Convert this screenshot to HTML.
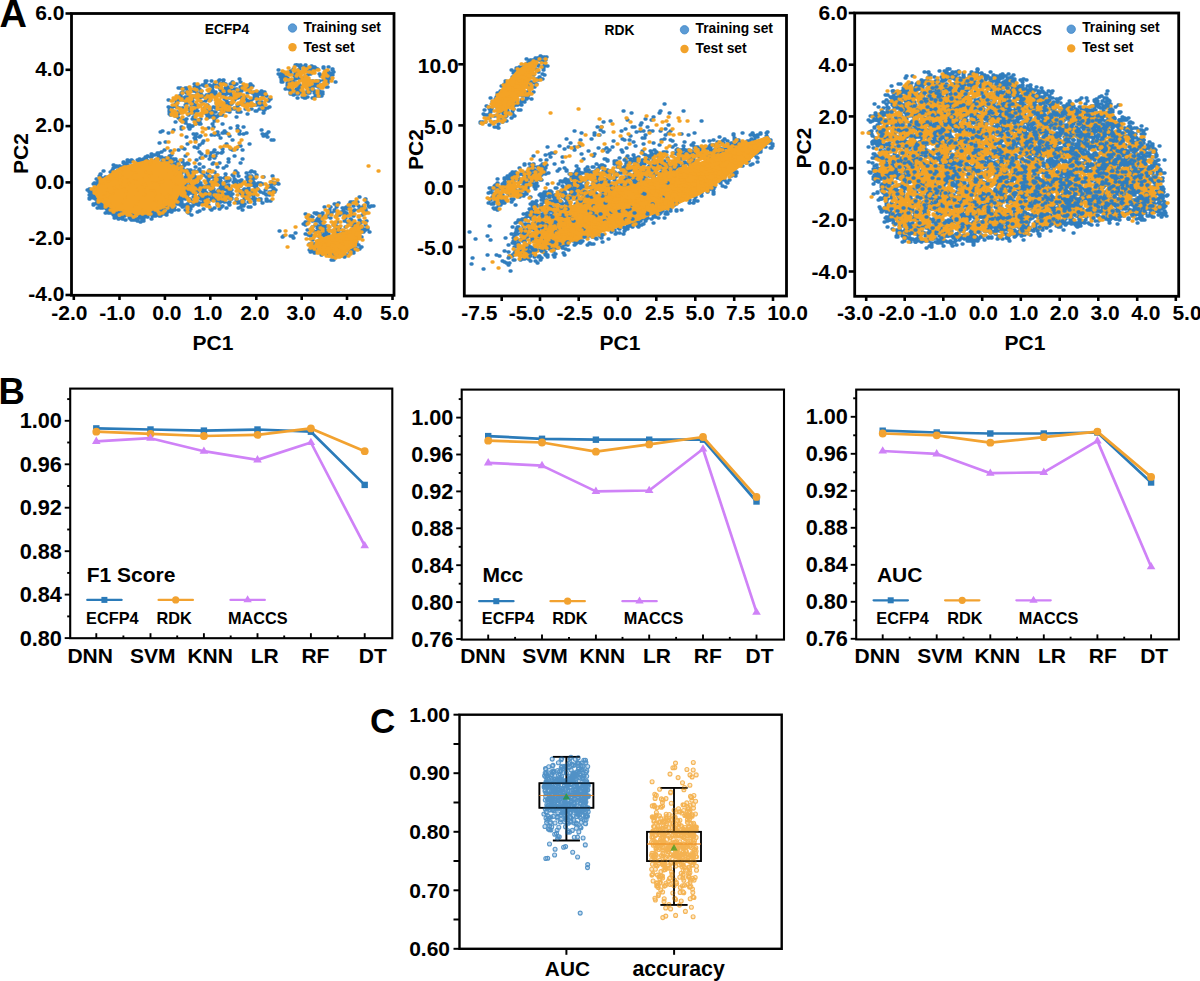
<!DOCTYPE html>
<html><head><meta charset="utf-8"><style>
html,body{margin:0;padding:0;background:#fff;width:1200px;height:981px;overflow:hidden}
svg{display:block}
text{font-family:"Liberation Sans", sans-serif;font-weight:bold;fill:#000}
</style></head><body>
<svg width="1200" height="981" viewBox="0 0 1200 981">
<text x="-0.5" y="26.5" font-size="38" text-anchor="start">A</text>
<clipPath id="ca1"><rect x="72.7" y="14.7" width="320.1" height="279.40000000000003"/></clipPath>
<g clip-path="url(#ca1)">
<path d="M120 185h1.1M153 207h1.1M121 196h1.1M162 161h1.1M164 194h1.1M136 200h1.1M121 193h1.1M143 207h1.1M168 201h1.1M134 220h1.1M161 209h1.1M165 179h1.1M175 192h1.1M123 214h1.1M164 183h1.1M135 166h1.1M95 195h1.1M123 172h1.1M126 175h1.1M129 180h1.1M122 214h1.1M162 176h1.1M122 167h1.1M120 196h1.1M167 167h1.1M113 183h1.1M168 198h1.1M136 198h1.1M110 203h1.1M137 221h1.1M153 194h1.1M120 200h1.1M164 167h1.1M176 194h1.1M89 199h1.1M173 193h1.1M118 182h1.1M139 201h1.1M169 156h1.1M184 179h1.1M121 187h1.1M188 192h1.1M171 159h1.1M109 184h1.1M120 210h1.1M107 200h1.1M119 192h1.1M122 219h1.1M141 168h1.1M153 214h1.1M120 176h1.1M166 168h1.1M116 166h1.1M166 199h1.1M124 166h1.1M145 212h1.1M180 191h1.1M96 183h1.1M108 206h1.1M141 193h1.1M119 210h1.1M176 183h1.1M115 167h1.1M160 185h1.1M146 193h1.1M171 202h1.1M167 192h1.1M139 159h1.1M146 160h1.1M130 192h1.1M137 165h1.1M92 193h1.1M185 199h1.1M180 178h1.1M112 182h1.1M172 206h1.1M168 178h1.1M131 167h1.1M130 173h1.1M140 164h1.1M102 179h1.1M107 211h1.1M94 197h1.1M149 171h1.1M97 193h1.1M104 195h1.1M144 178h1.1M166 172h1.1M110 213h1.1M149 201h1.1M153 193h1.1M148 172h1.1M128 196h1.1M151 170h1.1M170 196h1.1M116 200h1.1M187 174h1.1M143 216h1.1M116 204h1.1M175 203h1.1M116 213h1.1M109 183h1.1M157 188h1.1M168 184h1.1M142 161h1.1M181 185h1.1M111 183h1.1M144 180h1.1M176 184h1.1M153 208h1.1M137 213h1.1M108 208h1.1M157 207h1.1M108 211h1.1M162 213h1.1M119 166h1.1M131 206h1.1M144 214h1.1M104 201h1.1M151 194h1.1M169 194h1.1M122 216h1.1M111 197h1.1M162 203h1.1M141 178h1.1M176 197h1.1M178 210h1.1M146 205h1.1M119 167h1.1M148 213h1.1M131 182h1.1M174 180h1.1M132 206h1.1M109 186h1.1M148 203h1.1M163 159h1.1M105 204h1.1M144 216h1.1M147 180h1.1M146 157h1.1M122 197h1.1M148 198h1.1M132 213h1.1M136 212h1.1M119 176h1.1M134 168h1.1M171 209h1.1M140 171h1.1M158 165h1.1M133 176h1.1M136 209h1.1M134 215h1.1M111 175h1.1M135 178h1.1M128 203h1.1M143 219h1.1M114 211h1.1M162 187h1.1M134 205h1.1M137 169h1.1M170 196h1.1M131 178h1.1M119 194h1.1M100 201h1.1M104 178h1.1M170 197h1.1M102 205h1.1M177 183h1.1M96 184h1.1M140 194h1.1M188 189h1.1M133 194h1.1M161 209h1.1M110 172h1.1M159 167h1.1M138 174h1.1M186 182h1.1M105 213h1.1M135 176h1.1M119 167h1.1M138 212h1.1M159 216h1.1M118 212h1.1M123 185h1.1M105 202h1.1M154 194h1.1M115 193h1.1M123 163h1.1M143 164h1.1M119 198h1.1M126 199h1.1M178 196h1.1M171 209h1.1M135 195h1.1M101 206h1.1M105 194h1.1M89 195h1.1M164 193h1.1M139 207h1.1M169 203h1.1M162 181h1.1M137 214h1.1M122 168h1.1M138 206h1.1M139 166h1.1M169 170h1.1M131 200h1.1M189 173h1.1M168 184h1.1M111 190h1.1M101 191h1.1M102 188h1.1M132 185h1.1M117 187h1.1M159 195h1.1M191 191h1.1M102 183h1.1M105 201h1.1M143 213h1.1M139 188h1.1M156 195h1.1M128 206h1.1M157 160h1.1M167 162h1.1M157 212h1.1M121 212h1.1M135 198h1.1M108 177h1.1M175 176h1.1M120 186h1.1M185 184h1.1M122 183h1.1M154 201h1.1M111 200h1.1M130 190h1.1M118 179h1.1M167 168h1.1M141 209h1.1M186 198h1.1M191 193h1.1M156 205h1.1M135 202h1.1M166 213h1.1M103 192h1.1M157 202h1.1M124 213h1.1M150 198h1.1M115 213h1.1M173 208h1.1M153 188h1.1M188 187h1.1M101 188h1.1M120 212h1.1M123 162h1.1M142 220h1.1M174 178h1.1M129 213h1.1M146 184h1.1M169 202h1.1M165 207h1.1M115 198h1.1M151 204h1.1M179 197h1.1M148 212h1.1M174 191h1.1M143 162h1.1M169 211h1.1M107 208h1.1M124 187h1.1M125 220h1.1M170 190h1.1M123 197h1.1M110 187h1.1M140 189h1.1M137 197h1.1M160 192h1.1M128 209h1.1M138 192h1.1M163 159h1.1M110 203h1.1M138 177h1.1M141 202h1.1M136 210h1.1M147 175h1.1M113 210h1.1M113 211h1.1M175 164h1.1M148 178h1.1M137 214h1.1M152 190h1.1M139 207h1.1M170 180h1.1M115 192h1.1M134 185h1.1M102 206h1.1M146 205h1.1M167 190h1.1M153 198h1.1M173 204h1.1M100 201h1.1M150 206h1.1M140 214h1.1M165 175h1.1M141 189h1.1M158 215h1.1M110 213h1.1M108 196h1.1M164 169h1.1M145 174h1.1M185 192h1.1M111 203h1.1M154 201h1.1M153 162h1.1M152 185h1.1M140 165h1.1M118 214h1.1M127 210h1.1M179 190h1.1M125 202h1.1M128 188h1.1M190 176h1.1M181 183h1.1M118 183h1.1M109 198h1.1M182 184h1.1M113 202h1.1M186 181h1.1M123 186h1.1M114 209h1.1M161 208h1.1M117 203h1.1M129 206h1.1M139 206h1.1M179 186h1.1M117 177h1.1M117 175h1.1M121 187h1.1M150 157h1.1M145 188h1.1M125 188h1.1M155 215h1.1M166 197h1.1M124 213h1.1M174 179h1.1M126 174h1.1M118 170h1.1M113 201h1.1M139 187h1.1M159 206h1.1M133 197h1.1M193 182h1.1M145 193h1.1M154 192h1.1M179 194h1.1M97 191h1.1M141 205h1.1M164 191h1.1M153 187h1.1M143 187h1.1M142 173h1.1M102 186h1.1M119 204h1.1M161 193h1.1M189 173h1.1M183 193h1.1M142 177h1.1M135 179h1.1M156 191h1.1M183 196h1.1M164 208h1.1M142 165h1.1M124 192h1.1M114 207h1.1M189 199h1.1M120 187h1.1M190 201h1.1M175 193h1.1M147 156h1.1M173 182h1.1M185 164h1.1M132 215h1.1M179 177h1.1M138 202h1.1M107 207h1.1M183 195h1.1M176 188h1.1M151 206h1.1M162 214h1.1M142 193h1.1M154 214h1.1M138 173h1.1M119 186h1.1M101 189h1.1M187 195h1.1M171 207h1.1M167 159h1.1M164 201h1.1M92 196h1.1M137 163h1.1M127 179h1.1M101 192h1.1M117 182h1.1M160 199h1.1M152 206h1.1M97 208h1.1M140 216h1.1M145 157h1.1M187 186h1.1M151 181h1.1M153 162h1.1M127 173h1.1M113 210h1.1M178 200h1.1M167 203h1.1M129 174h1.1M189 188h1.1M160 177h1.1M155 206h1.1M188 188h1.1M131 197h1.1M136 178h1.1M172 210h1.1M114 212h1.1M180 201h1.1M130 201h1.1M147 161h1.1M163 194h1.1M164 190h1.1M177 187h1.1M165 197h1.1M161 196h1.1M167 208h1.1M169 171h1.1M100 184h1.1M179 175h1.1M154 216h1.1M145 166h1.1M118 173h1.1M121 180h1.1M115 174h1.1M125 174h1.1M155 194h1.1M118 219h1.1M111 207h1.1M102 184h1.1M111 184h1.1M108 213h1.1M165 171h1.1M148 208h1.1M143 165h1.1M154 209h1.1M145 192h1.1M103 203h1.1M114 218h1.1M164 167h1.1M124 216h1.1M155 196h1.1M173 194h1.1M182 199h1.1M131 220h1.1M173 190h1.1M119 198h1.1M153 177h1.1M141 170h1.1M173 195h1.1M121 194h1.1M109 210h1.1M117 174h1.1M128 210h1.1M184 165h1.1M112 199h1.1M130 171h1.1M176 175h1.1M115 204h1.1M141 208h1.1M168 173h1.1M115 209h1.1M173 173h1.1M163 196h1.1M166 176h1.1M101 187h1.1M131 213h1.1M177 174h1.1M134 215h1.1M136 180h1.1M184 180h1.1M177 196h1.1M132 172h1.1M162 167h1.1M135 194h1.1M175 159h1.1M154 176h1.1M110 196h1.1M160 216h1.1M151 193h1.1M154 170h1.1M138 214h1.1M103 196h1.1M127 202h1.1M176 199h1.1M128 215h1.1M161 180h1.1M142 183h1.1M102 208h1.1M154 192h1.1M162 182h1.1M103 204h1.1M149 170h1.1M105 196h1.1M130 211h1.1M137 170h1.1M149 208h1.1M127 179h1.1M163 194h1.1M97 197h1.1M116 198h1.1M160 195h1.1M110 189h1.1M124 188h1.1M154 196h1.1M119 200h1.1M106 188h1.1M165 183h1.1M147 209h1.1M136 209h1.1M183 196h1.1M158 158h1.1M186 205h1.1M163 195h1.1M147 207h1.1M188 180h1.1M140 198h1.1M112 184h1.1M102 192h1.1M117 209h1.1M132 184h1.1M160 186h1.1M165 158h1.1M109 177h1.1M156 163h1.1M178 165h1.1M163 214h1.1M93 184h1.1M123 172h1.1M137 187h1.1M149 185h1.1M168 206h1.1M155 205h1.1M185 177h1.1M142 161h1.1M165 198h1.1M182 169h1.1M140 180h1.1M139 161h1.1M141 176h1.1M169 168h1.1M114 204h1.1M160 183h1.1M145 212h1.1M129 173h1.1M134 214h1.1M114 211h1.1M108 184h1.1M121 181h1.1M126 169h1.1M107 199h1.1M115 167h1.1M120 197h1.1M108 184h1.1M160 205h1.1M93 204h1.1M156 209h1.1M111 197h1.1M166 215h1.1M102 183h1.1M154 155h1.1M109 208h1.1M184 198h1.1M87 190h1.1M140 222h1.1M125 200h1.1M137 208h1.1M127 174h1.1M158 166h1.1M158 156h1.1M181 203h1.1M129 209h1.1M97 187h1.1M139 215h1.1M165 195h1.1M143 173h1.1M136 171h1.1M166 208h1.1M148 168h1.1M124 206h1.1M175 195h1.1M99 205h1.1M150 214h1.1M115 179h1.1M141 188h1.1M131 216h1.1M182 197h1.1M148 192h1.1M119 203h1.1M159 210h1.1M135 195h1.1M165 200h1.1M160 207h1.1M127 160h1.1M176 166h1.1M144 199h1.1M165 161h1.1M142 177h1.1M142 194h1.1M151 154h1.1M94 183h1.1M155 173h1.1M136 211h1.1M185 191h1.1M139 209h1.1M97 201h1.1M166 202h1.1M148 207h1.1M160 205h1.1M145 188h1.1M178 199h1.1M136 212h1.1M159 191h1.1M153 187h1.1M161 205h1.1M130 219h1.1M171 191h1.1M136 186h1.1M188 178h1.1M132 207h1.1M99 179h1.1M143 218h1.1M145 216h1.1M116 205h1.1M161 180h1.1M152 194h1.1M169 184h1.1M189 201h1.1M180 205h1.1M184 205h1.1M96 179h1.1M113 168h1.1M121 171h1.1M134 202h1.1M95 199h1.1M152 162h1.1M120 168h1.1M121 213h1.1M116 200h1.1M142 200h1.1M132 161h1.1M149 179h1.1M157 207h1.1M139 186h1.1M177 204h1.1M126 210h1.1M159 185h1.1M134 185h1.1M135 175h1.1M121 211h1.1M174 191h1.1M131 187h1.1M137 190h1.1M183 166h1.1M170 206h1.1M170 202h1.1M170 200h1.1M110 176h1.1M93 198h1.1M122 184h1.1M147 176h1.1M175 165h1.1M109 211h1.1M111 209h1.1M171 159h1.1M114 216h1.1M147 217h1.1M152 216h1.1M116 203h1.1M155 199h1.1M107 208h1.1M193 192h1.1M142 167h1.1M162 201h1.1M182 162h1.1M116 184h1.1M112 170h1.1M137 213h1.1M115 203h1.1M181 181h1.1M120 200h1.1M144 217h1.1M150 188h1.1M124 210h1.1M105 180h1.1M98 187h1.1M180 174h1.1M96 203h1.1M131 174h1.1M93 193h1.1M117 185h1.1M156 214h1.1M121 207h1.1M101 192h1.1M107 193h1.1M145 162h1.1M137 164h1.1M172 163h1.1M144 200h1.1M182 184h1.1M153 215h1.1M181 173h1.1M178 204h1.1M171 199h1.1M131 184h1.1M163 190h1.1M162 212h1.1M152 212h1.1M170 201h1.1M118 192h1.1M104 193h1.1M179 179h1.1M151 214h1.1M151 162h1.1M154 175h1.1M181 195h1.1M97 187h1.1M121 168h1.1M153 178h1.1M165 179h1.1M111 180h1.1M92 192h1.1M118 198h1.1M116 217h1.1M137 194h1.1M180 197h1.1M113 191h1.1M128 182h1.1M131 177h1.1M89 198h1.1M137 210h1.1M103 203h1.1M129 201h1.1M179 179h1.1M101 188h1.1M136 171h1.1M106 187h1.1M173 160h1.1M116 211h1.1M169 196h1.1M100 177h1.1M141 178h1.1M133 188h1.1M132 214h1.1M168 190h1.1M150 200h1.1M131 205h1.1M126 166h1.1M89 189h1.1M178 199h1.1M151 170h1.1M168 193h1.1M122 203h1.1M120 183h1.1M118 172h1.1M106 209h1.1M184 192h1.1M100 208h1.1M160 175h1.1M98 201h1.1M190 200h1.1M166 208h1.1M151 219h1.1M116 213h1.1M142 202h1.1M91 190h1.1M124 178h1.1M168 161h1.1M150 197h1.1M151 157h1.1M174 207h1.1M141 218h1.1M162 161h1.1M124 188h1.1M159 174h1.1M187 198h1.1M169 210h1.1M130 215h1.1M146 201h1.1M154 211h1.1M140 184h1.1M175 166h1.1M140 187h1.1M132 220h1.1M154 168h1.1M144 167h1.1M90 196h1.1M149 209h1.1M131 160h1.1M120 218h1.1M153 174h1.1M123 177h1.1M151 209h1.1M128 215h1.1M153 174h1.1M169 157h1.1M136 198h1.1M133 205h1.1M138 205h1.1M167 168h1.1M188 186h1.1M97 190h1.1M132 209h1.1M162 192h1.1M103 171h1.1M119 214h1.1M185 205h1.1M105 200h1.1M105 177h1.1M164 167h1.1M123 174h1.1M194 182h1.1M111 202h1.1M127 168h1.1M160 172h1.1M174 210h1.1M163 175h1.1M115 204h1.1M143 221h1.1M190 185h1.1M181 179h1.1M114 197h1.1M187 186h1.1M100 174h1.1M99 176h1.1M181 179h1.1M121 207h1.1M135 218h1.1M116 214h1.1M121 184h1.1M178 197h1.1M98 200h1.1M120 177h1.1M148 208h1.1M159 187h1.1M155 212h1.1M136 190h1.1M168 163h1.1M173 159h1.1M142 174h1.1M134 195h1.1M116 187h1.1M127 165h1.1M151 174h1.1M172 194h1.1M147 163h1.1M123 200h1.1M180 181h1.1M187 180h1.1M102 182h1.1M185 180h1.1M167 194h1.1M167 212h1.1M89 192h1.1M189 182h1.1M184 182h1.1M174 176h1.1M92 196h1.1M140 218h1.1M97 204h1.1M152 170h1.1M187 177h1.1M168 200h1.1M148 202h1.1M181 192h1.1M121 177h1.1M166 177h1.1M127 183h1.1M153 171h1.1M104 192h1.1M182 190h1.1M172 176h1.1M133 203h1.1M178 202h1.1M150 174h1.1M177 163h1.1M142 180h1.1M176 200h1.1M152 189h1.1M152 211h1.1M120 209h1.1M139 209h1.1M146 162h1.1M164 207h1.1M115 177h1.1M89 191h1.1M134 191h1.1M150 211h1.1M176 180h1.1M178 197h1.1M100 203h1.1M174 207h1.1M186 197h1.1M161 157h1.1M98 185h1.1M187 188h1.1M144 169h1.1M172 198h1.1M147 189h1.1M149 179h1.1M105 202h1.1M137 213h1.1M160 203h1.1M178 193h1.1M162 184h1.1M138 200h1.1M91 192h1.1M93 194h1.1M140 205h1.1M151 205h1.1M131 194h1.1M114 173h1.1M124 183h1.1M151 205h1.1M145 214h1.1M142 186h1.1M137 167h1.1M142 197h1.1M118 196h1.1M161 163h1.1M150 183h1.1M149 196h1.1M116 195h1.1M122 176h1.1M109 194h1.1M121 189h1.1M156 196h1.1M178 204h1.1M95 184h1.1M188 193h1.1M165 198h1.1M95 188h1.1M178 181h1.1M116 208h1.1M127 180h1.1M113 194h1.1M111 176h1.1M119 187h1.1M111 212h1.1M122 205h1.1M103 206h1.1M175 190h1.1M147 189h1.1M98 188h1.1M115 183h1.1M123 188h1.1M136 176h1.1M91 196h1.1M158 191h1.1M127 186h1.1M101 203h1.1M144 173h1.1M150 194h1.1M152 203h1.1M110 195h1.1M130 209h1.1M163 197h1.1M154 162h1.1M102 185h1.1M116 194h1.1M116 210h1.1M160 187h1.1M175 179h1.1M162 210h1.1M124 201h1.1M196 188h1.1M123 192h1.1M126 163h1.1M123 183h1.1M98 181h1.1M124 197h1.1M171 159h1.1M134 182h1.1M174 207h1.1M103 198h1.1M148 214h1.1M181 202h1.1M159 205h1.1M114 206h1.1M145 201h1.1M165 192h1.1M137 160h1.1M99 187h1.1M173 201h1.1M112 199h1.1M108 182h1.1M114 187h1.1M156 175h1.1M163 169h1.1M114 209h1.1M148 205h1.1M122 168h1.1M93 205h1.1M185 183h1.1M177 196h1.1M155 186h1.1M138 209h1.1M137 219h1.1M116 205h1.1M192 186h1.1M171 212h1.1M126 213h1.1M130 162h1.1M150 175h1.1M163 195h1.1M182 207h1.1M193 192h1.1M145 198h1.1M105 195h1.1M179 176h1.1M153 209h1.1M139 217h1.1M161 211h1.1M94 198h1.1M141 193h1.1M129 218h1.1M135 206h1.1M116 210h1.1M107 210h1.1M146 207h1.1M147 188h1.1M147 169h1.1M113 215h1.1M175 189h1.1M143 159h1.1M174 173h1.1M179 181h1.1M103 180h1.1M136 168h1.1M125 207h1.1M170 208h1.1M149 191h1.1M126 192h1.1M145 183h1.1M117 188h1.1M142 183h1.1M113 180h1.1M113 165h1.1M122 189h1.1M104 180h1.1M142 172h1.1M122 181h1.1M148 201h1.1M117 186h1.1M149 180h1.1M122 169h1.1M188 175h1.1M110 208h1.1M154 165h1.1M119 208h1.1M124 169h1.1M165 175h1.1M161 178h1.1M183 187h1.1M129 186h1.1M128 183h1.1M128 210h1.1M156 165h1.1M152 181h1.1M157 209h1.1M158 159h1.1M141 171h1.1M174 191h1.1M138 180h1.1M155 216h1.1M166 183h1.1M89 195h1.1M130 215h1.1M106 200h1.1M112 195h1.1M125 176h1.1M100 194h1.1M129 207h1.1M175 197h1.1M156 182h1.1M129 209h1.1M168 182h1.1M138 178h1.1M170 167h1.1M189 171h1.1M103 195h1.1M129 194h1.1M140 211h1.1M169 179h1.1M157 195h1.1M230 191h1.1M269 192h1.1M199 204h1.1M219 209h1.1M253 185h1.1M234 179h1.1M192 187h1.1M236 202h1.1M198 180h1.1M184 182h1.1M203 175h1.1M225 195h1.1M225 189h1.1M256 175h1.1M204 191h1.1M228 181h1.1M187 189h1.1M197 185h1.1M203 193h1.1M210 194h1.1M214 200h1.1M242 202h1.1M199 211h1.1M248 207h1.1M191 215h1.1M244 204h1.1M236 181h1.1M228 185h1.1M216 184h1.1M188 173h1.1M271 182h1.1M189 193h1.1M252 185h1.1M189 209h1.1M252 180h1.1M221 201h1.1M197 192h1.1M251 191h1.1M268 187h1.1M215 184h1.1M240 184h1.1M260 183h1.1M260 199h1.1M190 182h1.1M223 201h1.1M252 178h1.1M207 205h1.1M217 178h1.1M215 197h1.1M225 182h1.1M270 201h1.1M212 191h1.1M246 173h1.1M238 208h1.1M242 210h1.1M206 186h1.1M207 184h1.1M238 190h1.1M256 184h1.1M203 209h1.1M241 204h1.1M193 179h1.1M211 200h1.1M197 212h1.1M251 171h1.1M211 177h1.1M241 180h1.1M209 184h1.1M260 200h1.1M196 185h1.1M248 189h1.1M179 171h1.1M241 201h1.1M245 196h1.1M250 207h1.1M220 202h1.1M200 199h1.1M202 192h1.1M194 195h1.1M205 197h1.1M218 191h1.1M253 196h1.1M198 205h1.1M220 187h1.1M226 190h1.1M223 185h1.1M247 180h1.1M188 187h1.1M187 212h1.1M229 198h1.1M249 176h1.1M219 193h1.1M274 183h1.1M254 201h1.1M192 190h1.1M260 192h1.1M224 178h1.1M257 189h1.1M258 190h1.1M222 190h1.1M210 190h1.1M272 176h1.1M201 189h1.1M208 196h1.1M263 177h1.1M206 195h1.1M221 188h1.1M212 186h1.1M189 190h1.1M243 201h1.1M241 183h1.1M188 193h1.1M215 179h1.1M245 193h1.1M201 172h1.1M193 197h1.1M213 181h1.1M194 204h1.1M186 174h1.1M187 207h1.1M217 178h1.1M195 178h1.1M220 202h1.1M188 206h1.1M214 181h1.1M214 208h1.1M187 204h1.1M228 192h1.1M249 195h1.1M225 194h1.1M212 193h1.1M183 170h1.1M194 202h1.1M247 180h1.1M189 211h1.1M272 191h1.1M212 190h1.1M200 186h1.1M185 181h1.1M255 185h1.1M240 192h1.1M258 183h1.1M252 184h1.1M251 176h1.1M208 179h1.1M187 205h1.1M186 171h1.1M271 182h1.1M213 177h1.1M191 188h1.1M265 194h1.1M235 182h1.1M217 183h1.1M271 187h1.1M232 194h1.1M191 188h1.1M205 195h1.1M262 203h1.1M210 186h1.1M182 183h1.1M245 191h1.1M234 183h1.1M193 185h1.1M193 186h1.1M185 206h1.1M251 185h1.1M243 190h1.1M231 190h1.1M266 195h1.1M219 178h1.1M247 192h1.1M221 184h1.1M222 206h1.1M248 178h1.1M256 188h1.1M217 182h1.1M254 186h1.1M237 203h1.1M238 187h1.1M231 199h1.1M255 189h1.1M189 177h1.1M206 204h1.1M194 171h1.1M243 206h1.1M229 179h1.1M211 198h1.1M200 197h1.1M231 198h1.1M195 202h1.1M194 191h1.1M192 192h1.1M210 209h1.1M220 178h1.1M211 193h1.1M270 185h1.1M190 170h1.1M238 202h1.1M217 200h1.1M246 177h1.1M277 183h1.1M274 192h1.1M217 202h1.1M221 186h1.1M236 184h1.1M187 191h1.1M274 184h1.1M205 188h1.1M237 173h1.1M203 203h1.1M206 205h1.1M190 209h1.1M187 171h1.1M256 188h1.1M219 191h1.1M196 201h1.1M255 178h1.1M182 171h1.1M202 188h1.1M215 197h1.1M203 192h1.1M253 182h1.1M231 198h1.1M225 177h1.1M240 207h1.1M240 193h1.1M248 176h1.1M225 174h1.1M187 170h1.1M248 195h1.1M267 201h1.1M254 204h1.1M189 173h1.1M195 188h1.1M209 187h1.1M241 183h1.1M273 188h1.1M206 193h1.1M278 184h1.1M203 202h1.1M228 190h1.1M233 182h1.1M198 178h1.1M241 183h1.1M214 192h1.1M223 187h1.1M217 205h1.1M219 180h1.1M275 190h1.1M216 175h1.1M253 199h1.1M254 172h1.1M228 203h1.1M190 187h1.1M211 210h1.1M214 172h1.1M199 203h1.1M213 189h1.1M253 198h1.1M193 173h1.1M199 196h1.1M232 175h1.1M246 193h1.1M221 198h1.1M226 196h1.1M185 210h1.1M228 186h1.1M255 199h1.1M204 195h1.1M191 189h1.1M239 181h1.1M254 201h1.1M244 189h1.1M240 186h1.1M222 200h1.1M193 175h1.1M207 200h1.1M218 190h1.1M192 206h1.1M217 179h1.1M216 178h1.1M275 183h1.1M204 191h1.1M206 177h1.1M220 191h1.1M266 201h1.1M263 193h1.1M212 188h1.1M205 192h1.1M228 194h1.1M265 190h1.1M195 189h1.1M213 195h1.1M220 195h1.1M269 195h1.1M248 202h1.1M238 176h1.1M195 190h1.1M207 181h1.1M217 204h1.1M221 201h1.1M236 199h1.1M229 205h1.1M194 190h1.1M190 206h1.1M221 194h1.1M262 184h1.1M229 180h1.1M236 201h1.1M208 180h1.1M224 202h1.1M195 177h1.1M203 175h1.1M227 198h1.1M186 188h1.1M186 173h1.1M184 180h1.1M192 202h1.1M227 181h1.1M266 199h1.1M244 197h1.1M213 189h1.1M199 204h1.1M225 188h1.1M194 187h1.1M247 184h1.1M225 186h1.1M191 189h1.1M237 202h1.1M242 183h1.1M230 189h1.1M248 188h1.1M197 189h1.1M245 194h1.1M198 171h1.1M240 192h1.1M229 202h1.1M241 194h1.1M208 205h1.1M244 199h1.1M220 181h1.1M202 199h1.1M200 183h1.1M184 188h1.1M188 213h1.1M240 191h1.1M202 186h1.1M230 196h1.1M218 205h1.1M196 204h1.1M223 195h1.1M249 199h1.1M208 184h1.1M193 175h1.1M199 169h1.1M207 173h1.1M255 189h1.1M250 172h1.1M223 168h1.1M221 207h1.1M203 189h1.1M209 176h1.1M186 178h1.1M226 208h1.1M252 193h1.1M195 204h1.1M235 171h1.1M200 187h1.1M248 183h1.1M188 188h1.1M216 192h1.1M195 204h1.1M233 176h1.1M203 199h1.1M224 199h1.1M185 191h1.1M256 185h1.1M259 199h1.1M206 197h1.1M247 192h1.1M193 104h1.1M190 127h1.1M210 93h1.1M206 81h1.1M240 82h1.1M189 125h1.1M269 99h1.1M230 84h1.1M207 113h1.1M260 105h1.1M219 109h1.1M188 96h1.1M231 109h1.1M177 115h1.1M250 101h1.1M211 91h1.1M229 105h1.1M186 101h1.1M193 104h1.1M212 90h1.1M211 86h1.1M252 86h1.1M237 112h1.1M207 106h1.1M187 91h1.1M179 108h1.1M182 92h1.1M189 102h1.1M175 116h1.1M201 102h1.1M228 92h1.1M201 97h1.1M190 101h1.1M214 117h1.1M262 95h1.1M180 120h1.1M248 102h1.1M264 92h1.1M222 115h1.1M202 85h1.1M237 92h1.1M237 107h1.1M246 104h1.1M214 119h1.1M200 93h1.1M201 95h1.1M254 98h1.1M204 108h1.1M215 92h1.1M250 104h1.1M194 105h1.1M236 89h1.1M222 83h1.1M227 87h1.1M223 109h1.1M248 101h1.1M178 88h1.1M176 107h1.1M220 94h1.1M264 108h1.1M234 108h1.1M177 115h1.1M214 116h1.1M186 119h1.1M187 93h1.1M227 91h1.1M222 110h1.1M190 101h1.1M261 93h1.1M239 92h1.1M188 108h1.1M188 115h1.1M227 93h1.1M182 98h1.1M234 109h1.1M264 110h1.1M231 96h1.1M219 114h1.1M204 112h1.1M226 111h1.1M218 109h1.1M228 88h1.1M172 107h1.1M256 111h1.1M210 109h1.1M218 105h1.1M250 86h1.1M196 87h1.1M229 112h1.1M247 106h1.1M193 112h1.1M211 111h1.1M175 104h1.1M213 107h1.1M232 82h1.1M183 120h1.1M261 93h1.1M171 112h1.1M256 105h1.1M181 127h1.1M249 103h1.1M240 104h1.1M215 112h1.1M263 113h1.1M248 88h1.1M259 105h1.1M219 95h1.1M185 105h1.1M224 99h1.1M197 97h1.1M169 110h1.1M220 115h1.1M196 92h1.1M204 86h1.1M205 81h1.1M255 97h1.1M195 110h1.1M262 98h1.1M255 111h1.1M225 88h1.1M251 109h1.1M177 100h1.1M217 106h1.1M199 122h1.1M225 109h1.1M228 106h1.1M196 97h1.1M229 98h1.1M175 113h1.1M236 84h1.1M224 104h1.1M170 114h1.1M216 117h1.1M243 86h1.1M245 109h1.1M218 95h1.1M216 103h1.1M197 111h1.1M191 105h1.1M209 85h1.1M258 102h1.1M257 98h1.1M219 109h1.1M237 105h1.1M215 108h1.1M268 101h1.1M261 102h1.1M238 111h1.1M231 104h1.1M246 100h1.1M179 100h1.1M198 98h1.1M221 90h1.1M171 110h1.1M234 100h1.1M193 91h1.1M252 93h1.1M188 114h1.1M182 108h1.1M225 90h1.1M215 95h1.1M201 91h1.1M170 114h1.1M200 119h1.1M194 87h1.1M188 93h1.1M181 94h1.1M237 98h1.1M240 90h1.1M218 108h1.1M217 86h1.1M188 126h1.1M185 97h1.1M232 102h1.1M169 112h1.1M173 113h1.1M220 115h1.1M179 96h1.1M204 109h1.1M207 116h1.1M176 101h1.1M236 94h1.1M261 91h1.1M266 96h1.1M214 112h1.1M225 108h1.1M238 112h1.1M209 94h1.1M169 114h1.1M207 118h1.1M247 89h1.1M249 85h1.1M196 108h1.1M177 112h1.1M211 81h1.1M168 107h1.1M186 88h1.1M214 84h1.1M253 93h1.1M186 104h1.1M245 97h1.1M241 91h1.1M234 89h1.1M240 112h1.1M181 94h1.1M186 103h1.1M241 98h1.1M199 122h1.1M256 105h1.1M194 117h1.1M234 85h1.1M226 94h1.1M259 109h1.1M226 101h1.1M209 117h1.1M212 115h1.1M257 95h1.1M254 96h1.1M225 85h1.1M199 89h1.1M183 100h1.1M218 81h1.1M242 103h1.1M252 99h1.1M267 108h1.1M180 97h1.1M251 104h1.1M247 103h1.1M225 84h1.1M230 90h1.1M199 98h1.1M195 123h1.1M193 119h1.1M244 97h1.1M171 113h1.1M186 103h1.1M195 111h1.1M250 92h1.1M240 87h1.1M181 112h1.1M218 108h1.1M219 88h1.1M253 105h1.1M209 96h1.1M190 113h1.1M242 89h1.1M212 87h1.1M205 83h1.1M257 102h1.1M195 96h1.1M206 114h1.1M219 84h1.1M224 97h1.1M211 93h1.1M204 97h1.1M262 104h1.1M227 103h1.1M175 122h1.1M254 92h1.1M206 95h1.1M221 92h1.1M221 108h1.1M168 100h1.1M196 105h1.1M169 111h1.1M179 113h1.1M212 117h1.1M249 88h1.1M170 115h1.1M207 105h1.1M176 107h1.1M199 123h1.1M213 93h1.1M215 92h1.1M249 90h1.1M254 94h1.1M194 84h1.1M222 104h1.1M186 93h1.1M260 104h1.1M176 105h1.1M196 97h1.1M191 103h1.1M230 94h1.1M178 118h1.1M241 90h1.1M211 91h1.1M181 93h1.1M208 110h1.1M200 124h1.1M270 99h1.1M189 110h1.1M241 90h1.1M263 110h1.1M198 86h1.1M185 88h1.1M189 92h1.1M257 92h1.1M208 99h1.1M214 96h1.1M220 90h1.1M199 124h1.1M192 101h1.1M183 89h1.1M185 122h1.1M195 120h1.1M192 98h1.1M192 101h1.1M229 103h1.1M239 96h1.1M259 94h1.1M205 101h1.1M233 101h1.1M235 108h1.1M262 105h1.1M249 104h1.1M180 88h1.1M247 114h1.1M185 88h1.1M223 94h1.1M247 93h1.1M210 100h1.1M210 114h1.1M214 94h1.1M192 119h1.1M249 104h1.1M269 107h1.1M192 96h1.1M230 92h1.1M223 83h1.1M169 157h1.1M177 162h1.1M184 149h1.1M195 124h1.1M196 134h1.1M240 146h1.1M203 141h1.1M236 149h1.1M221 153h1.1M240 163h1.1M243 127h1.1M155 160h1.1M223 133h1.1M213 163h1.1M185 123h1.1M193 134h1.1M182 148h1.1M186 137h1.1M222 152h1.1M222 149h1.1M211 135h1.1M213 127h1.1M199 152h1.1M161 152h1.1M237 129h1.1M208 128h1.1M158 156h1.1M214 150h1.1M195 140h1.1M213 152h1.1M201 154h1.1M196 122h1.1M188 164h1.1M171 155h1.1M188 127h1.1M199 145h1.1M187 144h1.1M212 164h1.1M180 167h1.1M228 162h1.1M228 159h1.1M226 166h1.1M158 153h1.1M195 124h1.1M224 132h1.1M229 136h1.1M249 144h1.1M194 138h1.1M199 164h1.1M217 116h1.1M170 151h1.1M209 170h1.1M214 158h1.1M205 156h1.1M195 137h1.1M222 133h1.1M219 163h1.1M236 117h1.1M220 138h1.1M224 131h1.1M217 132h1.1M232 150h1.1M193 113h1.1M215 156h1.1M222 124h1.1M239 134h1.1M199 137h1.1M188 125h1.1M200 158h1.1M246 133h1.1M178 150h1.1M185 156h1.1M232 140h1.1M210 156h1.1M234 156h1.1M160 132h1.1M212 124h1.1M226 144h1.1M168 133h1.1M218 135h1.1M170 163h1.1M197 148h1.1M164 150h1.1M189 129h1.1M200 136h1.1M230 149h1.1M242 159h1.1M195 167h1.1M194 147h1.1M182 160h1.1M159 143h1.1M217 167h1.1M165 142h1.1M242 150h1.1M193 117h1.1M167 164h1.1M181 129h1.1M172 161h1.1M202 143h1.1M230 128h1.1M157 153h1.1M196 160h1.1M226 133h1.1M213 157h1.1M198 120h1.1M217 153h1.1M243 134h1.1M162 131h1.1M239 131h1.1M181 121h1.1M209 159h1.1M214 135h1.1M203 167h1.1M237 126h1.1M214 121h1.1M210 153h1.1M239 146h1.1M187 163h1.1M192 126h1.1M173 130h1.1M297 90h1.1M297 65h1.1M300 65h1.1M278 70h1.1M309 93h1.1M326 74h1.1M304 71h1.1M295 65h1.1M288 89h1.1M305 85h1.1M297 92h1.1M319 81h1.1M297 76h1.1M328 81h1.1M325 71h1.1M281 79h1.1M300 88h1.1M293 95h1.1M286 73h1.1M300 91h1.1M318 85h1.1M328 78h1.1M319 96h1.1M280 76h1.1M290 71h1.1M310 74h1.1M304 77h1.1M295 72h1.1M332 73h1.1M335 82h1.1M294 75h1.1M332 69h1.1M314 93h1.1M317 69h1.1M284 77h1.1M331 74h1.1M304 77h1.1M282 77h1.1M314 91h1.1M305 65h1.1M290 91h1.1M309 69h1.1M299 66h1.1M316 81h1.1M295 74h1.1M304 77h1.1M312 89h1.1M328 72h1.1M296 89h1.1M311 90h1.1M322 92h1.1M315 93h1.1M318 87h1.1M315 68h1.1M320 76h1.1M311 71h1.1M332 70h1.1M303 71h1.1M287 78h1.1M294 76h1.1M291 89h1.1M292 81h1.1M309 89h1.1M313 71h1.1M302 97h1.1M281 82h1.1M328 67h1.1M287 85h1.1M318 93h1.1M299 79h1.1M298 93h1.1M297 86h1.1M287 83h1.1M283 75h1.1M299 73h1.1M308 68h1.1M299 69h1.1M312 98h1.1M304 98h1.1M321 85h1.1M287 86h1.1M325 78h1.1M282 82h1.1M319 74h1.1M307 93h1.1M308 92h1.1M312 87h1.1M312 69h1.1M290 93h1.1M278 74h1.1M282 73h1.1M304 84h1.1M291 86h1.1M307 75h1.1M290 73h1.1M303 67h1.1M297 98h1.1M327 76h1.1M311 68h1.1M299 85h1.1M330 75h1.1M316 86h1.1M309 92h1.1M304 67h1.1M304 96h1.1M301 92h1.1M313 67h1.1M314 69h1.1M312 82h1.1M308 80h1.1M288 82h1.1M311 72h1.1M305 98h1.1M323 67h1.1M316 96h1.1M309 87h1.1M306 86h1.1M309 70h1.1M317 86h1.1M294 91h1.1M288 80h1.1M295 79h1.1M280 74h1.1M308 88h1.1M328 79h1.1M292 80h1.1M290 87h1.1M332 73h1.1M333 72h1.1M327 87h1.1M305 67h1.1M311 86h1.1M287 85h1.1M325 72h1.1M296 94h1.1M311 66h1.1M307 97h1.1M315 96h1.1M316 69h1.1M298 91h1.1M320 76h1.1M285 89h1.1M303 94h1.1M297 85h1.1M280 77h1.1M297 90h1.1M326 87h1.1M322 76h1.1M281 80h1.1M315 68h1.1M285 76h1.1M309 83h1.1M313 86h1.1M291 82h1.1M324 80h1.1M309 84h1.1M322 86h1.1M323 68h1.1M308 71h1.1M293 69h1.1M325 83h1.1M324 77h1.1M296 94h1.1M290 87h1.1M296 73h1.1M319 91h1.1M304 79h1.1M332 75h1.1M321 96h1.1M304 78h1.1M303 86h1.1M312 81h1.1M314 67h1.1M331 79h1.1M295 85h1.1M283 76h1.1M327 83h1.1M315 83h1.1M294 84h1.1M295 83h1.1M306 70h1.1M317 82h1.1M306 92h1.1M323 80h1.1M298 94h1.1M290 94h1.1M322 94h1.1M326 83h1.1M308 90h1.1M308 90h1.1M367 229h1.1M356 229h1.1M350 202h1.1M353 230h1.1M340 239h1.1M309 250h1.1M323 216h1.1M307 230h1.1M338 231h1.1M318 214h1.1M333 225h1.1M354 226h1.1M358 231h1.1M358 230h1.1M362 215h1.1M352 250h1.1M353 211h1.1M339 256h1.1M367 203h1.1M345 227h1.1M354 248h1.1M355 248h1.1M326 237h1.1M354 223h1.1M338 203h1.1M361 232h1.1M329 238h1.1M339 215h1.1M305 225h1.1M315 248h1.1M350 219h1.1M359 227h1.1M348 246h1.1M344 221h1.1M332 255h1.1M358 225h1.1M322 213h1.1M346 242h1.1M367 228h1.1M347 222h1.1M326 245h1.1M365 230h1.1M373 206h1.1M334 210h1.1M314 213h1.1M324 237h1.1M349 204h1.1M347 215h1.1M315 249h1.1M328 249h1.1M323 245h1.1M369 232h1.1M329 246h1.1M330 218h1.1M344 233h1.1M350 231h1.1M319 220h1.1M366 221h1.1M337 222h1.1M318 219h1.1M334 239h1.1M365 199h1.1M349 243h1.1M350 248h1.1M369 207h1.1M316 225h1.1M356 242h1.1M309 244h1.1M331 248h1.1M311 248h1.1M350 223h1.1M321 222h1.1M346 236h1.1M316 243h1.1M333 260h1.1M326 217h1.1M341 234h1.1M360 222h1.1M347 234h1.1M323 245h1.1M350 240h1.1M337 231h1.1M348 246h1.1M321 255h1.1M336 207h1.1M337 241h1.1M344 216h1.1M354 249h1.1M331 243h1.1M320 226h1.1M344 217h1.1M323 228h1.1M311 251h1.1M325 250h1.1M366 229h1.1M316 214h1.1M326 226h1.1M329 210h1.1M305 214h1.1M343 232h1.1M368 206h1.1M321 231h1.1M331 240h1.1M338 243h1.1M307 222h1.1M325 234h1.1M341 212h1.1M331 253h1.1M365 210h1.1M339 228h1.1M371 206h1.1M350 238h1.1M337 214h1.1M354 210h1.1M367 203h1.1M320 230h1.1M334 204h1.1M344 212h1.1M346 242h1.1M366 202h1.1M340 255h1.1M351 202h1.1M350 233h1.1M336 226h1.1M344 257h1.1M358 224h1.1M343 248h1.1M315 250h1.1M352 223h1.1M354 250h1.1M358 206h1.1M350 243h1.1M353 206h1.1M315 221h1.1M328 230h1.1M342 208h1.1M366 212h1.1M322 216h1.1M322 222h1.1M358 245h1.1M353 237h1.1M320 244h1.1M359 224h1.1M348 223h1.1M328 234h1.1M319 244h1.1M318 244h1.1M314 253h1.1M358 210h1.1M338 249h1.1M314 248h1.1M303 224h1.1M305 222h1.1M353 253h1.1M330 244h1.1M343 213h1.1M312 221h1.1M363 232h1.1M316 225h1.1M360 208h1.1M361 237h1.1M310 252h1.1M353 226h1.1M308 235h1.1M345 238h1.1M345 249h1.1M352 237h1.1M339 255h1.1M365 225h1.1M361 222h1.1M334 211h1.1M317 244h1.1M356 244h1.1M349 208h1.1M305 234h1.1M337 236h1.1M359 197h1.1M344 242h1.1M343 249h1.1M319 217h1.1M331 243h1.1M316 213h1.1M317 219h1.1M339 256h1.1M318 246h1.1M326 231h1.1M341 213h1.1M353 202h1.1M351 249h1.1M310 236h1.1M330 244h1.1M349 252h1.1M361 232h1.1M351 211h1.1M312 217h1.1M324 234h1.1M322 226h1.1M353 216h1.1M337 236h1.1M352 246h1.1M318 218h1.1M357 236h1.1M333 236h1.1M323 230h1.1M344 208h1.1M362 228h1.1M324 229h1.1M323 216h1.1M321 235h1.1M351 220h1.1M321 245h1.1M343 211h1.1M352 231h1.1M307 218h1.1M347 234h1.1M357 202h1.1M340 256h1.1M336 216h1.1M312 240h1.1M321 229h1.1M361 247h1.1M313 244h1.1M320 223h1.1M332 245h1.1M328 245h1.1M352 226h1.1M312 227h1.1M325 248h1.1M353 222h1.1M324 207h1.1M334 236h1.1M313 231h1.1M320 232h1.1M315 225h1.1M330 207h1.1M322 231h1.1M345 250h1.1M337 240h1.1M346 255h1.1M337 233h1.1M326 254h1.1M347 207h1.1M310 216h1.1M317 228h1.1M363 206h1.1M329 248h1.1M346 207h1.1M323 226h1.1M334 255h1.1M317 231h1.1M359 249h1.1M359 230h1.1M311 235h1.1M331 253h1.1M331 260h1.1M359 220h1.1M328 214h1.1M362 208h1.1M320 253h1.1M351 248h1.1M315 252h1.1M353 215h1.1M365 209h1.1M344 248h1.1M337 256h1.1M347 209h1.1M346 213h1.1M360 237h1.1M344 243h1.1M332 231h1.1M317 221h1.1M331 239h1.1M331 213h1.1M351 212h1.1M345 218h1.1M329 250h1.1M335 228h1.1M332 254h1.1M361 229h1.1M319 237h1.1M283 236h1.1M290 236h1.1M293 238h1.1M282 237h1.1M279 231h1.1M292 236h1.1M295 233h1.1M266 134h1.1M268 132h1.1M262 134h1.1M263 136h1.1M271 140h1.1M261 130h1.1M273 140h1.1M267 137h1.1M223 80h1.1M219 80h1.1M239 79h1.1M250 84h1.1" fill="none" stroke="#307dbd" stroke-width="3.3" stroke-linecap="round"/>
<path d="M92 191L103 178L120 167L146 160L168 162L180 172L183 188L176 202L157 210L135 214L113 210L99 201Z" fill="#f4a325"/>
<path d="M214 185h1.1M236 191h1.1M212 185h1.1M191 183h1.1M218 199h1.1M250 202h1.1M187 212h1.1M197 181h1.1M266 188h1.1M208 171h1.1M205 201h1.1M208 202h1.1M232 186h1.1M188 175h1.1M207 200h1.1M230 199h1.1M246 198h1.1M257 189h1.1M239 185h1.1M192 186h1.1M186 171h1.1M194 188h1.1M246 191h1.1M200 188h1.1M210 189h1.1M216 184h1.1M216 179h1.1M273 192h1.1M181 167h1.1M195 193h1.1M248 199h1.1M272 195h1.1M208 187h1.1M217 185h1.1M240 191h1.1M242 193h1.1M225 200h1.1M181 191h1.1M212 171h1.1M249 200h1.1M216 180h1.1M214 195h1.1M242 202h1.1M244 182h1.1M222 199h1.1M238 187h1.1M193 174h1.1M202 195h1.1M246 185h1.1M191 190h1.1M190 178h1.1M212 188h1.1M223 183h1.1M200 194h1.1M192 188h1.1M198 178h1.1M242 196h1.1M180 180h1.1M273 179h1.1M240 186h1.1M257 195h1.1M212 183h1.1M209 176h1.1M180 168h1.1M211 182h1.1M194 199h1.1M213 201h1.1M216 197h1.1M238 191h1.1M195 172h1.1M197 198h1.1M215 176h1.1M229 189h1.1M209 207h1.1M193 181h1.1M211 172h1.1M235 187h1.1M218 206h1.1M203 172h1.1M223 184h1.1M204 181h1.1M227 197h1.1M226 187h1.1M192 176h1.1M265 184h1.1M187 181h1.1M225 197h1.1M262 177h1.1M189 181h1.1M222 195h1.1M207 187h1.1M181 181h1.1M217 175h1.1M188 199h1.1M217 204h1.1M201 176h1.1M205 187h1.1M200 178h1.1M204 187h1.1M222 192h1.1M220 196h1.1M246 197h1.1M274 183h1.1M205 204h1.1M195 189h1.1M255 192h1.1M250 181h1.1M252 190h1.1M235 185h1.1M187 209h1.1M215 179h1.1M218 191h1.1M236 199h1.1M234 203h1.1M258 200h1.1M260 185h1.1M196 180h1.1M202 205h1.1M246 185h1.1M226 178h1.1M237 189h1.1M277 180h1.1M249 195h1.1M206 204h1.1M202 196h1.1M205 183h1.1M253 190h1.1M187 173h1.1M269 193h1.1M230 189h1.1M234 173h1.1M193 192h1.1M256 177h1.1M198 177h1.1M194 183h1.1M188 186h1.1M193 202h1.1M189 178h1.1M214 182h1.1M193 172h1.1M199 190h1.1M242 184h1.1M188 189h1.1M187 207h1.1M248 185h1.1M250 185h1.1M195 196h1.1M250 177h1.1M206 206h1.1M270 182h1.1M267 186h1.1M222 192h1.1M209 194h1.1M253 194h1.1M218 195h1.1M183 196h1.1M201 195h1.1M242 201h1.1M249 193h1.1M196 172h1.1M213 201h1.1M247 193h1.1M237 195h1.1M204 181h1.1M272 199h1.1M205 194h1.1M228 178h1.1M189 201h1.1M196 201h1.1M196 182h1.1M220 105h1.1M223 104h1.1M196 90h1.1M238 96h1.1M184 110h1.1M232 101h1.1M213 97h1.1M238 94h1.1M194 89h1.1M265 94h1.1M188 94h1.1M216 87h1.1M220 88h1.1M207 90h1.1M200 106h1.1M206 119h1.1M250 92h1.1M209 101h1.1M189 102h1.1M248 106h1.1M209 89h1.1M176 116h1.1M260 99h1.1M171 101h1.1M227 110h1.1M173 98h1.1M262 108h1.1M243 101h1.1M222 105h1.1M241 101h1.1M200 96h1.1M247 96h1.1M223 84h1.1M244 88h1.1M190 100h1.1M196 114h1.1M190 97h1.1M223 112h1.1M176 97h1.1M237 104h1.1M201 91h1.1M238 103h1.1M217 107h1.1M177 103h1.1M218 102h1.1M181 99h1.1M180 111h1.1M248 110h1.1M202 110h1.1M189 87h1.1M234 98h1.1M209 97h1.1M231 87h1.1M219 100h1.1M201 96h1.1M234 95h1.1M223 91h1.1M221 85h1.1M174 114h1.1M226 98h1.1M204 110h1.1M186 106h1.1M241 103h1.1M222 104h1.1M254 105h1.1M191 108h1.1M187 114h1.1M216 102h1.1M198 115h1.1M251 106h1.1M207 96h1.1M223 107h1.1M220 114h1.1M238 110h1.1M256 91h1.1M205 98h1.1M171 115h1.1M202 109h1.1M245 106h1.1M182 89h1.1M177 108h1.1M205 107h1.1M190 89h1.1M243 84h1.1M235 98h1.1M225 116h1.1M186 107h1.1M233 92h1.1M209 107h1.1M221 102h1.1M175 105h1.1M206 105h1.1M180 109h1.1M216 104h1.1M172 101h1.1M200 114h1.1M191 113h1.1M234 108h1.1M206 112h1.1M236 97h1.1M211 113h1.1M201 113h1.1M246 108h1.1M180 120h1.1M198 120h1.1M246 86h1.1M196 98h1.1M172 105h1.1M244 105h1.1M265 105h1.1M221 112h1.1M182 113h1.1M186 110h1.1M209 109h1.1M219 94h1.1M242 88h1.1M196 102h1.1M217 96h1.1M243 98h1.1M242 105h1.1M172 111h1.1M229 110h1.1M187 92h1.1M229 91h1.1M182 122h1.1M187 99h1.1M261 98h1.1M203 111h1.1M182 113h1.1M192 96h1.1M191 104h1.1M240 103h1.1M245 86h1.1M247 104h1.1M181 100h1.1M180 109h1.1M237 90h1.1M185 101h1.1M266 100h1.1M188 93h1.1M174 112h1.1M174 111h1.1M175 113h1.1M223 103h1.1M259 103h1.1M231 103h1.1M270 97h1.1M221 88h1.1M191 110h1.1M200 115h1.1M197 94h1.1M244 106h1.1M171 110h1.1M191 96h1.1M181 113h1.1M175 99h1.1M232 102h1.1M191 99h1.1M239 109h1.1M195 124h1.1M200 105h1.1M201 116h1.1M242 99h1.1M189 100h1.1M203 113h1.1M210 99h1.1M226 106h1.1M189 92h1.1M256 99h1.1M230 98h1.1M184 112h1.1M198 105h1.1M239 94h1.1M225 109h1.1M216 98h1.1M196 115h1.1M265 100h1.1M182 112h1.1M194 96h1.1M240 94h1.1M182 93h1.1M199 114h1.1M197 97h1.1M174 116h1.1M248 90h1.1M182 117h1.1M245 90h1.1M197 84h1.1M251 103h1.1M176 96h1.1M215 100h1.1M264 103h1.1M229 107h1.1M252 92h1.1M171 114h1.1M182 111h1.1M195 117h1.1M221 97h1.1M221 109h1.1M246 85h1.1M215 82h1.1M198 100h1.1M233 83h1.1M225 85h1.1M178 97h1.1M206 86h1.1M220 84h1.1M243 95h1.1M203 104h1.1M217 109h1.1M250 104h1.1M176 96h1.1M263 98h1.1M251 88h1.1M194 108h1.1M223 97h1.1M194 122h1.1M190 92h1.1M211 95h1.1M180 99h1.1M250 98h1.1M208 91h1.1M238 109h1.1M200 101h1.1M234 96h1.1M236 94h1.1M205 111h1.1M198 107h1.1M176 113h1.1M233 102h1.1M235 148h1.1M181 135h1.1M217 121h1.1M239 143h1.1M207 153h1.1M213 156h1.1M229 147h1.1M241 140h1.1M202 132h1.1M224 146h1.1M207 151h1.1M194 163h1.1M189 160h1.1M205 135h1.1M181 147h1.1M180 160h1.1M205 129h1.1M187 154h1.1M172 132h1.1M213 118h1.1M172 153h1.1M190 142h1.1M168 142h1.1M167 148h1.1M183 128h1.1M202 128h1.1M234 150h1.1M216 164h1.1M212 129h1.1M202 158h1.1M214 133h1.1M207 140h1.1M230 148h1.1M227 146h1.1M174 150h1.1M237 147h1.1M195 142h1.1M237 131h1.1M220 147h1.1M228 134h1.1M302 95h1.1M297 70h1.1M298 83h1.1M323 74h1.1M308 92h1.1M292 86h1.1M317 70h1.1M285 80h1.1M302 81h1.1M324 82h1.1M323 86h1.1M325 74h1.1M322 77h1.1M307 89h1.1M282 71h1.1M294 67h1.1M327 70h1.1M290 93h1.1M288 87h1.1M305 72h1.1M296 83h1.1M321 88h1.1M308 83h1.1M299 72h1.1M324 85h1.1M294 67h1.1M323 76h1.1M322 88h1.1M318 96h1.1M310 81h1.1M323 84h1.1M324 72h1.1M304 70h1.1M327 76h1.1M292 88h1.1M306 88h1.1M303 73h1.1M295 86h1.1M291 75h1.1M312 89h1.1M303 70h1.1M304 81h1.1M284 72h1.1M309 85h1.1M305 76h1.1M306 69h1.1M321 85h1.1M326 84h1.1M302 87h1.1M312 73h1.1M307 79h1.1M309 72h1.1M297 93h1.1M304 84h1.1M309 67h1.1M302 80h1.1M303 68h1.1M286 74h1.1M303 94h1.1M303 84h1.1M295 84h1.1M296 85h1.1M318 70h1.1M320 85h1.1M308 85h1.1M304 79h1.1M297 74h1.1M313 71h1.1M314 73h1.1M305 85h1.1M306 82h1.1M293 70h1.1M291 79h1.1M317 91h1.1M308 78h1.1M317 81h1.1M323 78h1.1M301 90h1.1M293 70h1.1M331 81h1.1M288 68h1.1M332 78h1.1M287 72h1.1M317 93h1.1M299 81h1.1M318 86h1.1M325 81h1.1M300 75h1.1M325 71h1.1M288 80h1.1M315 81h1.1M311 84h1.1M314 99h1.1M296 76h1.1M305 83h1.1M294 71h1.1M302 90h1.1M289 84h1.1M303 72h1.1M313 81h1.1M303 94h1.1M303 92h1.1M300 72h1.1M304 95h1.1M287 73h1.1M301 77h1.1M293 91h1.1M289 75h1.1M292 83h1.1M285 79h1.1M348 225h1.1M335 245h1.1M344 240h1.1M364 200h1.1M349 205h1.1M341 250h1.1M343 230h1.1M355 236h1.1M310 220h1.1M334 238h1.1M311 231h1.1M333 225h1.1M321 246h1.1M308 219h1.1M310 229h1.1M311 244h1.1M319 216h1.1M364 218h1.1M314 249h1.1M358 211h1.1M354 233h1.1M356 226h1.1M341 253h1.1M343 218h1.1M356 199h1.1M363 212h1.1M355 226h1.1M322 231h1.1M340 222h1.1M342 230h1.1M311 246h1.1M315 233h1.1M341 247h1.1M336 216h1.1M347 241h1.1M348 216h1.1M362 211h1.1M335 254h1.1M312 227h1.1M345 248h1.1M338 230h1.1M356 204h1.1M315 236h1.1M362 240h1.1M324 222h1.1M352 238h1.1M338 227h1.1M313 238h1.1M327 211h1.1M323 250h1.1M349 241h1.1M345 234h1.1M338 212h1.1M331 215h1.1M309 233h1.1M323 239h1.1M334 247h1.1M350 243h1.1M330 252h1.1M312 227h1.1M338 238h1.1M358 229h1.1M328 226h1.1M355 202h1.1M350 252h1.1M357 234h1.1M341 240h1.1M348 205h1.1M364 208h1.1M340 240h1.1M354 221h1.1M325 216h1.1M350 215h1.1M331 245h1.1M353 203h1.1M341 244h1.1M343 230h1.1M308 245h1.1M350 209h1.1M365 223h1.1M306 239h1.1M324 241h1.1M349 209h1.1M310 220h1.1M357 225h1.1M337 205h1.1M337 247h1.1M331 236h1.1M341 247h1.1M346 227h1.1M307 224h1.1M351 223h1.1M346 249h1.1M318 232h1.1M355 242h1.1M344 240h1.1M347 231h1.1M329 251h1.1M356 227h1.1M348 221h1.1M328 206h1.1M323 223h1.1M353 230h1.1M333 245h1.1M344 238h1.1M364 214h1.1M364 205h1.1M326 238h1.1M335 258h1.1M333 223h1.1M332 245h1.1M315 247h1.1M320 237h1.1M323 254h1.1M333 235h1.1M327 242h1.1M367 227h1.1M336 253h1.1M311 243h1.1M314 247h1.1M354 214h1.1M357 237h1.1M347 226h1.1M359 216h1.1M308 223h1.1M357 231h1.1M335 222h1.1M359 235h1.1M339 252h1.1M349 246h1.1M318 247h1.1M329 231h1.1M320 249h1.1M336 241h1.1M318 236h1.1M350 212h1.1M358 230h1.1M351 229h1.1M310 248h1.1M368 213h1.1M331 246h1.1M353 230h1.1M314 235h1.1M322 247h1.1M335 217h1.1M331 245h1.1M358 239h1.1M359 228h1.1M358 217h1.1M315 224h1.1M322 219h1.1M367 213h1.1M341 251h1.1M310 239h1.1M344 217h1.1M329 256h1.1M311 229h1.1M335 227h1.1M312 230h1.1M306 217h1.1M343 230h1.1M327 213h1.1M361 227h1.1M337 219h1.1M333 230h1.1M361 232h1.1M328 230h1.1M322 231h1.1M320 228h1.1M344 216h1.1M322 229h1.1M308 215h1.1M319 234h1.1M350 225h1.1M331 222h1.1M354 238h1.1M337 214h1.1M345 235h1.1M312 220h1.1M340 226h1.1M336 245h1.1M325 218h1.1M358 216h1.1M359 232h1.1M361 209h1.1M347 232h1.1M337 211h1.1M324 217h1.1M363 222h1.1M334 224h1.1M350 212h1.1M340 213h1.1M350 209h1.1M329 227h1.1M358 223h1.1M332 232h1.1M340 222h1.1M325 210h1.1M351 235h1.1M345 238h1.1M295 227h1.1M287 247h1.1M285 231h1.1M285 235h1.1M368 166h1.1M378 171h1.1" fill="none" stroke="#f4a325" stroke-width="3.3" stroke-linecap="round"/>
<path d="M103 197h1.1M148 171h1.1M137 214h1.1M139 173h1.1M165 179h1.1M152 180h1.1M107 204h1.1M150 205h1.1M122 194h1.1M170 187h1.1M121 190h1.1M135 186h1.1M185 188h1.1M139 199h1.1M127 202h1.1M180 173h1.1M182 179h1.1M157 162h1.1M157 166h1.1M184 181h1.1M151 188h1.1M112 185h1.1M144 200h1.1M184 195h1.1M106 206h1.1M106 186h1.1M124 167h1.1M139 208h1.1M119 215h1.1M163 172h1.1M149 203h1.1M159 199h1.1M163 169h1.1M130 206h1.1M140 197h1.1M147 197h1.1M174 197h1.1M146 208h1.1M146 206h1.1M169 174h1.1M107 179h1.1M152 205h1.1M135 198h1.1M182 194h1.1M146 161h1.1M100 182h1.1M112 198h1.1M137 182h1.1M135 211h1.1M140 212h1.1M170 178h1.1M151 179h1.1M171 174h1.1M129 190h1.1M165 193h1.1M116 210h1.1M117 200h1.1M157 185h1.1M133 177h1.1M166 203h1.1M150 196h1.1M123 201h1.1M124 186h1.1M136 164h1.1M140 178h1.1M175 201h1.1M186 180h1.1M135 164h1.1M169 205h1.1M178 180h1.1M151 186h1.1M191 188h1.1M125 176h1.1M100 197h1.1M174 190h1.1M114 182h1.1M131 181h1.1M104 193h1.1M112 206h1.1M118 195h1.1M157 165h1.1M177 202h1.1M160 170h1.1M134 212h1.1M165 163h1.1M115 204h1.1M154 204h1.1M158 194h1.1M125 203h1.1M154 169h1.1M173 204h1.1M117 198h1.1M142 176h1.1M145 198h1.1M149 210h1.1M134 203h1.1M171 186h1.1M138 186h1.1M126 185h1.1M117 202h1.1M164 211h1.1M167 181h1.1M157 197h1.1M147 199h1.1M125 207h1.1M149 198h1.1M167 175h1.1M171 198h1.1M118 183h1.1M124 208h1.1M119 207h1.1M130 185h1.1M117 202h1.1M154 188h1.1M142 214h1.1M159 188h1.1M153 205h1.1M110 179h1.1M181 195h1.1M148 211h1.1M141 212h1.1M145 213h1.1M111 179h1.1M124 206h1.1M144 205h1.1M105 205h1.1M151 185h1.1M121 200h1.1M100 189h1.1M178 172h1.1M178 177h1.1M170 185h1.1M132 205h1.1M136 183h1.1M128 198h1.1M134 168h1.1M151 193h1.1M100 194h1.1M139 176h1.1M113 201h1.1M111 190h1.1M120 193h1.1M152 180h1.1M136 169h1.1M162 165h1.1M149 196h1.1M130 202h1.1M135 193h1.1M105 199h1.1M142 200h1.1M166 170h1.1M106 184h1.1M158 199h1.1M148 207h1.1M166 187h1.1M171 162h1.1M114 173h1.1M100 180h1.1M152 194h1.1M118 204h1.1M169 189h1.1M111 197h1.1M152 207h1.1M163 160h1.1M158 179h1.1M173 169h1.1M182 185h1.1M124 213h1.1M113 196h1.1M130 188h1.1M107 200h1.1M105 207h1.1M163 191h1.1M176 181h1.1M159 172h1.1M153 186h1.1M178 164h1.1M113 176h1.1M135 190h1.1M117 197h1.1M119 183h1.1M124 212h1.1M127 211h1.1M152 170h1.1M174 178h1.1M175 170h1.1M141 202h1.1M129 203h1.1M157 159h1.1M168 171h1.1M146 161h1.1M186 197h1.1M160 176h1.1M175 169h1.1M165 169h1.1M165 184h1.1M107 190h1.1M163 164h1.1M148 200h1.1M154 162h1.1M163 207h1.1M125 190h1.1M183 194h1.1M173 178h1.1M135 165h1.1M135 209h1.1M149 214h1.1M118 191h1.1M131 169h1.1M168 182h1.1M179 173h1.1M142 192h1.1M149 162h1.1M136 182h1.1M144 204h1.1M157 180h1.1M144 201h1.1M131 198h1.1M117 195h1.1M98 201h1.1M134 178h1.1M108 184h1.1M173 186h1.1M167 208h1.1M170 183h1.1M167 189h1.1M135 201h1.1M102 188h1.1M148 194h1.1M116 206h1.1M171 175h1.1M148 198h1.1M147 188h1.1M164 174h1.1M181 188h1.1M133 200h1.1M155 210h1.1M116 175h1.1M174 194h1.1M152 176h1.1M157 209h1.1M110 192h1.1M144 202h1.1M180 190h1.1M113 200h1.1M125 171h1.1M169 204h1.1M132 189h1.1M123 197h1.1M153 203h1.1M153 188h1.1M140 191h1.1M158 175h1.1M131 173h1.1M184 182h1.1M165 166h1.1M175 191h1.1M148 212h1.1M181 176h1.1M149 173h1.1M122 214h1.1M167 163h1.1M161 192h1.1M134 176h1.1M145 162h1.1M149 214h1.1M167 158h1.1M123 168h1.1M182 182h1.1M120 196h1.1M168 182h1.1M154 179h1.1M128 175h1.1M113 210h1.1M174 200h1.1M136 199h1.1M139 183h1.1M153 177h1.1M177 187h1.1M160 170h1.1M113 185h1.1M160 204h1.1M186 180h1.1M179 187h1.1M152 207h1.1M123 185h1.1M134 197h1.1M119 171h1.1M156 173h1.1M129 196h1.1M138 170h1.1M156 205h1.1M176 167h1.1M168 201h1.1M172 177h1.1M132 190h1.1M139 193h1.1M127 208h1.1M132 201h1.1M171 187h1.1M135 213h1.1M159 197h1.1M175 189h1.1M121 169h1.1M139 164h1.1M181 192h1.1M172 184h1.1M129 175h1.1M104 181h1.1M130 215h1.1M170 176h1.1M140 206h1.1M132 187h1.1M161 170h1.1M141 187h1.1M138 185h1.1M121 192h1.1M142 182h1.1M166 201h1.1M130 201h1.1M121 195h1.1M134 209h1.1M161 188h1.1M148 184h1.1M143 211h1.1M127 206h1.1M169 178h1.1M103 189h1.1M159 173h1.1M157 198h1.1M116 174h1.1M133 182h1.1M173 187h1.1M172 186h1.1M133 187h1.1M145 203h1.1M163 194h1.1M164 200h1.1M173 206h1.1M154 168h1.1M160 189h1.1M160 207h1.1M127 214h1.1M145 202h1.1M168 186h1.1M142 204h1.1M135 193h1.1M136 167h1.1M175 189h1.1M134 186h1.1M145 190h1.1M130 187h1.1M144 204h1.1M150 167h1.1M174 168h1.1M144 168h1.1M138 212h1.1M139 213h1.1M139 180h1.1M151 205h1.1M138 169h1.1M181 195h1.1M108 179h1.1M162 198h1.1M161 207h1.1M127 181h1.1M154 174h1.1M113 200h1.1M132 200h1.1M156 159h1.1M157 186h1.1M128 205h1.1M147 207h1.1M115 176h1.1M110 201h1.1M159 203h1.1M102 180h1.1M149 183h1.1M184 183h1.1M146 166h1.1M91 189h1.1M127 188h1.1M127 177h1.1M157 170h1.1M153 199h1.1M110 210h1.1M144 204h1.1M146 165h1.1M147 190h1.1M179 181h1.1M104 187h1.1M114 205h1.1M164 177h1.1M136 177h1.1M146 181h1.1M169 176h1.1M147 179h1.1M113 207h1.1M140 194h1.1M164 185h1.1M178 178h1.1M130 193h1.1M140 164h1.1M127 215h1.1M142 204h1.1M162 213h1.1M169 175h1.1M124 173h1.1M98 202h1.1M128 214h1.1M124 182h1.1M126 194h1.1M138 171h1.1M153 186h1.1M117 171h1.1M149 211h1.1M156 168h1.1M139 206h1.1M135 163h1.1M142 173h1.1M169 184h1.1M128 171h1.1M94 193h1.1M98 190h1.1M147 203h1.1M176 180h1.1M114 191h1.1M165 172h1.1M146 192h1.1M151 188h1.1M109 200h1.1M140 175h1.1M98 192h1.1M165 169h1.1M117 187h1.1M123 195h1.1M135 175h1.1M120 180h1.1M120 209h1.1M153 206h1.1M179 174h1.1M173 187h1.1M116 184h1.1M149 193h1.1M94 187h1.1M183 191h1.1M154 180h1.1M166 182h1.1M142 172h1.1M141 201h1.1M163 185h1.1M145 175h1.1M126 209h1.1M123 169h1.1M104 186h1.1M177 190h1.1M182 181h1.1M138 184h1.1M155 184h1.1M143 181h1.1M132 196h1.1M178 182h1.1M179 181h1.1M187 181h1.1M148 214h1.1M165 170h1.1M100 186h1.1M119 191h1.1M184 194h1.1M153 171h1.1M138 197h1.1M140 169h1.1M130 192h1.1M166 163h1.1M112 183h1.1M131 209h1.1M176 171h1.1M157 188h1.1M160 200h1.1M133 217h1.1M156 176h1.1M103 191h1.1M155 161h1.1M158 164h1.1M170 190h1.1M120 199h1.1M132 166h1.1M109 201h1.1M159 188h1.1M161 206h1.1M168 204h1.1M110 187h1.1M139 195h1.1M123 174h1.1M98 200h1.1M172 193h1.1M170 193h1.1M160 203h1.1M177 168h1.1M159 192h1.1M116 193h1.1M139 210h1.1M129 174h1.1M167 177h1.1M172 207h1.1M157 160h1.1M99 201h1.1M98 195h1.1M126 200h1.1M147 168h1.1M140 194h1.1M114 191h1.1M117 209h1.1M152 197h1.1M141 200h1.1M173 196h1.1M173 166h1.1M158 166h1.1M178 183h1.1M180 186h1.1M174 181h1.1M182 190h1.1M115 199h1.1M133 162h1.1M149 186h1.1M184 171h1.1M111 176h1.1M156 172h1.1M108 200h1.1M119 197h1.1M165 201h1.1M140 173h1.1M164 200h1.1M139 188h1.1M117 191h1.1M151 160h1.1M143 207h1.1M130 174h1.1M145 203h1.1M142 165h1.1M165 188h1.1M149 186h1.1M172 173h1.1M133 182h1.1M158 187h1.1M132 193h1.1M113 212h1.1M142 204h1.1M146 169h1.1M142 171h1.1M146 167h1.1M153 208h1.1M130 179h1.1M118 183h1.1M140 190h1.1M125 181h1.1M115 181h1.1M156 172h1.1M162 185h1.1M104 180h1.1M173 197h1.1M157 175h1.1M173 180h1.1M127 174h1.1M152 179h1.1M154 187h1.1M135 170h1.1M176 188h1.1M133 201h1.1M132 211h1.1M161 179h1.1M135 207h1.1M107 184h1.1M130 199h1.1M106 206h1.1M113 172h1.1M135 216h1.1M149 207h1.1M150 214h1.1M132 192h1.1M140 190h1.1M184 195h1.1M144 198h1.1M123 178h1.1M160 208h1.1M131 203h1.1M162 187h1.1M155 185h1.1M109 188h1.1M144 206h1.1M147 197h1.1M98 190h1.1M153 178h1.1M109 205h1.1M149 168h1.1M145 163h1.1M130 201h1.1M135 200h1.1M170 161h1.1M169 171h1.1M144 190h1.1M169 169h1.1M121 197h1.1M119 199h1.1M146 164h1.1M158 212h1.1M182 186h1.1M99 193h1.1M125 200h1.1M120 192h1.1M146 181h1.1M184 193h1.1M98 197h1.1M141 205h1.1M145 208h1.1M142 194h1.1M156 210h1.1M140 172h1.1M128 196h1.1M158 190h1.1M150 200h1.1M138 175h1.1M145 208h1.1M138 204h1.1M128 177h1.1M161 170h1.1M178 193h1.1M188 200h1.1M149 196h1.1M110 198h1.1M129 168h1.1M132 210h1.1M132 185h1.1M149 170h1.1M123 202h1.1M148 212h1.1M160 168h1.1M132 200h1.1M129 173h1.1M157 191h1.1M152 177h1.1M103 189h1.1M124 191h1.1M155 179h1.1M159 214h1.1M149 204h1.1M118 171h1.1M141 165h1.1M162 189h1.1M155 177h1.1M147 198h1.1M169 176h1.1M129 212h1.1M129 176h1.1M149 188h1.1M100 191h1.1M170 197h1.1M102 186h1.1M136 196h1.1M176 182h1.1M127 170h1.1M163 175h1.1M142 166h1.1M99 178h1.1M118 192h1.1M153 165h1.1M137 184h1.1M148 181h1.1M145 178h1.1M113 203h1.1M148 169h1.1M99 197h1.1M115 196h1.1M122 206h1.1M142 167h1.1M166 191h1.1M178 177h1.1M112 184h1.1M161 206h1.1M165 167h1.1M161 197h1.1M181 170h1.1M166 183h1.1M140 196h1.1M139 165h1.1M131 211h1.1M157 165h1.1M141 202h1.1M113 200h1.1M154 208h1.1M116 172h1.1M119 202h1.1M138 193h1.1M121 214h1.1M159 175h1.1M163 167h1.1M144 199h1.1M128 213h1.1M144 199h1.1M153 170h1.1" fill="none" stroke="#f4a325" stroke-width="3.3" stroke-linecap="round"/>
<path d="M314 240L338 233L358 228L357 246L342 254L320 253Z" fill="#f4a325"/>
<path d="M355 241h1.1M324 245h1.1M345 236h1.1M342 247h1.1M328 249h1.1M319 247h1.1M326 256h1.1M359 233h1.1M336 250h1.1M330 255h1.1M332 257h1.1M338 245h1.1M361 226h1.1M318 252h1.1M327 248h1.1M320 251h1.1M357 233h1.1M335 247h1.1M324 247h1.1M339 247h1.1M342 239h1.1M356 235h1.1M354 228h1.1M323 250h1.1M341 253h1.1M343 248h1.1M359 238h1.1M336 246h1.1M318 244h1.1M348 242h1.1M332 237h1.1M345 242h1.1M352 244h1.1M347 246h1.1M340 246h1.1M350 254h1.1M330 251h1.1M349 232h1.1M348 256h1.1M336 255h1.1M346 251h1.1M357 250h1.1M354 242h1.1M332 245h1.1M333 240h1.1M346 245h1.1M315 246h1.1M322 240h1.1M329 238h1.1M325 241h1.1M341 256h1.1M334 233h1.1M355 249h1.1M318 253h1.1M339 257h1.1M333 246h1.1M357 233h1.1M317 251h1.1M336 243h1.1M338 252h1.1M332 238h1.1M329 253h1.1M319 241h1.1M340 241h1.1M332 239h1.1M345 247h1.1M338 257h1.1M328 237h1.1M319 248h1.1M351 245h1.1M335 236h1.1M322 254h1.1M344 254h1.1M342 237h1.1M340 255h1.1M325 253h1.1M332 238h1.1M316 244h1.1M341 248h1.1M332 240h1.1M341 236h1.1M344 251h1.1M359 237h1.1M317 253h1.1M323 248h1.1M334 231h1.1M328 252h1.1M335 254h1.1M358 234h1.1M329 256h1.1" fill="none" stroke="#f4a325" stroke-width="3.3" stroke-linecap="round"/>
</g>
<rect x="71.5" y="13.5" width="322.5" height="281.8" fill="none" stroke="#000" stroke-width="2.8"/>
<line x1="73.8" y1="295" x2="73.8" y2="300" stroke="#000" stroke-width="2.6"/>
<text x="69.4" y="319.7" font-size="21" text-anchor="middle">-2.0</text>
<line x1="119.5" y1="295" x2="119.5" y2="300" stroke="#000" stroke-width="2.6"/>
<text x="117.3" y="319.7" font-size="21" text-anchor="middle">-1.0</text>
<line x1="164.9" y1="295" x2="164.9" y2="300" stroke="#000" stroke-width="2.6"/>
<text x="166.9" y="319.7" font-size="21" text-anchor="middle">0.0</text>
<line x1="210.3" y1="295" x2="210.3" y2="300" stroke="#000" stroke-width="2.6"/>
<text x="207.9" y="319.7" font-size="21" text-anchor="middle">1.0</text>
<line x1="256.3" y1="295" x2="256.3" y2="300" stroke="#000" stroke-width="2.6"/>
<text x="254.8" y="319.7" font-size="21" text-anchor="middle">2.0</text>
<line x1="301.7" y1="295" x2="301.7" y2="300" stroke="#000" stroke-width="2.6"/>
<text x="301.2" y="319.7" font-size="21" text-anchor="middle">3.0</text>
<line x1="347.0" y1="295" x2="347.0" y2="300" stroke="#000" stroke-width="2.6"/>
<text x="347.9" y="319.7" font-size="21" text-anchor="middle">4.0</text>
<line x1="392.5" y1="295" x2="392.5" y2="300" stroke="#000" stroke-width="2.6"/>
<text x="394.6" y="319.7" font-size="21" text-anchor="middle">5.0</text>
<line x1="65.5" y1="13.5" x2="71.5" y2="13.5" stroke="#000" stroke-width="2.6"/>
<text x="64.4" y="19.7" font-size="21" text-anchor="end">6.0</text>
<line x1="65.5" y1="69.8" x2="71.5" y2="69.8" stroke="#000" stroke-width="2.6"/>
<text x="64.4" y="76.0" font-size="21" text-anchor="end">4.0</text>
<line x1="65.5" y1="126.1" x2="71.5" y2="126.1" stroke="#000" stroke-width="2.6"/>
<text x="64.4" y="132.3" font-size="21" text-anchor="end">2.0</text>
<line x1="65.5" y1="182.4" x2="71.5" y2="182.4" stroke="#000" stroke-width="2.6"/>
<text x="64.4" y="188.6" font-size="21" text-anchor="end">0.0</text>
<line x1="65.5" y1="238.7" x2="71.5" y2="238.7" stroke="#000" stroke-width="2.6"/>
<text x="64.4" y="244.9" font-size="21" text-anchor="end">-2.0</text>
<line x1="65.5" y1="295.0" x2="71.5" y2="295.0" stroke="#000" stroke-width="2.6"/>
<text x="64.4" y="301.2" font-size="21" text-anchor="end">-4.0</text>
<text x="213.0" y="349.9" font-size="21" text-anchor="middle">PC1</text>
<text x="0" y="0" font-size="21" text-anchor="middle" transform="translate(27.7,153.5) rotate(-90)">PC2</text>
<text x="204.7" y="34.2" font-size="13.8" text-anchor="start">ECFP4</text>
<circle cx="292.5" cy="28.0" r="4.2" fill="#5b9bd5" stroke="#3f86c8" stroke-width="0.8"/>
<circle cx="292.5" cy="47.2" r="4.2" fill="#f2a22a"/>
<text x="303.5" y="31.5" font-size="13.8" text-anchor="start">Training set</text>
<text x="303.5" y="51.5" font-size="13.8" text-anchor="start">Test set</text>
<clipPath id="ca2"><rect x="465.5" y="16.6" width="319.8" height="278.20000000000005"/></clipPath>
<g clip-path="url(#ca2)">
<path d="M737 154h1.1M660 213h1.1M658 189h1.1M636 221h1.1M624 218h1.1M701 155h1.1M639 193h1.1M574 215h1.1M654 217h1.1M604 229h1.1M611 204h1.1M541 220h1.1M563 239h1.1M657 204h1.1M515 240h1.1M648 181h1.1M543 250h1.1M551 240h1.1M661 182h1.1M541 197h1.1M555 254h1.1M653 202h1.1M691 145h1.1M555 200h1.1M698 190h1.1M680 150h1.1M623 221h1.1M718 175h1.1M567 201h1.1M524 259h1.1M711 181h1.1M643 194h1.1M542 209h1.1M638 171h1.1M742 146h1.1M626 198h1.1M591 201h1.1M729 146h1.1M549 237h1.1M658 182h1.1M748 160h1.1M574 188h1.1M612 187h1.1M631 212h1.1M627 156h1.1M546 255h1.1M551 238h1.1M571 213h1.1M634 168h1.1M626 200h1.1M693 188h1.1M626 162h1.1M611 231h1.1M661 174h1.1M659 214h1.1M523 227h1.1M735 168h1.1M552 250h1.1M691 170h1.1M738 140h1.1M557 238h1.1M576 212h1.1M642 215h1.1M616 233h1.1M577 224h1.1M647 184h1.1M689 176h1.1M528 258h1.1M699 157h1.1M634 174h1.1M736 172h1.1M645 214h1.1M530 248h1.1M676 150h1.1M679 200h1.1M522 240h1.1M683 149h1.1M577 214h1.1M523 226h1.1M565 232h1.1M702 177h1.1M635 198h1.1M624 196h1.1M645 178h1.1M539 195h1.1M594 219h1.1M720 169h1.1M581 204h1.1M546 222h1.1M696 188h1.1M732 168h1.1M601 165h1.1M638 227h1.1M657 156h1.1M549 249h1.1M729 169h1.1M593 230h1.1M636 224h1.1M733 148h1.1M553 197h1.1M524 242h1.1M531 210h1.1M677 190h1.1M677 195h1.1M716 163h1.1M606 223h1.1M588 236h1.1M688 173h1.1M664 183h1.1M587 236h1.1M693 157h1.1M720 164h1.1M615 224h1.1M563 245h1.1M623 202h1.1M547 239h1.1M518 252h1.1M630 159h1.1M675 145h1.1M682 184h1.1M635 179h1.1M571 190h1.1M589 201h1.1M602 165h1.1M646 219h1.1M601 230h1.1M660 165h1.1M592 229h1.1M630 225h1.1M623 206h1.1M537 206h1.1M624 228h1.1M561 208h1.1M632 179h1.1M654 175h1.1M541 200h1.1M575 192h1.1M750 165h1.1M566 241h1.1M539 234h1.1M621 201h1.1M625 195h1.1M656 167h1.1M677 179h1.1M691 157h1.1M674 205h1.1M550 248h1.1M643 177h1.1M598 185h1.1M727 155h1.1M547 229h1.1M713 189h1.1M651 176h1.1M590 187h1.1M714 187h1.1M696 175h1.1M700 178h1.1M562 194h1.1M558 241h1.1M638 211h1.1M736 162h1.1M551 234h1.1M584 203h1.1M755 137h1.1M609 179h1.1M717 162h1.1M661 209h1.1M559 207h1.1M598 212h1.1M746 163h1.1M649 171h1.1M577 200h1.1M525 218h1.1M673 177h1.1M665 203h1.1M604 173h1.1M661 168h1.1M579 240h1.1M666 183h1.1M702 155h1.1M575 173h1.1M662 192h1.1M587 234h1.1M561 243h1.1M568 242h1.1M551 211h1.1M559 214h1.1M690 166h1.1M522 241h1.1M696 174h1.1M665 180h1.1M552 195h1.1M705 180h1.1M566 238h1.1M533 249h1.1M574 185h1.1M542 199h1.1M748 161h1.1M561 247h1.1M734 138h1.1M623 234h1.1M718 143h1.1M634 188h1.1M724 139h1.1M710 162h1.1M597 209h1.1M620 225h1.1M709 155h1.1M576 241h1.1M545 246h1.1M619 194h1.1M672 179h1.1M648 174h1.1M574 241h1.1M623 219h1.1M553 251h1.1M666 213h1.1M684 197h1.1M604 228h1.1M652 205h1.1M554 244h1.1M610 187h1.1M691 175h1.1M636 162h1.1M554 236h1.1M534 241h1.1M659 155h1.1M578 241h1.1M652 170h1.1M691 168h1.1M583 220h1.1M670 172h1.1M737 144h1.1M518 244h1.1M685 186h1.1M659 145h1.1M635 181h1.1M599 168h1.1M541 236h1.1M653 156h1.1M568 180h1.1M599 212h1.1M704 172h1.1M693 159h1.1M568 236h1.1M724 162h1.1M650 169h1.1M579 191h1.1M592 237h1.1M614 207h1.1M718 149h1.1M666 152h1.1M530 212h1.1M718 151h1.1M588 236h1.1M561 211h1.1M514 253h1.1M532 248h1.1M578 169h1.1M767 132h1.1M615 177h1.1M600 184h1.1M632 190h1.1M597 206h1.1M579 188h1.1M684 168h1.1M512 243h1.1M524 230h1.1M565 216h1.1M632 219h1.1M623 219h1.1M573 192h1.1M606 200h1.1M609 188h1.1M652 156h1.1M664 186h1.1M547 257h1.1M530 217h1.1M570 236h1.1M536 240h1.1M706 182h1.1M704 178h1.1M611 171h1.1M690 190h1.1M636 166h1.1M595 207h1.1M572 225h1.1M575 244h1.1M689 153h1.1M640 218h1.1M622 193h1.1M694 200h1.1M709 186h1.1M524 235h1.1M536 221h1.1M542 217h1.1M668 202h1.1M738 165h1.1M681 177h1.1M581 241h1.1M568 250h1.1M562 204h1.1M538 230h1.1M635 160h1.1M624 184h1.1M683 179h1.1M690 170h1.1M727 141h1.1M613 190h1.1M622 185h1.1M577 188h1.1M619 229h1.1M591 207h1.1M649 192h1.1M545 193h1.1M702 148h1.1M659 203h1.1M623 203h1.1M725 175h1.1M580 243h1.1M626 221h1.1M565 194h1.1M657 199h1.1M574 176h1.1M706 160h1.1M580 220h1.1M653 179h1.1M643 160h1.1M749 147h1.1M597 222h1.1M614 210h1.1M715 155h1.1M533 235h1.1M731 150h1.1M586 184h1.1M589 243h1.1M528 252h1.1M733 168h1.1M678 155h1.1M727 153h1.1M642 183h1.1M554 232h1.1M697 178h1.1M702 171h1.1M535 203h1.1M619 166h1.1M627 212h1.1M525 235h1.1M591 244h1.1M716 156h1.1M741 152h1.1M666 164h1.1M545 209h1.1M601 208h1.1M713 189h1.1M545 214h1.1M591 206h1.1M715 167h1.1M638 222h1.1M556 211h1.1M577 223h1.1M600 228h1.1M688 197h1.1M665 190h1.1M580 185h1.1M665 214h1.1M616 185h1.1M734 145h1.1M593 244h1.1M515 223h1.1M549 191h1.1M671 172h1.1M625 201h1.1M638 157h1.1M575 219h1.1M703 154h1.1M660 192h1.1M751 143h1.1M522 231h1.1M660 184h1.1M517 234h1.1M729 180h1.1M619 165h1.1M619 163h1.1M691 152h1.1M608 191h1.1M558 200h1.1M658 200h1.1M577 199h1.1M605 159h1.1M565 179h1.1M615 173h1.1M566 218h1.1M651 181h1.1M615 218h1.1M541 196h1.1M566 225h1.1M594 204h1.1M602 227h1.1M518 248h1.1M568 183h1.1M550 201h1.1M580 183h1.1M539 256h1.1M708 184h1.1M618 223h1.1M522 224h1.1M574 188h1.1M720 151h1.1M526 253h1.1M654 202h1.1M584 226h1.1M761 142h1.1M602 178h1.1M601 191h1.1M645 196h1.1M570 217h1.1M694 148h1.1M609 226h1.1M550 191h1.1M614 164h1.1M595 222h1.1M623 212h1.1M651 156h1.1M612 207h1.1M637 165h1.1M618 165h1.1M645 210h1.1M532 240h1.1M576 243h1.1M532 227h1.1M547 202h1.1M705 151h1.1M549 228h1.1M535 220h1.1M543 224h1.1M606 196h1.1M596 183h1.1M639 165h1.1M588 209h1.1M578 222h1.1M591 232h1.1M517 222h1.1M742 166h1.1M527 233h1.1M578 190h1.1M704 172h1.1M739 150h1.1M696 147h1.1M603 182h1.1M688 150h1.1M696 182h1.1M584 192h1.1M679 199h1.1M587 245h1.1M668 204h1.1M580 228h1.1M635 208h1.1M624 168h1.1M690 186h1.1M746 147h1.1M679 171h1.1M600 227h1.1M579 183h1.1M558 243h1.1M619 219h1.1M681 151h1.1M625 177h1.1M579 228h1.1M700 164h1.1M669 177h1.1M561 202h1.1M708 181h1.1M756 144h1.1M656 205h1.1M676 175h1.1M684 162h1.1M615 191h1.1M574 176h1.1M582 203h1.1M534 250h1.1M651 210h1.1M599 206h1.1M578 182h1.1M605 214h1.1M680 175h1.1M575 188h1.1M518 230h1.1M634 166h1.1M592 216h1.1M673 164h1.1M610 189h1.1M595 225h1.1M567 204h1.1M663 171h1.1M735 162h1.1M534 224h1.1M602 205h1.1M727 148h1.1M559 211h1.1M750 153h1.1M579 172h1.1M563 223h1.1M640 202h1.1M676 159h1.1M641 162h1.1M592 167h1.1M687 192h1.1M722 186h1.1M565 249h1.1M591 172h1.1M633 211h1.1M660 202h1.1M555 248h1.1M698 170h1.1M721 161h1.1M686 189h1.1M538 228h1.1M674 169h1.1M593 167h1.1M613 196h1.1M687 192h1.1M653 223h1.1M618 188h1.1M685 153h1.1M760 152h1.1M675 204h1.1M579 206h1.1M766 136h1.1M645 155h1.1M571 177h1.1M727 183h1.1M582 186h1.1M641 225h1.1M580 178h1.1M551 204h1.1M551 192h1.1M627 220h1.1M728 149h1.1M601 206h1.1M581 208h1.1M683 198h1.1M528 259h1.1M640 209h1.1M707 192h1.1M526 238h1.1M692 183h1.1M534 252h1.1M604 213h1.1M635 190h1.1M649 158h1.1M731 169h1.1M742 154h1.1M536 215h1.1M722 171h1.1M753 135h1.1M694 186h1.1M648 203h1.1M665 168h1.1M635 195h1.1M594 192h1.1M579 194h1.1M557 198h1.1M703 169h1.1M689 174h1.1M666 179h1.1M554 257h1.1M686 169h1.1M630 226h1.1M674 196h1.1M754 146h1.1M656 152h1.1M734 140h1.1M757 158h1.1M710 182h1.1M703 178h1.1M574 222h1.1M678 167h1.1M670 211h1.1M630 210h1.1M633 167h1.1M521 254h1.1M721 175h1.1M601 187h1.1M605 179h1.1M553 230h1.1M749 142h1.1M580 210h1.1M526 245h1.1M569 183h1.1M691 151h1.1M601 238h1.1M612 193h1.1M644 206h1.1M543 200h1.1M704 187h1.1M736 146h1.1M683 187h1.1M573 180h1.1M611 207h1.1M639 192h1.1M641 194h1.1M684 158h1.1M716 153h1.1M561 222h1.1M606 171h1.1M604 201h1.1M536 242h1.1M540 227h1.1M602 242h1.1M654 178h1.1M634 217h1.1M700 167h1.1M709 188h1.1M659 204h1.1M626 214h1.1M662 210h1.1M521 251h1.1M683 172h1.1M644 178h1.1M699 177h1.1M626 186h1.1M710 151h1.1M705 149h1.1M514 236h1.1M676 211h1.1M633 203h1.1M629 191h1.1M580 241h1.1M599 229h1.1M676 188h1.1M767 138h1.1M552 240h1.1M584 205h1.1M697 180h1.1M709 141h1.1M564 196h1.1M670 209h1.1M576 234h1.1M644 164h1.1M574 245h1.1M645 161h1.1M634 193h1.1M647 215h1.1M621 183h1.1M536 201h1.1M596 171h1.1M598 232h1.1M649 210h1.1M556 241h1.1M557 248h1.1M540 260h1.1M766 140h1.1M760 134h1.1M559 212h1.1M613 204h1.1M755 153h1.1M761 141h1.1M637 215h1.1M597 178h1.1M572 210h1.1M720 160h1.1M635 223h1.1M608 239h1.1M639 177h1.1M575 184h1.1M641 208h1.1M545 211h1.1M630 222h1.1M516 234h1.1M634 184h1.1M710 157h1.1M626 209h1.1M664 185h1.1M680 189h1.1M539 256h1.1M545 255h1.1M542 194h1.1M513 243h1.1M627 194h1.1M701 182h1.1M693 162h1.1M586 222h1.1M657 192h1.1M534 230h1.1M695 197h1.1M693 195h1.1M576 242h1.1M698 151h1.1M705 169h1.1M642 179h1.1M708 147h1.1M748 158h1.1M647 203h1.1M756 157h1.1M550 220h1.1M727 160h1.1M635 178h1.1M654 214h1.1M556 188h1.1M633 184h1.1M586 183h1.1M597 219h1.1M651 154h1.1M553 249h1.1M718 162h1.1M676 154h1.1M723 162h1.1M562 211h1.1M558 233h1.1M523 214h1.1M538 214h1.1M747 141h1.1M757 153h1.1M681 150h1.1M568 241h1.1M560 203h1.1M512 256h1.1M676 210h1.1M677 149h1.1M608 190h1.1M687 186h1.1M754 136h1.1M650 157h1.1M638 172h1.1M664 184h1.1M586 214h1.1M562 248h1.1M657 196h1.1M734 156h1.1M549 208h1.1M635 175h1.1M556 195h1.1M522 220h1.1M665 208h1.1M583 234h1.1M661 166h1.1M594 181h1.1M624 205h1.1M610 189h1.1M617 182h1.1M698 166h1.1M660 173h1.1M529 215h1.1M622 209h1.1M583 200h1.1M733 171h1.1M517 227h1.1M630 224h1.1M640 178h1.1M534 212h1.1M710 145h1.1M701 193h1.1M609 209h1.1M540 194h1.1M609 200h1.1M514 247h1.1M618 215h1.1M566 236h1.1M770 148h1.1M717 173h1.1M604 215h1.1M699 165h1.1M728 161h1.1M679 157h1.1M602 197h1.1M582 181h1.1M579 194h1.1M600 215h1.1M581 234h1.1M717 142h1.1M658 198h1.1M589 172h1.1M680 193h1.1M603 223h1.1M539 195h1.1M595 231h1.1M648 156h1.1M743 159h1.1M603 191h1.1M571 210h1.1M709 141h1.1M588 195h1.1M574 212h1.1M690 178h1.1M704 172h1.1M641 185h1.1M546 207h1.1M582 222h1.1M528 255h1.1M594 231h1.1M639 165h1.1M760 151h1.1M538 235h1.1M770 140h1.1M604 173h1.1M580 241h1.1M537 231h1.1M513 238h1.1M683 186h1.1M545 240h1.1M614 162h1.1M596 194h1.1M612 218h1.1M765 147h1.1M723 149h1.1M611 232h1.1M534 254h1.1M640 213h1.1M582 200h1.1M615 234h1.1M623 168h1.1M742 133h1.1M752 164h1.1M592 189h1.1M667 214h1.1M534 229h1.1M562 233h1.1M688 151h1.1M564 255h1.1M565 230h1.1M637 209h1.1M690 161h1.1M726 159h1.1M613 192h1.1M547 232h1.1M764 139h1.1M711 189h1.1M645 179h1.1M585 196h1.1M585 196h1.1M593 180h1.1M757 137h1.1M514 254h1.1M694 152h1.1M559 224h1.1M692 196h1.1M640 213h1.1M581 242h1.1M574 181h1.1M770 141h1.1M529 255h1.1M514 243h1.1M667 164h1.1M542 228h1.1M655 191h1.1M658 218h1.1M629 222h1.1M559 223h1.1M618 224h1.1M618 208h1.1M657 169h1.1M680 200h1.1M604 181h1.1M735 176h1.1M623 188h1.1M676 202h1.1M541 258h1.1M603 192h1.1M542 246h1.1M663 163h1.1M647 218h1.1M632 188h1.1M555 246h1.1M583 198h1.1M688 185h1.1M583 195h1.1M538 250h1.1M681 210h1.1M578 228h1.1M610 222h1.1M663 203h1.1M680 179h1.1M560 222h1.1M593 182h1.1M582 198h1.1M572 197h1.1M628 192h1.1M700 157h1.1M578 226h1.1M703 176h1.1M568 221h1.1M531 252h1.1M576 211h1.1M673 153h1.1M723 153h1.1M655 212h1.1M641 183h1.1M739 150h1.1M772 146h1.1M573 217h1.1M606 174h1.1M642 160h1.1M587 179h1.1M635 221h1.1M696 170h1.1M555 188h1.1M553 202h1.1M628 185h1.1M604 214h1.1M722 141h1.1M557 218h1.1M603 171h1.1M599 168h1.1M549 211h1.1M588 208h1.1M624 168h1.1M514 238h1.1M745 148h1.1M627 228h1.1M532 204h1.1M549 203h1.1M651 153h1.1M637 226h1.1M716 164h1.1M585 169h1.1M603 166h1.1M645 215h1.1M573 199h1.1M593 180h1.1M701 148h1.1M678 153h1.1M632 222h1.1M561 195h1.1M709 158h1.1M597 170h1.1M720 183h1.1M711 175h1.1M702 180h1.1M638 225h1.1M542 246h1.1M667 188h1.1M743 154h1.1M729 158h1.1M616 195h1.1M631 226h1.1M592 219h1.1M698 172h1.1M553 221h1.1M753 149h1.1M723 152h1.1M518 248h1.1M672 191h1.1M610 199h1.1M713 140h1.1M673 165h1.1M595 171h1.1M601 202h1.1M601 195h1.1M561 191h1.1M570 211h1.1M544 202h1.1M754 144h1.1M531 217h1.1M585 205h1.1M558 192h1.1M685 154h1.1M712 185h1.1M659 210h1.1M540 241h1.1M663 152h1.1M602 220h1.1M629 215h1.1M508 245h1.1M614 201h1.1M560 210h1.1M640 196h1.1M740 152h1.1M652 166h1.1M626 158h1.1M634 201h1.1M722 151h1.1M709 177h1.1M726 173h1.1M566 183h1.1M736 145h1.1M562 208h1.1M633 204h1.1M562 197h1.1M631 202h1.1M584 208h1.1M665 199h1.1M598 213h1.1M575 181h1.1M619 221h1.1M550 225h1.1M601 225h1.1M576 171h1.1M618 205h1.1M724 180h1.1M614 187h1.1M635 193h1.1M595 203h1.1M694 201h1.1M663 194h1.1M567 181h1.1M648 191h1.1M554 201h1.1M713 145h1.1M584 211h1.1M744 158h1.1M680 174h1.1M644 195h1.1M684 175h1.1M614 172h1.1M577 233h1.1M533 229h1.1M547 235h1.1M685 172h1.1M562 242h1.1M767 132h1.1M647 195h1.1M546 208h1.1M534 229h1.1M624 210h1.1M521 239h1.1M687 187h1.1M641 213h1.1M665 180h1.1M633 183h1.1M620 168h1.1M546 214h1.1M594 190h1.1M556 202h1.1M710 150h1.1M709 165h1.1M598 174h1.1M525 233h1.1M685 150h1.1M594 226h1.1M655 208h1.1M616 206h1.1M721 169h1.1M521 233h1.1M631 222h1.1M658 193h1.1M654 162h1.1M684 142h1.1M720 181h1.1M700 169h1.1M665 176h1.1M685 185h1.1M629 162h1.1M654 209h1.1M695 168h1.1M664 161h1.1M570 190h1.1M597 234h1.1M544 195h1.1M570 217h1.1M620 225h1.1M567 235h1.1M717 161h1.1M721 143h1.1M623 191h1.1M601 179h1.1M622 195h1.1M571 174h1.1M583 233h1.1M533 236h1.1M569 212h1.1M721 149h1.1M735 157h1.1M657 211h1.1M639 190h1.1M732 175h1.1M574 195h1.1M569 185h1.1M600 196h1.1M602 185h1.1M577 170h1.1M590 234h1.1M554 200h1.1M616 192h1.1M712 182h1.1M610 225h1.1M594 206h1.1M647 194h1.1M667 167h1.1M612 230h1.1M527 251h1.1M560 237h1.1M540 233h1.1M625 168h1.1M679 152h1.1M587 209h1.1M539 244h1.1M578 234h1.1M612 223h1.1M552 246h1.1M610 219h1.1M723 143h1.1M582 241h1.1M723 151h1.1M664 218h1.1M743 157h1.1M644 218h1.1M681 198h1.1M685 187h1.1M637 210h1.1M634 158h1.1M619 200h1.1M568 222h1.1M522 231h1.1M621 173h1.1M601 235h1.1M657 164h1.1M589 197h1.1M760 150h1.1M689 203h1.1M685 174h1.1M654 215h1.1M603 226h1.1M663 163h1.1M704 163h1.1M685 191h1.1M549 215h1.1M626 164h1.1M582 180h1.1M604 203h1.1M670 198h1.1M554 213h1.1M513 260h1.1M654 162h1.1M610 220h1.1M710 184h1.1M592 186h1.1M567 216h1.1M567 186h1.1M508 265h1.1M693 143h1.1M561 221h1.1M643 213h1.1M522 219h1.1M743 152h1.1M708 162h1.1M529 255h1.1M756 136h1.1M557 233h1.1M570 233h1.1M637 195h1.1M727 168h1.1M612 207h1.1M591 178h1.1M581 227h1.1M595 214h1.1M668 163h1.1M591 198h1.1M622 201h1.1M542 246h1.1M689 177h1.1M721 150h1.1M676 179h1.1M575 234h1.1M625 223h1.1M596 164h1.1M599 220h1.1M634 221h1.1M690 167h1.1M532 226h1.1M523 259h1.1M622 225h1.1M719 153h1.1M583 207h1.1M649 163h1.1M677 166h1.1M553 203h1.1M661 172h1.1M692 190h1.1M673 183h1.1M645 185h1.1M534 257h1.1M672 203h1.1M600 175h1.1M567 202h1.1M562 212h1.1M612 220h1.1M714 172h1.1M645 221h1.1M610 174h1.1M531 236h1.1M676 167h1.1M563 253h1.1M744 155h1.1M567 234h1.1M708 174h1.1M648 189h1.1M586 187h1.1M579 191h1.1M676 186h1.1M627 171h1.1M667 169h1.1M708 157h1.1M598 209h1.1M658 161h1.1M751 143h1.1M654 209h1.1M568 214h1.1M627 226h1.1M563 197h1.1M534 251h1.1M645 194h1.1M641 162h1.1M673 190h1.1M591 196h1.1M547 214h1.1M616 161h1.1M641 208h1.1M687 194h1.1M684 170h1.1M672 147h1.1M704 173h1.1M544 214h1.1M641 174h1.1M655 217h1.1M685 153h1.1M557 231h1.1M573 183h1.1M524 258h1.1M697 201h1.1M713 186h1.1M645 205h1.1M617 193h1.1M712 178h1.1M597 209h1.1M697 147h1.1M546 227h1.1M750 135h1.1M667 158h1.1M646 170h1.1M618 206h1.1M563 189h1.1M627 200h1.1M714 150h1.1M627 229h1.1M581 233h1.1M606 200h1.1M575 217h1.1M682 154h1.1M596 239h1.1M569 222h1.1M514 260h1.1M603 203h1.1M543 238h1.1M607 170h1.1M593 226h1.1M691 155h1.1M613 193h1.1M738 153h1.1M527 216h1.1M713 192h1.1M534 214h1.1M694 147h1.1M584 220h1.1M573 241h1.1M618 205h1.1M710 147h1.1M594 205h1.1M716 165h1.1M545 192h1.1M582 173h1.1M721 180h1.1M580 180h1.1M688 159h1.1M597 213h1.1M636 170h1.1M598 198h1.1M748 141h1.1M719 148h1.1M644 180h1.1M591 172h1.1M631 194h1.1M590 175h1.1M600 177h1.1M684 178h1.1M645 216h1.1M691 163h1.1M599 185h1.1M610 177h1.1M632 191h1.1M526 214h1.1M757 135h1.1M753 155h1.1M578 235h1.1M646 212h1.1M575 190h1.1M620 222h1.1M552 244h1.1M566 209h1.1M541 204h1.1M701 196h1.1M631 194h1.1M677 153h1.1M527 213h1.1M675 181h1.1M756 148h1.1M689 165h1.1M725 154h1.1M619 215h1.1M545 209h1.1M596 225h1.1M606 186h1.1M712 187h1.1M615 217h1.1M680 176h1.1M515 233h1.1M595 238h1.1M554 195h1.1M715 181h1.1M651 219h1.1M569 174h1.1M586 220h1.1M564 245h1.1M580 205h1.1M664 198h1.1M605 211h1.1M545 235h1.1M545 239h1.1M547 196h1.1M544 196h1.1M646 172h1.1M571 187h1.1M731 143h1.1M696 191h1.1M692 181h1.1M575 219h1.1M516 229h1.1M599 231h1.1M659 163h1.1M752 133h1.1M614 161h1.1M634 197h1.1M733 174h1.1M539 244h1.1M585 173h1.1M753 154h1.1M616 192h1.1M707 182h1.1M692 145h1.1M528 227h1.1M624 180h1.1M543 238h1.1M557 248h1.1M713 150h1.1M596 210h1.1M682 166h1.1M533 215h1.1M523 236h1.1M524 239h1.1M713 162h1.1M587 217h1.1M738 151h1.1M663 162h1.1M650 151h1.1M653 180h1.1M635 178h1.1M582 219h1.1M550 219h1.1M689 200h1.1M526 238h1.1M671 166h1.1M754 140h1.1M639 204h1.1M686 152h1.1M632 215h1.1M658 180h1.1M620 208h1.1M685 187h1.1M658 185h1.1M598 220h1.1M695 190h1.1M659 168h1.1M624 214h1.1M685 199h1.1M729 146h1.1M717 172h1.1M530 210h1.1M548 225h1.1M703 141h1.1M607 161h1.1M619 213h1.1M596 187h1.1M610 185h1.1M661 165h1.1M552 215h1.1M634 220h1.1M648 194h1.1M536 205h1.1M548 205h1.1M543 197h1.1M664 192h1.1M520 220h1.1M662 211h1.1M683 164h1.1M613 216h1.1M530 261h1.1M511 234h1.1M632 227h1.1M546 200h1.1M545 233h1.1M574 190h1.1M616 203h1.1M603 186h1.1M725 165h1.1M716 165h1.1M629 210h1.1M719 137h1.1M542 194h1.1M652 194h1.1M587 172h1.1M560 201h1.1M679 159h1.1M772 144h1.1M657 181h1.1M713 194h1.1M525 220h1.1M651 189h1.1M642 203h1.1M699 184h1.1M669 175h1.1M629 168h1.1M528 249h1.1M627 185h1.1M619 206h1.1M739 142h1.1M591 188h1.1M568 250h1.1M564 192h1.1M696 147h1.1M716 163h1.1M648 167h1.1M606 195h1.1M640 218h1.1M633 178h1.1M660 176h1.1M554 197h1.1M699 178h1.1M673 169h1.1M595 180h1.1M628 174h1.1M643 224h1.1M766 143h1.1M688 170h1.1M738 161h1.1M612 225h1.1M597 183h1.1M678 164h1.1M593 219h1.1M675 198h1.1M574 184h1.1M687 163h1.1M547 211h1.1M570 194h1.1M637 224h1.1M659 164h1.1M760 133h1.1M623 203h1.1M580 207h1.1M608 220h1.1M640 165h1.1M737 166h1.1M520 221h1.1M610 217h1.1M545 252h1.1M671 188h1.1M557 229h1.1M655 170h1.1M653 193h1.1M668 164h1.1M515 251h1.1M742 148h1.1M658 210h1.1M563 209h1.1M658 196h1.1M513 241h1.1M654 173h1.1M590 205h1.1M609 224h1.1M525 251h1.1M616 198h1.1M614 230h1.1M575 219h1.1M694 191h1.1M712 172h1.1M725 171h1.1M734 146h1.1M649 176h1.1M653 169h1.1M536 222h1.1M616 222h1.1M671 185h1.1M700 181h1.1M539 238h1.1M628 170h1.1M747 161h1.1M552 239h1.1M604 190h1.1M647 191h1.1M530 204h1.1M562 186h1.1M607 160h1.1M639 182h1.1M509 257h1.1M619 158h1.1M696 154h1.1M603 200h1.1M659 160h1.1M674 170h1.1M568 182h1.1M606 210h1.1M628 183h1.1M544 241h1.1M575 181h1.1M736 173h1.1M605 193h1.1M625 208h1.1M763 142h1.1M708 190h1.1M591 207h1.1M628 177h1.1M554 208h1.1M577 197h1.1M508 252h1.1M725 187h1.1M717 165h1.1M695 185h1.1M609 173h1.1M566 203h1.1M596 213h1.1M562 182h1.1M619 173h1.1M537 263h1.1M527 250h1.1M509 263h1.1M604 166h1.1M599 166h1.1M705 186h1.1M734 167h1.1M526 230h1.1M655 211h1.1M751 139h1.1M618 228h1.1M509 256h1.1M653 160h1.1M735 152h1.1M704 165h1.1M561 202h1.1M630 209h1.1M672 192h1.1M653 216h1.1M552 229h1.1M655 211h1.1M599 236h1.1M681 159h1.1M518 220h1.1M693 203h1.1M552 242h1.1M534 248h1.1M542 241h1.1M667 214h1.1M648 184h1.1M638 198h1.1M559 233h1.1M654 172h1.1M575 211h1.1M630 163h1.1M709 148h1.1M708 148h1.1M592 210h1.1M716 155h1.1M672 180h1.1M582 214h1.1M664 152h1.1M600 219h1.1M633 169h1.1M612 192h1.1M575 204h1.1M530 229h1.1M667 172h1.1M602 174h1.1M653 161h1.1M590 202h1.1M681 192h1.1M629 226h1.1M577 204h1.1M680 198h1.1M754 144h1.1M645 184h1.1M518 227h1.1M544 253h1.1M599 186h1.1M537 232h1.1M617 167h1.1M611 218h1.1M574 224h1.1M551 245h1.1M771 148h1.1M706 165h1.1M572 239h1.1M729 144h1.1M706 157h1.1M636 208h1.1M759 149h1.1M663 201h1.1M621 185h1.1M629 225h1.1M645 195h1.1M707 158h1.1M586 194h1.1M667 201h1.1M636 202h1.1M679 182h1.1M640 221h1.1M671 173h1.1M596 176h1.1M633 211h1.1M758 148h1.1M733 148h1.1M727 156h1.1M545 226h1.1M589 192h1.1M681 159h1.1M700 180h1.1M621 184h1.1M678 202h1.1M740 162h1.1M572 186h1.1M726 182h1.1M654 150h1.1M716 170h1.1M684 176h1.1M679 151h1.1M682 195h1.1M733 134h1.1M669 191h1.1M558 223h1.1M553 255h1.1M533 252h1.1M569 238h1.1M563 245h1.1M722 149h1.1M551 237h1.1M615 176h1.1M565 199h1.1M731 176h1.1M649 198h1.1M627 195h1.1M564 215h1.1M635 158h1.1M567 200h1.1M634 180h1.1M592 229h1.1M528 236h1.1M531 219h1.1M624 231h1.1M530 254h1.1M612 221h1.1M736 161h1.1M575 180h1.1M662 178h1.1M558 245h1.1M669 164h1.1M635 205h1.1M769 143h1.1M757 162h1.1M504 262h1.1M572 213h1.1M532 252h1.1M733 135h1.1M640 193h1.1M633 205h1.1M532 225h1.1M641 219h1.1M589 203h1.1M766 133h1.1M573 237h1.1M570 228h1.1M637 160h1.1M754 145h1.1M648 204h1.1M652 156h1.1M582 231h1.1M635 201h1.1M649 166h1.1M639 170h1.1M717 153h1.1M724 177h1.1M598 189h1.1M611 193h1.1M659 155h1.1M633 161h1.1M627 206h1.1M614 180h1.1M700 150h1.1M576 177h1.1M619 233h1.1M603 220h1.1M721 151h1.1M735 168h1.1M659 211h1.1M506 189h1.1M603 132h1.1M599 135h1.1M557 171h1.1M640 131h1.1M625 129h1.1M606 148h1.1M626 148h1.1M520 192h1.1M566 171h1.1M694 133h1.1M562 162h1.1M600 167h1.1M566 170h1.1M541 197h1.1M668 125h1.1M627 120h1.1M570 143h1.1M547 184h1.1M574 150h1.1M548 173h1.1M632 127h1.1M583 187h1.1M532 169h1.1M633 142h1.1M635 146h1.1M547 147h1.1M585 170h1.1M549 154h1.1M664 139h1.1M566 139h1.1M564 168h1.1M629 168h1.1M621 131h1.1M610 121h1.1M644 138h1.1M609 150h1.1M580 140h1.1M581 133h1.1M591 139h1.1M610 171h1.1M560 181h1.1M682 150h1.1M643 154h1.1M594 133h1.1M612 147h1.1M593 156h1.1M683 146h1.1M545 155h1.1M670 131h1.1M613 141h1.1M597 173h1.1M587 167h1.1M534 170h1.1M523 214h1.1M539 195h1.1M592 172h1.1M622 139h1.1M535 189h1.1M623 111h1.1M622 152h1.1M669 113h1.1M600 130h1.1M603 122h1.1M597 127h1.1M576 166h1.1M532 207h1.1M551 153h1.1M683 111h1.1M540 166h1.1M641 123h1.1M640 125h1.1M681 134h1.1M532 212h1.1M577 176h1.1M649 131h1.1M532 202h1.1M558 184h1.1M523 190h1.1M587 167h1.1M651 120h1.1M624 140h1.1M652 131h1.1M598 148h1.1M601 127h1.1M533 156h1.1M564 149h1.1M554 153h1.1M643 144h1.1M585 178h1.1M530 197h1.1M629 140h1.1M653 143h1.1M529 179h1.1M660 131h1.1M665 129h1.1M544 192h1.1M516 193h1.1M604 159h1.1M562 157h1.1M634 127h1.1M661 140h1.1M563 181h1.1M568 147h1.1M653 117h1.1M583 159h1.1M627 162h1.1M631 113h1.1M688 135h1.1M594 135h1.1M659 113h1.1M519 168h1.1M584 179h1.1M574 131h1.1M554 164h1.1M588 151h1.1M579 146h1.1M643 131h1.1M603 150h1.1M701 121h1.1M664 104h1.1M559 169h1.1M647 127h1.1M642 151h1.1M670 140h1.1M542 170h1.1M660 111h1.1M594 176h1.1M594 154h1.1M665 135h1.1M668 133h1.1M636 132h1.1M630 136h1.1M607 152h1.1M509 178h1.1M672 141h1.1M633 155h1.1M577 173h1.1M655 154h1.1M559 146h1.1M514 188h1.1M581 154h1.1M642 138h1.1M645 119h1.1M621 150h1.1M550 157h1.1M568 189h1.1M645 135h1.1M574 147h1.1M518 195h1.1M511 184h1.1M520 182h1.1M497 183h1.1M494 186h1.1M505 191h1.1M526 185h1.1M531 167h1.1M507 176h1.1M503 200h1.1M545 168h1.1M524 181h1.1M512 172h1.1M535 176h1.1M509 195h1.1M530 180h1.1M532 181h1.1M495 197h1.1M523 181h1.1M535 175h1.1M526 190h1.1M522 186h1.1M537 172h1.1M521 190h1.1M523 196h1.1M508 185h1.1M496 196h1.1M530 177h1.1M502 187h1.1M494 198h1.1M490 200h1.1M496 194h1.1M529 164h1.1M540 179h1.1M543 173h1.1M504 190h1.1M496 208h1.1M541 180h1.1M546 165h1.1M539 171h1.1M504 203h1.1M544 171h1.1M529 168h1.1M538 172h1.1M490 192h1.1M507 182h1.1M513 199h1.1M540 160h1.1M532 177h1.1M537 186h1.1M538 172h1.1M508 179h1.1M494 186h1.1M521 182h1.1M540 168h1.1M535 187h1.1M514 188h1.1M519 181h1.1M526 194h1.1M496 201h1.1M501 189h1.1M510 182h1.1M535 171h1.1M520 188h1.1M538 176h1.1M520 182h1.1M523 175h1.1M509 180h1.1M504 182h1.1M488 203h1.1M492 193h1.1M503 184h1.1M519 179h1.1M535 184h1.1M526 194h1.1M503 189h1.1M492 189h1.1M515 179h1.1M540 180h1.1M524 194h1.1M498 188h1.1M524 190h1.1M529 164h1.1M538 178h1.1M533 185h1.1M515 172h1.1M512 193h1.1M514 175h1.1M512 200h1.1M530 176h1.1M541 175h1.1M533 170h1.1M534 187h1.1M527 189h1.1M514 187h1.1M497 188h1.1M502 195h1.1M519 191h1.1M531 168h1.1M505 190h1.1M505 201h1.1M527 179h1.1M542 167h1.1M502 185h1.1M501 200h1.1M514 183h1.1M519 192h1.1M504 203h1.1M529 176h1.1M537 167h1.1M526 182h1.1M500 205h1.1M537 173h1.1M524 180h1.1M510 174h1.1M497 195h1.1M508 190h1.1M532 169h1.1M489 199h1.1M502 184h1.1M515 205h1.1M522 180h1.1M527 188h1.1M527 174h1.1M493 189h1.1M499 205h1.1M492 197h1.1M517 174h1.1M529 172h1.1M518 175h1.1M536 180h1.1M497 195h1.1M533 174h1.1M519 191h1.1M493 208h1.1M527 172h1.1M511 199h1.1M545 168h1.1M524 165h1.1M505 190h1.1M511 192h1.1M524 164h1.1M504 178h1.1M546 160h1.1M503 203h1.1M490 188h1.1M532 168h1.1M519 197h1.1M502 188h1.1M511 182h1.1M514 175h1.1M511 202h1.1M526 193h1.1M542 164h1.1M520 193h1.1M498 195h1.1M493 204h1.1M535 177h1.1M509 176h1.1M531 183h1.1M534 179h1.1M512 180h1.1M508 179h1.1M494 209h1.1M528 186h1.1M503 184h1.1M525 177h1.1M545 174h1.1M525 194h1.1M507 182h1.1M514 176h1.1M520 174h1.1M535 175h1.1M540 173h1.1M530 171h1.1M538 171h1.1M508 189h1.1M526 186h1.1M533 164h1.1M495 196h1.1M535 187h1.1M495 200h1.1M498 205h1.1M495 185h1.1M528 179h1.1M535 171h1.1M527 173h1.1M497 190h1.1M488 193h1.1M517 174h1.1M524 184h1.1M510 189h1.1M532 174h1.1M495 199h1.1M491 204h1.1M507 185h1.1M536 183h1.1M497 210h1.1M526 194h1.1M493 203h1.1M539 177h1.1M515 193h1.1M504 185h1.1M501 202h1.1M529 184h1.1M535 174h1.1M497 179h1.1M489 188h1.1M526 185h1.1M507 193h1.1M498 200h1.1M494 186h1.1M533 166h1.1M511 176h1.1M509 188h1.1M511 181h1.1M501 194h1.1M504 179h1.1M523 195h1.1M524 173h1.1M516 191h1.1M526 59h1.1M531 64h1.1M497 103h1.1M507 93h1.1M539 77h1.1M520 110h1.1M530 60h1.1M527 76h1.1M505 81h1.1M508 87h1.1M512 77h1.1M502 112h1.1M531 99h1.1M505 87h1.1M507 108h1.1M524 102h1.1M537 70h1.1M515 89h1.1M507 99h1.1M540 56h1.1M492 102h1.1M535 58h1.1M529 61h1.1M530 72h1.1M535 60h1.1M483 114h1.1M480 123h1.1M509 96h1.1M492 107h1.1M498 103h1.1M495 104h1.1M480 122h1.1M511 96h1.1M511 118h1.1M502 121h1.1M515 71h1.1M533 75h1.1M496 97h1.1M498 124h1.1M523 81h1.1M514 100h1.1M531 82h1.1M484 110h1.1M526 77h1.1M504 113h1.1M521 101h1.1M526 99h1.1M494 116h1.1M538 65h1.1M536 79h1.1M488 115h1.1M510 107h1.1M514 116h1.1M534 64h1.1M518 95h1.1M497 127h1.1M542 57h1.1M516 68h1.1M495 99h1.1M511 89h1.1M524 84h1.1M519 87h1.1M544 64h1.1M489 118h1.1M518 78h1.1M516 104h1.1M538 72h1.1M538 58h1.1M501 86h1.1M546 57h1.1M521 105h1.1M544 61h1.1M514 84h1.1M491 110h1.1M524 67h1.1M516 81h1.1M513 102h1.1M502 97h1.1M492 107h1.1M527 97h1.1M524 72h1.1M528 95h1.1M489 109h1.1M513 79h1.1M498 117h1.1M512 111h1.1M497 93h1.1M507 111h1.1M542 61h1.1M502 122h1.1M541 61h1.1M513 73h1.1M494 122h1.1M538 65h1.1M521 100h1.1M529 86h1.1M513 106h1.1M492 123h1.1M511 101h1.1M522 92h1.1M528 81h1.1M504 88h1.1M512 95h1.1M502 101h1.1M515 90h1.1M510 91h1.1M544 66h1.1M498 113h1.1M518 85h1.1M515 90h1.1M530 85h1.1M509 103h1.1M523 68h1.1M524 77h1.1M494 127h1.1M512 114h1.1M529 89h1.1M527 92h1.1M507 84h1.1M497 108h1.1M526 97h1.1M505 117h1.1M524 72h1.1M534 83h1.1M500 118h1.1M489 114h1.1M503 114h1.1M512 105h1.1M517 105h1.1M510 81h1.1M506 121h1.1M527 70h1.1M488 107h1.1M531 82h1.1M522 96h1.1M513 80h1.1M523 93h1.1M518 110h1.1M518 71h1.1M502 103h1.1M533 92h1.1M514 97h1.1M490 112h1.1M547 66h1.1M498 103h1.1M515 91h1.1M540 58h1.1M504 84h1.1M482 122h1.1M545 60h1.1M520 103h1.1M508 84h1.1M537 58h1.1M489 125h1.1M544 57h1.1M543 70h1.1M516 69h1.1M525 69h1.1M500 91h1.1M536 84h1.1M499 97h1.1M525 72h1.1M495 103h1.1M512 106h1.1M521 70h1.1M504 100h1.1M486 106h1.1M512 92h1.1M523 85h1.1M529 87h1.1M529 87h1.1M504 88h1.1M486 115h1.1M499 102h1.1M505 106h1.1M515 89h1.1M534 68h1.1M513 86h1.1M515 105h1.1M516 105h1.1M527 85h1.1M517 103h1.1M527 63h1.1M504 97h1.1M511 70h1.1M504 90h1.1M513 91h1.1M508 101h1.1M525 77h1.1M509 98h1.1M496 98h1.1M490 98h1.1M493 103h1.1M504 114h1.1M490 111h1.1M518 73h1.1M504 108h1.1M542 67h1.1M544 75h1.1M538 80h1.1M497 95h1.1M527 98h1.1M527 87h1.1M504 117h1.1M534 87h1.1M538 60h1.1M542 74h1.1M529 70h1.1M532 87h1.1M542 79h1.1M519 67h1.1M532 60h1.1M532 69h1.1M523 70h1.1M526 64h1.1M497 99h1.1M498 128h1.1M522 67h1.1M511 96h1.1M523 101h1.1M485 122h1.1M518 86h1.1M484 115h1.1M543 68h1.1M542 74h1.1M513 109h1.1M497 100h1.1M506 116h1.1M505 114h1.1M538 66h1.1M513 242h1.1M502 261h1.1M483 269h1.1M520 260h1.1M499 256h1.1M487 255h1.1M512 227h1.1M489 226h1.1M469 232h1.1M517 240h1.1M505 238h1.1M472 258h1.1M516 233h1.1M475 239h1.1M496 255h1.1M516 240h1.1M512 255h1.1M535 261h1.1M506 263h1.1M487 236h1.1M490 240h1.1M504 251h1.1M510 271h1.1M517 246h1.1M471 264h1.1" fill="none" stroke="#307dbd" stroke-width="3.3" stroke-linecap="round"/>
<path d="M540 232L565 208L600 194L630 185L670 173L705 160L745 143L768 136L772 141L750 160L720 182L700 195L665 210L630 224L595 235L560 246L542 250Z" fill="#f4a325"/>
<path d="M491 104L503 86L517 70L529 62L537 66L526 88L513 105L501 113Z" fill="#f4a325"/>
<path d="M746 163h1.1M653 183h1.1M581 223h1.1M572 218h1.1M750 153h1.1M626 218h1.1M745 159h1.1M625 166h1.1M568 196h1.1M618 199h1.1M546 219h1.1M724 178h1.1M613 168h1.1M549 194h1.1M697 172h1.1M724 164h1.1M668 184h1.1M702 189h1.1M619 187h1.1M548 237h1.1M618 197h1.1M630 212h1.1M647 208h1.1M700 159h1.1M681 190h1.1M613 217h1.1M609 213h1.1M634 171h1.1M645 215h1.1M593 178h1.1M644 193h1.1M745 145h1.1M562 195h1.1M637 175h1.1M719 142h1.1M568 227h1.1M716 144h1.1M715 185h1.1M692 187h1.1M594 222h1.1M614 217h1.1M588 206h1.1M509 256h1.1M611 218h1.1M621 218h1.1M526 254h1.1M574 181h1.1M533 225h1.1M636 216h1.1M696 193h1.1M593 196h1.1M636 172h1.1M601 189h1.1M632 209h1.1M648 168h1.1M697 160h1.1M675 189h1.1M616 188h1.1M528 245h1.1M584 180h1.1M735 153h1.1M657 179h1.1M634 214h1.1M598 227h1.1M728 168h1.1M645 202h1.1M590 211h1.1M602 199h1.1M741 144h1.1M655 197h1.1M637 167h1.1M679 169h1.1M675 187h1.1M649 207h1.1M689 192h1.1M541 215h1.1M554 225h1.1M542 220h1.1M667 175h1.1M629 163h1.1M674 164h1.1M594 178h1.1M575 232h1.1M627 178h1.1M678 157h1.1M677 199h1.1M523 249h1.1M655 171h1.1M667 209h1.1M616 199h1.1M520 240h1.1M743 144h1.1M557 225h1.1M595 235h1.1M627 206h1.1M615 216h1.1M675 180h1.1M629 175h1.1M558 226h1.1M590 179h1.1M673 172h1.1M590 230h1.1M600 175h1.1M626 173h1.1M664 168h1.1M585 195h1.1M548 233h1.1M720 150h1.1M523 237h1.1M624 185h1.1M558 215h1.1M709 156h1.1M688 157h1.1M630 210h1.1M586 215h1.1M602 211h1.1M585 195h1.1M590 227h1.1M655 163h1.1M712 174h1.1M740 145h1.1M674 190h1.1M573 198h1.1M619 192h1.1M704 157h1.1M556 216h1.1M678 176h1.1M724 146h1.1M683 157h1.1M652 162h1.1M546 211h1.1M671 183h1.1M715 147h1.1M651 166h1.1M605 175h1.1M637 208h1.1M623 193h1.1M694 175h1.1M694 181h1.1M604 169h1.1M644 204h1.1M585 213h1.1M571 229h1.1M525 220h1.1M634 164h1.1M564 197h1.1M594 175h1.1M679 155h1.1M523 225h1.1M670 169h1.1M726 171h1.1M587 239h1.1M635 191h1.1M740 162h1.1M524 234h1.1M594 200h1.1M568 197h1.1M638 167h1.1M560 201h1.1M760 147h1.1M738 151h1.1M651 184h1.1M691 190h1.1M547 204h1.1M533 237h1.1M728 167h1.1M553 219h1.1M542 220h1.1M633 225h1.1M704 159h1.1M599 187h1.1M587 226h1.1M545 224h1.1M543 216h1.1M676 174h1.1M510 257h1.1M743 149h1.1M657 173h1.1M638 174h1.1M568 233h1.1M529 231h1.1M634 188h1.1M586 174h1.1M560 231h1.1M610 227h1.1M628 201h1.1M736 147h1.1M624 209h1.1M573 229h1.1M659 205h1.1M657 166h1.1M742 149h1.1M546 203h1.1M580 177h1.1M549 218h1.1M705 164h1.1M617 220h1.1M671 156h1.1M739 144h1.1M613 197h1.1M599 186h1.1M620 227h1.1M613 202h1.1M611 171h1.1M568 227h1.1M723 154h1.1M694 180h1.1M720 160h1.1M648 182h1.1M544 233h1.1M668 160h1.1M599 203h1.1M558 248h1.1M680 190h1.1M666 180h1.1M671 174h1.1M620 222h1.1M536 239h1.1M635 219h1.1M632 178h1.1M660 184h1.1M699 169h1.1M635 198h1.1M569 196h1.1M580 220h1.1M631 167h1.1M558 230h1.1M544 230h1.1M635 214h1.1M556 227h1.1M585 206h1.1M674 192h1.1M629 195h1.1M607 224h1.1M541 243h1.1M611 220h1.1M643 217h1.1M543 222h1.1M564 219h1.1M567 187h1.1M689 156h1.1M676 184h1.1M700 156h1.1M727 156h1.1M722 150h1.1M700 153h1.1M561 242h1.1M543 227h1.1M609 197h1.1M583 190h1.1M663 171h1.1M608 176h1.1M742 147h1.1M614 184h1.1M597 211h1.1M754 146h1.1M559 228h1.1M615 206h1.1M532 237h1.1M700 178h1.1M586 234h1.1M742 141h1.1M643 169h1.1M542 228h1.1M664 175h1.1M551 251h1.1M614 184h1.1M723 165h1.1M654 195h1.1M525 249h1.1M748 159h1.1M604 187h1.1M758 145h1.1M656 185h1.1M613 206h1.1M558 243h1.1M582 237h1.1M588 218h1.1M637 167h1.1M732 146h1.1M686 200h1.1M676 193h1.1M677 193h1.1M558 207h1.1M602 168h1.1M574 239h1.1M646 179h1.1M663 168h1.1M548 223h1.1M708 164h1.1M535 229h1.1M618 196h1.1M583 193h1.1M543 237h1.1M693 157h1.1M586 185h1.1M623 195h1.1M664 192h1.1M701 183h1.1M598 189h1.1M541 248h1.1M653 194h1.1M662 187h1.1M677 171h1.1M576 237h1.1M659 208h1.1M587 192h1.1M641 184h1.1M727 144h1.1M632 190h1.1M544 208h1.1M557 245h1.1M535 209h1.1M660 208h1.1M602 218h1.1M666 180h1.1M657 166h1.1M692 181h1.1M528 254h1.1M614 207h1.1M579 225h1.1M642 168h1.1M529 243h1.1M695 194h1.1M621 181h1.1M626 170h1.1M653 158h1.1M636 196h1.1M638 176h1.1M652 181h1.1M710 178h1.1M658 178h1.1M652 180h1.1M541 224h1.1M569 226h1.1M574 184h1.1M558 216h1.1M688 184h1.1M640 179h1.1M663 207h1.1M586 219h1.1M528 233h1.1M557 194h1.1M525 256h1.1M580 181h1.1M720 156h1.1M614 213h1.1M657 179h1.1M629 202h1.1M661 207h1.1M561 223h1.1M647 191h1.1M643 189h1.1M537 251h1.1M718 170h1.1M686 178h1.1M650 202h1.1M625 191h1.1M718 181h1.1M685 158h1.1M578 213h1.1M577 213h1.1M634 204h1.1M583 227h1.1M672 161h1.1M659 153h1.1M647 195h1.1M656 202h1.1M754 148h1.1M707 158h1.1M650 176h1.1M554 229h1.1M757 143h1.1M585 191h1.1M579 181h1.1M676 188h1.1M537 240h1.1M547 202h1.1M624 212h1.1M630 167h1.1M683 166h1.1M735 165h1.1M570 219h1.1M635 169h1.1M662 185h1.1M533 249h1.1M678 155h1.1M661 160h1.1M606 214h1.1M638 219h1.1M704 181h1.1M540 226h1.1M599 180h1.1M521 246h1.1M621 170h1.1M667 159h1.1M593 193h1.1M707 152h1.1M732 151h1.1M663 191h1.1M535 255h1.1M588 199h1.1M513 249h1.1M599 214h1.1M544 230h1.1M578 195h1.1M690 167h1.1M729 166h1.1M601 200h1.1M591 188h1.1M665 168h1.1M705 165h1.1M627 174h1.1M717 170h1.1M591 197h1.1M654 204h1.1M623 209h1.1M582 211h1.1M583 237h1.1M572 180h1.1M578 230h1.1M584 205h1.1M578 208h1.1M644 172h1.1M557 206h1.1M584 193h1.1M574 196h1.1M692 169h1.1M686 155h1.1M650 181h1.1M758 142h1.1M642 177h1.1M677 193h1.1M653 158h1.1M655 168h1.1M620 178h1.1M640 196h1.1M673 189h1.1M602 204h1.1M603 185h1.1M568 202h1.1M584 208h1.1M706 185h1.1M536 220h1.1M690 178h1.1M698 167h1.1M608 188h1.1M568 199h1.1M551 239h1.1M648 210h1.1M660 167h1.1M719 163h1.1M639 208h1.1M575 216h1.1M557 231h1.1M643 194h1.1M591 192h1.1M622 222h1.1M545 224h1.1M679 175h1.1M732 175h1.1M568 216h1.1M703 190h1.1M690 192h1.1M603 214h1.1M713 153h1.1M592 205h1.1M575 215h1.1M759 149h1.1M636 198h1.1M685 191h1.1M698 160h1.1M577 229h1.1M624 181h1.1M605 196h1.1M577 209h1.1M561 229h1.1M631 213h1.1M579 232h1.1M719 179h1.1M679 171h1.1M678 196h1.1M603 185h1.1M729 177h1.1M679 151h1.1M738 151h1.1M579 231h1.1M576 240h1.1M611 215h1.1M707 191h1.1M597 204h1.1M667 190h1.1M562 226h1.1M731 166h1.1M668 198h1.1M665 195h1.1M766 138h1.1M554 246h1.1M626 215h1.1M583 213h1.1M580 212h1.1M556 195h1.1M652 180h1.1M532 228h1.1M714 165h1.1M729 171h1.1M657 173h1.1M718 155h1.1M657 162h1.1M658 175h1.1M742 146h1.1M608 183h1.1M565 239h1.1M679 181h1.1M587 225h1.1M579 227h1.1M720 155h1.1M717 161h1.1M546 228h1.1M589 200h1.1M559 217h1.1M661 162h1.1M642 168h1.1M710 179h1.1M731 148h1.1M654 207h1.1M668 185h1.1M702 172h1.1M583 212h1.1M740 150h1.1M588 216h1.1M705 151h1.1M546 229h1.1M582 225h1.1M578 210h1.1M717 162h1.1M718 146h1.1M642 211h1.1M593 184h1.1M735 152h1.1M701 146h1.1M537 211h1.1M583 235h1.1M663 207h1.1M639 188h1.1M601 173h1.1M702 147h1.1M612 170h1.1M585 191h1.1M592 180h1.1M731 154h1.1M614 219h1.1M519 254h1.1M722 157h1.1M534 217h1.1M564 231h1.1M522 256h1.1M605 227h1.1M682 194h1.1M630 182h1.1M526 235h1.1M736 140h1.1M633 211h1.1M704 181h1.1M645 161h1.1M618 181h1.1M724 154h1.1M706 154h1.1M596 196h1.1M672 207h1.1M530 226h1.1M618 190h1.1M632 221h1.1M754 153h1.1M639 173h1.1M576 233h1.1M617 215h1.1M579 206h1.1M690 174h1.1M649 193h1.1M635 164h1.1M537 223h1.1M690 165h1.1M549 198h1.1M688 195h1.1M667 195h1.1M726 163h1.1M568 215h1.1M535 248h1.1M654 166h1.1M657 173h1.1M697 156h1.1M602 187h1.1M669 203h1.1M656 185h1.1M544 210h1.1M540 206h1.1M539 220h1.1M685 187h1.1M748 152h1.1M655 183h1.1M641 196h1.1M566 232h1.1M649 180h1.1M684 189h1.1M616 202h1.1M590 196h1.1M575 187h1.1M615 183h1.1M655 166h1.1M608 230h1.1M684 174h1.1M535 239h1.1M680 196h1.1M692 172h1.1M613 172h1.1M655 163h1.1M575 180h1.1M544 208h1.1M566 207h1.1M683 188h1.1M718 168h1.1M585 178h1.1M629 199h1.1M575 216h1.1M587 211h1.1M677 189h1.1M643 205h1.1M579 210h1.1M548 194h1.1M729 158h1.1M714 170h1.1M652 183h1.1M605 215h1.1M614 184h1.1M593 193h1.1M577 229h1.1M575 186h1.1M581 205h1.1M648 160h1.1M654 173h1.1M564 228h1.1M547 245h1.1M670 172h1.1M621 188h1.1M684 157h1.1M590 229h1.1M681 169h1.1M598 199h1.1M595 172h1.1M546 206h1.1M728 147h1.1M558 235h1.1M654 194h1.1M703 150h1.1M640 204h1.1M655 193h1.1M577 215h1.1M524 256h1.1M709 182h1.1M641 182h1.1M522 252h1.1M621 177h1.1M542 235h1.1M563 211h1.1M579 221h1.1M585 229h1.1M633 194h1.1M537 238h1.1M576 217h1.1M594 204h1.1M618 221h1.1M604 221h1.1M553 229h1.1M605 182h1.1M519 256h1.1M649 208h1.1M542 244h1.1M577 201h1.1M665 203h1.1M542 252h1.1M643 167h1.1M617 163h1.1M637 179h1.1M678 154h1.1M533 218h1.1M742 161h1.1M712 160h1.1M579 233h1.1M563 210h1.1M565 206h1.1M538 233h1.1M586 187h1.1M656 164h1.1M557 205h1.1M683 190h1.1M672 153h1.1M641 216h1.1M680 175h1.1M570 202h1.1M574 220h1.1M737 151h1.1M604 219h1.1M647 205h1.1M629 209h1.1M680 186h1.1M557 247h1.1M693 156h1.1M698 171h1.1M679 192h1.1M577 227h1.1M649 163h1.1M535 228h1.1M676 172h1.1M702 173h1.1M547 245h1.1M568 238h1.1M595 190h1.1M682 178h1.1M651 208h1.1M679 187h1.1M608 191h1.1M583 208h1.1M695 151h1.1M538 245h1.1M689 191h1.1M680 177h1.1M582 209h1.1M690 151h1.1M589 198h1.1M638 219h1.1M665 175h1.1M735 156h1.1M678 195h1.1M738 159h1.1M635 174h1.1M557 222h1.1M623 208h1.1M673 196h1.1M739 160h1.1M644 187h1.1M647 210h1.1M661 157h1.1M654 168h1.1M703 163h1.1M655 182h1.1M573 231h1.1M593 212h1.1M610 225h1.1M571 235h1.1M722 145h1.1M519 259h1.1M716 160h1.1M685 166h1.1M576 208h1.1M688 157h1.1M554 205h1.1M583 228h1.1M693 181h1.1M719 171h1.1M621 211h1.1M678 181h1.1M540 209h1.1M729 147h1.1M586 201h1.1M599 235h1.1M617 223h1.1M590 231h1.1M590 207h1.1M549 203h1.1M682 156h1.1M642 172h1.1M520 229h1.1M649 196h1.1M585 199h1.1M615 184h1.1M633 176h1.1M579 193h1.1M684 168h1.1M732 155h1.1M637 171h1.1M652 166h1.1M580 192h1.1M708 183h1.1M667 186h1.1M516 252h1.1M577 201h1.1M554 215h1.1M745 151h1.1M687 184h1.1M574 213h1.1M542 242h1.1M562 222h1.1M638 210h1.1M587 178h1.1M594 208h1.1M726 174h1.1M711 164h1.1M679 162h1.1M548 234h1.1M600 178h1.1M538 212h1.1M731 169h1.1M592 195h1.1M737 157h1.1M730 163h1.1M624 212h1.1M656 181h1.1M624 206h1.1M643 200h1.1M741 159h1.1M664 154h1.1M678 183h1.1M545 223h1.1M638 183h1.1M675 196h1.1M582 205h1.1M630 191h1.1M545 232h1.1M704 158h1.1M624 173h1.1M750 157h1.1M581 206h1.1M538 226h1.1M524 253h1.1M722 166h1.1M575 232h1.1M652 208h1.1M641 194h1.1M659 159h1.1M557 192h1.1M588 223h1.1M558 198h1.1M554 246h1.1M638 178h1.1M696 161h1.1M536 219h1.1M661 176h1.1M579 178h1.1M586 176h1.1M703 152h1.1M643 201h1.1M552 243h1.1M582 201h1.1M702 170h1.1M697 153h1.1M537 239h1.1M533 253h1.1M606 190h1.1M548 221h1.1M600 226h1.1M599 188h1.1M642 175h1.1M608 221h1.1M663 192h1.1M686 170h1.1M545 234h1.1M664 193h1.1M645 208h1.1M635 224h1.1M604 179h1.1M553 230h1.1M676 179h1.1M524 227h1.1M593 178h1.1M547 215h1.1M588 170h1.1M532 223h1.1M746 148h1.1M560 214h1.1M682 182h1.1M521 231h1.1M654 184h1.1M573 231h1.1M572 232h1.1M701 177h1.1M669 163h1.1M568 222h1.1M704 147h1.1M674 167h1.1M611 183h1.1M733 155h1.1M679 169h1.1M655 164h1.1M747 156h1.1M636 175h1.1M574 187h1.1M611 172h1.1M731 169h1.1M694 184h1.1M524 240h1.1M610 206h1.1M590 175h1.1M534 225h1.1M582 229h1.1M631 215h1.1M578 236h1.1M579 198h1.1M533 250h1.1M675 159h1.1M563 218h1.1M657 195h1.1M599 216h1.1M515 255h1.1M588 226h1.1M694 188h1.1M528 257h1.1M676 175h1.1M620 206h1.1M577 203h1.1M655 156h1.1M556 225h1.1M539 217h1.1M640 203h1.1M705 146h1.1M581 226h1.1M589 176h1.1M536 247h1.1M706 167h1.1M585 226h1.1M587 178h1.1M738 148h1.1M537 247h1.1M706 175h1.1M716 167h1.1M727 154h1.1M673 172h1.1M719 174h1.1M670 183h1.1M534 235h1.1M686 198h1.1M642 173h1.1M534 219h1.1M595 186h1.1M600 204h1.1M647 189h1.1M540 221h1.1M638 195h1.1M659 174h1.1M569 211h1.1M629 170h1.1M653 203h1.1M595 187h1.1M552 228h1.1M673 157h1.1M741 156h1.1M619 215h1.1M678 201h1.1M604 207h1.1M739 157h1.1M641 168h1.1M600 204h1.1M623 194h1.1M661 207h1.1M592 224h1.1M655 161h1.1M670 197h1.1M739 150h1.1M595 205h1.1M607 176h1.1M579 205h1.1M716 147h1.1M711 188h1.1M713 154h1.1M692 175h1.1M571 192h1.1M625 207h1.1M596 207h1.1M691 184h1.1M607 207h1.1M522 234h1.1M555 212h1.1M609 177h1.1M552 226h1.1M715 176h1.1M577 204h1.1M577 186h1.1M535 252h1.1M612 183h1.1M593 208h1.1M554 205h1.1M607 200h1.1M577 219h1.1M708 179h1.1M598 207h1.1M573 199h1.1M671 156h1.1M667 197h1.1M657 191h1.1M678 177h1.1M597 227h1.1M599 220h1.1M664 202h1.1M569 210h1.1M609 192h1.1M639 210h1.1M589 202h1.1M599 189h1.1M585 200h1.1M651 210h1.1M628 180h1.1M550 231h1.1M561 209h1.1M597 186h1.1M684 176h1.1M636 174h1.1M667 206h1.1M742 151h1.1M568 224h1.1M560 229h1.1M605 212h1.1M537 210h1.1M686 158h1.1M597 228h1.1M657 214h1.1M575 239h1.1M635 190h1.1M614 193h1.1M597 171h1.1M558 197h1.1M570 225h1.1M744 146h1.1M643 193h1.1M601 205h1.1M703 156h1.1M521 236h1.1M614 187h1.1M680 152h1.1M702 164h1.1M598 215h1.1M566 222h1.1M692 155h1.1M650 206h1.1M591 211h1.1M540 241h1.1M727 154h1.1M666 167h1.1M531 249h1.1M722 144h1.1M599 185h1.1M586 234h1.1M727 161h1.1M617 182h1.1M528 226h1.1M661 174h1.1M586 214h1.1M676 162h1.1M558 235h1.1M561 194h1.1M552 204h1.1M602 227h1.1M610 178h1.1M577 191h1.1M561 242h1.1M688 173h1.1M546 248h1.1M574 181h1.1M554 218h1.1M615 208h1.1M604 234h1.1M727 156h1.1M601 189h1.1M603 183h1.1M672 186h1.1M559 237h1.1M749 156h1.1M697 150h1.1M599 202h1.1M534 245h1.1M646 172h1.1M683 183h1.1M588 232h1.1M578 201h1.1M524 257h1.1M649 175h1.1M664 188h1.1M703 147h1.1M600 201h1.1M729 161h1.1M576 225h1.1M725 146h1.1M594 172h1.1M703 181h1.1M606 221h1.1M693 171h1.1M706 172h1.1M609 205h1.1M543 236h1.1M673 189h1.1M571 179h1.1M684 170h1.1M688 161h1.1M601 177h1.1M657 174h1.1M650 173h1.1M683 189h1.1M622 219h1.1M626 204h1.1M601 210h1.1M689 171h1.1M672 129h1.1M576 174h1.1M641 153h1.1M649 133h1.1M673 135h1.1M598 135h1.1M585 135h1.1M581 161h1.1M661 142h1.1M649 142h1.1M669 134h1.1M602 151h1.1M662 122h1.1M570 174h1.1M579 143h1.1M613 132h1.1M537 152h1.1M569 156h1.1M666 148h1.1M666 121h1.1M620 164h1.1M581 144h1.1M612 124h1.1M625 159h1.1M687 121h1.1M582 145h1.1M661 129h1.1M668 117h1.1M591 155h1.1M617 144h1.1M555 152h1.1M646 116h1.1M531 159h1.1M679 121h1.1M620 136h1.1M528 191h1.1M604 144h1.1M599 119h1.1M653 120h1.1M629 144h1.1M669 146h1.1M552 183h1.1M545 188h1.1M679 134h1.1M520 223h1.1M540 174h1.1M529 198h1.1M571 148h1.1M626 118h1.1M507 193h1.1M577 147h1.1M535 212h1.1M644 149h1.1M565 157h1.1M656 125h1.1M678 118h1.1M628 134h1.1M601 127h1.1M511 192h1.1M640 129h1.1M513 192h1.1M495 193h1.1M497 203h1.1M520 182h1.1M511 189h1.1M499 209h1.1M502 190h1.1M520 187h1.1M530 185h1.1M500 194h1.1M502 187h1.1M529 173h1.1M498 204h1.1M512 178h1.1M525 187h1.1M502 197h1.1M497 201h1.1M541 169h1.1M516 194h1.1M531 181h1.1M521 171h1.1M510 196h1.1M518 185h1.1M508 193h1.1M529 177h1.1M529 184h1.1M508 185h1.1M541 171h1.1M539 169h1.1M534 175h1.1M516 187h1.1M500 187h1.1M536 180h1.1M513 195h1.1M503 187h1.1M512 191h1.1M529 173h1.1M543 172h1.1M506 200h1.1M506 197h1.1M521 180h1.1M516 179h1.1M532 168h1.1M514 186h1.1M502 189h1.1M506 190h1.1M517 176h1.1M510 192h1.1M544 164h1.1M520 170h1.1M522 171h1.1M523 178h1.1M536 177h1.1M497 199h1.1M536 175h1.1M521 179h1.1M535 172h1.1M489 199h1.1M513 189h1.1M522 187h1.1M526 185h1.1M505 192h1.1M493 196h1.1M527 171h1.1M534 176h1.1M502 192h1.1M526 180h1.1M509 182h1.1M540 179h1.1M508 185h1.1M508 188h1.1M507 200h1.1M518 191h1.1M512 187h1.1M513 190h1.1M495 193h1.1M507 190h1.1M514 196h1.1M525 189h1.1M533 176h1.1M514 177h1.1M494 194h1.1M501 188h1.1M497 190h1.1M496 191h1.1M538 168h1.1M510 189h1.1M498 192h1.1M504 198h1.1M496 199h1.1M513 194h1.1M511 185h1.1M520 195h1.1M510 188h1.1M512 185h1.1M536 179h1.1M514 183h1.1M534 175h1.1M539 170h1.1M498 196h1.1M528 174h1.1M504 197h1.1M517 173h1.1M532 165h1.1M508 186h1.1M509 184h1.1M521 191h1.1M528 169h1.1M513 190h1.1M507 201h1.1M545 163h1.1M534 177h1.1M517 197h1.1M514 196h1.1M508 191h1.1M497 198h1.1M497 185h1.1M534 178h1.1M487 198h1.1M501 197h1.1M539 177h1.1M517 183h1.1M524 189h1.1M517 194h1.1M539 174h1.1M494 199h1.1M508 186h1.1M508 193h1.1M514 195h1.1M508 182h1.1M515 191h1.1M501 198h1.1M524 174h1.1M531 179h1.1M493 188h1.1M524 177h1.1M493 198h1.1M512 181h1.1M506 187h1.1M495 199h1.1M499 111h1.1M522 90h1.1M515 96h1.1M517 99h1.1M496 101h1.1M510 114h1.1M497 109h1.1M513 104h1.1M505 116h1.1M529 66h1.1M486 119h1.1M528 76h1.1M519 73h1.1M504 91h1.1M526 70h1.1M539 59h1.1M492 107h1.1M512 81h1.1M524 68h1.1M524 68h1.1M503 94h1.1M481 123h1.1M530 84h1.1M503 85h1.1M532 73h1.1M509 89h1.1M484 118h1.1M531 78h1.1M529 90h1.1M499 116h1.1M519 81h1.1M510 108h1.1M523 68h1.1M527 95h1.1M523 90h1.1M508 113h1.1M532 73h1.1M488 118h1.1M513 82h1.1M541 67h1.1M512 94h1.1M522 99h1.1M541 63h1.1M514 97h1.1M497 121h1.1M522 92h1.1M531 71h1.1M531 94h1.1M533 61h1.1M505 101h1.1M488 118h1.1M538 70h1.1M496 99h1.1M526 94h1.1M532 74h1.1M496 115h1.1M499 98h1.1M490 121h1.1M506 93h1.1M524 91h1.1M521 71h1.1M521 64h1.1M529 69h1.1M518 92h1.1M523 86h1.1M524 72h1.1M511 96h1.1M504 120h1.1M486 119h1.1M507 83h1.1M500 116h1.1M530 65h1.1M493 103h1.1M531 63h1.1M499 109h1.1M525 66h1.1M497 95h1.1M517 100h1.1M505 113h1.1M521 73h1.1M512 96h1.1M512 95h1.1M537 70h1.1M505 110h1.1M509 88h1.1M524 95h1.1M525 82h1.1M490 115h1.1M536 71h1.1M517 86h1.1M536 62h1.1M505 93h1.1M535 62h1.1M534 81h1.1M492 116h1.1M535 64h1.1M508 99h1.1M495 122h1.1M516 87h1.1M525 82h1.1M536 63h1.1M528 75h1.1M511 83h1.1M514 79h1.1M529 67h1.1M500 94h1.1M521 93h1.1M533 67h1.1M522 70h1.1M515 87h1.1M512 107h1.1M517 76h1.1M525 87h1.1M536 80h1.1M510 94h1.1M529 90h1.1M531 71h1.1M509 114h1.1M534 81h1.1M525 67h1.1M514 99h1.1M502 96h1.1M508 89h1.1M523 88h1.1M513 109h1.1M521 95h1.1M511 93h1.1M517 69h1.1M482 124h1.1M526 86h1.1M506 108h1.1M498 118h1.1M490 115h1.1M513 93h1.1M536 85h1.1M505 95h1.1M505 99h1.1M485 122h1.1M494 111h1.1M512 85h1.1M500 95h1.1M499 102h1.1M492 101h1.1M524 72h1.1M524 78h1.1M532 70h1.1M497 98h1.1M507 81h1.1M520 93h1.1M530 66h1.1M526 83h1.1M485 122h1.1M529 69h1.1M502 117h1.1M545 59h1.1M529 93h1.1M501 121h1.1M498 112h1.1M504 106h1.1M514 76h1.1M534 74h1.1M540 80h1.1M528 80h1.1M532 66h1.1M531 89h1.1M533 78h1.1M524 70h1.1M491 104h1.1M491 122h1.1M498 96h1.1M545 63h1.1M507 93h1.1M493 124h1.1M516 92h1.1M522 77h1.1M502 122h1.1M518 76h1.1M517 103h1.1M500 94h1.1M531 86h1.1M531 87h1.1M521 87h1.1M528 88h1.1M488 107h1.1M521 71h1.1M501 107h1.1M507 94h1.1M525 64h1.1M504 103h1.1M516 87h1.1M550 113h1.1M578 109h1.1M630 122h1.1M492 262h1.1M498 268h1.1" fill="none" stroke="#f4a325" stroke-width="3.3" stroke-linecap="round"/>
<path d="M643 177h1.1M662 197h1.1M624 228h1.1M542 223h1.1M600 214h1.1M602 235h1.1M654 165h1.1M627 172h1.1M569 198h1.1M562 223h1.1M523 234h1.1M551 208h1.1M616 176h1.1M624 160h1.1M569 184h1.1M548 247h1.1M605 194h1.1M563 193h1.1M545 248h1.1M642 193h1.1M666 212h1.1M579 179h1.1M593 206h1.1M554 225h1.1M615 187h1.1M584 237h1.1M625 168h1.1M580 201h1.1M587 196h1.1M538 224h1.1M625 219h1.1M542 214h1.1M559 244h1.1M619 211h1.1M643 170h1.1M515 244h1.1M555 222h1.1M561 208h1.1M676 203h1.1M606 182h1.1M549 197h1.1M583 229h1.1M565 198h1.1M516 231h1.1M596 181h1.1M525 224h1.1M547 255h1.1M602 196h1.1M542 216h1.1M526 214h1.1M547 215h1.1M573 178h1.1M626 164h1.1M550 207h1.1M535 250h1.1M541 206h1.1M508 258h1.1M538 240h1.1M552 217h1.1M559 229h1.1M608 216h1.1M550 241h1.1M630 170h1.1M533 250h1.1M588 170h1.1M566 243h1.1M541 210h1.1M555 232h1.1M560 215h1.1M581 193h1.1M525 247h1.1M595 216h1.1M528 224h1.1M574 194h1.1M531 235h1.1M567 242h1.1M629 209h1.1M655 174h1.1M586 171h1.1M634 181h1.1M626 172h1.1M552 242h1.1M574 188h1.1M532 238h1.1M572 219h1.1M570 184h1.1M573 221h1.1M549 196h1.1M518 243h1.1M591 197h1.1M528 216h1.1M604 221h1.1M648 212h1.1M530 247h1.1M546 229h1.1M566 203h1.1M635 182h1.1M616 174h1.1M565 188h1.1M579 175h1.1M580 188h1.1M542 228h1.1M605 203h1.1M530 256h1.1M652 204h1.1M528 246h1.1M644 194h1.1M538 244h1.1M647 160h1.1M625 179h1.1M632 219h1.1M611 212h1.1M531 240h1.1M562 215h1.1M589 211h1.1M531 211h1.1M627 210h1.1M629 177h1.1M601 182h1.1M631 205h1.1M539 244h1.1M529 252h1.1M569 215h1.1M524 241h1.1M592 213h1.1M656 153h1.1M597 169h1.1M608 182h1.1M605 203h1.1M541 251h1.1M667 183h1.1M546 225h1.1M538 257h1.1M634 213h1.1M529 209h1.1M624 167h1.1M568 186h1.1M663 165h1.1M584 192h1.1M577 178h1.1M584 205h1.1M541 239h1.1M567 209h1.1M647 214h1.1M569 205h1.1M564 216h1.1M532 249h1.1M567 245h1.1M524 233h1.1M538 235h1.1" fill="none" stroke="#307dbd" stroke-width="3.3" stroke-linecap="round"/>
<path d="M629 168h1.1M618 187h1.1M538 232h1.1M600 205h1.1M660 186h1.1M609 178h1.1M633 205h1.1M570 225h1.1M753 152h1.1M746 152h1.1M638 211h1.1M600 201h1.1M702 164h1.1M673 189h1.1M714 151h1.1M555 237h1.1M695 148h1.1M657 183h1.1M693 164h1.1M567 198h1.1M762 141h1.1M564 237h1.1M618 208h1.1M610 226h1.1M521 236h1.1M584 207h1.1M628 193h1.1M560 240h1.1M580 218h1.1M516 238h1.1M643 170h1.1M592 176h1.1M556 244h1.1M627 181h1.1M670 177h1.1M744 155h1.1M647 168h1.1M724 172h1.1M735 150h1.1M638 218h1.1M648 170h1.1M547 203h1.1M545 229h1.1M665 165h1.1M615 199h1.1M705 172h1.1M656 173h1.1M703 155h1.1M689 150h1.1M662 163h1.1M605 214h1.1M576 238h1.1M654 161h1.1M719 169h1.1M718 151h1.1M733 153h1.1M598 220h1.1M563 223h1.1M640 192h1.1M706 181h1.1M681 163h1.1M620 204h1.1M558 233h1.1M556 209h1.1M728 155h1.1M603 173h1.1M583 178h1.1M561 224h1.1M653 178h1.1M570 206h1.1M729 149h1.1M565 209h1.1M537 243h1.1M693 189h1.1M545 212h1.1M622 188h1.1M620 221h1.1M613 205h1.1M616 187h1.1M697 162h1.1M665 171h1.1M526 245h1.1M710 153h1.1M534 207h1.1M585 219h1.1M651 191h1.1M591 179h1.1M695 178h1.1M714 182h1.1M676 200h1.1M717 163h1.1M648 210h1.1M695 163h1.1M596 174h1.1M609 217h1.1M619 162h1.1M601 179h1.1M564 223h1.1M628 165h1.1M599 195h1.1M542 248h1.1M628 207h1.1M568 186h1.1M710 178h1.1M620 193h1.1M615 184h1.1M691 178h1.1M670 174h1.1M710 153h1.1M717 155h1.1M517 251h1.1M702 174h1.1M585 205h1.1M654 180h1.1M751 153h1.1M675 195h1.1M560 212h1.1M548 237h1.1M619 224h1.1M689 171h1.1M548 240h1.1M557 219h1.1M585 193h1.1M648 171h1.1M646 174h1.1M707 166h1.1M561 207h1.1M590 201h1.1M628 198h1.1M545 238h1.1M694 193h1.1M626 194h1.1M562 195h1.1M637 206h1.1M584 212h1.1M717 167h1.1M632 198h1.1M718 177h1.1M661 159h1.1M637 216h1.1M722 160h1.1M522 256h1.1M541 241h1.1M709 171h1.1M678 159h1.1M575 218h1.1M652 198h1.1M695 171h1.1M670 165h1.1M593 202h1.1M619 167h1.1M660 196h1.1M658 155h1.1M630 195h1.1M539 244h1.1M658 159h1.1M595 219h1.1M612 188h1.1M542 210h1.1M644 182h1.1M691 171h1.1M528 226h1.1M539 243h1.1M729 156h1.1M656 200h1.1M652 205h1.1M675 165h1.1M690 176h1.1M653 168h1.1M768 141h1.1M689 181h1.1M540 226h1.1M726 159h1.1M748 151h1.1M650 184h1.1M735 163h1.1M550 209h1.1M635 205h1.1M703 151h1.1M623 170h1.1M559 228h1.1M603 226h1.1M617 222h1.1M671 186h1.1M562 225h1.1M524 245h1.1M662 199h1.1M585 217h1.1M743 149h1.1M682 189h1.1M713 155h1.1M661 190h1.1M585 221h1.1M651 213h1.1M539 240h1.1M528 240h1.1M590 209h1.1M653 191h1.1M683 185h1.1M626 220h1.1M534 233h1.1M569 234h1.1M647 162h1.1M600 179h1.1M660 181h1.1M630 168h1.1M595 172h1.1M646 175h1.1M560 222h1.1M625 201h1.1M654 162h1.1M594 222h1.1M536 231h1.1M680 175h1.1M623 177h1.1M551 232h1.1M597 205h1.1M676 201h1.1M576 227h1.1M652 206h1.1M608 222h1.1M678 150h1.1M548 219h1.1M744 148h1.1M597 174h1.1M599 188h1.1M587 183h1.1M604 223h1.1M738 151h1.1M564 225h1.1M715 164h1.1M582 197h1.1M529 227h1.1M705 164h1.1M604 212h1.1M726 146h1.1M726 156h1.1M689 179h1.1M550 226h1.1M673 179h1.1M560 230h1.1M657 185h1.1M553 210h1.1M532 234h1.1M620 182h1.1M746 152h1.1M632 167h1.1M603 229h1.1M668 173h1.1M618 208h1.1M578 191h1.1M694 185h1.1M680 170h1.1M632 187h1.1M545 247h1.1M759 141h1.1M600 191h1.1M667 193h1.1M575 185h1.1M679 151h1.1M707 177h1.1M665 204h1.1M734 157h1.1M594 227h1.1M612 211h1.1M579 218h1.1M640 170h1.1M691 160h1.1M679 186h1.1M545 213h1.1M595 210h1.1M565 189h1.1M690 171h1.1M744 150h1.1M535 237h1.1M719 149h1.1M531 212h1.1M638 161h1.1M661 154h1.1M625 212h1.1M656 173h1.1M613 178h1.1M745 148h1.1M559 215h1.1M665 179h1.1M578 224h1.1M731 161h1.1M625 172h1.1M643 174h1.1M716 168h1.1M595 181h1.1M614 175h1.1M664 194h1.1M665 201h1.1M592 192h1.1M641 212h1.1M626 222h1.1M546 201h1.1M542 231h1.1M548 231h1.1M531 236h1.1M664 174h1.1M676 204h1.1M607 185h1.1M524 237h1.1M615 190h1.1M673 173h1.1M652 209h1.1M554 238h1.1M684 171h1.1M724 157h1.1M730 150h1.1M559 232h1.1M722 154h1.1M559 214h1.1M518 247h1.1M643 212h1.1M557 238h1.1M690 194h1.1M687 180h1.1M688 157h1.1M692 180h1.1M712 145h1.1M634 167h1.1M574 181h1.1M639 175h1.1M654 163h1.1M693 177h1.1M590 213h1.1M624 196h1.1M581 230h1.1M702 168h1.1M587 188h1.1M665 186h1.1M537 245h1.1M689 170h1.1M525 231h1.1M548 208h1.1M657 186h1.1M616 174h1.1M515 239h1.1M604 184h1.1M588 223h1.1M626 205h1.1M629 192h1.1M554 209h1.1M726 173h1.1M601 188h1.1M747 144h1.1M556 238h1.1M623 182h1.1M533 242h1.1M562 225h1.1M645 185h1.1M580 199h1.1M712 177h1.1M657 188h1.1M579 230h1.1M585 179h1.1M711 176h1.1M640 190h1.1M650 209h1.1M653 207h1.1M756 152h1.1M554 238h1.1M518 249h1.1M698 174h1.1M543 246h1.1M694 190h1.1M578 221h1.1M590 194h1.1M685 186h1.1M559 226h1.1M530 236h1.1M605 222h1.1M637 165h1.1M545 238h1.1M632 204h1.1M659 167h1.1M528 221h1.1M591 235h1.1M622 211h1.1M641 177h1.1M617 175h1.1M561 190h1.1M557 210h1.1M658 169h1.1M562 196h1.1M548 236h1.1M529 228h1.1M616 187h1.1M653 181h1.1M636 205h1.1M592 237h1.1M540 245h1.1M637 196h1.1M548 209h1.1M673 194h1.1M625 183h1.1M581 193h1.1M679 191h1.1M711 161h1.1M577 206h1.1M604 224h1.1M542 237h1.1M664 177h1.1M630 183h1.1M612 230h1.1M544 220h1.1M629 174h1.1M739 145h1.1M712 157h1.1M533 220h1.1M642 200h1.1M695 156h1.1M652 193h1.1M694 184h1.1M541 238h1.1M530 236h1.1M625 197h1.1M648 171h1.1M603 190h1.1M597 170h1.1M618 199h1.1M618 167h1.1M544 207h1.1M594 196h1.1M611 178h1.1M598 189h1.1M710 153h1.1M734 142h1.1M634 206h1.1M541 208h1.1M629 218h1.1M550 235h1.1M568 243h1.1M562 232h1.1M739 148h1.1M744 154h1.1M707 189h1.1M631 197h1.1M740 153h1.1M632 185h1.1M577 206h1.1M571 207h1.1M626 222h1.1M662 186h1.1M532 233h1.1M624 173h1.1M566 215h1.1M693 170h1.1M588 227h1.1M672 196h1.1M700 179h1.1M581 207h1.1M605 211h1.1M553 250h1.1M592 184h1.1M518 245h1.1M548 229h1.1M584 234h1.1M649 205h1.1M712 167h1.1M638 184h1.1M704 157h1.1M747 156h1.1M655 185h1.1M683 196h1.1M538 212h1.1M546 217h1.1M651 209h1.1M750 147h1.1M622 178h1.1M647 207h1.1M519 248h1.1M603 175h1.1M519 253h1.1M581 179h1.1M614 200h1.1M609 171h1.1M552 230h1.1M535 236h1.1M723 169h1.1M593 187h1.1M611 210h1.1M642 169h1.1M650 211h1.1M683 159h1.1M614 213h1.1M663 157h1.1M605 191h1.1M633 197h1.1M585 227h1.1M570 213h1.1M520 255h1.1M653 176h1.1M545 226h1.1M575 237h1.1M642 190h1.1M722 177h1.1M570 214h1.1M590 188h1.1M546 248h1.1M643 210h1.1M713 164h1.1M654 199h1.1M627 207h1.1M625 191h1.1M593 217h1.1M747 156h1.1M605 194h1.1M645 161h1.1M745 149h1.1M613 195h1.1M665 182h1.1M746 145h1.1M605 182h1.1M691 192h1.1M582 212h1.1M572 219h1.1M673 162h1.1M606 201h1.1M738 154h1.1M554 228h1.1M740 166h1.1M672 182h1.1M697 151h1.1M566 187h1.1M632 194h1.1M671 164h1.1M523 238h1.1M686 154h1.1M601 222h1.1M556 233h1.1M673 175h1.1M572 213h1.1M579 215h1.1M701 170h1.1M692 184h1.1M570 203h1.1M559 221h1.1M660 201h1.1M551 221h1.1M715 151h1.1M675 189h1.1M594 207h1.1M739 163h1.1M750 146h1.1M645 158h1.1M689 162h1.1M634 170h1.1M681 180h1.1M634 201h1.1M686 172h1.1M523 248h1.1M726 151h1.1M614 193h1.1M654 209h1.1M609 175h1.1M637 166h1.1M664 164h1.1M715 150h1.1M661 186h1.1M617 205h1.1M608 215h1.1M670 199h1.1M660 157h1.1M569 186h1.1M563 239h1.1M705 152h1.1M583 225h1.1M608 198h1.1M554 226h1.1M530 215h1.1M638 159h1.1M650 191h1.1M567 187h1.1M654 160h1.1M746 157h1.1M589 231h1.1M630 204h1.1M580 177h1.1M524 243h1.1M686 172h1.1M638 176h1.1M599 228h1.1M643 167h1.1M536 234h1.1M582 206h1.1M635 170h1.1M631 175h1.1M627 168h1.1M657 211h1.1M536 240h1.1M666 155h1.1M745 142h1.1M676 197h1.1M659 207h1.1M710 165h1.1M669 177h1.1" fill="none" stroke="#f4a325" stroke-width="3.3" stroke-linecap="round"/>
</g>
<rect x="464.3" y="15.4" width="322.2" height="280.6" fill="none" stroke="#000" stroke-width="2.8"/>
<line x1="501.7" y1="296" x2="501.7" y2="301" stroke="#000" stroke-width="2.6"/>
<text x="479.4" y="319.7" font-size="21" text-anchor="middle">-7.5</text>
<line x1="540.0" y1="296" x2="540.0" y2="301" stroke="#000" stroke-width="2.6"/>
<text x="526.8" y="319.7" font-size="21" text-anchor="middle">-5.0</text>
<line x1="578.7" y1="296" x2="578.7" y2="301" stroke="#000" stroke-width="2.6"/>
<text x="574.6" y="319.7" font-size="21" text-anchor="middle">-2.5</text>
<line x1="617.8" y1="296" x2="617.8" y2="301" stroke="#000" stroke-width="2.6"/>
<text x="617.5" y="319.7" font-size="21" text-anchor="middle">0.0</text>
<line x1="656.3" y1="296" x2="656.3" y2="301" stroke="#000" stroke-width="2.6"/>
<text x="659.5" y="319.7" font-size="21" text-anchor="middle">2.5</text>
<line x1="695.3" y1="296" x2="695.3" y2="301" stroke="#000" stroke-width="2.6"/>
<text x="700.2" y="319.7" font-size="21" text-anchor="middle">5.0</text>
<line x1="734.2" y1="296" x2="734.2" y2="301" stroke="#000" stroke-width="2.6"/>
<text x="740.7" y="319.7" font-size="21" text-anchor="middle">7.5</text>
<line x1="773.0" y1="296" x2="773.0" y2="301" stroke="#000" stroke-width="2.6"/>
<text x="787.6" y="319.7" font-size="21" text-anchor="middle">10.0</text>
<line x1="458.3" y1="64.3" x2="464.3" y2="64.3" stroke="#000" stroke-width="2.6"/>
<text x="458.6" y="72.6" font-size="21" text-anchor="end">10.0</text>
<line x1="458.3" y1="125.4" x2="464.3" y2="125.4" stroke="#000" stroke-width="2.6"/>
<text x="453.3" y="133.7" font-size="21" text-anchor="end">5.0</text>
<line x1="458.3" y1="186.4" x2="464.3" y2="186.4" stroke="#000" stroke-width="2.6"/>
<text x="453.3" y="194.7" font-size="21" text-anchor="end">0.0</text>
<line x1="458.3" y1="247.0" x2="464.3" y2="247.0" stroke="#000" stroke-width="2.6"/>
<text x="453.3" y="255.3" font-size="21" text-anchor="end">-5.0</text>
<text x="620.0" y="349.9" font-size="21" text-anchor="middle">PC1</text>
<text x="0" y="0" font-size="21" text-anchor="middle" transform="translate(422.5,149.5) rotate(-90)">PC2</text>
<text x="604.5" y="35.4" font-size="13.8" text-anchor="start">RDK</text>
<circle cx="684.5" cy="29.8" r="4.2" fill="#5b9bd5" stroke="#3f86c8" stroke-width="0.8"/>
<circle cx="684.5" cy="49.00000000000001" r="4.2" fill="#f2a22a"/>
<text x="695.5" y="32.7" font-size="13.8" text-anchor="start">Training set</text>
<text x="695.5" y="52.7" font-size="13.8" text-anchor="start">Test set</text>
<clipPath id="ca3"><rect x="855.9000000000001" y="14.2" width="321.6" height="280.90000000000003"/></clipPath>
<g clip-path="url(#ca3)">
<path d="M923 196h1.1M990 230h1.1M1118 191h1.1M943 144h1.1M1121 124h1.1M888 138h1.1M996 171h1.1M918 95h1.1M952 122h1.1M966 116h1.1M922 206h1.1M1036 170h1.1M1028 227h1.1M934 118h1.1M922 88h1.1M1058 124h1.1M1005 150h1.1M896 171h1.1M1013 158h1.1M903 166h1.1M1060 118h1.1M1045 171h1.1M1087 180h1.1M1116 186h1.1M1039 93h1.1M1124 128h1.1M1040 133h1.1M963 73h1.1M1007 236h1.1M895 171h1.1M997 167h1.1M1008 199h1.1M924 225h1.1M1034 229h1.1M1144 157h1.1M983 109h1.1M1164 160h1.1M935 122h1.1M1018 119h1.1M1001 104h1.1M972 184h1.1M931 247h1.1M1001 219h1.1M885 185h1.1M928 227h1.1M985 212h1.1M1027 164h1.1M928 181h1.1M984 228h1.1M1088 124h1.1M1058 151h1.1M1120 135h1.1M1067 201h1.1M1021 175h1.1M1121 161h1.1M1007 214h1.1M1013 137h1.1M939 158h1.1M997 223h1.1M1108 100h1.1M956 121h1.1M914 240h1.1M1162 196h1.1M941 176h1.1M1106 185h1.1M908 115h1.1M948 100h1.1M1041 183h1.1M1048 167h1.1M997 227h1.1M1018 187h1.1M1100 128h1.1M1122 147h1.1M1157 166h1.1M975 74h1.1M894 172h1.1M972 214h1.1M927 213h1.1M1141 218h1.1M978 175h1.1M1002 123h1.1M1037 212h1.1M924 147h1.1M924 128h1.1M892 137h1.1M1031 171h1.1M1139 181h1.1M1000 133h1.1M915 122h1.1M987 177h1.1M997 87h1.1M1072 219h1.1M1071 218h1.1M872 158h1.1M934 226h1.1M1064 137h1.1M948 200h1.1M992 221h1.1M925 102h1.1M980 154h1.1M1063 125h1.1M1053 203h1.1M1129 154h1.1M1078 203h1.1M1063 185h1.1M907 183h1.1M988 107h1.1M980 200h1.1M917 169h1.1M981 189h1.1M942 200h1.1M1025 167h1.1M1038 98h1.1M933 150h1.1M1098 106h1.1M1096 203h1.1M1001 122h1.1M909 84h1.1M1089 127h1.1M1115 107h1.1M887 167h1.1M1025 230h1.1M1099 172h1.1M892 164h1.1M894 129h1.1M875 157h1.1M1071 214h1.1M898 105h1.1M1076 215h1.1M933 171h1.1M913 181h1.1M1117 136h1.1M972 182h1.1M959 78h1.1M1027 214h1.1M1023 79h1.1M920 104h1.1M1023 218h1.1M1098 201h1.1M993 116h1.1M1026 206h1.1M978 207h1.1M882 130h1.1M982 112h1.1M943 81h1.1M967 142h1.1M983 177h1.1M1020 228h1.1M1065 190h1.1M1038 185h1.1M909 116h1.1M1016 203h1.1M955 241h1.1M1027 227h1.1M1114 200h1.1M1070 116h1.1M1033 183h1.1M998 238h1.1M1063 199h1.1M990 181h1.1M1013 217h1.1M994 226h1.1M1008 115h1.1M910 123h1.1M999 130h1.1M997 170h1.1M1086 136h1.1M931 221h1.1M960 170h1.1M1023 184h1.1M947 158h1.1M905 229h1.1M910 127h1.1M987 114h1.1M973 149h1.1M1021 118h1.1M1026 138h1.1M1036 156h1.1M940 193h1.1M1024 96h1.1M980 103h1.1M1012 194h1.1M1149 188h1.1M949 134h1.1M991 103h1.1M935 116h1.1M934 226h1.1M1091 216h1.1M1126 171h1.1M1161 197h1.1M898 93h1.1M903 127h1.1M1132 123h1.1M1043 153h1.1M1022 133h1.1M969 128h1.1M962 244h1.1M1120 216h1.1M1046 94h1.1M1056 174h1.1M1017 117h1.1M938 144h1.1M1068 138h1.1M1103 200h1.1M989 218h1.1M911 218h1.1M976 75h1.1M1120 196h1.1M1118 131h1.1M905 127h1.1M1023 192h1.1M1030 120h1.1M1014 94h1.1M1029 163h1.1M1013 121h1.1M1117 126h1.1M882 122h1.1M1110 198h1.1M1119 193h1.1M906 137h1.1M920 82h1.1M1095 136h1.1M874 127h1.1M1064 170h1.1M1050 166h1.1M1111 204h1.1M906 119h1.1M1073 135h1.1M1118 192h1.1M1081 188h1.1M999 181h1.1M1152 164h1.1M946 157h1.1M899 93h1.1M905 178h1.1M924 137h1.1M960 237h1.1M1010 163h1.1M960 171h1.1M889 168h1.1M1023 94h1.1M994 114h1.1M1009 185h1.1M974 80h1.1M993 98h1.1M960 173h1.1M1064 222h1.1M893 93h1.1M989 95h1.1M971 205h1.1M908 94h1.1M897 98h1.1M1073 115h1.1M1070 161h1.1M1143 196h1.1M1127 187h1.1M910 229h1.1M929 104h1.1M1162 198h1.1M961 130h1.1M1050 182h1.1M978 140h1.1M1024 185h1.1M989 200h1.1M1146 194h1.1M1069 117h1.1M989 185h1.1M922 126h1.1M927 132h1.1M974 76h1.1M1155 150h1.1M979 86h1.1M948 174h1.1M1099 204h1.1M1079 217h1.1M1006 180h1.1M1099 203h1.1M961 188h1.1M1061 174h1.1M1148 174h1.1M1124 129h1.1M968 213h1.1M1088 223h1.1M937 127h1.1M1011 144h1.1M1037 184h1.1M980 138h1.1M981 172h1.1M902 97h1.1M958 163h1.1M962 99h1.1M888 149h1.1M914 138h1.1M1021 226h1.1M960 182h1.1M1029 164h1.1M1054 222h1.1M1055 209h1.1M933 161h1.1M932 106h1.1M930 175h1.1M939 139h1.1M901 166h1.1M945 90h1.1M899 229h1.1M915 97h1.1M1098 159h1.1M984 132h1.1M1052 122h1.1M982 188h1.1M915 242h1.1M940 231h1.1M1032 176h1.1M1105 169h1.1M969 166h1.1M904 156h1.1M1023 205h1.1M907 219h1.1M1116 151h1.1M1038 206h1.1M1108 220h1.1M936 218h1.1M1018 210h1.1M1116 219h1.1M1031 183h1.1M913 96h1.1M975 232h1.1M934 102h1.1M935 140h1.1M980 94h1.1M1037 163h1.1M1076 216h1.1M1086 98h1.1M965 221h1.1M1110 139h1.1M1060 167h1.1M950 212h1.1M988 163h1.1M941 179h1.1M952 180h1.1M929 219h1.1M958 119h1.1M1132 205h1.1M1029 170h1.1M914 162h1.1M1145 205h1.1M883 175h1.1M937 181h1.1M1054 145h1.1M1095 183h1.1M1007 163h1.1M938 222h1.1M942 130h1.1M1000 134h1.1M1094 107h1.1M925 133h1.1M1035 196h1.1M1004 121h1.1M932 86h1.1M904 148h1.1M1070 167h1.1M980 193h1.1M880 145h1.1M903 214h1.1M1101 181h1.1M1134 178h1.1M1008 90h1.1M1134 180h1.1M942 145h1.1M1110 197h1.1M974 180h1.1M957 218h1.1M1105 206h1.1M1057 127h1.1M1160 196h1.1M981 223h1.1M1077 163h1.1M1054 129h1.1M1032 199h1.1M900 162h1.1M1067 115h1.1M1115 148h1.1M919 228h1.1M1076 158h1.1M898 99h1.1M1158 191h1.1M1035 216h1.1M999 220h1.1M1008 157h1.1M976 120h1.1M926 157h1.1M1090 195h1.1M950 75h1.1M912 89h1.1M979 186h1.1M1080 226h1.1M1113 205h1.1M990 212h1.1M977 227h1.1M980 189h1.1M918 237h1.1M1021 200h1.1M1071 127h1.1M970 198h1.1M1060 150h1.1M881 159h1.1M921 161h1.1M1007 118h1.1M1038 148h1.1M962 214h1.1M911 218h1.1M914 204h1.1M1075 194h1.1M996 216h1.1M997 194h1.1M1028 119h1.1M1023 154h1.1M1043 145h1.1M1020 115h1.1M1051 135h1.1M895 173h1.1M1115 199h1.1M1080 204h1.1M1003 223h1.1M1107 209h1.1M943 156h1.1M926 167h1.1M973 222h1.1M949 242h1.1M882 134h1.1M997 187h1.1M1025 130h1.1M1020 90h1.1M976 129h1.1M1098 167h1.1M1090 200h1.1M1002 163h1.1M985 227h1.1M945 176h1.1M994 101h1.1M1097 179h1.1M882 211h1.1M936 87h1.1M1003 215h1.1M1101 152h1.1M878 182h1.1M971 170h1.1M882 140h1.1M966 139h1.1M943 133h1.1M971 191h1.1M1048 121h1.1M892 175h1.1M903 198h1.1M1084 168h1.1M1034 187h1.1M1075 213h1.1M992 193h1.1M1037 129h1.1M1052 191h1.1M1011 90h1.1M995 213h1.1M1017 224h1.1M936 106h1.1M990 215h1.1M958 83h1.1M1032 114h1.1M1151 195h1.1M914 230h1.1M1119 112h1.1M1056 121h1.1M1034 176h1.1M1160 205h1.1M1021 142h1.1M1035 152h1.1M963 217h1.1M986 85h1.1M1042 118h1.1M904 204h1.1M1130 193h1.1M1056 189h1.1M988 226h1.1M1019 126h1.1M961 132h1.1M901 143h1.1M1099 133h1.1M937 233h1.1M1052 191h1.1M1108 179h1.1M921 130h1.1M1030 186h1.1M1099 161h1.1M982 237h1.1M1046 140h1.1M954 146h1.1M1060 103h1.1M1018 165h1.1M986 194h1.1M1012 218h1.1M1131 181h1.1M1041 212h1.1M970 98h1.1M1038 99h1.1M978 147h1.1M1090 202h1.1M1047 197h1.1M989 152h1.1M1106 207h1.1M1002 125h1.1M983 200h1.1M1034 134h1.1M936 200h1.1M943 207h1.1M895 117h1.1M1010 218h1.1M886 189h1.1M1054 151h1.1M957 126h1.1M1088 202h1.1M978 120h1.1M922 139h1.1M990 135h1.1M1009 106h1.1M943 126h1.1M1109 154h1.1M899 107h1.1M1105 162h1.1M1150 156h1.1M1068 108h1.1M877 192h1.1M1064 131h1.1M924 142h1.1M976 158h1.1M1054 203h1.1M928 103h1.1M1016 184h1.1M947 128h1.1M1120 142h1.1M1084 149h1.1M917 109h1.1M1035 181h1.1M1005 193h1.1M928 228h1.1M964 83h1.1M989 218h1.1M1134 165h1.1M903 134h1.1M1109 205h1.1M930 175h1.1M918 156h1.1M1060 227h1.1M992 103h1.1M1058 189h1.1M1125 166h1.1M1034 148h1.1M1040 157h1.1M1027 228h1.1M943 171h1.1M1051 109h1.1M932 84h1.1M1069 150h1.1M1132 195h1.1M968 106h1.1M1052 146h1.1M1117 218h1.1M943 102h1.1M1003 83h1.1M1046 164h1.1M972 187h1.1M944 184h1.1M1103 159h1.1M893 220h1.1M944 131h1.1M1119 161h1.1M905 161h1.1M953 86h1.1M1052 172h1.1M1010 152h1.1M1120 203h1.1M962 196h1.1M1080 145h1.1M988 237h1.1M922 203h1.1M975 120h1.1M1013 130h1.1M939 92h1.1M1077 181h1.1M1012 102h1.1M935 178h1.1M942 104h1.1M1019 137h1.1M992 227h1.1M1003 152h1.1M939 112h1.1M971 115h1.1M986 205h1.1M1013 218h1.1M1124 203h1.1M972 182h1.1M927 193h1.1M1061 213h1.1M1011 159h1.1M903 210h1.1M1078 156h1.1M1067 133h1.1M938 191h1.1M929 226h1.1M1049 141h1.1M990 110h1.1M919 144h1.1M911 131h1.1M898 126h1.1M1094 196h1.1M948 160h1.1M1017 91h1.1M999 172h1.1M1108 160h1.1M929 198h1.1M1099 125h1.1M1003 185h1.1M1032 111h1.1M1119 165h1.1M886 209h1.1M909 129h1.1M1022 85h1.1M1051 208h1.1M958 130h1.1M927 169h1.1M1065 118h1.1M1149 153h1.1M929 227h1.1M1164 202h1.1M887 139h1.1M1124 178h1.1M915 218h1.1M969 106h1.1M973 243h1.1M970 149h1.1M1010 127h1.1M1028 181h1.1M1036 96h1.1M1156 192h1.1M1037 131h1.1M1032 105h1.1M988 120h1.1M936 114h1.1M1049 218h1.1M1051 180h1.1M924 226h1.1M972 106h1.1M998 151h1.1M1031 179h1.1M1041 88h1.1M921 80h1.1M1086 171h1.1M1091 110h1.1M982 127h1.1M938 139h1.1M1021 162h1.1M1132 213h1.1M1155 157h1.1M1043 98h1.1M920 126h1.1M935 242h1.1M979 190h1.1M1012 170h1.1M893 172h1.1M1094 165h1.1M1082 145h1.1M1050 231h1.1M923 164h1.1M1090 124h1.1M952 226h1.1M975 189h1.1M1126 213h1.1M1023 214h1.1M893 199h1.1M925 236h1.1M1106 94h1.1M991 224h1.1M956 94h1.1M880 119h1.1M896 137h1.1M1092 204h1.1M1012 157h1.1M948 102h1.1M1006 106h1.1M940 85h1.1M988 95h1.1M916 118h1.1M1061 155h1.1M935 106h1.1M1014 155h1.1M1128 151h1.1M984 219h1.1M934 233h1.1M939 198h1.1M922 207h1.1M1042 112h1.1M1079 226h1.1M1011 197h1.1M1005 187h1.1M946 72h1.1M936 196h1.1M1004 234h1.1M1001 172h1.1M1024 170h1.1M899 124h1.1M910 242h1.1M911 176h1.1M1012 224h1.1M927 80h1.1M1046 150h1.1M1020 234h1.1M897 235h1.1M1131 174h1.1M935 105h1.1M1070 155h1.1M974 162h1.1M1004 138h1.1M1055 127h1.1M1078 179h1.1M1051 164h1.1M997 230h1.1M941 216h1.1M1100 115h1.1M1008 185h1.1M1094 209h1.1M882 137h1.1M1124 177h1.1M1068 105h1.1M1069 186h1.1M1062 117h1.1M1038 100h1.1M961 187h1.1M1017 135h1.1M1008 78h1.1M1011 196h1.1M1005 210h1.1M901 159h1.1M902 186h1.1M1050 108h1.1M918 97h1.1M1015 113h1.1M1012 177h1.1M954 120h1.1M944 173h1.1M969 112h1.1M977 123h1.1M1022 82h1.1M1135 215h1.1M935 167h1.1M964 99h1.1M926 228h1.1M989 190h1.1M1150 188h1.1M1065 146h1.1M983 225h1.1M972 145h1.1M898 201h1.1M1136 142h1.1M1088 114h1.1M985 198h1.1M946 98h1.1M941 149h1.1M953 164h1.1M1099 175h1.1M980 168h1.1M1048 160h1.1M957 130h1.1M909 232h1.1M889 143h1.1M953 207h1.1M926 219h1.1M1111 186h1.1M972 238h1.1M1083 180h1.1M978 140h1.1M964 203h1.1M883 188h1.1M1010 92h1.1M932 174h1.1M910 106h1.1M1102 144h1.1M948 158h1.1M997 239h1.1M878 117h1.1M918 180h1.1M969 183h1.1M959 82h1.1M905 207h1.1M1122 146h1.1M1143 200h1.1M997 121h1.1M884 222h1.1M968 152h1.1M903 97h1.1M1101 204h1.1M1006 226h1.1M902 187h1.1M905 78h1.1M1102 174h1.1M1060 98h1.1M1021 108h1.1M934 124h1.1M937 95h1.1M885 120h1.1M1000 217h1.1M978 157h1.1M925 241h1.1M1099 147h1.1M947 129h1.1M1144 162h1.1M1069 152h1.1M1039 112h1.1M1104 166h1.1M977 142h1.1M1048 210h1.1M909 224h1.1M987 228h1.1M914 188h1.1M981 235h1.1M1109 191h1.1M990 183h1.1M1106 163h1.1M990 232h1.1M952 246h1.1M988 102h1.1M1028 175h1.1M916 227h1.1M1130 191h1.1M906 100h1.1M926 222h1.1M1093 158h1.1M1051 127h1.1M1048 157h1.1M944 227h1.1M1030 117h1.1M1020 100h1.1M1045 134h1.1M1011 90h1.1M998 104h1.1M1043 202h1.1M1144 152h1.1M1084 198h1.1M1120 202h1.1M912 223h1.1M1082 213h1.1M1035 204h1.1M1148 177h1.1M1006 112h1.1M982 101h1.1M1128 127h1.1M1062 185h1.1M952 182h1.1M880 136h1.1M967 222h1.1M898 191h1.1M986 128h1.1M1144 134h1.1M999 216h1.1M932 137h1.1M1107 127h1.1M1154 204h1.1M1074 185h1.1M1117 123h1.1M938 171h1.1M1011 200h1.1M1128 175h1.1M1015 103h1.1M925 182h1.1M1022 139h1.1M882 139h1.1M884 198h1.1M1036 119h1.1M1113 191h1.1M1079 135h1.1M1052 119h1.1M976 171h1.1M997 84h1.1M1087 117h1.1M1060 205h1.1M1093 120h1.1M1048 181h1.1M922 192h1.1M945 164h1.1M959 130h1.1M1036 135h1.1M1036 117h1.1M1098 136h1.1M1061 121h1.1M1073 204h1.1M955 142h1.1M952 73h1.1M1023 107h1.1M1117 143h1.1M1084 223h1.1M982 183h1.1M940 151h1.1M1038 142h1.1M1072 152h1.1M1109 223h1.1M921 227h1.1M1103 187h1.1M1052 122h1.1M1042 158h1.1M930 108h1.1M1109 177h1.1M923 136h1.1M940 199h1.1M1064 143h1.1M923 106h1.1M889 184h1.1M949 201h1.1M1078 211h1.1M890 136h1.1M1039 142h1.1M887 153h1.1M902 220h1.1M959 177h1.1M1047 146h1.1M891 204h1.1M1119 151h1.1M985 208h1.1M1121 147h1.1M1079 142h1.1M953 95h1.1M1035 99h1.1M884 162h1.1M1096 180h1.1M910 209h1.1M888 146h1.1M991 104h1.1M1149 142h1.1M878 131h1.1M1153 178h1.1M955 76h1.1M976 208h1.1M999 211h1.1M1043 217h1.1M1015 219h1.1M1152 201h1.1M946 108h1.1M1003 125h1.1M1140 184h1.1M1047 118h1.1M994 102h1.1M1038 120h1.1M1026 94h1.1M1055 223h1.1M1111 110h1.1M955 238h1.1M1038 112h1.1M1123 193h1.1M1113 164h1.1M978 140h1.1M1117 186h1.1M901 233h1.1M922 181h1.1M1152 152h1.1M975 87h1.1M935 210h1.1M1018 128h1.1M1052 107h1.1M1089 211h1.1M965 132h1.1M943 111h1.1M947 78h1.1M1034 204h1.1M1097 144h1.1M901 134h1.1M955 96h1.1M909 148h1.1M1055 105h1.1M1102 217h1.1M940 233h1.1M1021 201h1.1M1135 134h1.1M989 218h1.1M1158 199h1.1M964 169h1.1M946 180h1.1M1138 213h1.1M1147 216h1.1M936 117h1.1M1139 215h1.1M922 126h1.1M1073 124h1.1M915 175h1.1M1149 149h1.1M1066 178h1.1M989 159h1.1M979 99h1.1M956 95h1.1M923 107h1.1M1048 130h1.1M912 151h1.1M1054 210h1.1M1111 131h1.1M911 152h1.1M916 215h1.1M913 139h1.1M958 171h1.1M1122 197h1.1M941 239h1.1M1065 172h1.1M1052 107h1.1M1091 121h1.1M893 91h1.1M1113 203h1.1M917 182h1.1M906 175h1.1M1070 219h1.1M1053 146h1.1M1055 177h1.1M1013 136h1.1M928 219h1.1M934 141h1.1M958 176h1.1M1012 216h1.1M1001 114h1.1M926 108h1.1M936 104h1.1M1133 177h1.1M938 104h1.1M932 109h1.1M1025 89h1.1M959 224h1.1M944 89h1.1M995 207h1.1M1025 161h1.1M924 165h1.1M962 231h1.1M981 104h1.1M1053 102h1.1M1085 155h1.1M1095 127h1.1M881 154h1.1M1102 207h1.1M1122 205h1.1M1036 139h1.1M939 155h1.1M935 108h1.1M951 143h1.1M1038 194h1.1M1040 139h1.1M1159 182h1.1M906 222h1.1M1019 125h1.1M1064 161h1.1M941 131h1.1M1037 97h1.1M1009 149h1.1M1012 163h1.1M1065 180h1.1M954 207h1.1M1161 191h1.1M1029 95h1.1M955 108h1.1M1008 165h1.1M971 141h1.1M1025 140h1.1M939 207h1.1M1047 203h1.1M980 165h1.1M1040 164h1.1M924 225h1.1M1148 192h1.1M1122 154h1.1M997 202h1.1M964 188h1.1M969 207h1.1M916 169h1.1M909 136h1.1M966 99h1.1M991 130h1.1M1072 111h1.1M886 163h1.1M966 227h1.1M1022 108h1.1M1131 145h1.1M1014 111h1.1M896 204h1.1M991 197h1.1M916 116h1.1M1076 148h1.1M1036 169h1.1M956 205h1.1M1022 92h1.1M980 178h1.1M996 76h1.1M1015 111h1.1M935 136h1.1M989 102h1.1M1097 138h1.1M1065 114h1.1M987 192h1.1M925 99h1.1M941 243h1.1M1054 139h1.1M918 126h1.1M937 154h1.1M1027 229h1.1M901 127h1.1M971 200h1.1M967 228h1.1M969 167h1.1M925 81h1.1M1090 159h1.1M1161 205h1.1M1026 205h1.1M919 114h1.1M1057 182h1.1M1069 223h1.1M972 187h1.1M894 169h1.1M1097 145h1.1M886 115h1.1M879 120h1.1M1061 202h1.1M949 151h1.1M1029 156h1.1M958 213h1.1M930 134h1.1M1001 139h1.1M956 161h1.1M885 135h1.1M1002 74h1.1M1089 188h1.1M915 110h1.1M1074 198h1.1M1013 201h1.1M934 103h1.1M1002 218h1.1M904 183h1.1M873 154h1.1M1060 174h1.1M1134 178h1.1M1080 114h1.1M967 186h1.1M1022 101h1.1M957 164h1.1M900 215h1.1M1005 122h1.1M1044 122h1.1M999 226h1.1M938 106h1.1M1044 174h1.1M933 228h1.1M1073 134h1.1M1026 140h1.1M899 195h1.1M1062 178h1.1M1054 184h1.1M975 152h1.1M1076 192h1.1M1008 165h1.1M1003 217h1.1M976 215h1.1M998 190h1.1M1048 186h1.1M939 113h1.1M988 222h1.1M972 137h1.1M1022 161h1.1M1071 173h1.1M1053 172h1.1M931 128h1.1M1101 147h1.1M905 152h1.1M901 195h1.1M875 138h1.1M1021 206h1.1M1113 135h1.1M1014 166h1.1M1033 210h1.1M1112 112h1.1M904 154h1.1M890 212h1.1M1006 113h1.1M973 205h1.1M1066 192h1.1M936 133h1.1M916 183h1.1M956 106h1.1M895 139h1.1M899 226h1.1M1042 131h1.1M1158 212h1.1M959 102h1.1M894 129h1.1M944 228h1.1M979 79h1.1M1027 189h1.1M930 182h1.1M983 85h1.1M1062 115h1.1M935 150h1.1M972 115h1.1M1146 200h1.1M987 133h1.1M904 239h1.1M906 217h1.1M905 208h1.1M1023 220h1.1M938 141h1.1M901 164h1.1M904 89h1.1M933 95h1.1M969 151h1.1M919 128h1.1M968 191h1.1M912 201h1.1M946 71h1.1M905 141h1.1M969 106h1.1M1002 183h1.1M959 212h1.1M897 130h1.1M974 227h1.1M951 220h1.1M1077 203h1.1M1147 168h1.1M1031 143h1.1M913 92h1.1M940 94h1.1M894 97h1.1M1044 187h1.1M1035 222h1.1M914 115h1.1M1021 88h1.1M932 193h1.1M941 182h1.1M916 217h1.1M1015 106h1.1M1040 183h1.1M1126 139h1.1M896 186h1.1M1078 137h1.1M1068 195h1.1M1057 172h1.1M891 175h1.1M1020 193h1.1M1019 140h1.1M901 192h1.1M1041 147h1.1M917 226h1.1M1038 186h1.1M983 112h1.1M1033 114h1.1M986 124h1.1M938 124h1.1M1107 185h1.1M1072 223h1.1M1089 149h1.1M953 226h1.1M1005 87h1.1M942 184h1.1M908 197h1.1M969 89h1.1M974 153h1.1M1003 82h1.1M914 233h1.1M974 128h1.1M910 96h1.1M1051 149h1.1M969 205h1.1M1007 128h1.1M925 164h1.1M886 144h1.1M1065 217h1.1M987 138h1.1M1093 133h1.1M1000 121h1.1M986 172h1.1M877 117h1.1M1126 153h1.1M934 142h1.1M934 130h1.1M968 238h1.1M1166 196h1.1M1027 147h1.1M1003 223h1.1M1027 118h1.1M910 211h1.1M981 87h1.1M933 117h1.1M983 135h1.1M1005 221h1.1M1011 161h1.1M1067 111h1.1M961 236h1.1M947 87h1.1M1120 193h1.1M1078 184h1.1M998 211h1.1M897 121h1.1M1000 159h1.1M1057 211h1.1M979 138h1.1M1077 213h1.1M921 137h1.1M948 197h1.1M928 109h1.1M903 127h1.1M1008 236h1.1M1101 202h1.1M1119 120h1.1M1030 154h1.1M980 214h1.1M995 234h1.1M972 143h1.1M886 166h1.1M894 173h1.1M1041 98h1.1M1089 137h1.1M1022 205h1.1M891 190h1.1M1017 178h1.1M1144 181h1.1M901 141h1.1M1150 215h1.1M910 196h1.1M1110 137h1.1M1139 207h1.1M1044 190h1.1M974 96h1.1M1146 187h1.1M912 206h1.1M957 202h1.1M1142 169h1.1M892 205h1.1M1114 147h1.1M988 167h1.1M987 76h1.1M1134 194h1.1M1110 141h1.1M1129 185h1.1M1095 127h1.1M886 126h1.1M891 182h1.1M1053 207h1.1M943 144h1.1M1114 146h1.1M883 108h1.1M1021 132h1.1M924 129h1.1M1016 202h1.1M1025 191h1.1M932 159h1.1M1138 144h1.1M1101 116h1.1M977 100h1.1M1059 168h1.1M915 117h1.1M889 146h1.1M1118 184h1.1M995 177h1.1M916 188h1.1M1060 159h1.1M1059 203h1.1M1027 169h1.1M1111 189h1.1M1007 230h1.1M1073 144h1.1M876 181h1.1M1096 119h1.1M1092 110h1.1M998 78h1.1M980 186h1.1M947 96h1.1M943 194h1.1M958 137h1.1M1092 155h1.1M1143 156h1.1M1095 196h1.1M937 141h1.1M1091 211h1.1M885 95h1.1M902 143h1.1M932 170h1.1M911 107h1.1M905 109h1.1M965 117h1.1M921 164h1.1M949 214h1.1M902 141h1.1M909 155h1.1M882 192h1.1M978 109h1.1M872 163h1.1M1021 145h1.1M1022 136h1.1M1010 146h1.1M934 109h1.1M966 139h1.1M1105 192h1.1M1143 140h1.1M1019 190h1.1M1082 144h1.1M1161 209h1.1M1069 119h1.1M1098 147h1.1M1000 147h1.1M1030 201h1.1M979 178h1.1M890 168h1.1M951 78h1.1M921 126h1.1M927 167h1.1M927 88h1.1M1137 198h1.1M1092 114h1.1M980 79h1.1M976 90h1.1M962 129h1.1M1060 221h1.1M1008 108h1.1M957 168h1.1M1048 169h1.1M965 199h1.1M996 153h1.1M928 195h1.1M879 176h1.1M1120 187h1.1M1102 124h1.1M1054 184h1.1M882 184h1.1M917 147h1.1M1058 210h1.1M992 194h1.1M1003 76h1.1M956 234h1.1M1076 183h1.1M1154 212h1.1M956 157h1.1M1160 180h1.1M1131 137h1.1M1020 113h1.1M1073 140h1.1M937 125h1.1M918 228h1.1M971 216h1.1M952 143h1.1M899 92h1.1M1151 200h1.1M951 212h1.1M896 147h1.1M1065 211h1.1M1014 98h1.1M923 155h1.1M995 149h1.1M952 158h1.1M975 195h1.1M1036 87h1.1M966 195h1.1M1102 114h1.1M970 193h1.1M947 124h1.1M877 131h1.1M1009 128h1.1M887 199h1.1M894 187h1.1M913 89h1.1M1043 111h1.1M913 123h1.1M1012 87h1.1M1003 112h1.1M932 239h1.1M943 237h1.1M987 237h1.1M1102 120h1.1M978 169h1.1M934 143h1.1M1093 131h1.1M944 149h1.1M1134 186h1.1M947 86h1.1M1002 94h1.1M1133 200h1.1M1071 223h1.1M1152 146h1.1M1069 122h1.1M1080 133h1.1M1086 187h1.1M1099 141h1.1M957 198h1.1M941 118h1.1M1094 117h1.1M998 174h1.1M1024 112h1.1M1112 175h1.1M1102 149h1.1M1077 118h1.1M961 200h1.1M955 72h1.1M971 98h1.1M890 214h1.1M1081 193h1.1M1092 117h1.1M1058 120h1.1M1129 189h1.1M930 231h1.1M1048 125h1.1M913 160h1.1M1022 224h1.1M1085 220h1.1M1026 138h1.1M1090 122h1.1M1047 117h1.1M1028 134h1.1M1158 207h1.1M1027 170h1.1M1037 159h1.1M1028 207h1.1M925 124h1.1M984 220h1.1M917 83h1.1M1102 184h1.1M1141 197h1.1M1076 127h1.1M963 138h1.1M1011 185h1.1M966 97h1.1M1068 142h1.1M873 179h1.1M1008 142h1.1M1018 175h1.1M986 202h1.1M1004 99h1.1M926 248h1.1M1109 220h1.1M1097 179h1.1M1162 173h1.1M925 123h1.1M927 209h1.1M1131 186h1.1M1049 103h1.1M1047 190h1.1M939 158h1.1M1107 216h1.1M924 202h1.1M887 95h1.1M898 116h1.1M951 236h1.1M959 164h1.1M1127 184h1.1M1039 219h1.1M896 104h1.1M988 193h1.1M1070 220h1.1M1091 137h1.1M990 196h1.1M1073 186h1.1M888 173h1.1M909 131h1.1M902 234h1.1M938 128h1.1M887 148h1.1M1100 191h1.1M895 92h1.1M1037 153h1.1M1104 180h1.1M1081 195h1.1M902 137h1.1M1051 149h1.1M1061 170h1.1M968 98h1.1M1031 193h1.1M956 236h1.1M873 169h1.1M911 83h1.1M1007 87h1.1M960 128h1.1M1007 125h1.1M966 130h1.1M1077 170h1.1M915 192h1.1M1043 132h1.1M907 89h1.1M989 137h1.1M1000 115h1.1M916 94h1.1M1119 175h1.1M1056 187h1.1M917 213h1.1M933 87h1.1M1053 161h1.1M929 180h1.1M949 163h1.1M1022 118h1.1M921 125h1.1M914 217h1.1M1041 196h1.1M1032 160h1.1M1019 98h1.1M979 139h1.1M915 115h1.1M1037 155h1.1M885 152h1.1M972 105h1.1M979 151h1.1M1141 177h1.1M1056 133h1.1M1069 130h1.1M913 95h1.1M963 215h1.1M1001 176h1.1M1146 179h1.1M1023 226h1.1M902 236h1.1M1062 210h1.1M1066 186h1.1M1052 91h1.1M1021 105h1.1M1023 135h1.1M975 92h1.1M1081 146h1.1M1106 179h1.1M1127 166h1.1M928 190h1.1M1040 201h1.1M1049 164h1.1M958 100h1.1M1130 132h1.1M906 183h1.1M1035 228h1.1M1142 214h1.1M1070 172h1.1M913 226h1.1M995 171h1.1M1156 199h1.1M1141 209h1.1M931 233h1.1M1117 159h1.1M1036 150h1.1M1007 79h1.1M939 236h1.1M873 184h1.1M1136 138h1.1M1086 124h1.1M1093 202h1.1M1071 207h1.1M975 112h1.1M1002 105h1.1M1148 190h1.1M1056 219h1.1M1028 110h1.1M983 207h1.1M933 153h1.1M993 99h1.1M1146 205h1.1M985 96h1.1M900 114h1.1M1003 192h1.1M1155 165h1.1M979 232h1.1M1018 212h1.1M958 205h1.1M1051 139h1.1M974 229h1.1M1013 129h1.1M1138 176h1.1M914 124h1.1M936 218h1.1M1007 139h1.1M1055 128h1.1M909 169h1.1M1056 115h1.1M946 123h1.1M982 112h1.1M936 96h1.1M927 234h1.1M1039 221h1.1M950 179h1.1M1060 155h1.1M1052 119h1.1M940 100h1.1M901 146h1.1M962 189h1.1M1158 165h1.1M978 103h1.1M1006 109h1.1M1024 149h1.1M1123 186h1.1M1011 141h1.1M1028 107h1.1M996 140h1.1M983 164h1.1M970 148h1.1M1115 153h1.1M917 112h1.1M1013 112h1.1M963 127h1.1M1145 183h1.1M1023 223h1.1M933 164h1.1M1002 138h1.1M940 212h1.1M1003 88h1.1M1133 162h1.1M1148 206h1.1M1128 158h1.1M956 150h1.1M952 84h1.1M1138 161h1.1M1102 136h1.1M884 166h1.1M981 222h1.1M1103 151h1.1M917 111h1.1M908 180h1.1M1040 197h1.1M1042 160h1.1M1082 163h1.1M1024 180h1.1M971 230h1.1M1073 200h1.1M907 163h1.1M1036 207h1.1M929 229h1.1M991 124h1.1M1051 217h1.1M884 129h1.1M990 142h1.1M936 197h1.1M913 180h1.1M964 225h1.1M911 193h1.1M1084 189h1.1M1114 171h1.1M967 114h1.1M1062 209h1.1M995 198h1.1M999 208h1.1M903 123h1.1M901 133h1.1M937 118h1.1M1126 201h1.1M1124 160h1.1M897 195h1.1M1003 195h1.1M917 97h1.1M1079 151h1.1M997 126h1.1M949 69h1.1M971 108h1.1M1000 123h1.1M1074 196h1.1M1078 193h1.1M1008 214h1.1M921 93h1.1M1075 225h1.1M905 161h1.1M1120 139h1.1M1143 131h1.1M894 122h1.1M1081 125h1.1M937 243h1.1M998 191h1.1M933 160h1.1M1002 221h1.1M903 176h1.1M952 76h1.1M1113 205h1.1M1135 149h1.1M1063 121h1.1M868 162h1.1M1118 179h1.1M898 148h1.1M1009 145h1.1M1033 130h1.1M931 245h1.1M899 106h1.1M1003 154h1.1M999 78h1.1M1087 140h1.1M991 237h1.1M1002 117h1.1M1098 113h1.1M872 121h1.1M877 125h1.1M951 216h1.1M1143 193h1.1M1153 162h1.1M1028 100h1.1M1124 120h1.1M1162 181h1.1M940 203h1.1M1090 179h1.1M876 144h1.1M942 157h1.1M957 124h1.1M1047 153h1.1M1095 136h1.1M882 160h1.1M1097 187h1.1M1045 221h1.1M1041 207h1.1M1084 148h1.1M1025 94h1.1M1050 171h1.1M890 120h1.1M1011 132h1.1M895 93h1.1M1040 107h1.1M908 190h1.1M955 96h1.1M1085 139h1.1M993 127h1.1M976 158h1.1M940 180h1.1M1074 222h1.1M942 79h1.1M906 116h1.1M942 103h1.1M881 212h1.1M1055 117h1.1M910 188h1.1M967 151h1.1M1098 181h1.1M893 216h1.1M905 236h1.1M1002 192h1.1M1125 157h1.1M1034 166h1.1M939 231h1.1M1007 175h1.1M1028 203h1.1M1120 124h1.1M893 223h1.1M936 171h1.1M879 179h1.1M1118 128h1.1M1116 147h1.1M993 105h1.1M1020 124h1.1M972 188h1.1M1063 106h1.1M1088 145h1.1M972 172h1.1M1119 120h1.1M1116 180h1.1M903 88h1.1M890 193h1.1M946 177h1.1M999 110h1.1M900 186h1.1M906 90h1.1M980 134h1.1M943 129h1.1M964 100h1.1M893 139h1.1M960 131h1.1M1132 139h1.1M1091 147h1.1M992 193h1.1M1048 194h1.1M1044 145h1.1M1037 119h1.1M991 222h1.1M934 233h1.1M939 108h1.1M918 116h1.1M912 210h1.1M1094 128h1.1M1133 165h1.1M989 199h1.1M1141 126h1.1M1001 186h1.1M942 228h1.1M1021 204h1.1M1059 205h1.1M1048 169h1.1M876 173h1.1M1026 190h1.1M1004 92h1.1M904 239h1.1M1038 218h1.1M894 134h1.1M982 126h1.1M1107 146h1.1M1078 149h1.1M897 127h1.1M1013 220h1.1M1068 208h1.1M1007 176h1.1M929 202h1.1M903 192h1.1M986 95h1.1M1144 190h1.1M966 91h1.1M1120 213h1.1M921 85h1.1M1002 215h1.1M927 213h1.1M960 175h1.1M1034 205h1.1M943 87h1.1M985 78h1.1M893 200h1.1M1085 122h1.1M1071 120h1.1M929 246h1.1M964 134h1.1M974 181h1.1M1071 184h1.1M886 165h1.1M1024 187h1.1M994 99h1.1M872 142h1.1M1099 181h1.1M1013 117h1.1M1076 188h1.1M1118 209h1.1M906 173h1.1M945 225h1.1M910 142h1.1M1019 86h1.1M1047 155h1.1M1052 116h1.1M957 183h1.1M1140 142h1.1M1064 208h1.1M977 129h1.1M930 180h1.1M1033 231h1.1M912 173h1.1M910 178h1.1M945 201h1.1M995 234h1.1M928 72h1.1M935 200h1.1M902 91h1.1M1030 149h1.1M1051 149h1.1M930 155h1.1M1122 117h1.1M1060 204h1.1M1128 187h1.1M1020 139h1.1M1018 214h1.1M1089 200h1.1M942 192h1.1M1002 78h1.1M989 208h1.1M1067 113h1.1M967 170h1.1M1010 225h1.1M892 137h1.1M1114 160h1.1M981 108h1.1M1125 164h1.1M1058 167h1.1M1056 226h1.1M1049 114h1.1M911 172h1.1M984 137h1.1M1052 144h1.1M1141 145h1.1M934 209h1.1M919 152h1.1M1018 123h1.1M1080 120h1.1M927 130h1.1M1105 125h1.1M1126 190h1.1M958 129h1.1M894 138h1.1M890 216h1.1M1108 105h1.1M951 165h1.1M909 234h1.1M1119 141h1.1M967 100h1.1M969 103h1.1M873 148h1.1M901 179h1.1M1144 157h1.1M959 183h1.1M953 216h1.1M1110 187h1.1M893 106h1.1M885 195h1.1M1113 117h1.1M1142 213h1.1M1039 236h1.1M1139 170h1.1M1050 217h1.1M1002 200h1.1M969 79h1.1M917 133h1.1M1042 91h1.1M1026 99h1.1M902 121h1.1M1098 125h1.1M1004 124h1.1M1000 216h1.1M895 208h1.1M996 140h1.1M1114 134h1.1M946 84h1.1M1132 172h1.1M911 227h1.1M920 238h1.1M1066 169h1.1M1144 173h1.1M1083 118h1.1M952 198h1.1M1081 109h1.1M1015 157h1.1M1040 207h1.1M1126 175h1.1M924 233h1.1M911 179h1.1M916 192h1.1M1038 91h1.1M899 164h1.1M988 137h1.1M921 215h1.1M1044 165h1.1M889 217h1.1M993 88h1.1M982 196h1.1M1125 164h1.1M953 127h1.1M897 168h1.1M1035 226h1.1M1003 172h1.1M947 118h1.1M955 124h1.1M1142 209h1.1M893 177h1.1M1025 213h1.1M1074 179h1.1M1100 116h1.1M893 126h1.1M1052 205h1.1M965 99h1.1M938 97h1.1M1016 99h1.1M1034 200h1.1M938 220h1.1M1028 92h1.1M1103 139h1.1M1038 198h1.1M895 217h1.1M1094 171h1.1M1126 131h1.1M1155 153h1.1M1007 110h1.1M963 86h1.1M897 219h1.1M960 203h1.1M903 132h1.1M1030 151h1.1M1042 150h1.1M1109 179h1.1M1155 208h1.1M934 77h1.1M1063 198h1.1M1088 182h1.1M1045 216h1.1M884 170h1.1M972 175h1.1M1030 201h1.1M956 165h1.1M1116 201h1.1M1040 215h1.1M1079 190h1.1M1141 214h1.1M889 212h1.1M956 177h1.1M911 164h1.1M941 228h1.1M1111 160h1.1M1027 186h1.1M1104 212h1.1M1061 174h1.1M1110 117h1.1M883 145h1.1M967 109h1.1M950 213h1.1M881 153h1.1M984 167h1.1M972 183h1.1M1140 179h1.1M1040 190h1.1M1125 206h1.1M1044 93h1.1M1071 114h1.1M976 240h1.1M1009 106h1.1M941 187h1.1M1093 198h1.1M941 131h1.1M1071 197h1.1M1076 226h1.1M944 154h1.1M1011 187h1.1M905 171h1.1M1086 198h1.1M1103 206h1.1M1105 148h1.1M972 203h1.1M1034 176h1.1M909 198h1.1M1058 128h1.1M1006 129h1.1M951 143h1.1M962 211h1.1M976 103h1.1M1102 208h1.1M1073 174h1.1M1032 142h1.1M985 195h1.1M1002 179h1.1M1037 129h1.1M927 155h1.1M1118 189h1.1M948 119h1.1M1014 90h1.1M1068 201h1.1M1023 177h1.1M1107 117h1.1M1120 163h1.1M1087 183h1.1M1036 111h1.1M1099 200h1.1M993 202h1.1M890 119h1.1M1061 190h1.1M1098 104h1.1M945 221h1.1M1028 95h1.1M993 197h1.1M1087 153h1.1M1115 182h1.1M887 107h1.1M1030 196h1.1M1120 138h1.1M1138 141h1.1M1019 105h1.1M1092 218h1.1M953 195h1.1M1114 161h1.1M1105 98h1.1M990 153h1.1M1090 115h1.1M1067 195h1.1M883 147h1.1M941 100h1.1M1004 183h1.1M1124 197h1.1M895 100h1.1M902 107h1.1M917 211h1.1M997 124h1.1M981 115h1.1M983 218h1.1M993 116h1.1M1044 224h1.1M983 96h1.1M1112 141h1.1M930 110h1.1M1104 98h1.1M1030 160h1.1M907 180h1.1M928 118h1.1M974 108h1.1M1052 217h1.1M1160 201h1.1M990 82h1.1M1119 130h1.1M926 144h1.1M992 139h1.1M909 131h1.1M1037 114h1.1M928 179h1.1M1085 144h1.1M1025 195h1.1M889 186h1.1M894 131h1.1M1041 92h1.1M1094 129h1.1M892 163h1.1M1154 198h1.1M978 115h1.1M1119 143h1.1M1024 136h1.1M1096 174h1.1M1020 179h1.1M968 107h1.1M938 221h1.1M976 146h1.1M986 101h1.1M1051 106h1.1M908 94h1.1M1007 155h1.1M1103 135h1.1M948 106h1.1M1051 120h1.1M935 234h1.1M1063 162h1.1M1035 102h1.1M1119 199h1.1M1073 208h1.1M1047 188h1.1M1002 231h1.1M893 124h1.1M1013 174h1.1M962 100h1.1M1078 116h1.1M1083 170h1.1M936 121h1.1M1030 163h1.1M952 111h1.1M903 131h1.1M881 171h1.1M920 211h1.1M1059 108h1.1M1051 161h1.1M937 115h1.1M1020 218h1.1M930 92h1.1M955 98h1.1M942 231h1.1M1073 170h1.1M1050 202h1.1M969 78h1.1M949 173h1.1M902 189h1.1M938 229h1.1M1128 128h1.1M1074 194h1.1M1019 137h1.1M961 231h1.1M987 171h1.1M1071 148h1.1M948 220h1.1M1152 204h1.1M998 236h1.1M995 118h1.1M1089 130h1.1M1037 136h1.1M967 100h1.1M995 134h1.1M912 92h1.1M896 122h1.1M1083 134h1.1M903 224h1.1M963 115h1.1M936 91h1.1M1024 129h1.1M996 196h1.1M1064 145h1.1M1097 216h1.1M1114 141h1.1M1096 199h1.1M1068 181h1.1M958 93h1.1M1008 183h1.1M922 122h1.1M1017 120h1.1M1028 221h1.1M907 91h1.1M990 119h1.1M874 175h1.1M1104 149h1.1M893 169h1.1M887 153h1.1M1131 214h1.1M894 218h1.1M964 104h1.1M970 192h1.1M887 153h1.1M1045 194h1.1M959 240h1.1M1023 138h1.1M947 179h1.1M985 230h1.1M1112 186h1.1M1066 205h1.1M877 120h1.1M994 155h1.1M992 193h1.1M1141 134h1.1M922 155h1.1M897 186h1.1M1067 212h1.1M1136 187h1.1M869 133h1.1M957 99h1.1M988 115h1.1M915 161h1.1M1121 142h1.1M1095 172h1.1M1048 182h1.1M889 209h1.1M1055 164h1.1M1051 134h1.1M929 87h1.1M1027 123h1.1M914 176h1.1M1147 170h1.1M911 122h1.1M933 98h1.1M963 149h1.1M942 213h1.1M1029 103h1.1M907 238h1.1M1143 203h1.1M1053 169h1.1M1061 142h1.1M982 103h1.1M1022 217h1.1M1010 85h1.1M940 131h1.1M1024 213h1.1M933 158h1.1M1045 192h1.1M1117 164h1.1M933 106h1.1M930 221h1.1M1010 214h1.1M954 214h1.1M1017 96h1.1M908 180h1.1M895 117h1.1M1032 218h1.1M1105 206h1.1M1085 192h1.1M1025 189h1.1M1002 99h1.1M902 110h1.1M886 151h1.1M928 152h1.1M981 217h1.1M1125 205h1.1M972 121h1.1M935 215h1.1M1041 115h1.1M938 144h1.1M1127 158h1.1M906 229h1.1M909 182h1.1M875 177h1.1M915 165h1.1M942 239h1.1M886 175h1.1M875 181h1.1M1136 219h1.1M1003 217h1.1M1039 108h1.1M964 186h1.1M901 213h1.1M1073 210h1.1M1005 167h1.1M931 111h1.1M1079 146h1.1M911 133h1.1M1073 203h1.1M1137 149h1.1M924 132h1.1M1008 83h1.1M987 175h1.1M1098 200h1.1M965 126h1.1M974 153h1.1M976 237h1.1M978 78h1.1M1151 181h1.1M1078 186h1.1M964 85h1.1M981 132h1.1M1011 201h1.1M887 189h1.1M1040 214h1.1M1029 189h1.1M1014 79h1.1M1110 120h1.1M1127 168h1.1M939 147h1.1M1068 163h1.1M1014 85h1.1M1140 212h1.1M1125 150h1.1M969 192h1.1M1029 209h1.1M1047 133h1.1M1145 168h1.1M1137 179h1.1M929 107h1.1M1004 216h1.1M918 229h1.1M921 123h1.1M1117 146h1.1M1101 136h1.1M967 241h1.1M977 196h1.1M1042 115h1.1M1026 216h1.1M899 185h1.1M943 186h1.1M942 242h1.1M929 190h1.1M932 83h1.1M1093 155h1.1M947 69h1.1M1098 203h1.1M915 217h1.1M1050 191h1.1M1038 196h1.1M991 142h1.1M1153 161h1.1M934 77h1.1M958 222h1.1M1051 119h1.1M1029 121h1.1M966 206h1.1M878 115h1.1M1145 160h1.1M902 201h1.1M1004 86h1.1M1074 132h1.1M1002 227h1.1M974 201h1.1M1013 205h1.1M934 229h1.1M1043 144h1.1M875 113h1.1M1038 189h1.1M974 233h1.1M907 208h1.1M910 146h1.1M1020 200h1.1M1076 156h1.1M990 233h1.1M938 187h1.1M985 208h1.1M969 75h1.1M938 176h1.1M1010 167h1.1M1017 131h1.1M965 227h1.1M895 100h1.1M1013 111h1.1M917 111h1.1M981 236h1.1M915 192h1.1M1105 152h1.1M1138 176h1.1M1003 158h1.1M1091 190h1.1M1022 104h1.1M1092 131h1.1M991 168h1.1M1110 162h1.1M966 120h1.1M1002 215h1.1M994 111h1.1M1060 134h1.1M1001 93h1.1M942 167h1.1M983 125h1.1M1017 232h1.1M1038 229h1.1M916 143h1.1M1116 137h1.1M1028 144h1.1M1041 209h1.1M906 159h1.1M1081 152h1.1M895 92h1.1M1034 216h1.1M1018 117h1.1M986 123h1.1M910 164h1.1M973 214h1.1M998 195h1.1M984 124h1.1M1117 209h1.1M900 231h1.1M921 124h1.1M912 159h1.1M1119 132h1.1M936 208h1.1M923 178h1.1M1070 124h1.1M881 179h1.1M948 172h1.1M976 210h1.1M1015 158h1.1M1142 137h1.1M986 217h1.1M1139 144h1.1M1037 175h1.1M952 121h1.1M1110 214h1.1M1019 189h1.1M978 129h1.1M1004 140h1.1M900 168h1.1M1026 135h1.1M940 161h1.1M1111 150h1.1M1086 110h1.1M974 241h1.1M957 99h1.1M1115 170h1.1M914 158h1.1M900 161h1.1M932 142h1.1M1037 173h1.1M1061 150h1.1M1005 147h1.1M983 159h1.1M950 119h1.1M1020 204h1.1M893 96h1.1M988 238h1.1M956 245h1.1M953 110h1.1M889 160h1.1M971 84h1.1M910 217h1.1M1143 143h1.1M1096 99h1.1M1058 99h1.1M1073 192h1.1M1101 131h1.1M1001 231h1.1M1078 194h1.1M1103 194h1.1M928 139h1.1M955 131h1.1M1018 117h1.1M974 218h1.1M993 76h1.1M976 163h1.1M1123 150h1.1M1011 182h1.1M966 135h1.1M976 114h1.1M938 211h1.1M1019 200h1.1M947 214h1.1M1127 213h1.1M969 227h1.1M894 167h1.1M1058 218h1.1M1139 157h1.1M979 208h1.1M993 164h1.1M1020 140h1.1M1054 223h1.1M939 136h1.1M975 100h1.1M1032 204h1.1M1116 143h1.1M932 87h1.1M1127 181h1.1M911 114h1.1M1038 149h1.1M895 188h1.1M919 241h1.1M1088 206h1.1M995 189h1.1M927 144h1.1M1037 186h1.1M985 215h1.1M972 236h1.1M1044 190h1.1M951 173h1.1M882 176h1.1M1128 218h1.1M1007 186h1.1M905 166h1.1M1048 176h1.1M1075 208h1.1M921 135h1.1M1109 158h1.1M914 200h1.1M987 224h1.1M1044 98h1.1M1001 215h1.1M924 197h1.1M1118 200h1.1M946 231h1.1M1096 104h1.1M933 93h1.1M1141 152h1.1M1124 175h1.1M999 231h1.1M964 165h1.1M1084 139h1.1M879 145h1.1M1085 134h1.1M1118 145h1.1M979 167h1.1M994 184h1.1M1057 209h1.1M906 229h1.1M1105 125h1.1M1010 138h1.1M1069 169h1.1M1027 119h1.1M914 182h1.1M1100 161h1.1M1115 193h1.1M1106 159h1.1M924 144h1.1M942 166h1.1M1095 179h1.1M913 136h1.1M1141 187h1.1M1001 173h1.1M970 111h1.1M987 204h1.1M882 169h1.1M1121 137h1.1M947 122h1.1M901 92h1.1M1001 128h1.1M974 83h1.1M1004 127h1.1M966 214h1.1M1011 150h1.1M1080 209h1.1M974 191h1.1M963 113h1.1M1017 148h1.1M929 102h1.1M889 183h1.1M888 159h1.1M878 158h1.1M884 151h1.1M938 240h1.1M1098 184h1.1M890 97h1.1M899 95h1.1M907 148h1.1M1104 197h1.1M962 152h1.1M999 178h1.1M1018 143h1.1M999 236h1.1M913 91h1.1M941 120h1.1M896 159h1.1M1012 222h1.1M1038 166h1.1M905 207h1.1M1080 202h1.1M959 221h1.1M1066 177h1.1M924 202h1.1M1079 208h1.1M1132 216h1.1M1118 211h1.1M1135 208h1.1M877 168h1.1M1056 152h1.1M976 127h1.1M948 111h1.1M933 162h1.1M1074 196h1.1M963 116h1.1M1063 201h1.1M1127 161h1.1M1083 118h1.1M1026 148h1.1M1048 140h1.1M904 134h1.1M906 175h1.1M1022 86h1.1M1092 158h1.1M1004 120h1.1M985 187h1.1M917 213h1.1M924 216h1.1M1018 105h1.1M1152 148h1.1M980 133h1.1M1141 197h1.1M1092 179h1.1M1151 197h1.1M1146 178h1.1M971 148h1.1M1162 178h1.1M966 193h1.1M1059 139h1.1M1065 126h1.1M1130 176h1.1M1007 223h1.1M914 178h1.1M945 139h1.1M1059 108h1.1M996 184h1.1M985 203h1.1M1008 197h1.1M887 220h1.1M1149 187h1.1M890 112h1.1M990 110h1.1M960 165h1.1M1056 99h1.1M1045 225h1.1M980 160h1.1M903 90h1.1M1099 130h1.1M881 187h1.1M1022 118h1.1M912 207h1.1M1048 122h1.1M972 168h1.1M1113 151h1.1M943 246h1.1M1072 119h1.1M990 145h1.1M1010 115h1.1M1135 137h1.1M1091 126h1.1M1089 188h1.1M897 130h1.1M1008 239h1.1M967 115h1.1M914 213h1.1M1087 179h1.1M899 107h1.1M1001 166h1.1M1151 190h1.1M1068 126h1.1M942 191h1.1M889 211h1.1M906 136h1.1M873 194h1.1M1132 186h1.1M874 158h1.1M951 177h1.1M1015 185h1.1M1142 135h1.1M960 131h1.1M907 230h1.1M889 184h1.1M1112 193h1.1M1080 180h1.1M955 222h1.1M1007 81h1.1M949 188h1.1M963 206h1.1M937 158h1.1M1010 228h1.1M939 221h1.1M977 70h1.1M1035 140h1.1M1062 172h1.1M1073 119h1.1M1028 163h1.1M1117 193h1.1M1087 127h1.1M967 143h1.1M1045 108h1.1M1031 134h1.1M1090 129h1.1M1140 219h1.1M928 138h1.1M891 166h1.1M940 84h1.1M933 87h1.1M1136 166h1.1M898 197h1.1M922 186h1.1M985 93h1.1M1043 97h1.1M938 220h1.1M1123 140h1.1M1070 203h1.1M953 120h1.1M1088 156h1.1M974 81h1.1M1009 113h1.1M1095 110h1.1M1042 229h1.1M1079 107h1.1M1073 134h1.1M1055 173h1.1M940 166h1.1M1023 101h1.1M997 121h1.1M955 109h1.1M1088 125h1.1M1040 145h1.1M1035 147h1.1M966 105h1.1M1157 174h1.1M905 188h1.1M928 184h1.1M1093 191h1.1M964 146h1.1M1115 132h1.1M945 124h1.1M908 110h1.1M948 122h1.1M1025 140h1.1M920 229h1.1M1047 101h1.1M1052 151h1.1M1134 128h1.1M981 84h1.1M925 152h1.1M1034 203h1.1M969 159h1.1M1101 96h1.1M931 93h1.1M1057 161h1.1M902 242h1.1M967 204h1.1M977 110h1.1M1100 212h1.1M1011 231h1.1M990 134h1.1M964 115h1.1M1006 221h1.1M958 105h1.1M1036 108h1.1M1055 163h1.1M1112 202h1.1M964 97h1.1M906 231h1.1M973 229h1.1M1001 134h1.1M881 199h1.1M1115 218h1.1M1012 95h1.1M902 197h1.1M1099 122h1.1M943 188h1.1M945 90h1.1M999 79h1.1M973 105h1.1M993 103h1.1M960 109h1.1M1049 166h1.1M1000 209h1.1M928 233h1.1M1019 199h1.1M1067 140h1.1M1044 115h1.1M1023 197h1.1M995 117h1.1M1025 122h1.1M919 128h1.1M873 177h1.1M907 160h1.1M962 238h1.1M1055 136h1.1M939 113h1.1M956 98h1.1M1140 204h1.1M1104 205h1.1M1041 172h1.1M893 198h1.1M1136 187h1.1M1105 194h1.1M1049 96h1.1M885 199h1.1M1038 110h1.1M1139 130h1.1M899 125h1.1M1079 168h1.1M1017 182h1.1M880 173h1.1M926 227h1.1M1037 116h1.1M1151 191h1.1M898 143h1.1M989 84h1.1M1052 191h1.1M914 217h1.1M868 147h1.1M1096 121h1.1M955 93h1.1M950 207h1.1M886 218h1.1M886 100h1.1M897 122h1.1M998 97h1.1M1065 225h1.1M886 171h1.1M961 131h1.1M1117 138h1.1M962 210h1.1M990 205h1.1M1108 119h1.1M1147 209h1.1M1082 152h1.1M958 90h1.1M1024 152h1.1M1144 187h1.1M1007 142h1.1M1110 121h1.1M1127 175h1.1M1101 135h1.1M961 147h1.1M913 121h1.1M1000 180h1.1M1117 140h1.1M938 119h1.1M1152 194h1.1M1131 185h1.1M981 81h1.1M921 227h1.1M923 112h1.1M911 174h1.1M908 94h1.1M909 238h1.1M1083 216h1.1M1067 186h1.1M901 116h1.1M948 221h1.1M981 192h1.1M1099 116h1.1M999 117h1.1M1078 177h1.1M1142 206h1.1M875 175h1.1M1107 173h1.1M873 116h1.1M1165 206h1.1M1032 165h1.1M933 84h1.1M1072 179h1.1M905 198h1.1M1110 200h1.1M953 84h1.1M904 205h1.1M987 131h1.1M1038 109h1.1M1142 149h1.1M956 172h1.1M1062 153h1.1M1062 198h1.1M996 98h1.1M1155 194h1.1M1031 126h1.1M1007 229h1.1M1086 169h1.1M1037 122h1.1M950 87h1.1M1016 175h1.1M964 103h1.1M908 177h1.1M1052 156h1.1M975 108h1.1M989 157h1.1M927 88h1.1M1120 123h1.1M1052 176h1.1M1156 155h1.1M922 90h1.1M891 149h1.1M991 214h1.1M1088 142h1.1M1039 151h1.1M1005 105h1.1M1083 199h1.1M967 175h1.1M896 237h1.1M1013 79h1.1M1096 156h1.1M928 131h1.1M893 102h1.1M1029 230h1.1M892 140h1.1M986 148h1.1M1049 196h1.1M996 85h1.1M942 230h1.1M1024 202h1.1M1089 118h1.1M940 113h1.1M1039 192h1.1M938 181h1.1M1065 131h1.1M1073 140h1.1M1147 153h1.1M965 224h1.1M1085 132h1.1M951 244h1.1M923 202h1.1M1077 132h1.1M971 201h1.1M1063 118h1.1M977 182h1.1M1138 211h1.1M881 168h1.1M1065 219h1.1M1144 201h1.1M893 195h1.1M982 156h1.1M1129 175h1.1M1054 145h1.1M900 158h1.1M1032 96h1.1M875 120h1.1M1000 133h1.1M1088 195h1.1M984 231h1.1M880 198h1.1M1071 187h1.1M879 171h1.1M1117 194h1.1M925 204h1.1M1023 198h1.1M951 191h1.1M1005 176h1.1M994 149h1.1M1002 132h1.1M1086 108h1.1M956 213h1.1M988 78h1.1M982 206h1.1M947 146h1.1M1035 169h1.1M889 191h1.1M1101 140h1.1M910 160h1.1M920 235h1.1M951 235h1.1M900 174h1.1M1106 202h1.1M903 105h1.1M1000 198h1.1M990 80h1.1M1144 208h1.1M949 123h1.1M1028 227h1.1M999 183h1.1M912 121h1.1M930 180h1.1M1079 219h1.1M984 162h1.1M974 155h1.1M1031 153h1.1M1020 198h1.1M913 111h1.1M925 129h1.1M946 93h1.1M1070 179h1.1M931 155h1.1M992 216h1.1M1112 179h1.1M1003 105h1.1M1067 177h1.1M965 217h1.1M918 89h1.1M1073 171h1.1M954 159h1.1M1005 139h1.1M998 143h1.1M882 134h1.1M1099 161h1.1M1114 162h1.1M1100 125h1.1M1039 148h1.1M990 163h1.1M1091 110h1.1M976 122h1.1M952 172h1.1M1064 162h1.1M1101 130h1.1M1131 136h1.1M985 152h1.1M1051 143h1.1M1017 115h1.1M1105 149h1.1M1025 108h1.1M1020 80h1.1M1033 136h1.1M947 204h1.1M940 241h1.1M907 142h1.1M1101 185h1.1M1098 142h1.1M893 120h1.1M921 171h1.1M1008 178h1.1M1123 144h1.1M884 113h1.1M993 117h1.1M961 90h1.1M1060 225h1.1M1123 161h1.1M951 101h1.1M876 172h1.1M1110 113h1.1M998 78h1.1M953 104h1.1M1051 183h1.1M939 84h1.1M1165 213h1.1M922 232h1.1M1059 215h1.1M1021 188h1.1M1119 128h1.1M1155 194h1.1M1050 145h1.1M1104 159h1.1M1075 145h1.1M939 223h1.1M1111 217h1.1M1135 192h1.1M1045 95h1.1M897 237h1.1M1026 179h1.1M972 140h1.1M997 83h1.1M871 134h1.1M926 200h1.1M914 164h1.1M966 93h1.1M990 104h1.1M900 185h1.1M917 229h1.1M989 131h1.1M1090 213h1.1M928 123h1.1M936 129h1.1M1098 149h1.1M967 83h1.1M960 135h1.1M924 81h1.1M956 81h1.1M1045 136h1.1M1110 104h1.1M1055 180h1.1M1079 154h1.1M968 99h1.1M940 113h1.1M1161 213h1.1M1085 143h1.1M927 137h1.1M1024 230h1.1M1128 209h1.1M1095 131h1.1M1151 157h1.1M884 151h1.1M1098 135h1.1M1116 137h1.1M899 167h1.1M891 98h1.1M1085 220h1.1M957 202h1.1M1013 86h1.1M941 161h1.1M989 220h1.1M1032 154h1.1M1130 136h1.1M945 173h1.1M959 125h1.1M1029 207h1.1M1112 202h1.1M940 96h1.1M1099 162h1.1M989 140h1.1M987 149h1.1M979 210h1.1M872 136h1.1M948 137h1.1M1076 136h1.1M1122 170h1.1M969 103h1.1M896 236h1.1M1069 104h1.1M1043 226h1.1M1115 148h1.1M975 161h1.1M957 180h1.1M963 141h1.1M1135 176h1.1M928 239h1.1M1024 151h1.1M908 128h1.1M1122 138h1.1M903 195h1.1M897 117h1.1M930 134h1.1M921 176h1.1M997 148h1.1M1122 143h1.1M1006 190h1.1M949 223h1.1M1027 86h1.1M1115 176h1.1M958 105h1.1M1059 99h1.1M1109 106h1.1M1143 198h1.1M915 87h1.1M919 96h1.1M1108 144h1.1M963 224h1.1M958 71h1.1M932 194h1.1M1109 149h1.1M1151 168h1.1M1148 197h1.1M889 143h1.1M1010 184h1.1M1027 177h1.1M1155 164h1.1M1140 203h1.1M973 169h1.1M1138 212h1.1M1059 184h1.1M929 136h1.1M936 233h1.1M955 173h1.1M885 132h1.1M912 98h1.1M1012 115h1.1M1094 204h1.1M1073 132h1.1M947 206h1.1M1019 97h1.1M934 88h1.1M1041 227h1.1M903 183h1.1M1159 146h1.1M1003 96h1.1M971 84h1.1M977 173h1.1M962 185h1.1M1028 183h1.1M901 221h1.1M907 181h1.1M950 144h1.1M1051 93h1.1M1008 139h1.1M1041 122h1.1M1064 190h1.1M1065 179h1.1M895 148h1.1M1127 130h1.1M1077 175h1.1M994 171h1.1M1106 98h1.1M1033 185h1.1M1024 105h1.1M911 154h1.1M914 216h1.1M986 86h1.1M911 230h1.1M1068 143h1.1M1087 199h1.1M1071 135h1.1M999 224h1.1M1015 106h1.1M1005 234h1.1M1091 200h1.1M1117 190h1.1M1110 164h1.1M1162 214h1.1M922 109h1.1M1150 213h1.1M944 173h1.1M931 121h1.1M897 178h1.1M936 204h1.1M949 99h1.1M1060 177h1.1M1068 223h1.1M1154 149h1.1M899 112h1.1M1020 152h1.1M1123 216h1.1M982 149h1.1M945 211h1.1M1146 129h1.1M1005 99h1.1M1018 126h1.1M986 193h1.1M1153 201h1.1M956 207h1.1M1096 141h1.1M1022 152h1.1M1079 192h1.1M1099 126h1.1M1068 134h1.1M1130 178h1.1M1118 166h1.1M919 205h1.1M1030 139h1.1M1056 139h1.1M958 172h1.1M976 170h1.1M909 232h1.1M980 223h1.1M973 167h1.1M1156 156h1.1M903 126h1.1M1131 158h1.1M1140 176h1.1M997 151h1.1M1062 189h1.1M958 86h1.1M934 130h1.1M1103 182h1.1M1097 165h1.1M1124 154h1.1M1016 131h1.1M1152 157h1.1M974 232h1.1M1029 152h1.1M887 136h1.1M1100 153h1.1M979 149h1.1M892 136h1.1M918 159h1.1M1113 164h1.1M978 102h1.1M1011 221h1.1M974 85h1.1M1090 194h1.1M894 107h1.1M916 158h1.1M982 136h1.1M1020 123h1.1M1003 136h1.1M1055 135h1.1M1163 201h1.1M1070 147h1.1M1066 173h1.1M1018 143h1.1M1035 129h1.1M1079 139h1.1M1085 188h1.1M931 156h1.1M1138 181h1.1M1073 212h1.1M959 238h1.1M940 91h1.1M1078 155h1.1M1084 158h1.1M1102 208h1.1M905 217h1.1M1097 209h1.1M1003 115h1.1M988 87h1.1M977 241h1.1M941 143h1.1M885 133h1.1M966 133h1.1M1005 181h1.1M1026 197h1.1M892 131h1.1M1145 196h1.1M1139 200h1.1M1046 216h1.1M886 170h1.1M970 78h1.1M1006 154h1.1M892 105h1.1M1122 137h1.1M887 153h1.1M1005 148h1.1M1014 208h1.1M963 231h1.1M951 213h1.1M1030 89h1.1M1124 118h1.1M985 80h1.1M946 137h1.1M1107 132h1.1M999 237h1.1M1160 172h1.1M1045 125h1.1M996 223h1.1M963 126h1.1M1033 138h1.1M1053 144h1.1M1049 202h1.1M959 213h1.1M1043 120h1.1M1007 102h1.1M937 214h1.1M1044 164h1.1M1043 215h1.1M957 178h1.1M1060 121h1.1M1013 163h1.1M1008 164h1.1M1000 225h1.1M932 185h1.1M930 82h1.1M998 127h1.1M1060 109h1.1M936 158h1.1M1011 231h1.1M968 241h1.1M1120 152h1.1M1134 195h1.1M982 223h1.1M1113 172h1.1M969 219h1.1M918 229h1.1M993 199h1.1M892 215h1.1M967 151h1.1M914 148h1.1M912 204h1.1M881 140h1.1M960 222h1.1M910 240h1.1M1159 169h1.1M888 128h1.1M1136 128h1.1M997 219h1.1M1000 101h1.1M1049 96h1.1M936 92h1.1M966 161h1.1M1142 220h1.1M965 104h1.1M933 229h1.1M886 218h1.1M1015 107h1.1M972 229h1.1M1128 158h1.1M940 134h1.1M1020 129h1.1M911 130h1.1M1041 163h1.1M948 167h1.1M1039 199h1.1M1081 119h1.1M1022 197h1.1M976 186h1.1M1023 228h1.1M1095 221h1.1M1122 118h1.1M1114 169h1.1M938 231h1.1M1110 133h1.1M1109 109h1.1M923 224h1.1M1019 231h1.1M922 166h1.1M1082 209h1.1M910 188h1.1M1069 165h1.1M1092 178h1.1M1012 86h1.1M1136 155h1.1M1104 125h1.1M1003 176h1.1M981 88h1.1M904 205h1.1M917 220h1.1M998 127h1.1M913 107h1.1M893 205h1.1M927 181h1.1M1023 101h1.1M1054 181h1.1M1006 182h1.1M1027 121h1.1M941 143h1.1M1083 196h1.1M1010 104h1.1M991 84h1.1M943 210h1.1M1013 232h1.1M966 214h1.1M878 116h1.1M982 102h1.1M1047 164h1.1M1138 131h1.1M914 182h1.1M1002 167h1.1M1009 223h1.1M961 80h1.1M1059 212h1.1M894 216h1.1M918 211h1.1M1011 132h1.1M989 163h1.1M1121 176h1.1M1099 97h1.1M1025 177h1.1M1023 109h1.1M1036 134h1.1M915 123h1.1M1077 212h1.1M1085 115h1.1M880 209h1.1M1034 202h1.1M1037 140h1.1M997 203h1.1M959 144h1.1M956 109h1.1M891 165h1.1M1132 203h1.1M998 80h1.1M1158 207h1.1M1035 148h1.1M926 221h1.1M937 212h1.1M922 187h1.1M950 162h1.1M960 133h1.1M905 198h1.1M967 149h1.1M1103 106h1.1M949 104h1.1M1101 169h1.1M1121 156h1.1M886 125h1.1M1078 130h1.1M1004 134h1.1M900 94h1.1M1158 211h1.1M1090 129h1.1M1033 95h1.1M1128 198h1.1M984 150h1.1M1120 122h1.1M956 154h1.1M939 86h1.1M1030 117h1.1M1003 230h1.1M945 85h1.1M997 181h1.1M906 176h1.1M936 89h1.1M950 172h1.1M887 227h1.1M1109 101h1.1M995 141h1.1M1077 156h1.1M1093 175h1.1M893 148h1.1M1108 152h1.1M932 202h1.1M1097 174h1.1M1136 162h1.1M948 131h1.1M949 106h1.1M1085 127h1.1M1051 207h1.1M1080 122h1.1M944 177h1.1M915 128h1.1M955 116h1.1M971 235h1.1M1000 205h1.1M931 117h1.1M1012 154h1.1M960 188h1.1M1080 205h1.1M944 74h1.1M1050 178h1.1M1076 134h1.1M951 191h1.1M1161 196h1.1M941 107h1.1M992 131h1.1M1131 149h1.1M1007 206h1.1M939 126h1.1M962 88h1.1M997 118h1.1M934 140h1.1M944 112h1.1M926 196h1.1M914 220h1.1M926 204h1.1M1006 183h1.1M1113 149h1.1M976 180h1.1M1008 127h1.1M983 100h1.1M969 108h1.1M1048 178h1.1M1158 212h1.1M1119 180h1.1M912 239h1.1M887 159h1.1M973 239h1.1M1068 183h1.1M975 207h1.1M998 79h1.1M887 181h1.1M1059 148h1.1M888 217h1.1M916 201h1.1M956 179h1.1M894 122h1.1M950 115h1.1M985 119h1.1M978 134h1.1M941 206h1.1M1008 159h1.1M954 209h1.1M959 112h1.1M962 100h1.1M1033 153h1.1M1105 121h1.1M998 237h1.1M900 116h1.1M1136 138h1.1M1082 135h1.1M901 192h1.1M1106 214h1.1M1024 106h1.1M954 158h1.1M1161 188h1.1M1115 215h1.1M926 153h1.1M1161 190h1.1M917 179h1.1M998 148h1.1M1038 223h1.1M978 147h1.1M1102 178h1.1M929 163h1.1M930 196h1.1M1014 230h1.1M1155 178h1.1M951 137h1.1M1092 118h1.1M889 178h1.1M951 137h1.1M915 115h1.1M1084 136h1.1M932 103h1.1M1079 190h1.1M885 132h1.1M962 141h1.1M955 156h1.1M1050 215h1.1M1063 189h1.1M1019 191h1.1M962 173h1.1M1049 129h1.1M971 210h1.1M1111 205h1.1M886 156h1.1M1049 104h1.1M1029 209h1.1M898 175h1.1M1119 185h1.1M914 188h1.1M957 177h1.1M1053 154h1.1M955 202h1.1M968 178h1.1M1048 167h1.1M1065 209h1.1M949 113h1.1M887 123h1.1M1018 92h1.1M1088 110h1.1M1034 162h1.1M1163 192h1.1M914 178h1.1M914 230h1.1M966 191h1.1M876 140h1.1M992 128h1.1M924 106h1.1M1115 206h1.1M1137 192h1.1M1149 190h1.1M976 219h1.1M1145 149h1.1M1028 157h1.1M900 179h1.1M1010 93h1.1M1111 210h1.1M1094 196h1.1M878 142h1.1M985 144h1.1M1074 202h1.1M1006 120h1.1M1110 217h1.1M1145 195h1.1M969 178h1.1M891 196h1.1M947 154h1.1M938 225h1.1M1009 82h1.1M963 75h1.1M976 76h1.1M1058 192h1.1M1075 148h1.1M1129 171h1.1M951 223h1.1M1063 112h1.1M1151 162h1.1M928 180h1.1M1000 202h1.1M1028 230h1.1M1060 156h1.1M1023 122h1.1M1025 143h1.1M1102 164h1.1M1021 98h1.1M902 122h1.1M908 217h1.1M1064 158h1.1M900 133h1.1M1069 110h1.1M996 132h1.1M953 238h1.1M900 84h1.1M959 195h1.1M1061 201h1.1M961 171h1.1M1065 127h1.1M981 164h1.1M926 119h1.1M1016 109h1.1M1027 206h1.1M1100 181h1.1M892 167h1.1M999 167h1.1M1132 141h1.1M1020 142h1.1M919 195h1.1M1032 90h1.1M944 172h1.1M1000 203h1.1M1072 145h1.1M1124 174h1.1M1164 173h1.1M1080 187h1.1M1035 213h1.1M1127 198h1.1M933 189h1.1M910 93h1.1M1041 195h1.1M981 209h1.1M1079 208h1.1M1063 216h1.1M1065 118h1.1M1093 106h1.1M984 118h1.1M1118 154h1.1M942 112h1.1M1054 173h1.1M1106 212h1.1M1033 145h1.1M1000 121h1.1M1033 108h1.1M1103 111h1.1M929 126h1.1M1070 204h1.1M921 141h1.1M1126 136h1.1M942 230h1.1M915 152h1.1M1109 187h1.1M896 160h1.1M1040 222h1.1M925 226h1.1M1125 190h1.1M921 88h1.1M889 102h1.1M878 121h1.1M1027 138h1.1M986 141h1.1M1062 205h1.1M1097 101h1.1M973 103h1.1M1026 137h1.1M1032 149h1.1M1053 179h1.1M968 215h1.1M1015 84h1.1M929 126h1.1M981 156h1.1M931 238h1.1M992 201h1.1M1022 124h1.1M1079 119h1.1M971 120h1.1M885 184h1.1M902 142h1.1M1079 100h1.1M1105 162h1.1M919 211h1.1M1103 160h1.1M996 126h1.1M968 105h1.1M868 120h1.1M915 232h1.1M1043 219h1.1M978 239h1.1M1023 240h1.1M931 184h1.1M1102 101h1.1M1055 199h1.1M1049 115h1.1M985 76h1.1M904 107h1.1M880 170h1.1M1105 134h1.1M1084 195h1.1M928 98h1.1M1134 168h1.1M902 158h1.1M1016 174h1.1M1115 214h1.1M948 159h1.1M878 107h1.1M902 99h1.1M950 109h1.1M927 88h1.1M1069 101h1.1M972 168h1.1M961 154h1.1M956 186h1.1M963 137h1.1M1029 120h1.1M1015 145h1.1M1114 171h1.1M973 131h1.1M1005 125h1.1M1000 221h1.1M995 179h1.1M959 89h1.1M1153 199h1.1M1164 203h1.1M1091 106h1.1M1114 119h1.1M961 94h1.1M1052 167h1.1M1151 179h1.1M1088 154h1.1M1095 141h1.1M1161 173h1.1M989 159h1.1M1113 210h1.1M900 163h1.1M934 96h1.1M945 236h1.1M950 241h1.1M894 218h1.1M898 170h1.1M900 96h1.1M957 143h1.1M945 160h1.1M923 233h1.1M1013 155h1.1M1035 97h1.1M896 172h1.1M993 104h1.1M996 91h1.1M909 191h1.1M920 197h1.1M1064 157h1.1M906 169h1.1M1010 114h1.1M913 131h1.1M944 178h1.1M1122 203h1.1M1122 209h1.1M929 82h1.1M1042 198h1.1M1058 227h1.1M968 202h1.1M1083 126h1.1M905 113h1.1M1028 193h1.1M900 130h1.1M913 172h1.1M923 95h1.1M973 204h1.1M948 90h1.1M1071 145h1.1M1052 188h1.1M907 198h1.1M1008 198h1.1M970 204h1.1M1123 190h1.1M1013 83h1.1M1000 91h1.1M956 180h1.1M1145 153h1.1M959 131h1.1M1028 124h1.1M1002 134h1.1M1082 202h1.1M929 230h1.1M1015 161h1.1M984 240h1.1M911 207h1.1M955 235h1.1M981 130h1.1M917 137h1.1M902 132h1.1M1001 112h1.1M955 79h1.1M919 207h1.1M1060 176h1.1M985 149h1.1M981 195h1.1M906 175h1.1M994 221h1.1M910 123h1.1M932 157h1.1M969 133h1.1M1108 130h1.1M928 223h1.1M1037 107h1.1M1058 204h1.1M918 178h1.1M923 192h1.1M937 80h1.1M1128 127h1.1M879 145h1.1M1135 154h1.1M1012 137h1.1M883 210h1.1M1110 184h1.1M985 202h1.1M917 218h1.1M1153 217h1.1M1079 114h1.1M937 191h1.1M1014 212h1.1M975 134h1.1M899 161h1.1M919 137h1.1M1119 127h1.1M898 170h1.1M970 123h1.1M952 186h1.1M932 100h1.1M1087 204h1.1M1032 92h1.1M949 129h1.1M1103 141h1.1M949 169h1.1M920 197h1.1M1056 116h1.1M1149 146h1.1M1074 165h1.1M974 81h1.1M1108 125h1.1M1038 188h1.1M979 129h1.1M1007 114h1.1M954 238h1.1M933 131h1.1M927 153h1.1M1135 143h1.1M1010 167h1.1M1102 162h1.1M914 102h1.1M958 233h1.1M981 196h1.1M1072 128h1.1M933 204h1.1M941 224h1.1M1038 96h1.1M900 193h1.1M1085 104h1.1M907 179h1.1M910 159h1.1M1057 209h1.1M1081 141h1.1M943 148h1.1M1075 156h1.1M1116 170h1.1M975 117h1.1M1096 210h1.1M1077 147h1.1M1072 116h1.1M981 176h1.1M1057 102h1.1M965 204h1.1M949 199h1.1M1012 219h1.1M900 191h1.1M1057 133h1.1M952 77h1.1M905 175h1.1M922 152h1.1M1053 201h1.1M1042 219h1.1M1101 211h1.1M1014 215h1.1M1048 91h1.1M906 96h1.1M1029 228h1.1M1028 96h1.1M905 97h1.1M995 141h1.1M1079 157h1.1M995 162h1.1M976 126h1.1M1070 171h1.1M912 132h1.1M1078 212h1.1M985 84h1.1M1020 158h1.1M1099 188h1.1M949 198h1.1M943 206h1.1M934 215h1.1M1062 178h1.1M1045 208h1.1M992 132h1.1M924 104h1.1M1133 190h1.1M960 106h1.1M1004 230h1.1M1115 125h1.1M1058 128h1.1M1042 124h1.1M1137 212h1.1M904 112h1.1M991 143h1.1M909 85h1.1M1128 168h1.1M1066 184h1.1M927 142h1.1M902 92h1.1M1079 187h1.1M1010 155h1.1M937 223h1.1M1158 203h1.1M1049 221h1.1M883 158h1.1M1055 148h1.1M1126 158h1.1M1021 80h1.1M1083 156h1.1M1000 224h1.1M1101 142h1.1M934 195h1.1M1083 158h1.1M973 208h1.1M989 111h1.1M928 202h1.1M1064 118h1.1M960 139h1.1M887 180h1.1M1119 208h1.1M1062 117h1.1M925 185h1.1M946 199h1.1M958 74h1.1M984 143h1.1M922 226h1.1M1148 216h1.1M1005 81h1.1M1036 123h1.1M948 139h1.1M1011 120h1.1M1031 107h1.1M1135 153h1.1M1000 179h1.1M1057 140h1.1M1073 189h1.1M1022 173h1.1M976 225h1.1M894 129h1.1M1022 92h1.1M966 168h1.1M1051 196h1.1M893 97h1.1M1007 167h1.1M891 164h1.1M1094 153h1.1M993 88h1.1M1111 182h1.1M958 186h1.1M992 202h1.1M1043 225h1.1M1042 122h1.1M904 224h1.1M1033 124h1.1M886 205h1.1M995 93h1.1M931 161h1.1M1055 200h1.1M887 145h1.1M1062 209h1.1M920 152h1.1M1039 102h1.1M1142 154h1.1M936 223h1.1M1119 155h1.1M959 142h1.1M1086 217h1.1M1116 186h1.1M991 146h1.1M1038 112h1.1M960 215h1.1M963 220h1.1M906 76h1.1M1053 208h1.1M1020 88h1.1M918 176h1.1M1063 130h1.1M1030 88h1.1M1140 180h1.1M935 238h1.1M1059 170h1.1M1125 173h1.1M1008 202h1.1M1108 205h1.1M989 220h1.1M1056 163h1.1M893 171h1.1M924 212h1.1M1058 134h1.1M1066 119h1.1M1128 219h1.1M1016 158h1.1M1016 88h1.1M1021 202h1.1M964 198h1.1M1111 167h1.1M937 174h1.1M1012 111h1.1M995 110h1.1M1029 129h1.1M892 125h1.1M978 161h1.1M1021 236h1.1M1045 121h1.1M990 83h1.1M969 239h1.1M968 125h1.1M933 114h1.1M918 179h1.1M919 142h1.1M1117 224h1.1M1109 184h1.1M1021 174h1.1M998 213h1.1M934 187h1.1M1109 215h1.1M1073 184h1.1M1101 167h1.1M1055 107h1.1M962 194h1.1M1000 86h1.1M1085 171h1.1M1084 129h1.1M1064 106h1.1M1110 108h1.1M916 165h1.1M1089 224h1.1M997 178h1.1M1020 128h1.1M1132 133h1.1M1091 133h1.1M964 107h1.1M959 107h1.1M1119 220h1.1M935 85h1.1M904 209h1.1M941 213h1.1M999 197h1.1M882 175h1.1M918 208h1.1M1123 136h1.1M1038 163h1.1M1142 147h1.1M890 174h1.1M1086 204h1.1M935 123h1.1M1053 212h1.1M937 112h1.1M1022 210h1.1M1046 143h1.1M1107 157h1.1M1019 149h1.1M979 152h1.1M891 179h1.1M996 191h1.1M996 179h1.1M1154 197h1.1M1014 171h1.1M966 205h1.1M1048 156h1.1M1094 142h1.1M1044 144h1.1M1041 170h1.1M948 74h1.1M928 138h1.1M1166 216h1.1M885 128h1.1M889 212h1.1M1133 163h1.1M988 211h1.1M1042 141h1.1M916 218h1.1M923 118h1.1M937 104h1.1M997 110h1.1M1035 157h1.1M1008 74h1.1M1058 176h1.1M1078 217h1.1M1053 198h1.1M1063 110h1.1M1068 202h1.1M958 147h1.1M1160 198h1.1M981 205h1.1M1070 182h1.1M880 156h1.1M995 80h1.1M906 111h1.1M936 228h1.1M1087 101h1.1M986 216h1.1M943 233h1.1M910 86h1.1M1137 159h1.1M953 226h1.1M941 154h1.1M934 208h1.1M959 117h1.1M960 111h1.1M1099 135h1.1M1135 173h1.1M1009 119h1.1M1073 208h1.1M991 211h1.1M967 79h1.1M1113 168h1.1M1140 189h1.1M1021 233h1.1M1059 213h1.1M1018 227h1.1M892 99h1.1M1017 157h1.1M1011 159h1.1M1118 153h1.1M875 143h1.1M1015 194h1.1M1030 130h1.1M1002 150h1.1M1102 138h1.1M965 153h1.1M956 83h1.1M934 140h1.1M969 224h1.1M945 241h1.1M1126 198h1.1M1103 157h1.1M993 232h1.1M1076 191h1.1M972 189h1.1M1079 176h1.1M886 104h1.1M1108 168h1.1M913 160h1.1M1098 121h1.1M1037 101h1.1M954 101h1.1M960 116h1.1M1077 145h1.1M1126 120h1.1M956 92h1.1M1099 181h1.1M997 95h1.1M1153 176h1.1M1054 110h1.1M1140 197h1.1M934 215h1.1M899 103h1.1M1111 133h1.1M1002 239h1.1M1035 138h1.1M901 118h1.1M942 182h1.1M919 108h1.1M968 206h1.1M1019 227h1.1M965 161h1.1M904 231h1.1M902 125h1.1M1153 202h1.1M988 98h1.1M941 159h1.1M1053 156h1.1M1018 96h1.1M1070 112h1.1M1042 113h1.1M1116 201h1.1M948 129h1.1M890 189h1.1M945 181h1.1M996 204h1.1M1002 109h1.1M891 198h1.1M938 243h1.1M1045 220h1.1M1019 126h1.1M1021 96h1.1M1042 152h1.1M1085 155h1.1M1109 148h1.1M1068 156h1.1M972 183h1.1M1003 117h1.1M1152 144h1.1M1062 223h1.1M1047 204h1.1M902 133h1.1M1150 161h1.1M1032 176h1.1M1028 143h1.1M958 155h1.1M887 176h1.1M925 220h1.1M944 212h1.1M1034 161h1.1M1112 128h1.1M932 207h1.1M1129 212h1.1M983 129h1.1M913 174h1.1M963 99h1.1M949 175h1.1M1085 162h1.1M906 142h1.1M925 182h1.1M928 73h1.1M1099 217h1.1M947 151h1.1M986 92h1.1M912 229h1.1M932 137h1.1M1040 129h1.1M1058 154h1.1M1159 200h1.1M1020 123h1.1M930 103h1.1M970 213h1.1M933 226h1.1M1003 155h1.1M953 78h1.1M959 192h1.1M954 164h1.1M998 208h1.1M1035 122h1.1M1110 158h1.1M952 93h1.1M1052 188h1.1M1067 104h1.1M991 82h1.1M1128 191h1.1M1118 179h1.1M915 202h1.1M952 217h1.1M926 155h1.1M1027 102h1.1M1079 166h1.1M900 103h1.1M931 86h1.1M990 72h1.1M957 197h1.1M918 167h1.1M981 73h1.1M1011 77h1.1M1005 107h1.1M1079 212h1.1M986 167h1.1M883 102h1.1M1106 146h1.1M980 193h1.1M981 175h1.1M1062 209h1.1M950 103h1.1M955 77h1.1M1103 106h1.1M1078 136h1.1M971 105h1.1M972 156h1.1M927 110h1.1M964 99h1.1M938 118h1.1M970 75h1.1M1038 192h1.1M1102 108h1.1M910 125h1.1M936 116h1.1M1060 224h1.1M986 105h1.1M967 211h1.1M922 162h1.1M1042 230h1.1M905 212h1.1M892 159h1.1M904 111h1.1M1042 207h1.1M1104 172h1.1M1004 200h1.1M1002 83h1.1M1119 113h1.1M1114 213h1.1M1059 129h1.1M964 93h1.1M1019 201h1.1M959 142h1.1M1110 126h1.1M1047 103h1.1M936 158h1.1M1035 204h1.1M1003 169h1.1M923 84h1.1M990 154h1.1M1061 132h1.1M1113 165h1.1M1065 107h1.1M1098 136h1.1M923 85h1.1M1062 206h1.1M1145 177h1.1M1031 216h1.1M1154 183h1.1M939 234h1.1M1004 117h1.1M942 192h1.1M1027 121h1.1M1015 236h1.1M987 116h1.1M929 169h1.1M1050 187h1.1M911 202h1.1M1043 209h1.1M1074 153h1.1M1121 145h1.1M906 109h1.1M1039 213h1.1M1063 203h1.1M1093 214h1.1M889 220h1.1M914 142h1.1M931 179h1.1M1158 194h1.1M984 75h1.1M1087 130h1.1M894 121h1.1M1093 149h1.1M946 78h1.1M1043 143h1.1M1105 185h1.1M1073 151h1.1M1044 116h1.1M941 229h1.1M1110 209h1.1M944 143h1.1M878 200h1.1M995 193h1.1M937 203h1.1M950 131h1.1M1111 138h1.1M930 176h1.1M1028 149h1.1M912 104h1.1M1021 194h1.1M949 150h1.1M1041 208h1.1M1071 189h1.1M900 222h1.1M896 230h1.1M1004 84h1.1M927 123h1.1M952 72h1.1M940 156h1.1M1005 178h1.1M916 135h1.1M907 129h1.1M1103 176h1.1M1103 201h1.1M1109 118h1.1M995 218h1.1M888 120h1.1M1152 157h1.1M982 106h1.1M948 164h1.1M875 141h1.1M908 84h1.1M965 188h1.1M1034 163h1.1M969 186h1.1M1113 141h1.1M1025 135h1.1M980 118h1.1M1034 229h1.1M1084 128h1.1M1078 208h1.1M890 135h1.1M1003 213h1.1M1059 190h1.1M1117 215h1.1M963 202h1.1M1115 142h1.1M930 85h1.1M903 178h1.1M1032 137h1.1M1111 119h1.1M932 126h1.1M996 120h1.1M973 177h1.1M1076 167h1.1M933 185h1.1M945 111h1.1M1092 170h1.1M1161 214h1.1M954 161h1.1M874 154h1.1M942 88h1.1M1088 112h1.1M1136 187h1.1M981 110h1.1M1061 148h1.1M1099 191h1.1M1037 94h1.1M1043 217h1.1M1031 92h1.1M904 178h1.1M954 185h1.1M971 87h1.1M1132 144h1.1M961 79h1.1M1024 101h1.1M1122 153h1.1M969 76h1.1M1069 187h1.1M993 192h1.1M932 101h1.1M956 128h1.1M1143 172h1.1M1020 103h1.1M883 190h1.1M897 210h1.1M934 139h1.1M1130 194h1.1M1039 234h1.1M940 92h1.1M1077 176h1.1M1050 225h1.1M1107 142h1.1M1006 234h1.1M954 108h1.1M999 88h1.1M968 214h1.1M1035 137h1.1M1005 76h1.1M966 94h1.1M1053 182h1.1M1000 106h1.1M953 163h1.1M947 189h1.1M912 191h1.1M1098 167h1.1M955 76h1.1M959 166h1.1M1151 206h1.1M1017 134h1.1M1005 102h1.1M983 184h1.1M874 128h1.1M1021 161h1.1M1045 193h1.1M1021 135h1.1M924 212h1.1M1140 170h1.1M1080 187h1.1M1010 167h1.1M974 235h1.1M1036 198h1.1M922 100h1.1M1091 199h1.1M1109 121h1.1M1066 134h1.1M910 159h1.1M932 193h1.1M1126 136h1.1M962 107h1.1M949 177h1.1M963 181h1.1M1132 189h1.1M1162 187h1.1M1070 209h1.1M1103 129h1.1M967 221h1.1M1019 188h1.1M1057 208h1.1M1118 191h1.1M894 127h1.1M959 141h1.1M997 79h1.1M998 213h1.1M904 90h1.1M894 154h1.1M932 221h1.1M1070 143h1.1M916 86h1.1M1030 178h1.1M1150 146h1.1M1023 169h1.1M897 219h1.1M1022 206h1.1M937 233h1.1M1010 201h1.1M1118 194h1.1M871 131h1.1M897 215h1.1M1027 224h1.1M1091 145h1.1M971 117h1.1M947 153h1.1M974 79h1.1M930 188h1.1M1063 132h1.1M1133 152h1.1M1051 220h1.1M1011 92h1.1M936 91h1.1M974 192h1.1M1079 178h1.1M1002 192h1.1M889 177h1.1M1050 119h1.1M1105 127h1.1M1079 206h1.1M1118 139h1.1M967 107h1.1M1128 118h1.1M947 242h1.1M1162 215h1.1M942 128h1.1M1034 102h1.1M919 96h1.1M929 126h1.1M1029 100h1.1M1026 165h1.1M892 131h1.1M923 181h1.1M921 186h1.1M1110 159h1.1M961 98h1.1M1041 153h1.1M912 94h1.1M1017 148h1.1M990 89h1.1M1097 126h1.1M1044 103h1.1M912 124h1.1M906 173h1.1M878 173h1.1M1040 187h1.1M1103 145h1.1M1006 123h1.1M1078 115h1.1M1057 149h1.1M1091 181h1.1M970 224h1.1M1148 178h1.1M999 226h1.1M970 188h1.1M1157 209h1.1M1046 200h1.1M958 226h1.1M1011 163h1.1M953 203h1.1M1049 104h1.1M1148 184h1.1M1032 122h1.1M1164 207h1.1M1116 189h1.1M930 192h1.1M1134 158h1.1M1107 101h1.1M1071 187h1.1M1031 167h1.1M928 174h1.1M960 157h1.1M988 182h1.1M886 217h1.1M897 101h1.1M999 156h1.1M1026 120h1.1M921 183h1.1M1056 145h1.1M942 97h1.1M941 155h1.1M919 185h1.1M949 74h1.1M1108 215h1.1M894 200h1.1M895 149h1.1M1013 206h1.1M932 222h1.1M989 118h1.1M1118 206h1.1M949 208h1.1M1009 80h1.1M963 226h1.1M1008 94h1.1M950 125h1.1M1028 222h1.1M1019 106h1.1M965 191h1.1M948 236h1.1M950 115h1.1M980 157h1.1M986 190h1.1M899 170h1.1M1004 174h1.1M909 226h1.1M986 231h1.1M1152 207h1.1M1139 218h1.1M1072 220h1.1M1111 111h1.1M1139 209h1.1M1037 161h1.1M912 130h1.1M911 231h1.1M1138 203h1.1M1082 215h1.1M1088 182h1.1M965 166h1.1M1131 188h1.1M1113 123h1.1M1080 123h1.1M912 179h1.1M936 150h1.1M910 101h1.1M1078 117h1.1M1080 198h1.1M1132 141h1.1M952 126h1.1M939 117h1.1M880 140h1.1M927 118h1.1M1012 194h1.1M881 185h1.1M1006 172h1.1M1033 90h1.1M979 78h1.1M895 191h1.1M1073 106h1.1M964 81h1.1M1011 180h1.1M940 152h1.1M919 181h1.1M1039 188h1.1M1095 188h1.1M956 192h1.1M935 168h1.1M940 114h1.1M1073 164h1.1M893 160h1.1M965 125h1.1M1021 111h1.1M939 95h1.1M1027 91h1.1M986 230h1.1M916 178h1.1M936 94h1.1M938 116h1.1M892 183h1.1M1087 181h1.1M954 79h1.1M1073 191h1.1M946 194h1.1M1054 113h1.1M998 166h1.1M1061 215h1.1M965 193h1.1M921 242h1.1M1013 220h1.1M1157 172h1.1M1048 179h1.1M1076 115h1.1M960 138h1.1M990 113h1.1M917 146h1.1M1064 198h1.1M908 135h1.1M928 115h1.1M1124 162h1.1M1119 149h1.1M1120 112h1.1M1071 162h1.1M1040 155h1.1M954 175h1.1M992 99h1.1M1136 150h1.1M957 181h1.1M1152 180h1.1M972 109h1.1M888 189h1.1M1159 179h1.1M1049 163h1.1M933 219h1.1M886 201h1.1M1060 202h1.1M1008 225h1.1M993 113h1.1M980 175h1.1M1071 224h1.1M997 190h1.1M1049 140h1.1M1088 158h1.1M931 209h1.1M973 114h1.1M914 164h1.1M1012 87h1.1M954 126h1.1M969 194h1.1M1034 112h1.1M970 105h1.1M1061 223h1.1M970 168h1.1M904 172h1.1M1106 129h1.1M977 229h1.1M951 231h1.1M961 107h1.1M944 123h1.1M986 87h1.1M1010 209h1.1M1025 121h1.1M1031 207h1.1M927 155h1.1M1095 146h1.1M1064 193h1.1M1050 159h1.1M891 203h1.1M1035 179h1.1M1018 157h1.1M982 123h1.1M1105 161h1.1M1107 100h1.1M945 118h1.1M1006 125h1.1M1037 208h1.1M1036 185h1.1M1064 133h1.1M927 204h1.1M976 77h1.1M1086 130h1.1M941 82h1.1M1115 150h1.1M981 222h1.1M975 185h1.1M1093 140h1.1M914 126h1.1M941 232h1.1M968 126h1.1M1052 107h1.1M928 241h1.1M958 165h1.1M1135 184h1.1M1117 183h1.1M1078 139h1.1M1134 151h1.1M1041 100h1.1M1010 106h1.1M1140 159h1.1M975 161h1.1M961 126h1.1M891 114h1.1M1163 208h1.1M1162 194h1.1M959 192h1.1M997 93h1.1M883 185h1.1M911 164h1.1M945 80h1.1M930 156h1.1M1033 169h1.1M1016 207h1.1M895 161h1.1M1066 130h1.1M885 138h1.1M1038 180h1.1M1004 211h1.1M1132 216h1.1M1104 172h1.1M877 168h1.1M1026 168h1.1M1033 129h1.1M1022 197h1.1M1046 168h1.1M941 138h1.1M977 78h1.1M986 113h1.1M1062 174h1.1M876 143h1.1M1063 230h1.1M884 156h1.1M886 158h1.1M976 161h1.1M931 180h1.1M1123 169h1.1M1039 219h1.1M903 88h1.1M1085 188h1.1M977 219h1.1M927 172h1.1M907 226h1.1M984 125h1.1M991 227h1.1M1114 133h1.1M940 94h1.1M906 103h1.1M1021 179h1.1M975 83h1.1M997 209h1.1M1045 204h1.1M1089 155h1.1M1071 128h1.1M945 229h1.1M1073 174h1.1M1021 102h1.1M998 82h1.1M936 230h1.1M924 183h1.1M916 230h1.1M1069 122h1.1M951 217h1.1M1149 200h1.1M925 113h1.1M1016 235h1.1M1076 121h1.1M915 203h1.1M923 109h1.1M1010 132h1.1M1107 105h1.1M1080 171h1.1M1059 175h1.1M1011 178h1.1M1128 209h1.1M922 151h1.1M895 176h1.1M912 152h1.1M1136 174h1.1M897 165h1.1M911 143h1.1M880 141h1.1M969 110h1.1M1017 189h1.1M960 228h1.1M1006 84h1.1M910 97h1.1M950 197h1.1M1011 94h1.1M1024 145h1.1M998 117h1.1M987 202h1.1M934 184h1.1M926 183h1.1M1071 138h1.1M1135 151h1.1M954 94h1.1M983 194h1.1M975 94h1.1M1014 82h1.1M1144 170h1.1M989 169h1.1M1076 101h1.1M1012 85h1.1M1105 102h1.1M1018 141h1.1M1019 221h1.1M931 243h1.1M947 88h1.1M1096 174h1.1M940 220h1.1M905 186h1.1M1083 144h1.1M1129 126h1.1M938 106h1.1M973 97h1.1M930 194h1.1M886 203h1.1M1120 127h1.1M1080 216h1.1M949 135h1.1M954 242h1.1M919 86h1.1M1023 108h1.1M1068 131h1.1M1083 148h1.1M972 87h1.1M986 86h1.1M1007 202h1.1M995 107h1.1M1104 177h1.1M1118 137h1.1M1076 144h1.1M1141 220h1.1M1115 155h1.1M1096 184h1.1M1021 128h1.1M1094 101h1.1M962 238h1.1M1127 213h1.1M1072 133h1.1M1042 200h1.1M1128 161h1.1M1033 204h1.1M883 154h1.1M939 230h1.1M1092 111h1.1M1034 147h1.1M1080 107h1.1M1072 222h1.1M891 147h1.1M1065 109h1.1M898 84h1.1M997 180h1.1M980 80h1.1M899 160h1.1M948 183h1.1M1002 201h1.1M1152 217h1.1M979 155h1.1M924 72h1.1M934 135h1.1M921 239h1.1M982 225h1.1M1144 185h1.1M957 188h1.1M900 217h1.1M921 83h1.1M922 97h1.1M1117 185h1.1M976 240h1.1M1062 195h1.1M1024 235h1.1M1001 76h1.1M1036 106h1.1M1087 111h1.1M972 107h1.1M991 89h1.1M1030 201h1.1M989 220h1.1M1112 148h1.1M1149 171h1.1M1121 172h1.1M1108 159h1.1M973 157h1.1M1010 110h1.1M1101 158h1.1M1013 138h1.1M1034 107h1.1M996 175h1.1M1069 208h1.1M1002 106h1.1M1020 175h1.1M952 90h1.1M910 98h1.1M1081 195h1.1M931 158h1.1M1123 181h1.1M1041 97h1.1M964 91h1.1M1069 127h1.1M927 219h1.1M1057 121h1.1M936 102h1.1M919 174h1.1M950 125h1.1M994 122h1.1M976 222h1.1M1085 119h1.1M929 175h1.1M940 198h1.1M876 173h1.1M1065 130h1.1M1067 195h1.1M985 197h1.1M1037 95h1.1M1098 221h1.1M897 233h1.1M995 225h1.1M1107 166h1.1M1040 107h1.1M1083 164h1.1M960 213h1.1M1088 146h1.1M1056 187h1.1M938 166h1.1M985 153h1.1M1027 185h1.1M1156 191h1.1M1131 200h1.1M1015 94h1.1M936 123h1.1M1024 134h1.1M997 130h1.1M885 185h1.1M894 151h1.1M970 206h1.1M993 158h1.1M1106 114h1.1M900 233h1.1M975 141h1.1M1012 179h1.1M1029 114h1.1M923 215h1.1M1053 114h1.1M1000 163h1.1M1004 103h1.1M1099 204h1.1M885 159h1.1M943 133h1.1M935 222h1.1M979 91h1.1M1026 148h1.1M944 88h1.1M964 143h1.1M998 190h1.1M891 157h1.1M1124 176h1.1M1076 154h1.1M889 189h1.1M980 180h1.1M935 81h1.1M937 132h1.1M944 114h1.1M926 188h1.1M1137 205h1.1M1140 188h1.1M951 207h1.1M1104 129h1.1M970 85h1.1M982 82h1.1M1015 140h1.1M877 146h1.1M985 205h1.1M1135 208h1.1M1072 163h1.1M933 92h1.1M1086 185h1.1M974 208h1.1M953 157h1.1M895 119h1.1M1070 204h1.1M1133 180h1.1M934 134h1.1M948 78h1.1M1108 107h1.1M1035 136h1.1M1101 183h1.1M990 170h1.1M1070 103h1.1M1108 212h1.1M981 162h1.1M993 201h1.1M919 148h1.1M1033 153h1.1M943 204h1.1M895 169h1.1M947 117h1.1M1020 158h1.1M1072 214h1.1M935 115h1.1M1082 136h1.1M1012 205h1.1M1046 188h1.1M928 206h1.1M1015 91h1.1M1055 144h1.1M887 176h1.1M910 132h1.1M1099 162h1.1M1040 111h1.1M1050 221h1.1M994 81h1.1M1131 129h1.1M923 233h1.1M1032 181h1.1M1017 133h1.1M909 215h1.1M919 110h1.1M961 174h1.1M970 235h1.1M907 221h1.1M1081 155h1.1M887 110h1.1M1051 107h1.1M1051 203h1.1M907 160h1.1M1155 178h1.1M935 204h1.1M996 229h1.1M1018 99h1.1M925 197h1.1M975 73h1.1M966 229h1.1M994 132h1.1M1162 195h1.1M924 218h1.1M991 238h1.1M960 85h1.1M944 105h1.1M960 159h1.1M903 130h1.1M1138 164h1.1M967 80h1.1M955 112h1.1M1040 185h1.1M1096 119h1.1M961 174h1.1M953 146h1.1M926 150h1.1M1113 126h1.1M1088 136h1.1M1116 184h1.1M1115 144h1.1M1011 234h1.1M879 130h1.1M937 177h1.1M993 149h1.1M1026 229h1.1M1049 206h1.1M967 114h1.1M1007 199h1.1M952 104h1.1M1039 195h1.1M947 103h1.1M924 93h1.1M970 227h1.1M1005 210h1.1M987 182h1.1M1002 192h1.1M877 156h1.1M1045 223h1.1M888 174h1.1M1070 111h1.1M1013 146h1.1M1139 214h1.1M983 168h1.1M982 236h1.1M1082 194h1.1M949 141h1.1M1003 172h1.1M967 94h1.1M1025 179h1.1M1036 223h1.1M1115 124h1.1M1000 211h1.1M969 227h1.1M1015 155h1.1M993 169h1.1M1073 129h1.1M1139 142h1.1M949 101h1.1M969 218h1.1M957 181h1.1M1126 194h1.1M951 102h1.1M969 104h1.1M979 101h1.1M1151 171h1.1M965 139h1.1M917 179h1.1M879 142h1.1M963 162h1.1M886 172h1.1M947 157h1.1M966 113h1.1M908 142h1.1M1130 122h1.1M940 96h1.1M1045 130h1.1M1074 175h1.1M994 174h1.1M895 167h1.1M966 189h1.1M939 120h1.1M888 179h1.1M1115 198h1.1M911 170h1.1M1029 150h1.1M1008 79h1.1M1004 159h1.1M1066 111h1.1M993 75h1.1M1060 214h1.1M1140 209h1.1M1048 152h1.1M1099 181h1.1M1105 219h1.1M971 120h1.1M1034 190h1.1M920 196h1.1M1085 160h1.1M970 241h1.1M1020 230h1.1M1131 186h1.1M1083 222h1.1M1108 217h1.1M991 90h1.1M964 218h1.1M993 168h1.1M1008 147h1.1M909 181h1.1M1100 108h1.1M933 199h1.1M965 217h1.1M1025 133h1.1M993 153h1.1M981 76h1.1M971 72h1.1M988 158h1.1M1126 130h1.1M940 142h1.1M1030 188h1.1M893 190h1.1M1144 159h1.1M933 88h1.1M1112 110h1.1M1029 107h1.1M1089 206h1.1M986 195h1.1M938 104h1.1M1057 185h1.1M918 112h1.1M1102 160h1.1M928 125h1.1M870 116h1.1M914 104h1.1M945 118h1.1M935 230h1.1M1144 194h1.1M1097 179h1.1M1139 148h1.1M1065 174h1.1M1141 205h1.1M930 89h1.1M1021 225h1.1M1110 120h1.1M1109 109h1.1M926 163h1.1M1088 186h1.1M918 130h1.1M1080 223h1.1M989 217h1.1M928 77h1.1M1017 93h1.1M909 174h1.1M1098 178h1.1M1156 185h1.1M1029 186h1.1M987 224h1.1M1051 147h1.1M1147 145h1.1M1104 152h1.1M995 170h1.1M1139 162h1.1M1035 176h1.1M1041 116h1.1M1053 148h1.1M1036 210h1.1M963 227h1.1M873 171h1.1M887 221h1.1M986 158h1.1M1044 151h1.1M1163 189h1.1M977 73h1.1M1014 100h1.1M1030 119h1.1M1058 161h1.1M890 159h1.1M903 195h1.1M1049 97h1.1M968 189h1.1M1047 180h1.1M1006 168h1.1M890 137h1.1M970 232h1.1M1120 216h1.1M916 119h1.1M1058 124h1.1M1018 166h1.1M899 104h1.1M951 175h1.1M1023 150h1.1M936 123h1.1M1000 100h1.1M982 138h1.1M1087 108h1.1M909 162h1.1M1024 115h1.1M918 153h1.1M1012 172h1.1M1153 187h1.1M1126 161h1.1M1025 133h1.1M1081 127h1.1M1123 214h1.1M976 102h1.1M936 113h1.1M941 188h1.1M948 233h1.1M1043 156h1.1M1036 166h1.1M1096 177h1.1M1113 147h1.1M1061 129h1.1M884 208h1.1M919 159h1.1M1054 204h1.1M1023 129h1.1M1109 135h1.1M990 215h1.1M921 93h1.1M1074 122h1.1M929 108h1.1M983 186h1.1M1106 211h1.1M1006 197h1.1M956 170h1.1M940 164h1.1M1014 145h1.1M983 182h1.1M1126 175h1.1M1038 211h1.1M921 165h1.1M923 178h1.1M1043 202h1.1M880 123h1.1M962 121h1.1M989 204h1.1M888 186h1.1M942 193h1.1M882 120h1.1M988 231h1.1M958 212h1.1M890 181h1.1M882 170h1.1M985 103h1.1M1028 230h1.1M1019 196h1.1M1141 216h1.1M1095 171h1.1M1047 133h1.1M1071 107h1.1M917 86h1.1M1079 186h1.1M1103 194h1.1M1137 155h1.1M1008 223h1.1M948 191h1.1M968 123h1.1M1022 186h1.1M906 179h1.1M940 103h1.1M1030 85h1.1M959 205h1.1M1001 123h1.1M884 167h1.1M1142 144h1.1M1020 96h1.1M947 166h1.1M942 205h1.1M918 164h1.1M956 177h1.1M890 102h1.1M986 145h1.1M961 116h1.1M996 189h1.1M881 190h1.1M1033 133h1.1M1008 224h1.1M1108 182h1.1M1108 124h1.1M1039 190h1.1M997 109h1.1M923 191h1.1M1121 199h1.1M953 141h1.1M959 179h1.1M1106 124h1.1M945 164h1.1M941 195h1.1M1121 196h1.1M993 156h1.1M1091 212h1.1M908 152h1.1M876 172h1.1M906 174h1.1M923 133h1.1M985 127h1.1M1139 206h1.1M953 106h1.1M1146 173h1.1M869 132h1.1M943 227h1.1M1042 214h1.1M920 112h1.1M901 171h1.1M1151 197h1.1M1090 200h1.1M927 189h1.1M965 210h1.1M959 110h1.1M1107 156h1.1M885 218h1.1M933 168h1.1M1033 103h1.1M1030 184h1.1M940 181h1.1M1053 117h1.1M981 164h1.1M948 143h1.1M1120 165h1.1M980 86h1.1M1103 140h1.1M1021 226h1.1M962 126h1.1M889 150h1.1M954 126h1.1M958 214h1.1M942 150h1.1M979 155h1.1M905 101h1.1M997 212h1.1M981 160h1.1M997 135h1.1M1085 113h1.1M1111 198h1.1M1096 158h1.1M1001 178h1.1M1034 130h1.1M944 111h1.1M1097 177h1.1M953 124h1.1M1015 91h1.1M1007 146h1.1M931 142h1.1M1079 191h1.1M963 118h1.1M869 172h1.1M991 89h1.1M1144 220h1.1M870 122h1.1M977 220h1.1M1023 189h1.1M930 141h1.1M1104 178h1.1M1132 189h1.1M896 93h1.1M1000 100h1.1M943 182h1.1M983 154h1.1M946 192h1.1M1001 208h1.1M972 120h1.1M1084 181h1.1M1130 194h1.1M1011 130h1.1M898 148h1.1M907 208h1.1M939 219h1.1M992 184h1.1M949 103h1.1M1064 109h1.1M1101 145h1.1M931 245h1.1M939 105h1.1M1030 230h1.1M1026 156h1.1M930 237h1.1M918 204h1.1M1043 173h1.1M1091 190h1.1M1030 235h1.1M1021 206h1.1M953 186h1.1M966 197h1.1M1091 173h1.1M1000 75h1.1M916 234h1.1M957 146h1.1M914 97h1.1M1030 208h1.1M1079 200h1.1M1014 147h1.1M1041 194h1.1M970 214h1.1M1154 181h1.1M1040 181h1.1M1056 211h1.1M1152 209h1.1M916 96h1.1M1155 176h1.1M1100 189h1.1M948 227h1.1M969 156h1.1M954 211h1.1M1040 116h1.1M1069 123h1.1M1020 140h1.1M1097 200h1.1M1160 206h1.1M893 110h1.1M960 172h1.1M1112 177h1.1M950 120h1.1M899 213h1.1M900 205h1.1M909 181h1.1M951 203h1.1M943 173h1.1M1145 213h1.1M991 162h1.1M1040 219h1.1M1106 162h1.1M945 121h1.1M1027 145h1.1M1092 167h1.1M1026 223h1.1M1046 221h1.1M1115 193h1.1M1049 209h1.1M914 148h1.1M965 199h1.1M944 115h1.1M1036 147h1.1M877 193h1.1M968 176h1.1M1113 149h1.1M985 126h1.1M956 206h1.1M892 126h1.1M1069 135h1.1M1071 215h1.1M949 193h1.1M979 117h1.1M1024 206h1.1M964 235h1.1M903 187h1.1M1049 226h1.1M966 79h1.1M1086 145h1.1M968 211h1.1M931 85h1.1M923 107h1.1M884 176h1.1M1013 197h1.1M1157 179h1.1M955 209h1.1M980 145h1.1M1014 81h1.1M1046 166h1.1M1016 138h1.1M1042 221h1.1M1137 190h1.1M936 186h1.1M890 116h1.1M1084 182h1.1M1025 222h1.1M963 99h1.1M1000 145h1.1M938 154h1.1M1140 193h1.1M912 96h1.1M1022 129h1.1M1020 109h1.1M976 187h1.1M949 232h1.1M1104 135h1.1M989 116h1.1M1078 159h1.1M879 122h1.1M1128 205h1.1M1023 193h1.1M990 207h1.1M913 142h1.1M1079 115h1.1M999 174h1.1M1003 131h1.1M990 207h1.1M1036 120h1.1M979 129h1.1M904 177h1.1M979 172h1.1M1061 208h1.1M932 179h1.1M1150 214h1.1M1014 186h1.1M972 229h1.1M982 85h1.1M1107 191h1.1M947 174h1.1M1154 193h1.1M1040 127h1.1M1140 139h1.1M1142 190h1.1M948 75h1.1M994 232h1.1M1128 186h1.1M916 84h1.1M904 161h1.1M929 205h1.1M988 214h1.1M916 94h1.1M1112 164h1.1M1054 153h1.1M1116 177h1.1M1051 203h1.1M1130 210h1.1M973 194h1.1M1118 183h1.1M982 157h1.1M920 148h1.1M1122 147h1.1M1141 158h1.1M1018 104h1.1M1102 188h1.1M1016 219h1.1M969 190h1.1M906 112h1.1M904 189h1.1M886 194h1.1M1103 185h1.1M1039 112h1.1M952 114h1.1M951 143h1.1M915 124h1.1M1026 94h1.1M1004 156h1.1M1076 166h1.1M1023 92h1.1M1147 183h1.1M1003 117h1.1M1001 105h1.1M967 237h1.1M936 189h1.1M884 197h1.1M1095 124h1.1M963 159h1.1M1158 160h1.1M896 162h1.1M1100 186h1.1M979 121h1.1M977 168h1.1M1004 153h1.1M957 154h1.1M886 133h1.1M886 189h1.1M1134 144h1.1M930 75h1.1M915 105h1.1M1143 208h1.1M993 226h1.1M971 154h1.1M980 141h1.1M876 116h1.1M1049 146h1.1M1136 173h1.1M881 161h1.1M903 218h1.1M963 82h1.1M1018 206h1.1M1070 151h1.1M1094 100h1.1M971 73h1.1M1071 132h1.1M900 153h1.1M962 218h1.1M1046 136h1.1M1101 115h1.1M1037 108h1.1M906 94h1.1M927 218h1.1M922 126h1.1M955 160h1.1M1009 241h1.1M957 171h1.1M1155 193h1.1M1035 162h1.1M909 123h1.1M1022 209h1.1M943 240h1.1M934 139h1.1M991 170h1.1M956 120h1.1M1066 208h1.1M1091 225h1.1M981 188h1.1M943 228h1.1M1000 142h1.1M959 79h1.1M1057 215h1.1M981 87h1.1M937 111h1.1M1091 175h1.1M1088 187h1.1M1102 117h1.1M1001 88h1.1M1098 199h1.1M986 189h1.1M897 137h1.1M929 95h1.1M928 92h1.1M1136 180h1.1M918 96h1.1M942 169h1.1M1066 167h1.1M975 165h1.1M1069 132h1.1M926 174h1.1M1000 132h1.1M1106 200h1.1M1023 137h1.1M1052 98h1.1M1060 224h1.1M974 181h1.1M960 210h1.1M926 112h1.1M902 184h1.1M928 133h1.1M1123 144h1.1M1117 217h1.1M938 205h1.1M883 193h1.1M935 109h1.1M887 181h1.1M1031 121h1.1M923 174h1.1M897 97h1.1M1065 106h1.1M1140 194h1.1M993 95h1.1M1036 127h1.1M1159 187h1.1M892 229h1.1M1086 180h1.1M988 99h1.1M908 207h1.1M978 78h1.1M949 172h1.1M945 142h1.1M998 84h1.1M1075 109h1.1M900 170h1.1M1111 122h1.1M1118 105h1.1M921 229h1.1M1103 160h1.1M942 241h1.1M1015 109h1.1M880 142h1.1M1110 179h1.1M902 226h1.1M1062 159h1.1M1004 136h1.1M1130 155h1.1M892 146h1.1M1103 133h1.1M1140 179h1.1M1013 122h1.1M915 163h1.1M1018 174h1.1M1114 153h1.1M963 134h1.1M1065 213h1.1M973 182h1.1M951 216h1.1M1031 216h1.1M936 91h1.1M1082 155h1.1M919 229h1.1M1006 93h1.1M1057 113h1.1M1145 182h1.1M916 239h1.1M910 109h1.1M950 90h1.1M949 198h1.1M1055 223h1.1M947 109h1.1M1104 136h1.1M938 104h1.1M905 179h1.1M907 220h1.1M1028 101h1.1M1041 128h1.1M1138 183h1.1M1111 124h1.1M1019 90h1.1M953 139h1.1M1034 96h1.1M970 126h1.1M1125 145h1.1M918 206h1.1M913 117h1.1M1043 224h1.1M1017 182h1.1M935 114h1.1M1001 161h1.1M1011 129h1.1M1090 181h1.1M1023 146h1.1M1103 154h1.1M904 143h1.1M919 228h1.1M944 71h1.1M954 96h1.1M1032 188h1.1M1021 141h1.1M900 137h1.1M880 150h1.1M937 135h1.1M1141 176h1.1M1033 226h1.1M904 241h1.1M1057 137h1.1M1085 122h1.1M891 166h1.1M1047 129h1.1M994 95h1.1M1023 99h1.1M1139 169h1.1M896 104h1.1M894 207h1.1M1110 194h1.1M1075 184h1.1M942 81h1.1M907 170h1.1M1017 172h1.1M983 218h1.1M991 217h1.1M920 180h1.1M935 110h1.1M1144 163h1.1M1092 190h1.1M978 213h1.1M921 207h1.1M911 200h1.1M1059 183h1.1M1011 170h1.1M1032 90h1.1M903 139h1.1M975 95h1.1M1016 87h1.1M1051 180h1.1M926 151h1.1M907 113h1.1M905 127h1.1M1046 109h1.1M1153 177h1.1M1105 178h1.1M1070 169h1.1M1015 226h1.1M906 86h1.1M892 190h1.1M939 203h1.1M1002 154h1.1M999 135h1.1M957 121h1.1M899 199h1.1M1021 134h1.1M945 180h1.1M1101 187h1.1M1027 90h1.1M910 198h1.1M969 142h1.1M998 161h1.1M916 160h1.1M981 192h1.1M1025 147h1.1M989 222h1.1M1111 145h1.1M885 122h1.1M1140 145h1.1M1077 223h1.1M914 171h1.1M963 197h1.1M1104 128h1.1M1136 182h1.1M1050 106h1.1M928 172h1.1M1081 137h1.1M935 173h1.1M973 80h1.1M941 77h1.1" fill="none" stroke="#307dbd" stroke-width="3.3" stroke-linecap="round"/>
<path d="M945 118h1.1M890 113h1.1M969 207h1.1M1093 216h1.1M1044 222h1.1M887 122h1.1M952 225h1.1M979 233h1.1M936 228h1.1M969 168h1.1M917 133h1.1M938 177h1.1M969 196h1.1M1009 134h1.1M891 123h1.1M900 114h1.1M921 189h1.1M1060 135h1.1M1120 174h1.1M1108 132h1.1M1100 130h1.1M885 178h1.1M1029 148h1.1M1058 201h1.1M894 176h1.1M879 171h1.1M1033 120h1.1M887 208h1.1M938 128h1.1M1053 128h1.1M1039 160h1.1M978 140h1.1M1056 187h1.1M888 134h1.1M975 127h1.1M981 110h1.1M1022 212h1.1M1021 203h1.1M928 181h1.1M881 136h1.1M968 100h1.1M982 236h1.1M1109 115h1.1M986 186h1.1M1033 185h1.1M924 202h1.1M1056 200h1.1M887 187h1.1M940 129h1.1M1057 177h1.1M1065 199h1.1M1041 207h1.1M1154 206h1.1M921 153h1.1M928 212h1.1M1013 144h1.1M1043 222h1.1M1054 155h1.1M957 94h1.1M922 108h1.1M920 115h1.1M897 146h1.1M952 157h1.1M1054 121h1.1M1039 169h1.1M900 137h1.1M967 149h1.1M1077 178h1.1M963 110h1.1M956 116h1.1M1101 135h1.1M971 108h1.1M917 222h1.1M946 192h1.1M988 153h1.1M989 175h1.1M898 113h1.1M1033 190h1.1M961 193h1.1M991 164h1.1M981 123h1.1M1053 107h1.1M919 101h1.1M1073 154h1.1M998 177h1.1M987 210h1.1M951 195h1.1M1026 155h1.1M926 154h1.1M1005 180h1.1M992 108h1.1M959 94h1.1M956 86h1.1M1081 212h1.1M984 176h1.1M895 121h1.1M893 92h1.1M927 141h1.1M973 135h1.1M924 210h1.1M1010 210h1.1M968 126h1.1M970 182h1.1M918 101h1.1M1080 136h1.1M1091 221h1.1M970 110h1.1M1010 195h1.1M1080 212h1.1M1075 120h1.1M964 164h1.1M979 214h1.1M927 118h1.1M1082 155h1.1M1100 181h1.1M991 174h1.1M960 155h1.1M1002 209h1.1M954 210h1.1M1144 147h1.1M1032 139h1.1M1052 176h1.1M937 86h1.1M1072 112h1.1M886 172h1.1M1141 188h1.1M1015 125h1.1M961 209h1.1M950 213h1.1M1090 216h1.1M932 183h1.1M1021 138h1.1M1053 112h1.1M1140 206h1.1M1101 175h1.1M900 201h1.1M899 170h1.1M927 198h1.1M1140 199h1.1M957 224h1.1M1072 137h1.1M1001 184h1.1M1074 160h1.1M982 147h1.1M1011 191h1.1M980 118h1.1M1020 229h1.1M1017 114h1.1M990 138h1.1M913 195h1.1M998 187h1.1M1056 153h1.1M939 106h1.1M990 84h1.1M1121 134h1.1M939 90h1.1M934 129h1.1M994 121h1.1M1037 200h1.1M922 216h1.1M1127 201h1.1M900 203h1.1M1039 124h1.1M1008 191h1.1M981 212h1.1M1121 128h1.1M939 211h1.1M923 203h1.1M928 134h1.1M901 167h1.1M961 135h1.1M927 107h1.1M918 163h1.1M979 104h1.1M916 206h1.1M1076 212h1.1M1012 147h1.1M993 102h1.1M907 178h1.1M1135 204h1.1M1115 147h1.1M1101 193h1.1M1029 97h1.1M1025 137h1.1M1111 200h1.1M954 101h1.1M1122 146h1.1M1154 193h1.1M939 169h1.1M925 154h1.1M967 198h1.1M954 207h1.1M921 218h1.1M979 124h1.1M908 204h1.1M955 89h1.1M950 200h1.1M905 215h1.1M986 206h1.1M942 231h1.1M922 105h1.1M1027 151h1.1M912 111h1.1M1002 188h1.1M1066 165h1.1M1028 215h1.1M1114 177h1.1M987 110h1.1M1018 152h1.1M1027 102h1.1M1013 167h1.1M1002 183h1.1M1054 168h1.1M945 91h1.1M939 148h1.1M1094 215h1.1M957 96h1.1M959 103h1.1M1004 99h1.1M929 225h1.1M956 208h1.1M1095 113h1.1M1127 169h1.1M1050 211h1.1M951 181h1.1M1088 207h1.1M1045 127h1.1M932 239h1.1M1016 107h1.1M902 152h1.1M971 228h1.1M1055 217h1.1M878 133h1.1M1082 198h1.1M912 194h1.1M912 157h1.1M917 217h1.1M1000 98h1.1M958 207h1.1M907 129h1.1M962 175h1.1M1027 164h1.1M1110 178h1.1M1088 214h1.1M883 119h1.1M1005 196h1.1M953 200h1.1M1038 135h1.1M1074 129h1.1M1056 192h1.1M939 154h1.1M929 97h1.1M1057 112h1.1M893 192h1.1M907 135h1.1M1039 106h1.1M1007 161h1.1M972 147h1.1M1014 189h1.1M905 136h1.1M940 88h1.1M942 103h1.1M919 175h1.1M1118 181h1.1M1148 182h1.1M1008 88h1.1M1086 117h1.1M994 223h1.1M908 190h1.1M951 191h1.1M1013 152h1.1M979 191h1.1M1069 158h1.1M907 152h1.1M1050 153h1.1M959 183h1.1M977 133h1.1M1029 139h1.1M902 110h1.1M926 134h1.1M1034 160h1.1M914 124h1.1M1111 192h1.1M881 130h1.1M1021 124h1.1M962 131h1.1M992 98h1.1M909 166h1.1M957 216h1.1M1116 155h1.1M1118 162h1.1M1038 181h1.1M1144 173h1.1M1066 118h1.1M953 94h1.1M1058 112h1.1M896 186h1.1M950 161h1.1M980 90h1.1M1054 223h1.1M994 197h1.1M996 211h1.1M988 102h1.1M935 210h1.1M954 114h1.1M976 231h1.1M1065 214h1.1M938 127h1.1M888 187h1.1M900 193h1.1M1060 125h1.1M983 152h1.1M1084 145h1.1M1048 113h1.1M944 224h1.1M1054 105h1.1M964 228h1.1M1033 170h1.1M1035 154h1.1M1002 213h1.1M889 206h1.1M918 126h1.1M1124 152h1.1M1010 129h1.1M903 155h1.1M1132 211h1.1M1153 193h1.1M904 145h1.1M957 167h1.1M1157 188h1.1M900 212h1.1M930 228h1.1M1096 193h1.1M929 143h1.1M918 178h1.1M976 167h1.1M918 82h1.1M1004 148h1.1M995 221h1.1M957 212h1.1M1003 140h1.1M943 210h1.1M959 199h1.1M905 214h1.1M950 170h1.1M1062 142h1.1M929 106h1.1M1082 178h1.1M936 222h1.1M1126 169h1.1M888 115h1.1M977 226h1.1M1061 167h1.1M884 170h1.1M1088 214h1.1M939 226h1.1M1010 184h1.1M1048 109h1.1M1073 157h1.1M1035 205h1.1M1104 138h1.1M959 227h1.1M1020 232h1.1M955 147h1.1M1000 208h1.1M1112 115h1.1M1109 211h1.1M956 110h1.1M908 142h1.1M1026 155h1.1M1085 163h1.1M963 115h1.1M950 147h1.1M1153 213h1.1M955 89h1.1M895 207h1.1M962 188h1.1M1041 212h1.1M1123 124h1.1M1092 189h1.1M943 85h1.1M985 221h1.1M916 163h1.1M1141 205h1.1M1011 197h1.1M956 161h1.1M1029 208h1.1M973 140h1.1M983 209h1.1M906 104h1.1M900 152h1.1M901 193h1.1M906 226h1.1M938 109h1.1M908 108h1.1M977 199h1.1M892 175h1.1M976 111h1.1M1000 173h1.1M972 106h1.1M1007 174h1.1M943 92h1.1M969 224h1.1M1010 206h1.1M994 95h1.1M902 169h1.1M1139 189h1.1M1133 201h1.1M1055 124h1.1M1012 116h1.1M908 111h1.1M1041 197h1.1M1074 174h1.1M1013 146h1.1M1057 112h1.1M1005 172h1.1M988 216h1.1M1135 166h1.1M1117 142h1.1M900 122h1.1M976 190h1.1M1053 178h1.1M992 97h1.1M920 117h1.1M978 224h1.1M985 136h1.1M1055 125h1.1M1012 194h1.1M1095 174h1.1M1121 188h1.1M917 150h1.1M974 94h1.1M1129 145h1.1M951 191h1.1M1110 192h1.1M936 144h1.1M1146 208h1.1M955 169h1.1M1053 138h1.1M1034 172h1.1M982 109h1.1M933 214h1.1M1085 187h1.1M996 176h1.1M1090 213h1.1M960 179h1.1M910 156h1.1M897 159h1.1M973 214h1.1M925 161h1.1M1011 118h1.1M1139 201h1.1M923 208h1.1M1107 150h1.1M1122 187h1.1M967 83h1.1M926 176h1.1M1067 193h1.1M1027 214h1.1M1144 201h1.1M923 221h1.1M945 99h1.1M1112 157h1.1M1155 209h1.1M1014 116h1.1M1077 124h1.1M959 212h1.1M910 202h1.1M907 218h1.1M936 189h1.1M926 190h1.1M1063 165h1.1M963 188h1.1M1005 151h1.1M1010 221h1.1M981 159h1.1M1050 199h1.1M1022 166h1.1M976 96h1.1M984 151h1.1M926 227h1.1M956 127h1.1M924 180h1.1M1066 197h1.1M1032 189h1.1M1084 202h1.1M941 225h1.1M905 185h1.1M1114 174h1.1M1009 163h1.1M948 202h1.1M990 164h1.1M901 128h1.1M995 99h1.1M950 101h1.1M1047 209h1.1M1084 202h1.1M1050 137h1.1M1068 145h1.1M932 168h1.1M1065 168h1.1M1088 197h1.1M968 150h1.1M939 133h1.1M986 112h1.1M975 200h1.1M1035 194h1.1M1016 214h1.1M953 120h1.1M891 176h1.1M979 174h1.1M960 102h1.1M1130 165h1.1M1134 162h1.1M978 116h1.1M893 195h1.1M1040 109h1.1M971 114h1.1M1050 132h1.1M933 121h1.1M888 157h1.1M899 99h1.1M1112 157h1.1M1012 116h1.1M952 228h1.1M969 112h1.1M894 115h1.1M1017 205h1.1M981 229h1.1M935 178h1.1M1000 189h1.1M911 138h1.1M1133 161h1.1M953 212h1.1M1060 186h1.1M1036 96h1.1M1141 182h1.1M1099 170h1.1M1149 187h1.1M1036 122h1.1M984 175h1.1M1060 141h1.1M927 162h1.1M1114 167h1.1M1003 150h1.1M964 184h1.1M945 162h1.1M927 218h1.1M1049 172h1.1M1127 137h1.1M910 161h1.1M1070 211h1.1M1086 213h1.1M879 129h1.1M1052 201h1.1M902 177h1.1M963 153h1.1M948 170h1.1M929 235h1.1M1116 186h1.1M943 212h1.1M1026 152h1.1M1039 228h1.1M957 86h1.1M1085 214h1.1M914 220h1.1M905 158h1.1M981 117h1.1M1037 217h1.1M1000 221h1.1M1121 193h1.1M1002 109h1.1M980 146h1.1M951 148h1.1M919 233h1.1M937 231h1.1M933 181h1.1M1008 211h1.1M984 231h1.1M926 153h1.1M903 203h1.1M911 135h1.1M928 202h1.1M887 209h1.1M916 178h1.1M1043 215h1.1M1026 218h1.1M1130 193h1.1M1004 212h1.1M885 178h1.1M930 166h1.1M886 133h1.1M989 107h1.1M1104 114h1.1M999 185h1.1M1014 203h1.1M908 170h1.1M982 81h1.1M921 229h1.1M1089 107h1.1M1135 185h1.1M1128 131h1.1M937 165h1.1M995 142h1.1M942 183h1.1M1138 146h1.1M970 102h1.1M1018 165h1.1M1134 175h1.1M1019 131h1.1M941 207h1.1M1093 200h1.1M1001 151h1.1M1151 194h1.1M889 193h1.1M1018 221h1.1M959 81h1.1M1045 182h1.1M1059 181h1.1M1045 121h1.1M923 141h1.1M924 115h1.1M894 143h1.1M1143 137h1.1M930 113h1.1M1000 147h1.1M890 167h1.1M999 208h1.1M959 105h1.1M911 91h1.1M1042 190h1.1M928 185h1.1M888 165h1.1M974 87h1.1M1106 197h1.1M1025 154h1.1M1053 120h1.1M1152 199h1.1M895 200h1.1M930 194h1.1M1073 118h1.1M991 124h1.1M964 93h1.1M1063 159h1.1M1084 132h1.1M896 166h1.1M895 149h1.1M1030 98h1.1M938 134h1.1M1032 109h1.1M1143 186h1.1M973 142h1.1M942 74h1.1M896 132h1.1M1048 209h1.1M1069 217h1.1M1079 143h1.1M1091 124h1.1M1004 137h1.1M972 163h1.1M917 185h1.1M1004 116h1.1M888 123h1.1M992 170h1.1M1094 150h1.1M1077 182h1.1M1148 194h1.1M947 77h1.1M1054 126h1.1M988 159h1.1M1047 195h1.1M975 156h1.1M1015 176h1.1M1016 206h1.1M969 172h1.1M1037 194h1.1M942 175h1.1M1152 191h1.1M1154 178h1.1M1128 176h1.1M928 221h1.1M926 91h1.1M883 161h1.1M892 147h1.1M1031 206h1.1M1108 121h1.1M967 95h1.1M946 227h1.1M918 223h1.1M1017 199h1.1M973 134h1.1M889 111h1.1M1120 135h1.1M905 162h1.1M1002 171h1.1M1072 174h1.1M891 149h1.1M981 198h1.1M877 179h1.1M933 231h1.1M883 141h1.1M1095 185h1.1M945 121h1.1M888 121h1.1M916 133h1.1M1109 174h1.1M1045 190h1.1M1075 188h1.1M885 201h1.1M974 114h1.1M962 92h1.1M918 83h1.1M920 98h1.1M1115 122h1.1M988 144h1.1M933 104h1.1M1045 176h1.1M962 210h1.1M1024 231h1.1M1089 157h1.1M929 177h1.1M963 204h1.1M1024 92h1.1M1014 135h1.1M1140 142h1.1M930 106h1.1M937 194h1.1M1025 214h1.1M894 105h1.1M1046 143h1.1M900 216h1.1M1016 218h1.1M930 99h1.1M993 222h1.1M987 100h1.1M930 174h1.1M977 129h1.1M909 232h1.1M1011 190h1.1M950 146h1.1M1052 205h1.1M1013 163h1.1M891 140h1.1M898 207h1.1M1099 132h1.1M919 122h1.1M1133 217h1.1M1006 210h1.1M964 229h1.1M1099 113h1.1M957 82h1.1M957 143h1.1M976 220h1.1M1006 94h1.1M964 221h1.1M931 183h1.1M1023 205h1.1M1127 141h1.1M989 98h1.1M1057 225h1.1M999 85h1.1M935 197h1.1M1084 112h1.1M990 222h1.1M1042 186h1.1M942 236h1.1M876 138h1.1M1008 168h1.1M1142 195h1.1M1120 182h1.1M1048 195h1.1M1059 203h1.1M1049 152h1.1M929 94h1.1M1135 147h1.1M985 167h1.1M1054 146h1.1M943 162h1.1M921 127h1.1M1019 182h1.1M1129 174h1.1M1078 200h1.1M1006 171h1.1M983 131h1.1M968 135h1.1M996 177h1.1M1008 93h1.1M1078 188h1.1M891 150h1.1M902 203h1.1M983 183h1.1M901 219h1.1M928 143h1.1M1096 143h1.1M1056 212h1.1M902 120h1.1M1002 152h1.1M949 215h1.1M1120 208h1.1M1061 108h1.1M1059 201h1.1M940 122h1.1M1017 151h1.1M1120 159h1.1M977 219h1.1M1042 180h1.1M897 115h1.1M1053 219h1.1M955 170h1.1M999 139h1.1M1127 204h1.1M994 89h1.1M1119 139h1.1M970 153h1.1M1146 166h1.1M964 105h1.1M1115 189h1.1M1087 132h1.1M1023 166h1.1M904 162h1.1M990 136h1.1M917 155h1.1M1033 169h1.1M919 97h1.1M900 191h1.1M1149 183h1.1M991 128h1.1M1083 145h1.1M910 109h1.1M894 140h1.1M968 102h1.1M996 205h1.1M896 202h1.1M961 220h1.1M1040 183h1.1M938 228h1.1M959 113h1.1M1109 214h1.1M964 99h1.1M997 168h1.1M983 165h1.1M1056 183h1.1M954 226h1.1M1054 143h1.1M901 150h1.1M977 83h1.1M1079 136h1.1M996 227h1.1M959 102h1.1M1022 149h1.1M1108 192h1.1M916 195h1.1M1028 234h1.1M884 208h1.1M1060 204h1.1M922 127h1.1M883 153h1.1M919 215h1.1M894 157h1.1M986 96h1.1M1088 114h1.1M967 200h1.1M915 179h1.1M876 159h1.1M988 131h1.1M974 105h1.1M924 114h1.1M897 210h1.1M1118 200h1.1M1138 186h1.1M1121 124h1.1M989 180h1.1M1006 143h1.1M1067 149h1.1M995 182h1.1M1089 209h1.1M900 153h1.1M1055 144h1.1M1065 154h1.1M1157 185h1.1M1121 175h1.1M1024 112h1.1M916 169h1.1M969 204h1.1M1052 203h1.1M938 106h1.1M1046 100h1.1M929 139h1.1M951 175h1.1M1114 150h1.1M1068 114h1.1M1051 186h1.1M1029 199h1.1M993 113h1.1M984 218h1.1M1134 135h1.1M1101 176h1.1M1065 204h1.1M956 120h1.1M898 148h1.1M929 222h1.1M1037 131h1.1M990 185h1.1M1076 176h1.1M913 170h1.1M1081 185h1.1M1137 179h1.1M1088 197h1.1M940 150h1.1M1090 208h1.1M946 208h1.1M1108 182h1.1M1152 213h1.1M1152 157h1.1M1001 191h1.1M908 234h1.1M1030 134h1.1M1042 198h1.1M950 181h1.1M1123 200h1.1M892 123h1.1M922 205h1.1M1137 170h1.1M982 217h1.1M943 182h1.1M953 140h1.1M892 201h1.1M1140 206h1.1M916 181h1.1M955 120h1.1M918 231h1.1M945 215h1.1M890 137h1.1M1107 153h1.1M1051 219h1.1M937 118h1.1M1135 182h1.1M1091 175h1.1M988 172h1.1M1089 162h1.1M973 74h1.1M964 144h1.1M1154 188h1.1M944 158h1.1M953 176h1.1M951 140h1.1M917 121h1.1M984 207h1.1M1131 192h1.1M1094 189h1.1M1045 107h1.1M897 185h1.1M1076 211h1.1M1072 198h1.1M928 226h1.1M956 82h1.1M1016 127h1.1M1126 157h1.1M1055 202h1.1M1041 161h1.1M1043 184h1.1M893 127h1.1M927 132h1.1M1084 149h1.1M969 125h1.1M925 84h1.1M980 183h1.1M1075 208h1.1M1046 109h1.1M895 182h1.1M934 192h1.1M1004 217h1.1M981 214h1.1M936 176h1.1M961 80h1.1M986 139h1.1M963 135h1.1M964 80h1.1M1100 153h1.1M931 100h1.1M970 79h1.1M1021 142h1.1M1039 213h1.1M924 91h1.1M1044 177h1.1M1108 113h1.1M920 149h1.1M1003 153h1.1M903 133h1.1M1026 121h1.1M999 228h1.1M1081 181h1.1M980 166h1.1M906 228h1.1M938 228h1.1M970 200h1.1M982 163h1.1M1051 132h1.1M960 173h1.1M974 213h1.1M1079 176h1.1M1092 165h1.1M1114 171h1.1M916 118h1.1M961 95h1.1M987 201h1.1M942 170h1.1M929 178h1.1M1053 133h1.1M901 211h1.1M1136 143h1.1M1153 171h1.1M1106 171h1.1M887 133h1.1M967 79h1.1M1016 112h1.1M1032 138h1.1M987 152h1.1M938 92h1.1M986 219h1.1M910 166h1.1M1126 138h1.1M914 118h1.1M1030 152h1.1M1022 202h1.1M927 166h1.1M911 170h1.1M974 223h1.1M1051 174h1.1M973 174h1.1M1078 182h1.1M1109 200h1.1M1031 166h1.1M1109 196h1.1M976 137h1.1M925 108h1.1M1058 215h1.1M895 124h1.1M1160 179h1.1M914 153h1.1M904 226h1.1M1063 141h1.1M891 180h1.1M1066 137h1.1M1080 103h1.1M1061 207h1.1M960 157h1.1M893 219h1.1M983 159h1.1M965 194h1.1M993 129h1.1M933 168h1.1M909 104h1.1M1006 126h1.1M1029 207h1.1M1088 158h1.1M971 147h1.1M1092 174h1.1M1146 195h1.1M1159 200h1.1M1018 205h1.1M961 191h1.1M953 218h1.1M980 93h1.1M927 173h1.1M891 111h1.1M1019 183h1.1M927 88h1.1M985 116h1.1M909 202h1.1M941 151h1.1M1061 191h1.1M924 172h1.1M895 160h1.1M1035 206h1.1M974 194h1.1M990 180h1.1M1135 207h1.1M1011 143h1.1M1107 124h1.1M1016 162h1.1M1056 143h1.1M1051 156h1.1M1018 212h1.1M981 173h1.1M937 222h1.1M985 149h1.1M1122 163h1.1M1097 166h1.1M941 179h1.1M922 94h1.1M956 167h1.1M957 211h1.1M942 135h1.1M952 156h1.1M995 202h1.1M921 209h1.1M1043 176h1.1M941 166h1.1M1107 122h1.1M1018 106h1.1M1078 159h1.1M940 130h1.1M1104 210h1.1M933 206h1.1M1077 208h1.1M990 131h1.1M1136 212h1.1M931 181h1.1M1070 198h1.1M993 184h1.1M1016 184h1.1M1016 129h1.1M1066 198h1.1M1143 172h1.1M1022 160h1.1M1151 161h1.1M952 110h1.1M910 143h1.1M955 142h1.1M896 150h1.1M966 133h1.1M960 124h1.1M1110 208h1.1M1144 166h1.1M1012 219h1.1M891 101h1.1M979 126h1.1M1047 167h1.1M1148 168h1.1M1110 169h1.1M968 153h1.1M1023 153h1.1M945 147h1.1M969 195h1.1M1030 146h1.1M942 142h1.1M947 126h1.1M1001 189h1.1M884 129h1.1M1114 167h1.1M915 225h1.1M1148 185h1.1M1073 116h1.1M883 134h1.1M887 155h1.1M946 155h1.1M983 144h1.1M925 215h1.1M1042 185h1.1M956 161h1.1M948 86h1.1M911 110h1.1M956 103h1.1M1080 119h1.1M1096 168h1.1M953 122h1.1M985 213h1.1M937 178h1.1M964 108h1.1M1103 181h1.1M913 104h1.1M961 211h1.1M892 169h1.1M976 75h1.1M969 123h1.1M1060 135h1.1M1024 130h1.1M901 222h1.1M1049 197h1.1M956 138h1.1M959 110h1.1M903 207h1.1M897 222h1.1M932 175h1.1M912 140h1.1M917 171h1.1M1049 123h1.1M994 95h1.1M1026 135h1.1M935 187h1.1M1005 141h1.1M1115 132h1.1M968 180h1.1M938 191h1.1M914 179h1.1M1003 202h1.1M932 172h1.1M972 159h1.1M1050 222h1.1M942 212h1.1M999 109h1.1M968 88h1.1M899 168h1.1M1042 102h1.1M948 166h1.1M979 194h1.1M1035 159h1.1M958 207h1.1M896 137h1.1M912 113h1.1M1082 179h1.1M963 131h1.1M935 94h1.1M1109 190h1.1M1050 201h1.1M1080 138h1.1M1024 221h1.1M1113 184h1.1M1027 231h1.1M951 196h1.1M985 191h1.1M886 167h1.1M925 121h1.1M1036 177h1.1M1086 158h1.1M1001 197h1.1M1144 177h1.1M1045 218h1.1M1137 143h1.1M931 172h1.1M983 84h1.1M1029 171h1.1M943 199h1.1M943 99h1.1M972 145h1.1M1039 166h1.1M1105 207h1.1M1108 127h1.1M1016 140h1.1M1055 117h1.1M966 212h1.1M1132 169h1.1M943 235h1.1M1039 129h1.1M971 133h1.1M1065 189h1.1M1070 217h1.1M1110 173h1.1M1012 85h1.1M1017 218h1.1M984 142h1.1M1014 168h1.1M929 82h1.1M959 220h1.1M943 147h1.1M1035 207h1.1M1056 197h1.1M1086 185h1.1M972 185h1.1M1152 190h1.1M925 126h1.1M1041 212h1.1M1029 184h1.1M1130 178h1.1M1018 172h1.1M1033 140h1.1M1035 204h1.1M921 187h1.1M1011 215h1.1M1042 205h1.1M940 201h1.1M878 160h1.1M1098 117h1.1M1149 162h1.1M946 86h1.1M902 220h1.1M1073 115h1.1M1031 147h1.1M1071 176h1.1M1018 198h1.1M924 154h1.1M888 195h1.1M1063 188h1.1M1059 224h1.1M1102 175h1.1M956 235h1.1M986 192h1.1M1031 198h1.1M915 107h1.1M1067 157h1.1M970 193h1.1M915 205h1.1M881 110h1.1M935 96h1.1M978 82h1.1M1078 182h1.1M1036 127h1.1M1073 199h1.1M924 220h1.1M1132 148h1.1M943 153h1.1M1006 184h1.1M884 154h1.1M999 236h1.1M1106 156h1.1M1037 139h1.1M940 112h1.1M1125 137h1.1M992 214h1.1M959 220h1.1M966 161h1.1M1124 205h1.1M992 174h1.1M1049 148h1.1M936 120h1.1M1025 224h1.1M973 97h1.1M944 116h1.1M1022 114h1.1M957 161h1.1M1076 135h1.1M1042 225h1.1M1022 153h1.1M980 179h1.1M884 124h1.1M958 135h1.1M899 206h1.1M924 152h1.1M945 201h1.1M1011 133h1.1M1040 125h1.1M1034 200h1.1M1065 180h1.1M1136 173h1.1M1106 200h1.1M1091 119h1.1M1142 189h1.1M1025 191h1.1M910 217h1.1M942 109h1.1M1123 215h1.1M1046 220h1.1M1095 190h1.1M1039 125h1.1M962 177h1.1M1048 156h1.1M1042 218h1.1M1105 184h1.1M1061 184h1.1M979 151h1.1M999 146h1.1M1014 127h1.1M981 168h1.1M915 195h1.1M992 202h1.1M1030 130h1.1M946 206h1.1M1127 141h1.1M964 159h1.1M1142 173h1.1M1009 226h1.1M1091 166h1.1M972 150h1.1M1051 218h1.1M982 217h1.1M932 100h1.1M916 169h1.1M889 183h1.1M978 167h1.1M1016 137h1.1M1096 203h1.1M967 113h1.1M1012 170h1.1M890 134h1.1M988 189h1.1M1091 134h1.1M1013 101h1.1M943 132h1.1M1096 188h1.1M1022 122h1.1M1023 201h1.1M1101 164h1.1M888 195h1.1M1011 133h1.1M1026 204h1.1M956 219h1.1M1060 179h1.1M925 128h1.1M1013 206h1.1M901 167h1.1M946 228h1.1M1018 149h1.1M914 195h1.1M1022 182h1.1M950 211h1.1M986 104h1.1M945 191h1.1M906 148h1.1M1012 156h1.1M1107 132h1.1M942 160h1.1M910 86h1.1M1026 180h1.1M965 193h1.1M962 116h1.1M1029 110h1.1M943 77h1.1M1003 159h1.1M1035 129h1.1M1052 150h1.1M981 99h1.1M881 138h1.1M1021 202h1.1M962 136h1.1M917 98h1.1M1071 174h1.1M920 181h1.1M1125 147h1.1M1034 192h1.1M1004 215h1.1M1007 115h1.1M1080 172h1.1M978 146h1.1M1071 167h1.1M921 208h1.1M1034 193h1.1M951 233h1.1M1051 218h1.1M918 207h1.1M1113 193h1.1M1005 111h1.1M1062 118h1.1M1080 163h1.1M923 147h1.1M948 233h1.1M1030 145h1.1M963 101h1.1M951 112h1.1M1057 209h1.1M1092 193h1.1M1119 169h1.1M1106 162h1.1M964 78h1.1M1055 142h1.1M978 157h1.1M1009 150h1.1M1098 156h1.1M916 117h1.1M1057 182h1.1M1032 183h1.1M1068 109h1.1M1080 209h1.1M1137 184h1.1M1077 204h1.1M1092 166h1.1M944 145h1.1M1034 175h1.1M1076 194h1.1M1109 116h1.1M1003 214h1.1M1111 206h1.1M890 123h1.1M954 140h1.1M917 123h1.1M969 192h1.1M1011 179h1.1M1098 124h1.1M1022 93h1.1M956 166h1.1M980 202h1.1M1107 190h1.1M1011 188h1.1M1068 125h1.1M964 72h1.1M1001 232h1.1M1037 191h1.1M1039 199h1.1M1099 114h1.1M979 155h1.1M908 98h1.1M904 211h1.1M973 95h1.1M1054 140h1.1M983 130h1.1M1056 142h1.1M1130 155h1.1M917 111h1.1M1014 149h1.1M1050 193h1.1M1085 202h1.1M970 183h1.1M990 212h1.1M980 158h1.1M888 205h1.1M953 131h1.1M1160 174h1.1M986 184h1.1M965 110h1.1M920 218h1.1M1074 176h1.1M938 204h1.1M962 146h1.1M971 196h1.1M1028 169h1.1M1126 188h1.1M952 100h1.1M1007 90h1.1M914 183h1.1M1066 212h1.1M1100 178h1.1M978 133h1.1M982 104h1.1M892 134h1.1M1145 198h1.1M1013 234h1.1M1030 153h1.1M921 101h1.1M993 147h1.1M978 142h1.1M922 239h1.1M908 180h1.1M894 212h1.1M949 215h1.1M1093 172h1.1M981 213h1.1M985 127h1.1M1068 211h1.1M1036 204h1.1M1027 209h1.1M1072 104h1.1M896 157h1.1M928 132h1.1M920 117h1.1M928 196h1.1M913 130h1.1M1097 184h1.1M974 140h1.1M931 131h1.1M1125 201h1.1M1080 191h1.1M1099 114h1.1M1052 200h1.1M977 154h1.1M946 225h1.1M942 83h1.1M949 189h1.1M990 121h1.1M1005 151h1.1M910 170h1.1M1013 176h1.1M988 185h1.1M1057 103h1.1M967 234h1.1M976 152h1.1M959 98h1.1M1073 132h1.1M982 225h1.1M1106 145h1.1M1028 110h1.1M879 117h1.1M978 122h1.1M1109 181h1.1M922 90h1.1M1053 166h1.1M1049 143h1.1M951 224h1.1M1052 140h1.1M924 178h1.1M979 95h1.1M1120 202h1.1M908 145h1.1M898 208h1.1M1057 137h1.1M980 182h1.1M946 192h1.1M968 94h1.1M1020 156h1.1M1122 193h1.1M966 212h1.1M1002 222h1.1M999 108h1.1M1033 100h1.1M1124 184h1.1M909 133h1.1M1058 173h1.1M947 169h1.1M906 162h1.1M942 103h1.1M1063 219h1.1M899 118h1.1M1028 152h1.1M971 111h1.1M1001 190h1.1M966 201h1.1M1125 179h1.1M1017 223h1.1M958 172h1.1M931 116h1.1M898 185h1.1M914 234h1.1M922 229h1.1M936 99h1.1M1102 220h1.1M1030 102h1.1M922 224h1.1M997 121h1.1M953 92h1.1M909 158h1.1M1120 197h1.1M912 202h1.1M994 101h1.1M999 175h1.1M977 178h1.1M1035 203h1.1M974 201h1.1M942 109h1.1M1047 219h1.1M1045 188h1.1M936 194h1.1M1018 209h1.1M1011 142h1.1M888 111h1.1M1105 116h1.1M1119 163h1.1M911 229h1.1M949 96h1.1M934 201h1.1M1035 169h1.1M927 114h1.1M1127 199h1.1M969 114h1.1M1110 106h1.1M1053 187h1.1M1072 164h1.1M1119 156h1.1M1025 107h1.1M915 216h1.1M979 192h1.1M1067 192h1.1M1130 212h1.1M901 107h1.1M982 126h1.1M1010 126h1.1M959 135h1.1M1119 199h1.1M902 180h1.1M884 182h1.1M1107 171h1.1M969 189h1.1M961 206h1.1M1157 184h1.1M1045 145h1.1M956 86h1.1M1010 233h1.1M1086 120h1.1M1031 107h1.1M994 112h1.1M976 136h1.1M992 143h1.1M969 77h1.1M1123 215h1.1M882 175h1.1M927 209h1.1M965 88h1.1M920 195h1.1M986 178h1.1M933 113h1.1M1143 164h1.1M1105 178h1.1M969 207h1.1M1149 160h1.1M976 202h1.1M1002 190h1.1M963 125h1.1M1018 176h1.1M927 89h1.1M888 117h1.1M1085 206h1.1M1025 174h1.1M962 91h1.1M958 148h1.1M989 176h1.1M1064 215h1.1M1048 171h1.1M986 154h1.1M1016 215h1.1M984 132h1.1M954 105h1.1M930 180h1.1M932 97h1.1M1055 113h1.1M1050 150h1.1M981 116h1.1M944 150h1.1M1147 161h1.1M910 126h1.1M1009 230h1.1M884 136h1.1M917 168h1.1M895 159h1.1M1108 216h1.1M1046 153h1.1M917 176h1.1M1084 211h1.1M908 116h1.1M969 103h1.1M1073 214h1.1M993 181h1.1M979 190h1.1M1145 170h1.1M1037 121h1.1M1004 134h1.1M941 146h1.1M1033 195h1.1M967 141h1.1M900 122h1.1M1097 123h1.1M987 191h1.1M1108 148h1.1M979 230h1.1M992 216h1.1M1113 167h1.1M1061 156h1.1M945 212h1.1M1090 126h1.1M951 187h1.1M895 160h1.1M895 136h1.1M1039 206h1.1M959 198h1.1M1013 146h1.1M1003 88h1.1M899 112h1.1M985 143h1.1M973 183h1.1M1138 131h1.1M980 155h1.1M968 81h1.1M1150 193h1.1M928 151h1.1M1063 209h1.1M1144 210h1.1M1151 187h1.1M1125 197h1.1M1059 217h1.1M1075 111h1.1M1131 150h1.1M936 218h1.1M1113 182h1.1M1153 152h1.1M1104 176h1.1M1043 211h1.1M999 102h1.1M924 167h1.1M1140 189h1.1M923 182h1.1M914 149h1.1M1055 122h1.1M892 121h1.1M933 86h1.1M890 152h1.1M1037 106h1.1M983 88h1.1M1043 135h1.1M889 128h1.1M902 144h1.1M906 220h1.1M974 139h1.1M887 181h1.1M904 162h1.1M1035 171h1.1M979 203h1.1M1092 150h1.1M1046 216h1.1M921 198h1.1M898 209h1.1M1020 151h1.1M1012 206h1.1M1057 138h1.1M929 169h1.1M967 189h1.1M1034 145h1.1M895 124h1.1M1026 160h1.1M1087 179h1.1M908 161h1.1M895 193h1.1M1113 199h1.1M929 93h1.1M999 203h1.1M968 104h1.1M997 216h1.1M944 170h1.1M927 233h1.1M1033 172h1.1M1106 130h1.1M964 196h1.1M943 146h1.1M1074 165h1.1M970 136h1.1M912 145h1.1M1021 211h1.1M976 182h1.1M960 154h1.1M1129 191h1.1M1032 211h1.1M1110 201h1.1M1069 196h1.1M1148 173h1.1M899 116h1.1M905 99h1.1M1015 226h1.1M1068 205h1.1M978 186h1.1M1005 218h1.1M963 133h1.1M992 129h1.1M881 172h1.1M946 138h1.1M1033 106h1.1M1034 201h1.1M960 118h1.1M1032 194h1.1M978 196h1.1M922 172h1.1M920 116h1.1M1072 144h1.1M1004 149h1.1M985 93h1.1M937 82h1.1M1039 106h1.1M1111 193h1.1M956 135h1.1M1047 198h1.1M968 209h1.1M895 163h1.1M1048 150h1.1M973 120h1.1M983 86h1.1M955 147h1.1M942 152h1.1M899 168h1.1M1120 162h1.1M971 93h1.1M1097 119h1.1M1013 123h1.1M938 186h1.1M926 241h1.1M941 185h1.1M955 197h1.1M959 235h1.1M1060 184h1.1M1022 114h1.1M979 134h1.1M1129 199h1.1M918 230h1.1M992 143h1.1M1110 153h1.1M1003 100h1.1M1059 160h1.1M920 96h1.1M1129 161h1.1M890 159h1.1M924 138h1.1M915 111h1.1M1054 215h1.1M1070 165h1.1M1059 190h1.1M900 178h1.1M899 202h1.1M1082 146h1.1M978 210h1.1M1045 127h1.1M948 114h1.1M913 169h1.1M1053 125h1.1M952 228h1.1M1087 123h1.1M991 210h1.1M1075 207h1.1M1059 143h1.1M1028 151h1.1M951 229h1.1M1132 146h1.1M1079 169h1.1M1110 178h1.1M976 198h1.1M1085 216h1.1M913 143h1.1M965 151h1.1M888 116h1.1M944 198h1.1M1038 196h1.1M889 161h1.1M1109 126h1.1M1030 138h1.1M972 169h1.1M997 124h1.1M1079 201h1.1M1055 186h1.1M983 188h1.1M899 233h1.1M977 90h1.1M1037 221h1.1M1024 216h1.1M1017 173h1.1M1023 162h1.1M1032 122h1.1M1017 170h1.1M890 187h1.1M1002 226h1.1M1012 145h1.1M1073 162h1.1M1031 196h1.1M911 190h1.1M956 145h1.1M1095 118h1.1M1125 170h1.1M943 239h1.1M1020 183h1.1M980 228h1.1M1052 212h1.1M1085 133h1.1M945 111h1.1M1080 116h1.1M965 170h1.1M1119 172h1.1M891 217h1.1M925 200h1.1M1117 136h1.1M899 228h1.1M1090 190h1.1M963 133h1.1M977 163h1.1M920 191h1.1M1023 180h1.1M1012 227h1.1M1053 217h1.1M1014 127h1.1M1007 156h1.1M996 131h1.1M939 187h1.1M913 92h1.1M1011 185h1.1M930 89h1.1M997 151h1.1M1130 197h1.1M879 136h1.1M1059 169h1.1M971 127h1.1M1127 137h1.1M882 187h1.1M964 78h1.1M954 206h1.1M1143 213h1.1M1087 141h1.1M1101 190h1.1M1008 221h1.1M1064 166h1.1M922 122h1.1M945 212h1.1M1046 165h1.1M966 194h1.1M1061 152h1.1M1061 150h1.1M1112 172h1.1M1134 165h1.1M918 174h1.1M961 222h1.1M949 81h1.1M1108 186h1.1M891 172h1.1M905 126h1.1M914 120h1.1M1099 193h1.1M992 122h1.1M1044 183h1.1M948 173h1.1M1109 185h1.1M1128 139h1.1M1005 174h1.1M960 128h1.1M1004 189h1.1M890 116h1.1M1068 113h1.1M952 224h1.1M1010 104h1.1M911 131h1.1M1102 187h1.1M1017 162h1.1M1002 201h1.1M903 158h1.1M1063 196h1.1M985 172h1.1M967 166h1.1M906 160h1.1M927 101h1.1M955 154h1.1M1071 214h1.1M915 176h1.1M913 182h1.1M1083 157h1.1M953 214h1.1M922 192h1.1M997 132h1.1M1007 145h1.1M973 206h1.1M897 138h1.1M933 107h1.1M1152 196h1.1M1013 95h1.1M1099 201h1.1M914 122h1.1M906 122h1.1M1055 127h1.1M892 214h1.1M1082 167h1.1M883 172h1.1M904 118h1.1M996 98h1.1M953 146h1.1M1056 200h1.1M882 152h1.1M907 144h1.1M913 226h1.1M1141 151h1.1M904 206h1.1M908 189h1.1M913 143h1.1M1029 175h1.1M1087 130h1.1M945 169h1.1M919 143h1.1M1043 182h1.1M910 206h1.1M1016 83h1.1M951 101h1.1M1126 140h1.1M980 133h1.1M872 117h1.1M983 159h1.1M904 221h1.1M1089 130h1.1M1031 114h1.1M906 199h1.1M1017 170h1.1M990 232h1.1M911 163h1.1M934 164h1.1M961 111h1.1M1097 175h1.1M1105 203h1.1M1151 172h1.1M1063 126h1.1M901 200h1.1M1044 181h1.1M1121 141h1.1M1123 214h1.1M1120 194h1.1M992 96h1.1M1070 215h1.1M971 163h1.1M921 127h1.1M909 192h1.1M886 131h1.1M1002 135h1.1M1018 226h1.1M1019 170h1.1M1055 112h1.1M1154 176h1.1M936 193h1.1M1069 156h1.1M958 193h1.1M1000 174h1.1M895 194h1.1M1000 169h1.1M882 122h1.1M1026 195h1.1M935 87h1.1M945 193h1.1M935 216h1.1M1081 112h1.1M987 128h1.1M990 211h1.1M1110 192h1.1M1107 154h1.1M919 102h1.1M950 95h1.1M996 157h1.1M1084 130h1.1M927 125h1.1M955 105h1.1M1124 181h1.1M976 151h1.1M1095 167h1.1M1009 175h1.1M949 143h1.1M1027 162h1.1M973 105h1.1M955 92h1.1M909 93h1.1M963 227h1.1M898 94h1.1M1033 195h1.1M1037 111h1.1M937 109h1.1M989 94h1.1M977 131h1.1M1106 144h1.1M982 92h1.1M1046 153h1.1M1011 153h1.1M1092 185h1.1M1124 178h1.1M919 188h1.1M1084 122h1.1M944 108h1.1M935 231h1.1M995 85h1.1M1081 167h1.1M875 179h1.1M954 215h1.1M985 119h1.1M1057 190h1.1M1100 173h1.1M1071 193h1.1M969 98h1.1M1040 202h1.1M900 217h1.1M963 170h1.1M1095 163h1.1M1115 214h1.1M971 91h1.1M1092 206h1.1M892 131h1.1M1036 199h1.1M889 149h1.1M900 134h1.1M1057 154h1.1M982 156h1.1M982 81h1.1M907 131h1.1M884 192h1.1M1145 183h1.1M1062 210h1.1M892 206h1.1M940 122h1.1M1060 120h1.1M930 179h1.1M1051 197h1.1M1071 166h1.1M935 86h1.1M892 144h1.1M988 83h1.1M1061 108h1.1M958 217h1.1M971 78h1.1M1023 140h1.1M1027 184h1.1M1071 200h1.1M1086 157h1.1M911 194h1.1M1098 145h1.1M1097 207h1.1M996 122h1.1M1005 149h1.1M936 194h1.1M885 135h1.1M1069 129h1.1M1017 181h1.1M932 234h1.1M1088 180h1.1M940 178h1.1M1057 179h1.1M893 149h1.1M905 185h1.1M1014 101h1.1M960 170h1.1M1027 192h1.1M1029 174h1.1M1043 179h1.1M1046 207h1.1M902 206h1.1M1033 166h1.1M994 179h1.1M976 191h1.1M1026 202h1.1M999 106h1.1M1116 175h1.1M922 135h1.1M973 195h1.1M1055 178h1.1M913 207h1.1M1032 107h1.1M902 139h1.1M961 223h1.1M985 84h1.1M902 109h1.1M938 102h1.1M1108 189h1.1M1045 183h1.1M998 110h1.1M901 172h1.1M968 175h1.1M910 163h1.1M949 128h1.1M1054 203h1.1M1110 143h1.1M1031 108h1.1M1041 170h1.1M982 114h1.1M991 205h1.1M974 161h1.1M1028 99h1.1M991 199h1.1M1000 221h1.1M987 89h1.1M893 230h1.1M963 180h1.1M1141 180h1.1M891 179h1.1M961 158h1.1M911 233h1.1M1013 222h1.1M1012 158h1.1M927 110h1.1M929 86h1.1M1007 211h1.1M1108 138h1.1M1080 167h1.1M964 174h1.1M941 119h1.1M922 233h1.1M1006 165h1.1M964 133h1.1M1027 149h1.1M920 115h1.1M909 214h1.1M1009 226h1.1M902 209h1.1M1050 182h1.1M1014 86h1.1M974 205h1.1M960 115h1.1M971 186h1.1M932 226h1.1M994 220h1.1M1030 168h1.1M1047 139h1.1M975 232h1.1M900 139h1.1M1003 166h1.1M1113 197h1.1M915 94h1.1M1044 126h1.1M1067 109h1.1M1033 224h1.1M923 119h1.1M1087 140h1.1M1012 147h1.1M1155 180h1.1M996 198h1.1M967 112h1.1M956 200h1.1M919 103h1.1M932 189h1.1M1014 135h1.1M1127 173h1.1M923 193h1.1M902 97h1.1M952 96h1.1M971 82h1.1M911 156h1.1M1018 188h1.1M1032 160h1.1M1003 100h1.1M1048 216h1.1M1045 210h1.1M902 194h1.1M995 98h1.1M994 171h1.1M1114 202h1.1M1008 132h1.1M976 77h1.1M1020 90h1.1M883 152h1.1M1118 160h1.1M1046 191h1.1M1000 159h1.1M1102 200h1.1M1095 212h1.1M989 231h1.1M1129 196h1.1M1040 224h1.1M1073 186h1.1M1088 174h1.1M975 168h1.1M1097 195h1.1M1123 171h1.1M944 128h1.1M1046 225h1.1M992 87h1.1M899 105h1.1M959 220h1.1M1019 169h1.1M1150 204h1.1M975 161h1.1M947 99h1.1M1015 194h1.1M916 88h1.1M1103 155h1.1M1071 207h1.1M1137 190h1.1M1105 179h1.1M1140 193h1.1M1122 179h1.1M961 144h1.1M946 92h1.1M988 149h1.1M963 135h1.1M982 227h1.1M990 168h1.1M925 136h1.1M1033 214h1.1M1091 210h1.1M1088 144h1.1M1018 178h1.1M931 101h1.1M944 204h1.1M1106 114h1.1M986 102h1.1M954 105h1.1M990 199h1.1M910 187h1.1M1148 171h1.1M975 155h1.1M966 124h1.1M881 147h1.1M906 97h1.1M973 204h1.1M1039 139h1.1M945 161h1.1M1053 108h1.1M1016 137h1.1M1124 216h1.1M923 91h1.1M884 157h1.1M907 164h1.1M1020 134h1.1M901 198h1.1M1088 177h1.1M966 219h1.1M963 128h1.1M979 111h1.1M903 208h1.1M1025 100h1.1M1058 167h1.1M964 187h1.1M955 113h1.1M964 227h1.1M906 104h1.1M1138 206h1.1M940 188h1.1M966 98h1.1M905 208h1.1M1075 198h1.1M947 152h1.1M1047 223h1.1M1112 216h1.1M1093 196h1.1M1053 190h1.1M1022 109h1.1M955 178h1.1M1118 184h1.1M887 180h1.1M930 117h1.1M1112 139h1.1M981 120h1.1M981 216h1.1M1120 141h1.1M1048 130h1.1M969 135h1.1M913 230h1.1M930 159h1.1M1033 226h1.1M955 221h1.1M1057 154h1.1M952 86h1.1M1115 203h1.1M1143 165h1.1M906 150h1.1M1051 175h1.1M1037 211h1.1M1123 144h1.1M943 193h1.1M1050 205h1.1M1037 200h1.1M971 92h1.1M990 216h1.1M1025 151h1.1M1013 166h1.1M1029 200h1.1M1021 180h1.1M1006 175h1.1M985 101h1.1M1009 209h1.1M950 200h1.1M947 106h1.1M1014 103h1.1M945 156h1.1M1083 173h1.1M937 78h1.1M1012 106h1.1M994 94h1.1M927 125h1.1M920 150h1.1M897 195h1.1M913 181h1.1M1101 131h1.1M1076 199h1.1M996 114h1.1M1067 195h1.1M995 139h1.1M963 219h1.1M1116 131h1.1M1028 125h1.1M1106 181h1.1M1005 118h1.1M929 200h1.1M921 219h1.1M1052 175h1.1M880 164h1.1M1112 161h1.1M1020 183h1.1M1059 210h1.1M925 143h1.1M890 191h1.1M931 136h1.1M899 224h1.1M1089 194h1.1M1070 169h1.1M945 98h1.1M1105 146h1.1M882 116h1.1M1094 164h1.1M944 195h1.1M974 172h1.1M941 114h1.1M1054 187h1.1M1045 117h1.1M910 130h1.1M1042 190h1.1M930 78h1.1M975 225h1.1M1048 111h1.1M1081 139h1.1M905 120h1.1M945 214h1.1M902 176h1.1M923 197h1.1M970 147h1.1M1106 108h1.1M1030 101h1.1M1135 186h1.1M1115 154h1.1M991 107h1.1M1062 192h1.1M961 141h1.1M947 234h1.1M1142 166h1.1M1057 187h1.1M1053 171h1.1M1129 197h1.1M1086 178h1.1M880 155h1.1M879 153h1.1M1055 136h1.1M1080 181h1.1M1071 173h1.1M1063 150h1.1M984 184h1.1M957 204h1.1M945 129h1.1M1147 202h1.1M1057 199h1.1M1008 235h1.1M953 147h1.1M1095 208h1.1M970 100h1.1M1089 171h1.1M1144 192h1.1M1023 167h1.1M958 102h1.1M990 79h1.1M976 205h1.1M892 120h1.1M939 97h1.1M955 114h1.1M1123 168h1.1M1072 202h1.1M898 144h1.1M1005 169h1.1M1115 152h1.1M1123 177h1.1M1105 205h1.1M1026 222h1.1M1042 199h1.1M982 217h1.1M1040 164h1.1M1070 187h1.1M921 234h1.1M1011 172h1.1M906 165h1.1M1092 123h1.1M1032 100h1.1M1101 198h1.1M1063 180h1.1M961 127h1.1M1053 204h1.1M974 79h1.1M1081 216h1.1M913 100h1.1M1100 112h1.1M1049 102h1.1M1017 221h1.1M907 186h1.1M1104 113h1.1M1012 112h1.1M998 188h1.1M888 171h1.1M891 219h1.1M1101 187h1.1M1142 177h1.1M1002 109h1.1M1088 212h1.1M944 228h1.1M913 99h1.1M1150 173h1.1M1070 191h1.1M905 132h1.1M915 107h1.1M936 161h1.1M1004 115h1.1M991 213h1.1M1042 130h1.1M1039 172h1.1M988 89h1.1M951 184h1.1M983 115h1.1M892 114h1.1M903 138h1.1M1149 149h1.1M1037 108h1.1M1141 145h1.1M1012 115h1.1M955 160h1.1M1099 122h1.1M963 168h1.1M875 171h1.1M1068 111h1.1M916 133h1.1M939 222h1.1M1059 185h1.1M1092 143h1.1M985 227h1.1M972 211h1.1M1140 143h1.1M984 114h1.1M1028 217h1.1M1098 183h1.1M1006 192h1.1M1146 179h1.1M919 115h1.1M1115 199h1.1M938 176h1.1M964 141h1.1M1029 105h1.1M958 221h1.1M1008 157h1.1M1124 173h1.1M882 167h1.1M959 227h1.1M999 90h1.1M1034 209h1.1M910 220h1.1M933 94h1.1M1049 180h1.1M987 96h1.1M1092 195h1.1M915 152h1.1M944 157h1.1M1010 149h1.1M1035 142h1.1M916 122h1.1M962 196h1.1M992 167h1.1M904 127h1.1M1003 125h1.1M1096 175h1.1M1118 207h1.1M1009 190h1.1M1136 170h1.1M971 119h1.1M1021 129h1.1M929 206h1.1M1046 213h1.1M986 166h1.1M919 217h1.1M1071 120h1.1M932 167h1.1M887 140h1.1M1030 217h1.1M1111 154h1.1M941 183h1.1M1132 182h1.1M963 232h1.1M1150 173h1.1M1081 173h1.1M987 188h1.1M897 160h1.1M1079 185h1.1M1087 158h1.1M1059 179h1.1M1045 203h1.1M980 105h1.1M957 128h1.1M919 201h1.1M985 92h1.1M933 112h1.1M1000 196h1.1M1058 126h1.1M904 96h1.1M960 185h1.1M1019 111h1.1M943 176h1.1M951 171h1.1M978 165h1.1M963 149h1.1M906 146h1.1M949 226h1.1M1151 188h1.1M915 147h1.1M1016 221h1.1M981 190h1.1M956 156h1.1M906 221h1.1M910 125h1.1M908 103h1.1M962 191h1.1M1021 193h1.1M957 228h1.1M1092 179h1.1M1144 191h1.1M945 189h1.1M989 176h1.1M894 205h1.1M1118 155h1.1M966 135h1.1M902 96h1.1M878 127h1.1M909 134h1.1M884 169h1.1M963 100h1.1M942 173h1.1M1123 199h1.1M1130 182h1.1M1046 101h1.1M986 231h1.1M934 237h1.1M1024 96h1.1M1085 204h1.1M970 113h1.1M1031 169h1.1M1013 221h1.1M1046 139h1.1M1126 166h1.1M1092 114h1.1M991 186h1.1M986 124h1.1M1066 130h1.1M1007 216h1.1M946 227h1.1M972 177h1.1M1135 202h1.1M1105 172h1.1M965 124h1.1M1098 178h1.1M1117 134h1.1M978 107h1.1M1112 188h1.1M940 176h1.1M902 209h1.1M1055 174h1.1M1111 137h1.1M1145 189h1.1M942 142h1.1M1120 207h1.1M1015 226h1.1M990 85h1.1M971 110h1.1M1052 224h1.1M1125 199h1.1M914 106h1.1M921 120h1.1M1140 148h1.1M923 160h1.1M883 142h1.1M997 180h1.1M953 191h1.1M957 114h1.1M880 169h1.1M928 200h1.1M945 76h1.1M1124 186h1.1M1035 183h1.1M1072 199h1.1M956 208h1.1M914 141h1.1M1035 163h1.1M928 121h1.1M1048 101h1.1M1010 101h1.1M1122 190h1.1M1137 154h1.1M1061 190h1.1M948 142h1.1M938 172h1.1M1044 139h1.1M889 122h1.1M978 143h1.1M938 120h1.1M966 169h1.1M951 195h1.1M990 216h1.1M925 171h1.1M995 214h1.1M975 184h1.1M963 115h1.1M952 148h1.1M891 188h1.1M933 154h1.1M974 94h1.1M948 149h1.1M914 194h1.1M992 151h1.1M1082 113h1.1M895 141h1.1M983 196h1.1M1057 194h1.1M1011 84h1.1M984 202h1.1M1144 188h1.1M1019 106h1.1M950 174h1.1M915 166h1.1M964 163h1.1M1003 227h1.1M1019 149h1.1M906 106h1.1M967 214h1.1M1033 188h1.1M988 117h1.1M989 153h1.1M923 188h1.1M927 131h1.1M964 120h1.1M996 134h1.1M924 142h1.1M1072 121h1.1M917 185h1.1M1087 159h1.1M1042 193h1.1M1116 136h1.1M884 180h1.1M1035 199h1.1M1035 121h1.1M926 175h1.1M912 207h1.1M917 89h1.1M1051 187h1.1M1018 193h1.1M1042 101h1.1M943 188h1.1M898 193h1.1M934 209h1.1M1110 210h1.1M930 183h1.1M1013 224h1.1M883 153h1.1M886 152h1.1M963 194h1.1M1089 171h1.1M1033 204h1.1M992 114h1.1M975 149h1.1M1024 233h1.1M1068 211h1.1M1021 200h1.1M1076 167h1.1M1028 106h1.1M1003 151h1.1M1000 228h1.1M961 108h1.1M902 146h1.1M892 158h1.1M989 133h1.1M1017 175h1.1M912 172h1.1M907 166h1.1M903 216h1.1M1063 126h1.1M986 105h1.1M1105 138h1.1M898 210h1.1M1098 211h1.1M904 163h1.1M956 179h1.1M895 139h1.1M1127 214h1.1M911 141h1.1M881 161h1.1M954 97h1.1M1039 146h1.1M1078 207h1.1M976 128h1.1M964 180h1.1M1089 122h1.1M1108 209h1.1M945 211h1.1M1091 199h1.1M1020 176h1.1M1153 151h1.1M1077 200h1.1M946 197h1.1M952 191h1.1M943 126h1.1M955 116h1.1M895 152h1.1M1050 132h1.1M932 170h1.1M925 218h1.1M922 110h1.1M1046 221h1.1M932 86h1.1M1067 194h1.1M982 214h1.1M1010 202h1.1M905 159h1.1M922 96h1.1M928 123h1.1M996 223h1.1M1030 191h1.1M1016 166h1.1M1039 210h1.1M997 162h1.1M984 166h1.1M989 94h1.1M1103 141h1.1M946 101h1.1M1008 138h1.1M941 186h1.1M943 94h1.1M969 211h1.1M941 88h1.1M932 161h1.1M1000 204h1.1M1031 163h1.1M991 154h1.1M906 206h1.1M1017 99h1.1M985 235h1.1M909 98h1.1M1002 150h1.1M971 209h1.1M1032 150h1.1M944 168h1.1M995 233h1.1M1012 167h1.1M1018 175h1.1M965 104h1.1M1046 190h1.1M924 106h1.1M1102 165h1.1M984 187h1.1M1109 180h1.1M944 152h1.1M964 80h1.1M963 204h1.1M983 116h1.1M1017 183h1.1M962 122h1.1M945 136h1.1M939 138h1.1M973 179h1.1M888 210h1.1M938 111h1.1M919 116h1.1M914 156h1.1M1030 104h1.1M1086 186h1.1M915 154h1.1M1043 107h1.1M908 199h1.1M932 88h1.1M1067 182h1.1M1036 200h1.1M1040 163h1.1M996 176h1.1M914 192h1.1M1073 180h1.1M980 214h1.1M921 208h1.1M1089 175h1.1M998 105h1.1M900 170h1.1M989 166h1.1M918 107h1.1M1085 187h1.1M906 217h1.1M1127 194h1.1M964 236h1.1M1007 206h1.1M1053 218h1.1M907 194h1.1M955 216h1.1M1096 180h1.1M1042 129h1.1M929 199h1.1M933 215h1.1M987 200h1.1M973 161h1.1M982 189h1.1M939 233h1.1M1020 227h1.1M988 181h1.1M1061 211h1.1M930 95h1.1M1027 166h1.1M1063 168h1.1M962 122h1.1M1038 210h1.1M1081 169h1.1M1017 125h1.1M1081 115h1.1M921 118h1.1M1131 148h1.1M949 141h1.1M1115 143h1.1M1037 138h1.1M993 193h1.1M885 120h1.1M943 169h1.1M1066 128h1.1M943 216h1.1M982 91h1.1M1151 190h1.1M990 104h1.1M1004 161h1.1M1053 176h1.1M1007 92h1.1M915 212h1.1M1029 208h1.1M1055 156h1.1M1025 178h1.1M1005 95h1.1M943 106h1.1M997 189h1.1M982 102h1.1M1026 190h1.1M1040 100h1.1M1118 205h1.1M970 188h1.1M884 177h1.1M1081 220h1.1M956 120h1.1M990 104h1.1M980 90h1.1M915 132h1.1M956 116h1.1M882 127h1.1M931 152h1.1M921 94h1.1M955 126h1.1M988 102h1.1M906 156h1.1M1003 139h1.1M904 153h1.1M1045 216h1.1M906 122h1.1M1050 143h1.1M1102 191h1.1M885 199h1.1M1007 104h1.1M951 203h1.1M1076 191h1.1M1102 116h1.1M910 153h1.1M1108 168h1.1M1017 202h1.1M920 166h1.1M947 172h1.1M910 143h1.1M1022 153h1.1M1012 139h1.1M1022 145h1.1M950 190h1.1M1005 212h1.1M1002 181h1.1M1052 137h1.1M1104 176h1.1M1042 143h1.1M959 136h1.1M1089 187h1.1M966 180h1.1M913 151h1.1M949 149h1.1M959 185h1.1M1098 142h1.1M976 86h1.1M1021 135h1.1M1039 170h1.1M1030 192h1.1M888 156h1.1M939 217h1.1M931 118h1.1M1036 173h1.1M1010 81h1.1M1087 125h1.1M894 225h1.1M926 168h1.1M945 130h1.1M1094 201h1.1M1028 125h1.1M1119 166h1.1M926 185h1.1M1020 224h1.1M927 96h1.1M921 187h1.1M923 133h1.1M1123 181h1.1M1098 113h1.1M899 206h1.1M899 164h1.1M1067 193h1.1M930 189h1.1M1000 183h1.1M1030 180h1.1M1041 113h1.1M1151 208h1.1M912 201h1.1M896 102h1.1M938 112h1.1M970 77h1.1M933 113h1.1M962 157h1.1M983 213h1.1M925 201h1.1M979 212h1.1M1010 223h1.1M998 157h1.1M1021 223h1.1M974 114h1.1M1102 204h1.1M1108 190h1.1M915 215h1.1M1068 177h1.1M1094 120h1.1M922 145h1.1M1008 222h1.1M1042 151h1.1M1046 127h1.1M1094 171h1.1M1054 117h1.1M1009 104h1.1M1002 147h1.1M1011 231h1.1M966 221h1.1M968 146h1.1M901 169h1.1M943 87h1.1M968 135h1.1M917 117h1.1M1070 180h1.1M1029 112h1.1M1081 114h1.1M1041 148h1.1M1119 147h1.1M1074 220h1.1M963 115h1.1M1026 209h1.1M1037 195h1.1M906 87h1.1M928 176h1.1M915 151h1.1M906 88h1.1M982 142h1.1M1020 140h1.1M976 188h1.1M1058 113h1.1M1074 174h1.1M952 147h1.1M1103 199h1.1M956 171h1.1M898 217h1.1M1127 185h1.1M977 164h1.1M1078 194h1.1M993 201h1.1M932 82h1.1M928 236h1.1M1059 211h1.1M909 164h1.1M1001 96h1.1M881 163h1.1M936 93h1.1M906 197h1.1M1091 204h1.1M952 173h1.1M1057 121h1.1M1070 136h1.1M977 229h1.1M1123 144h1.1M978 174h1.1M994 109h1.1M951 190h1.1M934 206h1.1M967 142h1.1M936 188h1.1M1079 135h1.1M1103 136h1.1M925 189h1.1M1023 213h1.1M1021 170h1.1M944 170h1.1M1018 133h1.1M1078 154h1.1M1148 201h1.1M1053 125h1.1M1091 173h1.1M1109 211h1.1M1008 217h1.1M968 140h1.1M913 91h1.1M1140 161h1.1M903 205h1.1M930 239h1.1M978 90h1.1M1092 106h1.1M894 198h1.1M989 145h1.1M942 166h1.1M967 195h1.1M957 150h1.1M948 110h1.1M1029 155h1.1M1161 193h1.1M1012 184h1.1M973 229h1.1M1136 199h1.1M1013 90h1.1M982 113h1.1M1047 153h1.1M937 119h1.1M890 162h1.1M981 222h1.1M1112 120h1.1M1061 159h1.1M1153 195h1.1M962 83h1.1M1043 153h1.1M1116 184h1.1M950 213h1.1M930 207h1.1M960 138h1.1M1079 138h1.1M1076 182h1.1M1149 201h1.1M1049 194h1.1M963 123h1.1M984 166h1.1M1048 157h1.1M1018 150h1.1M1085 211h1.1M904 216h1.1M899 138h1.1M1033 92h1.1M1047 118h1.1M1131 161h1.1M957 215h1.1M1040 192h1.1M910 168h1.1M1041 207h1.1M908 174h1.1M951 196h1.1M1020 192h1.1M904 238h1.1M958 152h1.1M1029 115h1.1M1098 168h1.1M910 181h1.1M1076 151h1.1M939 111h1.1M1029 105h1.1M1029 200h1.1M938 173h1.1M1038 221h1.1M915 123h1.1M1015 134h1.1M899 227h1.1M1129 182h1.1M1131 158h1.1M907 112h1.1M1059 170h1.1M980 224h1.1M1127 167h1.1M1052 141h1.1M997 112h1.1M1021 157h1.1M926 133h1.1M910 139h1.1M942 86h1.1M887 115h1.1M919 190h1.1M1140 198h1.1M1110 180h1.1M931 188h1.1M907 122h1.1M939 222h1.1M928 104h1.1M1065 168h1.1M1067 215h1.1M968 199h1.1M1072 177h1.1M1076 172h1.1M909 95h1.1M976 217h1.1M990 206h1.1M1066 202h1.1M931 117h1.1M1004 98h1.1M936 105h1.1M1097 115h1.1M887 129h1.1M1085 169h1.1M919 132h1.1M922 114h1.1M1110 166h1.1M984 228h1.1M1123 164h1.1M1101 135h1.1M1065 182h1.1M1036 151h1.1M987 199h1.1M943 188h1.1M993 157h1.1M920 89h1.1M936 127h1.1M1003 114h1.1M1018 197h1.1M1091 219h1.1M1059 108h1.1M1080 138h1.1M1111 207h1.1M890 114h1.1M1028 161h1.1M934 173h1.1M911 88h1.1M1038 155h1.1M1069 167h1.1M1022 176h1.1M932 119h1.1M1031 137h1.1M957 129h1.1M911 174h1.1M936 151h1.1M922 135h1.1M1023 175h1.1M942 196h1.1M1129 173h1.1M884 164h1.1M1067 212h1.1M932 176h1.1M1130 189h1.1M1001 165h1.1M941 117h1.1M924 197h1.1M966 97h1.1M1033 162h1.1M927 122h1.1M1021 110h1.1M1059 127h1.1M1032 110h1.1M919 146h1.1M1047 210h1.1M966 157h1.1M1003 191h1.1M937 183h1.1M919 163h1.1M913 110h1.1M1115 191h1.1M1066 193h1.1M1042 140h1.1M928 181h1.1M1127 170h1.1M902 170h1.1M885 122h1.1M1001 169h1.1M960 158h1.1M1035 182h1.1M919 225h1.1M1082 212h1.1M911 178h1.1M1034 160h1.1M1026 138h1.1M959 189h1.1M970 183h1.1M984 98h1.1M890 169h1.1M1043 200h1.1M957 227h1.1M934 114h1.1M921 174h1.1M913 149h1.1M1156 167h1.1M1037 135h1.1M994 225h1.1M1038 101h1.1M979 117h1.1M1065 138h1.1M947 132h1.1M1147 169h1.1M934 179h1.1M990 233h1.1M959 166h1.1M916 231h1.1M901 190h1.1M1074 175h1.1M925 131h1.1M1077 136h1.1M1025 121h1.1M1040 130h1.1M961 150h1.1M1079 157h1.1M913 111h1.1M1115 122h1.1M927 163h1.1M988 180h1.1M1098 206h1.1M906 216h1.1M923 220h1.1M1030 136h1.1M898 94h1.1M1044 192h1.1M1084 175h1.1M1067 133h1.1M981 224h1.1M898 156h1.1M947 232h1.1M979 147h1.1M947 230h1.1M1027 206h1.1M1008 143h1.1M945 230h1.1M951 154h1.1M1040 215h1.1M902 165h1.1M977 135h1.1M969 176h1.1M967 125h1.1M915 199h1.1M1026 117h1.1M1078 193h1.1M1109 117h1.1M901 117h1.1M960 184h1.1M1083 194h1.1M1145 207h1.1M972 136h1.1M930 128h1.1M953 90h1.1M899 208h1.1M986 224h1.1M920 101h1.1M897 159h1.1M1007 177h1.1M916 95h1.1M921 179h1.1M1100 127h1.1M1141 164h1.1M949 210h1.1M1079 114h1.1M1001 153h1.1M910 145h1.1M1049 187h1.1M999 197h1.1M1023 100h1.1M1088 174h1.1M915 112h1.1M936 168h1.1M887 148h1.1M932 207h1.1M1055 143h1.1M935 119h1.1M915 231h1.1M1116 145h1.1M920 158h1.1M936 174h1.1M1028 102h1.1M932 209h1.1M1067 183h1.1M1019 157h1.1M1004 198h1.1M888 188h1.1M1099 218h1.1M904 200h1.1M913 170h1.1M975 138h1.1M926 82h1.1M925 223h1.1M930 236h1.1M1003 115h1.1M921 165h1.1M1092 177h1.1M1046 99h1.1M1044 154h1.1M985 157h1.1M920 159h1.1M901 169h1.1M906 211h1.1M1028 179h1.1M906 84h1.1M1017 210h1.1M965 115h1.1M1000 182h1.1M980 159h1.1M1010 184h1.1M923 104h1.1M1016 222h1.1M959 72h1.1M1079 207h1.1M975 89h1.1M977 102h1.1M906 232h1.1M1061 112h1.1M952 142h1.1M956 229h1.1M1027 111h1.1M1028 230h1.1M955 97h1.1M893 157h1.1M1061 126h1.1M894 186h1.1M1085 206h1.1M1122 187h1.1M1145 191h1.1M1090 185h1.1M975 206h1.1M979 199h1.1M1011 82h1.1M900 167h1.1M1118 148h1.1M943 153h1.1M923 113h1.1M1081 118h1.1M1052 192h1.1M938 189h1.1M1072 212h1.1M1092 175h1.1M986 192h1.1M942 106h1.1M1089 208h1.1M1058 199h1.1M1148 179h1.1M974 227h1.1M1019 167h1.1M1112 182h1.1M1031 110h1.1M1015 193h1.1M905 204h1.1M1110 188h1.1M980 181h1.1M1013 190h1.1M1124 205h1.1M952 77h1.1M908 162h1.1M916 121h1.1M1075 115h1.1M1158 178h1.1M1008 114h1.1M1075 181h1.1M949 184h1.1M916 173h1.1M1015 169h1.1M927 110h1.1M1008 119h1.1M1080 217h1.1M879 114h1.1M899 197h1.1M1062 202h1.1M913 186h1.1M932 186h1.1M950 145h1.1M916 172h1.1M961 222h1.1M905 201h1.1M969 134h1.1M977 226h1.1M1045 195h1.1M910 226h1.1M920 163h1.1M1011 231h1.1M1126 140h1.1M1109 192h1.1M989 128h1.1M1047 211h1.1M932 85h1.1M1058 218h1.1M995 130h1.1M1057 106h1.1M1103 214h1.1M1107 168h1.1M1018 182h1.1M1160 184h1.1M882 153h1.1M924 207h1.1M1044 171h1.1M955 201h1.1M887 196h1.1M1138 209h1.1M1060 206h1.1M1151 163h1.1M885 172h1.1M1045 148h1.1M942 176h1.1M1048 142h1.1M1036 213h1.1M1087 140h1.1M993 146h1.1M947 149h1.1M1107 142h1.1M999 99h1.1M984 136h1.1M992 194h1.1M1014 136h1.1M1140 166h1.1M964 201h1.1M1062 213h1.1M934 106h1.1M1021 169h1.1M910 173h1.1M1150 173h1.1M1008 98h1.1M985 83h1.1M876 149h1.1M890 136h1.1M964 174h1.1M966 203h1.1M1149 178h1.1M894 103h1.1M1000 237h1.1M1098 211h1.1M972 112h1.1M1095 141h1.1M1009 124h1.1M993 170h1.1M948 187h1.1M992 216h1.1M1031 123h1.1M969 141h1.1M1027 119h1.1M1129 155h1.1M1046 222h1.1M944 235h1.1M984 116h1.1M1134 171h1.1M1070 176h1.1M1049 143h1.1M1148 198h1.1M941 174h1.1M907 196h1.1M920 106h1.1M1038 165h1.1M906 173h1.1M965 126h1.1M896 113h1.1M947 157h1.1M938 89h1.1M1015 151h1.1M1140 184h1.1M942 220h1.1M1025 214h1.1M957 137h1.1M919 146h1.1M934 143h1.1M1005 197h1.1M976 123h1.1M1112 121h1.1M990 140h1.1M957 130h1.1M1027 220h1.1M922 168h1.1M1099 143h1.1M1127 129h1.1M1029 173h1.1M970 178h1.1M918 204h1.1M1004 174h1.1M927 157h1.1M901 165h1.1M882 191h1.1M967 209h1.1M927 78h1.1M1046 221h1.1M910 181h1.1M1022 153h1.1M941 113h1.1M1122 213h1.1M1059 196h1.1M1085 107h1.1M1147 204h1.1M1089 183h1.1M951 187h1.1M1044 135h1.1M1156 169h1.1M1006 106h1.1M1014 93h1.1M1081 184h1.1M922 208h1.1M1107 177h1.1M925 170h1.1M918 185h1.1M1033 226h1.1M935 230h1.1M881 171h1.1M1028 176h1.1M1008 97h1.1M1036 197h1.1M1072 208h1.1M945 194h1.1M895 103h1.1M1058 120h1.1M911 115h1.1M959 143h1.1M1081 166h1.1M915 187h1.1M1036 165h1.1M1052 183h1.1M1114 183h1.1M1058 172h1.1M999 129h1.1M1021 142h1.1M1108 179h1.1M901 101h1.1M1006 165h1.1M986 212h1.1M933 187h1.1M1029 110h1.1M897 128h1.1M1141 162h1.1M1081 167h1.1M912 201h1.1M938 147h1.1M979 78h1.1M971 127h1.1M1029 216h1.1M916 201h1.1M917 135h1.1M891 101h1.1M909 88h1.1M958 197h1.1M1141 174h1.1M1069 123h1.1M1004 222h1.1M954 204h1.1M1135 211h1.1M1107 112h1.1M998 89h1.1M1157 168h1.1M991 146h1.1M924 178h1.1M916 92h1.1M1148 192h1.1M1017 184h1.1M957 79h1.1M1010 212h1.1M960 176h1.1M1018 187h1.1M973 88h1.1M1014 92h1.1M951 191h1.1M1096 158h1.1M991 184h1.1M902 124h1.1M1110 192h1.1M1100 220h1.1M945 131h1.1M1129 142h1.1M925 239h1.1M936 99h1.1M1155 197h1.1M901 207h1.1M951 84h1.1M940 180h1.1M942 219h1.1M1132 181h1.1M970 199h1.1M1046 205h1.1M958 94h1.1M1141 196h1.1M1101 147h1.1M942 201h1.1M1016 207h1.1M1066 131h1.1M993 171h1.1M931 101h1.1M954 200h1.1M1024 111h1.1M956 167h1.1M959 211h1.1M1101 194h1.1M1129 201h1.1M941 124h1.1M965 133h1.1M968 174h1.1M1076 181h1.1M1135 187h1.1M883 127h1.1M920 108h1.1M1113 180h1.1M893 151h1.1M1017 105h1.1M893 213h1.1M1029 94h1.1M956 113h1.1M936 177h1.1M923 151h1.1M1128 175h1.1M998 140h1.1M985 155h1.1M917 148h1.1M971 156h1.1M1054 108h1.1M969 197h1.1M1027 98h1.1M985 127h1.1M986 142h1.1M1042 202h1.1M1099 165h1.1M928 188h1.1M992 119h1.1M939 110h1.1M936 128h1.1M1127 190h1.1M917 111h1.1M943 224h1.1M960 155h1.1M1066 157h1.1M1035 118h1.1M896 143h1.1M1087 193h1.1M909 98h1.1M945 76h1.1M989 196h1.1M1094 167h1.1M1075 202h1.1M937 232h1.1M1081 137h1.1M930 175h1.1M1135 162h1.1M1031 115h1.1M1010 149h1.1M1004 218h1.1M889 183h1.1M1112 210h1.1M1066 205h1.1M1024 117h1.1M902 183h1.1M922 174h1.1M911 132h1.1M962 164h1.1M1072 156h1.1M910 164h1.1M1143 206h1.1M1121 199h1.1M934 99h1.1M991 147h1.1M938 178h1.1M993 194h1.1M1048 179h1.1M937 180h1.1M1143 159h1.1M1116 123h1.1M999 194h1.1M1013 178h1.1M1135 184h1.1M920 211h1.1M1135 146h1.1M1003 99h1.1M1027 149h1.1M1010 208h1.1M896 219h1.1M914 195h1.1M898 147h1.1M1074 185h1.1M1062 121h1.1M907 170h1.1M1010 178h1.1M936 147h1.1M963 204h1.1M899 92h1.1M1027 182h1.1M994 78h1.1M1152 200h1.1M899 170h1.1M950 176h1.1M940 225h1.1M1136 159h1.1M991 93h1.1M1028 168h1.1M924 192h1.1M964 154h1.1M1127 197h1.1M973 225h1.1M1029 228h1.1M933 168h1.1M1053 217h1.1M937 205h1.1M1018 111h1.1M971 108h1.1M1145 170h1.1M995 203h1.1M886 121h1.1M923 181h1.1M1069 114h1.1M948 204h1.1M894 110h1.1M1032 112h1.1M998 119h1.1M908 182h1.1M1065 217h1.1M1007 152h1.1M894 123h1.1M1123 144h1.1M953 106h1.1M1027 108h1.1M1012 127h1.1M997 169h1.1M1117 162h1.1M1009 235h1.1M1005 210h1.1M920 121h1.1M958 152h1.1M1078 204h1.1M1031 161h1.1M954 113h1.1M962 103h1.1M994 89h1.1M1095 122h1.1M1007 123h1.1M1043 156h1.1M926 223h1.1M1079 125h1.1M1100 147h1.1M986 211h1.1M1069 108h1.1M885 179h1.1M964 126h1.1M1146 166h1.1M1000 193h1.1M1107 127h1.1M895 209h1.1M944 116h1.1M1084 123h1.1M948 114h1.1M994 90h1.1M907 143h1.1M1036 197h1.1M1043 103h1.1M920 163h1.1M904 233h1.1M1065 134h1.1M916 210h1.1M892 119h1.1M920 237h1.1M966 162h1.1M1049 186h1.1M903 118h1.1M1029 177h1.1M1045 215h1.1M945 199h1.1M1123 198h1.1M1016 178h1.1M924 205h1.1M892 130h1.1M1049 137h1.1M928 215h1.1M901 179h1.1M1143 194h1.1M926 131h1.1M978 159h1.1M940 225h1.1M1016 207h1.1M979 212h1.1M987 143h1.1M1141 175h1.1M1006 154h1.1M938 228h1.1M1002 235h1.1M915 229h1.1M938 139h1.1M885 198h1.1M1125 171h1.1M994 88h1.1M892 140h1.1M894 192h1.1M1090 159h1.1M1100 135h1.1M1084 118h1.1M1044 152h1.1M928 179h1.1M904 224h1.1M908 82h1.1M886 171h1.1M1126 208h1.1M1106 193h1.1M910 212h1.1M942 100h1.1M960 178h1.1M1111 120h1.1M1049 171h1.1M1029 179h1.1M892 123h1.1M896 141h1.1M1143 152h1.1M1154 178h1.1M1094 206h1.1M989 171h1.1M1107 203h1.1M1040 149h1.1M924 218h1.1M979 159h1.1M975 96h1.1M996 156h1.1M978 123h1.1M920 212h1.1M999 130h1.1M1012 166h1.1M947 115h1.1M899 206h1.1M1012 160h1.1M910 212h1.1M969 161h1.1M925 157h1.1M1097 208h1.1M1090 120h1.1M913 140h1.1M901 106h1.1M1115 190h1.1M1065 199h1.1M973 77h1.1M974 237h1.1M955 178h1.1M1049 220h1.1M957 237h1.1M1014 179h1.1M1124 133h1.1M911 177h1.1M933 153h1.1M1092 119h1.1M1029 198h1.1M990 191h1.1M999 211h1.1M920 124h1.1M940 86h1.1M958 198h1.1M1070 192h1.1M948 230h1.1M897 91h1.1M904 86h1.1M925 190h1.1M1033 179h1.1M916 161h1.1M993 97h1.1M932 144h1.1M1096 154h1.1M944 193h1.1M1159 192h1.1M974 87h1.1M1035 179h1.1M972 145h1.1M1062 220h1.1M977 93h1.1M994 148h1.1M993 137h1.1M905 219h1.1M992 202h1.1M1117 217h1.1M940 179h1.1M959 231h1.1M969 153h1.1M1075 215h1.1M887 121h1.1M960 124h1.1M1056 166h1.1M921 222h1.1M1116 212h1.1M1092 170h1.1M1125 171h1.1M1059 123h1.1" fill="none" stroke="#f4a325" stroke-width="3.3" stroke-linecap="round"/>
<path d="M1087 193h1.1M1107 106h1.1M1040 104h1.1M1112 133h1.1M1036 139h1.1M920 198h1.1M1003 119h1.1M1025 154h1.1M1031 152h1.1M1079 124h1.1M1076 131h1.1M888 186h1.1M880 132h1.1M906 232h1.1M1065 190h1.1M1152 167h1.1M976 136h1.1M1066 127h1.1M904 180h1.1M968 85h1.1M930 172h1.1M1034 194h1.1M922 153h1.1M1059 136h1.1M1090 208h1.1M1092 165h1.1M1159 202h1.1M1076 169h1.1M988 210h1.1M1079 118h1.1M1070 160h1.1M1070 172h1.1M1001 189h1.1M1113 176h1.1M916 122h1.1M1070 166h1.1M1024 182h1.1M1130 202h1.1M1143 140h1.1M1078 144h1.1M1113 141h1.1M1097 164h1.1M1057 149h1.1M1085 190h1.1M1022 100h1.1M1130 132h1.1M1014 123h1.1M954 200h1.1M1098 207h1.1M987 100h1.1M1096 211h1.1M909 238h1.1M1095 205h1.1M983 97h1.1M1087 167h1.1M1047 161h1.1M935 100h1.1M997 125h1.1M1148 169h1.1M1079 136h1.1M909 125h1.1M1102 182h1.1M1044 108h1.1M945 125h1.1M975 145h1.1M1027 128h1.1M917 197h1.1M1082 194h1.1M1034 128h1.1M1078 141h1.1M1012 180h1.1M1058 212h1.1M1017 174h1.1M919 223h1.1M1020 202h1.1M1026 182h1.1M1048 122h1.1M1117 172h1.1M1047 102h1.1M1117 211h1.1M1144 181h1.1M1097 192h1.1M916 145h1.1M1076 162h1.1M956 220h1.1M1025 94h1.1M1105 168h1.1M1060 131h1.1M1015 113h1.1M1085 144h1.1M1084 109h1.1M1034 183h1.1M967 139h1.1M1131 160h1.1M1115 176h1.1M895 224h1.1M1134 192h1.1M1060 179h1.1M913 156h1.1M940 133h1.1M1088 122h1.1M1007 94h1.1M1067 118h1.1M936 87h1.1M992 219h1.1M1095 196h1.1M1003 146h1.1M1124 162h1.1M995 191h1.1M1071 189h1.1M1154 177h1.1M1069 202h1.1M1000 181h1.1M1022 215h1.1M1063 112h1.1M932 88h1.1M1072 149h1.1M1080 149h1.1M964 183h1.1M1022 231h1.1M1060 134h1.1M1044 111h1.1M1072 154h1.1M1024 168h1.1M1098 127h1.1M958 164h1.1M922 189h1.1M943 130h1.1M1150 210h1.1M1134 149h1.1M1100 120h1.1M1134 161h1.1M1135 171h1.1M1042 205h1.1M911 136h1.1M1108 155h1.1M1020 153h1.1M1019 217h1.1M1009 101h1.1M1109 112h1.1M1122 183h1.1M1109 188h1.1M1046 173h1.1M938 179h1.1M1029 157h1.1M1050 115h1.1M1038 118h1.1M1021 229h1.1M890 173h1.1M1121 202h1.1M1090 171h1.1M1025 137h1.1M1036 165h1.1M1118 156h1.1M1122 160h1.1M876 165h1.1M1080 206h1.1M940 100h1.1M1047 183h1.1M1158 215h1.1M1068 205h1.1M998 107h1.1M1059 128h1.1M926 217h1.1M1117 151h1.1M1014 195h1.1M905 159h1.1M1033 181h1.1M1131 193h1.1M945 180h1.1M1131 188h1.1M973 153h1.1M960 165h1.1M1117 205h1.1M1147 197h1.1M1064 209h1.1M1112 211h1.1M1148 148h1.1M1141 182h1.1M1009 167h1.1M1056 202h1.1M1024 179h1.1M1103 173h1.1M1029 130h1.1M980 237h1.1M942 129h1.1M1106 180h1.1M938 159h1.1M1077 155h1.1M1003 119h1.1M1103 163h1.1M1126 183h1.1M1122 203h1.1M1096 120h1.1M975 146h1.1M1039 149h1.1M1034 203h1.1M963 105h1.1M1083 129h1.1M988 104h1.1M930 124h1.1M1035 201h1.1M1053 166h1.1M1143 162h1.1M1059 202h1.1M1027 214h1.1M1024 189h1.1M1156 161h1.1M1121 163h1.1M1099 166h1.1M1147 202h1.1M1151 166h1.1M986 158h1.1M1055 124h1.1M1068 177h1.1M1041 217h1.1M995 144h1.1M978 225h1.1M1143 199h1.1M988 161h1.1M1112 177h1.1M954 163h1.1M1105 167h1.1M878 176h1.1M1146 156h1.1M1147 185h1.1M1007 218h1.1M1127 131h1.1M1080 135h1.1M939 96h1.1M1130 127h1.1M1129 134h1.1M1064 216h1.1M1067 200h1.1M938 94h1.1M1001 229h1.1M1106 143h1.1M1137 192h1.1M1088 115h1.1M880 119h1.1M1102 177h1.1M1118 199h1.1M1132 133h1.1M1082 182h1.1M920 134h1.1M955 94h1.1M927 107h1.1M1147 176h1.1M1020 103h1.1M948 222h1.1M1061 116h1.1M1006 158h1.1M915 201h1.1M891 209h1.1M1017 118h1.1M1124 182h1.1M882 134h1.1M1127 165h1.1M1103 169h1.1M1093 196h1.1M933 142h1.1M981 93h1.1M1141 153h1.1M1087 144h1.1M898 161h1.1M1044 183h1.1M1098 211h1.1M920 159h1.1M1074 215h1.1M1103 198h1.1M1052 182h1.1M936 93h1.1M1066 152h1.1M901 110h1.1M1078 212h1.1M1095 126h1.1M1001 141h1.1M1136 205h1.1M1120 143h1.1M897 108h1.1M1038 234h1.1M1025 172h1.1M1100 166h1.1M951 157h1.1M1071 200h1.1M1145 164h1.1M999 154h1.1M1050 185h1.1M1086 170h1.1M1051 162h1.1M1113 186h1.1M1087 210h1.1M1088 189h1.1M1067 192h1.1M991 197h1.1M982 162h1.1M948 177h1.1M1088 134h1.1M1001 195h1.1M1107 205h1.1M1015 121h1.1M1137 201h1.1M1111 176h1.1M939 131h1.1M1098 136h1.1M1146 194h1.1M1032 159h1.1M1065 193h1.1M1056 113h1.1M892 214h1.1M1081 214h1.1M1045 203h1.1M1129 147h1.1M1026 134h1.1M1114 197h1.1M996 231h1.1M936 172h1.1M1087 171h1.1M1108 204h1.1M1045 106h1.1M1135 169h1.1M1019 216h1.1M915 242h1.1M1067 172h1.1M1098 202h1.1M956 130h1.1M1054 213h1.1M989 112h1.1M1132 164h1.1M995 151h1.1M1139 147h1.1M1121 193h1.1M1144 205h1.1M982 199h1.1M1012 161h1.1M1079 222h1.1M1099 174h1.1M1025 167h1.1M1065 140h1.1M1044 191h1.1M1064 199h1.1M1053 112h1.1M1045 135h1.1M1022 222h1.1M1113 154h1.1M1128 164h1.1M1015 193h1.1M1051 117h1.1M1053 210h1.1M1023 89h1.1M956 206h1.1M1124 165h1.1M994 231h1.1M1066 175h1.1M999 111h1.1M1003 178h1.1M914 172h1.1M1116 126h1.1M1135 177h1.1M1087 152h1.1M1153 166h1.1M1054 179h1.1M1054 154h1.1M1125 209h1.1M1062 206h1.1M956 148h1.1M1095 192h1.1M1009 197h1.1M918 181h1.1M1066 135h1.1M1071 200h1.1M956 174h1.1M952 183h1.1M1009 116h1.1M975 179h1.1M1039 195h1.1M951 98h1.1M930 92h1.1M924 211h1.1M926 152h1.1M1012 224h1.1M1018 108h1.1M900 109h1.1M1048 176h1.1M1097 215h1.1M1055 135h1.1M925 208h1.1M1042 186h1.1M1105 148h1.1M934 208h1.1M883 130h1.1M1077 110h1.1M1078 202h1.1M956 234h1.1M1121 203h1.1M1122 133h1.1M1052 104h1.1M900 96h1.1M1034 105h1.1M1114 196h1.1M1096 185h1.1M907 114h1.1M1032 195h1.1M1114 164h1.1M1118 131h1.1M1036 196h1.1M960 138h1.1M924 93h1.1M1040 141h1.1M922 113h1.1M1132 215h1.1M1003 218h1.1M1070 199h1.1M1105 160h1.1M926 101h1.1M944 223h1.1M1106 127h1.1M1050 195h1.1M1110 216h1.1M1129 162h1.1M1090 147h1.1M948 235h1.1M1062 221h1.1M953 117h1.1M1076 176h1.1M1073 158h1.1M942 131h1.1M932 178h1.1M880 199h1.1M1110 168h1.1M1079 141h1.1M997 94h1.1M1057 172h1.1M926 143h1.1M1057 222h1.1M1106 165h1.1M1139 176h1.1M988 207h1.1M1134 171h1.1M946 135h1.1M1112 136h1.1M961 151h1.1M1017 139h1.1M985 119h1.1M902 153h1.1M965 142h1.1M1066 139h1.1M1073 206h1.1M908 175h1.1M950 88h1.1M1043 137h1.1M973 123h1.1M1087 146h1.1M1079 141h1.1M1014 122h1.1M980 196h1.1M975 152h1.1M1118 168h1.1M1071 126h1.1M909 234h1.1M1112 127h1.1M1047 214h1.1M1140 178h1.1M1070 206h1.1M1041 116h1.1M1142 158h1.1M1089 189h1.1M1080 137h1.1M1068 208h1.1M1033 129h1.1M1001 152h1.1M1048 193h1.1M1096 155h1.1M1012 158h1.1M1098 176h1.1M1010 198h1.1M1075 189h1.1M904 163h1.1M1087 111h1.1M965 94h1.1M980 109h1.1M918 125h1.1M967 81h1.1M1117 188h1.1M1030 108h1.1M1158 181h1.1M1063 183h1.1M1007 133h1.1M1031 139h1.1M1086 135h1.1M1021 222h1.1M1058 156h1.1M945 86h1.1M1116 141h1.1M1035 90h1.1M1036 138h1.1M1004 123h1.1M1048 199h1.1M1014 179h1.1M959 170h1.1M1138 155h1.1M1009 97h1.1M1047 147h1.1M1033 107h1.1M892 220h1.1M1097 171h1.1M1000 178h1.1M1111 157h1.1M1039 130h1.1M1042 142h1.1M1045 124h1.1M1022 159h1.1M972 138h1.1M1043 185h1.1M1006 238h1.1M1098 199h1.1M1086 171h1.1M1160 197h1.1M1059 197h1.1M1095 125h1.1M1025 201h1.1M1009 217h1.1M910 164h1.1M897 142h1.1M994 203h1.1M1005 97h1.1M1114 204h1.1M990 79h1.1M1116 137h1.1M1126 207h1.1M1029 148h1.1M1041 221h1.1M1154 163h1.1M1023 99h1.1M962 88h1.1M1148 147h1.1M908 162h1.1M1028 125h1.1M1077 112h1.1M1015 127h1.1M1080 191h1.1M1079 186h1.1M1059 190h1.1M1000 92h1.1M1019 134h1.1M934 126h1.1M1061 160h1.1M1134 207h1.1M942 137h1.1M1021 149h1.1M1112 171h1.1M1018 173h1.1M1064 107h1.1M1083 135h1.1M1111 171h1.1M1105 130h1.1M1035 216h1.1M1009 110h1.1M1133 210h1.1M1120 165h1.1M975 150h1.1M1032 124h1.1M1085 178h1.1M1001 161h1.1M1031 215h1.1M1153 166h1.1M906 130h1.1M1132 137h1.1M1099 115h1.1M1112 192h1.1M893 162h1.1M949 143h1.1M970 130h1.1M1029 206h1.1M1116 159h1.1M1066 180h1.1M1067 215h1.1M978 137h1.1M1044 215h1.1M988 194h1.1M978 155h1.1M1103 128h1.1M935 109h1.1M1089 156h1.1M1111 124h1.1M1106 203h1.1M1099 129h1.1M1057 102h1.1M1087 115h1.1M1152 173h1.1M1138 198h1.1M1004 172h1.1M1012 104h1.1M885 121h1.1M898 146h1.1M1102 138h1.1M1024 212h1.1M1013 209h1.1M1127 186h1.1M1061 188h1.1M940 139h1.1M1035 182h1.1M1120 120h1.1M1113 204h1.1M884 178h1.1M1002 198h1.1M1033 182h1.1M1075 203h1.1M1055 115h1.1M1106 197h1.1M1019 111h1.1M998 181h1.1M935 189h1.1M1119 182h1.1M1091 200h1.1M1115 162h1.1M1051 224h1.1M1052 197h1.1M1126 179h1.1M872 144h1.1M1043 166h1.1M1054 128h1.1M937 191h1.1M1051 125h1.1M1133 191h1.1M1079 199h1.1M1097 130h1.1M1069 210h1.1M1066 187h1.1M915 147h1.1M1148 156h1.1M1077 205h1.1M1066 216h1.1M1021 173h1.1M876 120h1.1M1070 136h1.1M1127 153h1.1M1005 172h1.1M987 184h1.1M1012 81h1.1M1098 135h1.1M909 182h1.1M1113 140h1.1M1080 188h1.1M1145 201h1.1M1056 158h1.1M1007 155h1.1M962 224h1.1M967 165h1.1M1003 186h1.1M1062 184h1.1M1046 145h1.1M1150 206h1.1M1041 214h1.1M952 185h1.1M1066 191h1.1M912 167h1.1M1137 209h1.1M995 164h1.1M1063 151h1.1M1144 199h1.1M1036 135h1.1M1099 192h1.1M1052 164h1.1M1144 211h1.1M923 111h1.1M937 146h1.1M1037 188h1.1M1098 167h1.1M1109 124h1.1M978 150h1.1M975 182h1.1M1012 148h1.1M1131 141h1.1M1149 167h1.1M1072 166h1.1M1108 184h1.1M1013 194h1.1M1030 219h1.1M1049 161h1.1M1141 145h1.1M1064 211h1.1M898 130h1.1M917 187h1.1M1140 196h1.1M1114 148h1.1M1001 135h1.1M1006 177h1.1M995 228h1.1M1035 149h1.1M917 186h1.1M1011 164h1.1M962 87h1.1M998 227h1.1M1060 186h1.1M1032 107h1.1M1044 115h1.1M1079 163h1.1M1023 226h1.1M936 232h1.1M1015 170h1.1M1155 177h1.1M1099 202h1.1M958 206h1.1M1051 200h1.1M1095 176h1.1M1126 182h1.1M1007 88h1.1M974 202h1.1M935 166h1.1M1027 128h1.1M1068 185h1.1M947 236h1.1M1027 215h1.1M1095 153h1.1M1104 146h1.1M1060 122h1.1M1138 155h1.1M999 143h1.1M1113 218h1.1M883 115h1.1M888 149h1.1M976 205h1.1M1143 203h1.1M986 117h1.1M1071 109h1.1M1153 199h1.1M1088 120h1.1M1110 219h1.1M1077 112h1.1M1122 199h1.1M896 190h1.1M1118 125h1.1M1100 211h1.1M1093 198h1.1M1008 140h1.1M1102 139h1.1M1096 141h1.1M1057 162h1.1M1150 179h1.1M1037 231h1.1M904 92h1.1M958 177h1.1M1048 148h1.1M1141 185h1.1M1025 161h1.1M1069 193h1.1M1096 205h1.1M995 190h1.1M983 194h1.1M1043 150h1.1M1104 133h1.1M971 79h1.1M993 151h1.1M968 226h1.1M1100 131h1.1M1103 199h1.1M1024 176h1.1M1122 163h1.1M1059 143h1.1M942 81h1.1M954 171h1.1M908 213h1.1M1001 226h1.1M1053 189h1.1M997 132h1.1M1075 185h1.1M1099 161h1.1M1078 129h1.1M1072 175h1.1M1122 185h1.1M1065 207h1.1M1075 154h1.1M1048 177h1.1M976 171h1.1M953 168h1.1M1034 151h1.1M1095 187h1.1M1071 197h1.1M998 218h1.1M1078 124h1.1M1113 135h1.1M1102 184h1.1M1008 135h1.1M1085 171h1.1M1058 115h1.1M1100 197h1.1M1108 125h1.1M1076 199h1.1M951 141h1.1M990 78h1.1M1034 174h1.1M1160 170h1.1M897 211h1.1M1089 166h1.1M1038 151h1.1M1072 144h1.1M947 173h1.1M1109 189h1.1M1027 93h1.1M1018 139h1.1M1107 123h1.1M1078 156h1.1M1140 143h1.1M988 212h1.1M1072 165h1.1M962 227h1.1M1006 114h1.1M874 119h1.1M1010 116h1.1M1041 159h1.1M1098 148h1.1M1086 140h1.1M928 233h1.1M1098 148h1.1M1113 163h1.1M915 90h1.1M1050 159h1.1M1045 196h1.1M941 238h1.1M1104 134h1.1M1033 123h1.1M1126 163h1.1M1146 173h1.1M1111 187h1.1M1069 182h1.1M1009 84h1.1M1087 123h1.1M1143 208h1.1M1036 154h1.1M1073 140h1.1M1028 162h1.1M924 205h1.1M1084 143h1.1M1007 129h1.1M968 174h1.1M1065 134h1.1M1035 132h1.1M1046 228h1.1M1117 159h1.1M946 167h1.1M965 169h1.1M1056 179h1.1M1115 137h1.1M925 156h1.1M1061 160h1.1M1038 151h1.1M1100 211h1.1M1068 175h1.1M918 89h1.1M938 154h1.1M996 165h1.1M945 193h1.1M1083 154h1.1M929 189h1.1M1073 197h1.1M1011 163h1.1M1033 171h1.1M948 200h1.1M959 131h1.1M1043 163h1.1M1078 179h1.1M1021 183h1.1M1138 172h1.1M935 223h1.1M927 166h1.1M1080 132h1.1M976 104h1.1M1037 113h1.1M1038 178h1.1M1000 200h1.1M1011 117h1.1M1068 141h1.1M1061 148h1.1M1007 223h1.1M1024 189h1.1M1009 191h1.1M1026 186h1.1M1105 208h1.1M1100 144h1.1M1103 217h1.1M1101 173h1.1M1045 197h1.1M1164 211h1.1M1105 206h1.1M971 195h1.1M1066 203h1.1M956 219h1.1M1076 179h1.1M1013 178h1.1M1105 198h1.1M1059 149h1.1M1116 192h1.1M1094 160h1.1M1054 165h1.1M1141 175h1.1M939 187h1.1M973 169h1.1M1100 167h1.1M1140 198h1.1M1084 150h1.1M1088 130h1.1M1039 147h1.1M1049 100h1.1M1106 105h1.1M1068 201h1.1M1114 118h1.1M1013 145h1.1M999 193h1.1M877 181h1.1M1105 150h1.1M1093 218h1.1M887 112h1.1M1026 222h1.1M907 172h1.1M1072 165h1.1M992 113h1.1M1138 159h1.1M913 178h1.1M978 232h1.1M899 119h1.1M952 155h1.1M1162 198h1.1M899 103h1.1M1098 107h1.1M1133 156h1.1M991 214h1.1M1012 116h1.1M932 115h1.1M1056 137h1.1M1133 182h1.1M1065 201h1.1M1046 132h1.1M960 230h1.1M1121 177h1.1M1122 188h1.1M1032 129h1.1M1115 179h1.1M966 192h1.1M1147 200h1.1M1107 104h1.1M1013 141h1.1M1135 200h1.1M1079 220h1.1M1105 183h1.1M942 206h1.1M1033 112h1.1M1066 125h1.1M893 150h1.1M1065 161h1.1M1031 124h1.1M1009 105h1.1M955 143h1.1M1104 136h1.1M1046 110h1.1M1122 172h1.1M1104 108h1.1M1022 166h1.1M892 173h1.1M1091 158h1.1M1103 165h1.1M1111 201h1.1M1040 180h1.1M1036 178h1.1M1122 203h1.1M951 99h1.1M1076 114h1.1M896 125h1.1M1099 169h1.1M1036 170h1.1M953 176h1.1M1131 150h1.1M1037 192h1.1M1087 164h1.1M983 217h1.1M1022 207h1.1M1105 126h1.1M1060 124h1.1M1051 159h1.1M960 106h1.1M1110 155h1.1M978 132h1.1M1058 164h1.1M1002 201h1.1M1040 180h1.1M1119 120h1.1M903 208h1.1M882 112h1.1M950 242h1.1M1116 141h1.1M1060 182h1.1M935 202h1.1M1122 141h1.1M996 84h1.1M1144 160h1.1M986 134h1.1M1089 210h1.1M1038 202h1.1M1122 120h1.1M1093 211h1.1" fill="none" stroke="#307dbd" stroke-width="3.3" stroke-linecap="round"/>
<path d="M1031 206h1.1M1009 120h1.1M934 174h1.1M971 144h1.1M1106 174h1.1M891 112h1.1M927 122h1.1M938 91h1.1M1141 130h1.1M916 124h1.1M1115 219h1.1M1110 140h1.1M1152 206h1.1M1081 98h1.1M1115 182h1.1M925 153h1.1M1054 114h1.1M1046 101h1.1M891 86h1.1M1013 165h1.1M1001 158h1.1M912 76h1.1M916 212h1.1M964 239h1.1M1119 217h1.1M1026 233h1.1M1104 128h1.1M1031 205h1.1M997 219h1.1M1032 195h1.1M874 166h1.1M931 99h1.1M897 194h1.1M1014 143h1.1M1039 227h1.1M1077 227h1.1M1107 91h1.1M915 230h1.1M957 182h1.1M980 217h1.1M886 212h1.1M1000 192h1.1M1009 148h1.1M926 197h1.1M938 97h1.1M1142 219h1.1M1024 127h1.1M1082 213h1.1M976 180h1.1M1009 115h1.1M973 245h1.1M1093 129h1.1M938 221h1.1M873 141h1.1M1095 102h1.1M1141 197h1.1M980 177h1.1M930 198h1.1M1132 192h1.1M1167 195h1.1M1014 237h1.1M950 168h1.1M1047 198h1.1M1006 182h1.1M1057 162h1.1M950 94h1.1M1161 195h1.1M1133 167h1.1M881 113h1.1M1128 219h1.1M1105 149h1.1M1125 172h1.1M1006 112h1.1M1076 159h1.1M1140 198h1.1M882 158h1.1M881 136h1.1M1062 113h1.1M892 91h1.1M879 207h1.1M971 115h1.1M926 201h1.1M1075 155h1.1M1065 113h1.1M1079 112h1.1M1138 209h1.1M999 150h1.1M870 173h1.1M899 215h1.1M917 145h1.1M897 156h1.1M1016 186h1.1M1042 181h1.1M1090 204h1.1M1103 116h1.1M952 112h1.1M1035 191h1.1M1129 123h1.1M1088 191h1.1M1029 141h1.1M915 149h1.1M963 77h1.1M874 104h1.1M1010 188h1.1M911 233h1.1M1040 216h1.1M1026 80h1.1M961 129h1.1M966 164h1.1M1127 179h1.1M1055 157h1.1M936 193h1.1M1026 153h1.1M932 228h1.1M1075 153h1.1M968 240h1.1M991 201h1.1M1092 142h1.1M1095 132h1.1M981 81h1.1M889 220h1.1M1047 143h1.1M1075 194h1.1M949 135h1.1M1008 122h1.1M968 158h1.1M1158 199h1.1M964 127h1.1M1053 219h1.1M1092 121h1.1M914 106h1.1M904 188h1.1M1038 167h1.1M973 132h1.1M888 108h1.1M1137 223h1.1M1044 149h1.1M910 227h1.1M918 186h1.1M1066 200h1.1M909 225h1.1M952 178h1.1M985 165h1.1M1073 233h1.1M929 96h1.1M978 123h1.1M1099 122h1.1M1090 193h1.1M1051 161h1.1M1161 217h1.1M1043 103h1.1M978 171h1.1M1082 153h1.1M1097 116h1.1M997 169h1.1M906 146h1.1M1049 221h1.1M1070 200h1.1M1119 158h1.1M1129 192h1.1M899 167h1.1M1091 164h1.1M1093 138h1.1M1013 75h1.1M1082 121h1.1M928 84h1.1M953 185h1.1M1031 146h1.1M960 80h1.1M1080 169h1.1M960 162h1.1M1022 228h1.1M968 238h1.1M1096 196h1.1M1075 180h1.1M1101 117h1.1M1056 120h1.1M1097 225h1.1M1042 199h1.1M1039 144h1.1M1014 193h1.1M921 102h1.1M982 222h1.1M955 130h1.1M923 143h1.1M939 71h1.1M1101 104h1.1M1125 189h1.1M886 195h1.1M886 165h1.1M1089 200h1.1M1138 191h1.1M1114 161h1.1M1065 224h1.1M872 142h1.1M1077 135h1.1M1070 173h1.1M977 69h1.1M1046 176h1.1M902 125h1.1" fill="none" stroke="#307dbd" stroke-width="3.3" stroke-linecap="round"/>
<path d="M1023 154h1.1M874 171h1.1M1048 194h1.1M871 197h1.1M1059 165h1.1M979 193h1.1M1067 155h1.1M1033 152h1.1M921 239h1.1M949 202h1.1M910 153h1.1M1146 195h1.1M887 91h1.1M979 124h1.1M928 183h1.1M1031 107h1.1M1064 171h1.1M1120 105h1.1M908 242h1.1M975 212h1.1M1008 92h1.1M978 93h1.1M1159 207h1.1M929 196h1.1M1150 173h1.1M953 147h1.1M951 117h1.1M899 120h1.1M1109 168h1.1M868 133h1.1M1081 204h1.1M1141 137h1.1M935 120h1.1M923 171h1.1M966 223h1.1M906 231h1.1M1101 147h1.1M1108 169h1.1M1004 171h1.1M862 133h1.1M1083 107h1.1M979 154h1.1M993 224h1.1M939 209h1.1M1094 210h1.1M967 168h1.1M914 77h1.1M1101 114h1.1M1039 199h1.1M938 182h1.1M1098 165h1.1M1132 221h1.1M1108 196h1.1M1001 198h1.1M1026 233h1.1M965 196h1.1M978 79h1.1M1100 148h1.1M1019 132h1.1M1167 203h1.1M949 234h1.1M1064 149h1.1M1027 217h1.1M962 127h1.1M930 134h1.1M981 77h1.1M919 215h1.1M929 113h1.1M1004 100h1.1M937 229h1.1" fill="none" stroke="#f4a325" stroke-width="3.3" stroke-linecap="round"/>
</g>
<rect x="854.7" y="13.0" width="324.0" height="283.3" fill="none" stroke="#000" stroke-width="2.8"/>
<line x1="866.2" y1="296" x2="866.2" y2="301" stroke="#000" stroke-width="2.6"/>
<text x="855.2" y="319.7" font-size="21" text-anchor="middle">-3.0</text>
<line x1="904.7" y1="296" x2="904.7" y2="301" stroke="#000" stroke-width="2.6"/>
<text x="896.7" y="319.7" font-size="21" text-anchor="middle">-2.0</text>
<line x1="943.3" y1="296" x2="943.3" y2="301" stroke="#000" stroke-width="2.6"/>
<text x="938.6" y="319.7" font-size="21" text-anchor="middle">-1.0</text>
<line x1="982.2" y1="296" x2="982.2" y2="301" stroke="#000" stroke-width="2.6"/>
<text x="983.3" y="319.7" font-size="21" text-anchor="middle">0.0</text>
<line x1="1020.8" y1="296" x2="1020.8" y2="301" stroke="#000" stroke-width="2.6"/>
<text x="1023.9" y="319.7" font-size="21" text-anchor="middle">1.0</text>
<line x1="1059.7" y1="296" x2="1059.7" y2="301" stroke="#000" stroke-width="2.6"/>
<text x="1064.4" y="319.7" font-size="21" text-anchor="middle">2.0</text>
<line x1="1098.3" y1="296" x2="1098.3" y2="301" stroke="#000" stroke-width="2.6"/>
<text x="1105.2" y="319.7" font-size="21" text-anchor="middle">3.0</text>
<line x1="1137.2" y1="296" x2="1137.2" y2="301" stroke="#000" stroke-width="2.6"/>
<text x="1145.8" y="319.7" font-size="21" text-anchor="middle">4.0</text>
<line x1="1175.8" y1="296" x2="1175.8" y2="301" stroke="#000" stroke-width="2.6"/>
<text x="1187.0" y="319.7" font-size="21" text-anchor="middle">5.0</text>
<line x1="848.7" y1="13.0" x2="854.7" y2="13.0" stroke="#000" stroke-width="2.6"/>
<text x="847.8" y="20.3" font-size="21" text-anchor="end">6.0</text>
<line x1="848.7" y1="64.7" x2="854.7" y2="64.7" stroke="#000" stroke-width="2.6"/>
<text x="847.8" y="72.0" font-size="21" text-anchor="end">4.0</text>
<line x1="848.7" y1="116.4" x2="854.7" y2="116.4" stroke="#000" stroke-width="2.6"/>
<text x="847.8" y="123.7" font-size="21" text-anchor="end">2.0</text>
<line x1="848.7" y1="168.1" x2="854.7" y2="168.1" stroke="#000" stroke-width="2.6"/>
<text x="847.8" y="175.4" font-size="21" text-anchor="end">0.0</text>
<line x1="848.7" y1="219.8" x2="854.7" y2="219.8" stroke="#000" stroke-width="2.6"/>
<text x="847.8" y="227.1" font-size="21" text-anchor="end">-2.0</text>
<line x1="848.7" y1="271.5" x2="854.7" y2="271.5" stroke="#000" stroke-width="2.6"/>
<text x="847.8" y="278.8" font-size="21" text-anchor="end">-4.0</text>
<text x="1025.0" y="349.9" font-size="21" text-anchor="middle">PC1</text>
<text x="0" y="0" font-size="21" text-anchor="middle" transform="translate(811.4,148) rotate(-90)">PC2</text>
<text x="991.0" y="34.8" font-size="13.8" text-anchor="start">MACCS</text>
<circle cx="1071.2" cy="29.200000000000003" r="4.2" fill="#5b9bd5" stroke="#3f86c8" stroke-width="0.8"/>
<circle cx="1071.2" cy="48.400000000000006" r="4.2" fill="#f2a22a"/>
<text x="1082.2" y="32.1" font-size="13.8" text-anchor="start">Training set</text>
<text x="1082.2" y="52.1" font-size="13.8" text-anchor="start">Test set</text>
<text x="-1.5" y="404.2" font-size="36.5" text-anchor="start">B</text>
<polyline points="96.3,428.4 150.5,429.5 203.9,430.6 257.5,429.5 310.9,431.7 364.7,484.9" fill="none" stroke="#2b7bb9" stroke-width="2.7" stroke-linejoin="round"/>
<rect x="93.1" y="425.2" width="6.4" height="6.4" fill="#2b7bb9"/>
<rect x="147.3" y="426.3" width="6.4" height="6.4" fill="#2b7bb9"/>
<rect x="200.7" y="427.4" width="6.4" height="6.4" fill="#2b7bb9"/>
<rect x="254.3" y="426.3" width="6.4" height="6.4" fill="#2b7bb9"/>
<rect x="307.7" y="428.5" width="6.4" height="6.4" fill="#2b7bb9"/>
<rect x="361.5" y="481.7" width="6.4" height="6.4" fill="#2b7bb9"/>
<polyline points="96.3,431.7 150.5,433.8 203.9,436.0 257.5,434.9 310.9,428.4 364.7,451.2" fill="none" stroke="#f2a230" stroke-width="2.7" stroke-linejoin="round"/>
<circle cx="96.3" cy="431.7" r="3.9" fill="#f2a230"/>
<circle cx="150.5" cy="433.8" r="3.9" fill="#f2a230"/>
<circle cx="203.9" cy="436.0" r="3.9" fill="#f2a230"/>
<circle cx="257.5" cy="434.9" r="3.9" fill="#f2a230"/>
<circle cx="310.9" cy="428.4" r="3.9" fill="#f2a230"/>
<circle cx="364.7" cy="451.2" r="3.9" fill="#f2a230"/>
<polyline points="96.3,441.4 150.5,438.2 203.9,451.2 257.5,459.9 310.9,442.5 364.7,545.7" fill="none" stroke="#cf82f7" stroke-width="2.7" stroke-linejoin="round"/>
<path d="M96.3 436.6L100.6 444.0L92.0 444.0Z" fill="#cf82f7"/>
<path d="M150.5 433.4L154.8 440.8L146.2 440.8Z" fill="#cf82f7"/>
<path d="M203.9 446.4L208.2 453.8L199.6 453.8Z" fill="#cf82f7"/>
<path d="M257.5 455.1L261.8 462.5L253.2 462.5Z" fill="#cf82f7"/>
<path d="M310.9 437.7L315.2 445.1L306.6 445.1Z" fill="#cf82f7"/>
<path d="M364.7 540.9L369.0 548.3L360.4 548.3Z" fill="#cf82f7"/>
<rect x="70.2" y="388.6" width="322.1" height="249.60000000000002" fill="none" stroke="#000" stroke-width="2.1"/>
<line x1="64.7" y1="638.1" x2="70.2" y2="638.1" stroke="#000" stroke-width="1.9"/>
<text x="61.9" y="645.7" font-size="21.7" text-anchor="end">0.80</text>
<line x1="67.2" y1="616.4" x2="70.2" y2="616.4" stroke="#000" stroke-width="1.9"/>
<line x1="64.7" y1="594.6" x2="70.2" y2="594.6" stroke="#000" stroke-width="1.9"/>
<text x="61.9" y="602.2" font-size="21.7" text-anchor="end">0.84</text>
<line x1="67.2" y1="572.9" x2="70.2" y2="572.9" stroke="#000" stroke-width="1.9"/>
<line x1="64.7" y1="551.2" x2="70.2" y2="551.2" stroke="#000" stroke-width="1.9"/>
<text x="61.9" y="558.8" font-size="21.7" text-anchor="end">0.88</text>
<line x1="67.2" y1="529.5" x2="70.2" y2="529.5" stroke="#000" stroke-width="1.9"/>
<line x1="64.7" y1="507.7" x2="70.2" y2="507.7" stroke="#000" stroke-width="1.9"/>
<text x="61.9" y="515.3" font-size="21.7" text-anchor="end">0.92</text>
<line x1="67.2" y1="486.0" x2="70.2" y2="486.0" stroke="#000" stroke-width="1.9"/>
<line x1="64.7" y1="464.3" x2="70.2" y2="464.3" stroke="#000" stroke-width="1.9"/>
<text x="61.9" y="471.9" font-size="21.7" text-anchor="end">0.96</text>
<line x1="67.2" y1="442.5" x2="70.2" y2="442.5" stroke="#000" stroke-width="1.9"/>
<line x1="64.7" y1="420.8" x2="70.2" y2="420.8" stroke="#000" stroke-width="1.9"/>
<text x="61.9" y="428.4" font-size="21.7" text-anchor="end">1.00</text>
<line x1="67.2" y1="399.1" x2="70.2" y2="399.1" stroke="#000" stroke-width="1.9"/>
<line x1="96.3" y1="638.2" x2="96.3" y2="633.2" stroke="#000" stroke-width="1.9"/>
<line x1="123.4" y1="638.2" x2="123.4" y2="635.5" stroke="#000" stroke-width="1.9"/>
<text x="90.2" y="663.4" font-size="21" text-anchor="middle">DNN</text>
<line x1="150.5" y1="638.2" x2="150.5" y2="633.2" stroke="#000" stroke-width="1.9"/>
<line x1="177.2" y1="638.2" x2="177.2" y2="635.5" stroke="#000" stroke-width="1.9"/>
<text x="152.7" y="663.4" font-size="21" text-anchor="middle">SVM</text>
<line x1="203.9" y1="638.2" x2="203.9" y2="633.2" stroke="#000" stroke-width="1.9"/>
<line x1="230.7" y1="638.2" x2="230.7" y2="635.5" stroke="#000" stroke-width="1.9"/>
<text x="210.2" y="663.4" font-size="21" text-anchor="middle">KNN</text>
<line x1="257.5" y1="638.2" x2="257.5" y2="633.2" stroke="#000" stroke-width="1.9"/>
<line x1="284.2" y1="638.2" x2="284.2" y2="635.5" stroke="#000" stroke-width="1.9"/>
<text x="264.8" y="663.4" font-size="21" text-anchor="middle">LR</text>
<line x1="310.9" y1="638.2" x2="310.9" y2="633.2" stroke="#000" stroke-width="1.9"/>
<line x1="337.8" y1="638.2" x2="337.8" y2="635.5" stroke="#000" stroke-width="1.9"/>
<text x="315.4" y="663.4" font-size="21" text-anchor="middle">RF</text>
<line x1="364.7" y1="638.2" x2="364.7" y2="633.2" stroke="#000" stroke-width="1.9"/>
<text x="372.8" y="663.4" font-size="21" text-anchor="middle">DT</text>
<text x="86.7" y="581.5" font-size="21" text-anchor="start">F1 Score</text>
<line x1="87.3" y1="599.9" x2="121.6" y2="599.9" stroke="#2b7bb9" stroke-width="2.3" stroke-linecap="round"/>
<rect x="101.4" y="596.9" width="6" height="6" fill="#2b7bb9"/>
<text x="86.1" y="623.8" font-size="16.3" text-anchor="start">ECFP4</text>
<line x1="158.6" y1="599.9" x2="192.9" y2="599.9" stroke="#f2a230" stroke-width="2.3" stroke-linecap="round"/>
<circle cx="175.7" cy="599.9" r="3.6" fill="#f2a230"/>
<text x="156.4" y="623.8" font-size="16.3" text-anchor="start">RDK</text>
<line x1="230.5" y1="599.9" x2="264.8" y2="599.9" stroke="#cf82f7" stroke-width="2.3" stroke-linecap="round"/>
<path d="M247.6 595.3L251.79999999999998 602.3L243.4 602.3Z" fill="#cf82f7"/>
<text x="227.9" y="623.8" font-size="16.3" text-anchor="start">MACCS</text>
<polyline points="488.2,436.1 542.0,438.8 595.9,439.7 649.2,439.7 703.0,439.7 756.5,501.5" fill="none" stroke="#2b7bb9" stroke-width="2.7" stroke-linejoin="round"/>
<rect x="485.0" y="432.9" width="6.4" height="6.4" fill="#2b7bb9"/>
<rect x="538.8" y="435.6" width="6.4" height="6.4" fill="#2b7bb9"/>
<rect x="592.7" y="436.5" width="6.4" height="6.4" fill="#2b7bb9"/>
<rect x="646.0" y="436.5" width="6.4" height="6.4" fill="#2b7bb9"/>
<rect x="699.8" y="436.5" width="6.4" height="6.4" fill="#2b7bb9"/>
<rect x="753.3" y="498.3" width="6.4" height="6.4" fill="#2b7bb9"/>
<polyline points="488.2,440.7 542.0,442.5 595.9,451.7 649.2,444.4 703.0,437.0 756.5,496.9" fill="none" stroke="#f2a230" stroke-width="2.7" stroke-linejoin="round"/>
<circle cx="488.2" cy="440.7" r="3.9" fill="#f2a230"/>
<circle cx="542.0" cy="442.5" r="3.9" fill="#f2a230"/>
<circle cx="595.9" cy="451.7" r="3.9" fill="#f2a230"/>
<circle cx="649.2" cy="444.4" r="3.9" fill="#f2a230"/>
<circle cx="703.0" cy="437.0" r="3.9" fill="#f2a230"/>
<circle cx="756.5" cy="496.9" r="3.9" fill="#f2a230"/>
<polyline points="488.2,462.8 542.0,465.6 595.9,491.4 649.2,490.5 703.0,449.0 756.5,612.2" fill="none" stroke="#cf82f7" stroke-width="2.7" stroke-linejoin="round"/>
<path d="M488.2 458.0L492.5 465.4L483.9 465.4Z" fill="#cf82f7"/>
<path d="M542.0 460.8L546.3 468.2L537.7 468.2Z" fill="#cf82f7"/>
<path d="M595.9 486.6L600.2 494.0L591.6 494.0Z" fill="#cf82f7"/>
<path d="M649.2 485.7L653.5 493.1L644.9 493.1Z" fill="#cf82f7"/>
<path d="M703.0 444.2L707.3 451.6L698.7 451.6Z" fill="#cf82f7"/>
<path d="M756.5 607.4L760.8 614.8L752.2 614.8Z" fill="#cf82f7"/>
<rect x="461.7" y="389.6" width="322.3" height="250.0" fill="none" stroke="#000" stroke-width="2.1"/>
<line x1="456.2" y1="639.0" x2="461.7" y2="639.0" stroke="#000" stroke-width="1.9"/>
<text x="453.4" y="646.6" font-size="21.7" text-anchor="end">0.76</text>
<line x1="458.7" y1="620.5" x2="461.7" y2="620.5" stroke="#000" stroke-width="1.9"/>
<line x1="456.2" y1="602.1" x2="461.7" y2="602.1" stroke="#000" stroke-width="1.9"/>
<text x="453.4" y="609.7" font-size="21.7" text-anchor="end">0.80</text>
<line x1="458.7" y1="583.7" x2="461.7" y2="583.7" stroke="#000" stroke-width="1.9"/>
<line x1="456.2" y1="565.2" x2="461.7" y2="565.2" stroke="#000" stroke-width="1.9"/>
<text x="453.4" y="572.8" font-size="21.7" text-anchor="end">0.84</text>
<line x1="458.7" y1="546.8" x2="461.7" y2="546.8" stroke="#000" stroke-width="1.9"/>
<line x1="456.2" y1="528.3" x2="461.7" y2="528.3" stroke="#000" stroke-width="1.9"/>
<text x="453.4" y="535.9" font-size="21.7" text-anchor="end">0.88</text>
<line x1="458.7" y1="509.9" x2="461.7" y2="509.9" stroke="#000" stroke-width="1.9"/>
<line x1="456.2" y1="491.4" x2="461.7" y2="491.4" stroke="#000" stroke-width="1.9"/>
<text x="453.4" y="499.0" font-size="21.7" text-anchor="end">0.92</text>
<line x1="458.7" y1="473.0" x2="461.7" y2="473.0" stroke="#000" stroke-width="1.9"/>
<line x1="456.2" y1="454.5" x2="461.7" y2="454.5" stroke="#000" stroke-width="1.9"/>
<text x="453.4" y="462.1" font-size="21.7" text-anchor="end">0.96</text>
<line x1="458.7" y1="436.1" x2="461.7" y2="436.1" stroke="#000" stroke-width="1.9"/>
<line x1="456.2" y1="417.6" x2="461.7" y2="417.6" stroke="#000" stroke-width="1.9"/>
<text x="453.4" y="425.2" font-size="21.7" text-anchor="end">1.00</text>
<line x1="458.7" y1="399.1" x2="461.7" y2="399.1" stroke="#000" stroke-width="1.9"/>
<line x1="488.2" y1="639.6" x2="488.2" y2="634.6" stroke="#000" stroke-width="1.9"/>
<line x1="515.1" y1="639.6" x2="515.1" y2="636.9" stroke="#000" stroke-width="1.9"/>
<text x="482.9" y="663.4" font-size="21" text-anchor="middle">DNN</text>
<line x1="542.0" y1="639.6" x2="542.0" y2="634.6" stroke="#000" stroke-width="1.9"/>
<line x1="569.0" y1="639.6" x2="569.0" y2="636.9" stroke="#000" stroke-width="1.9"/>
<text x="545.0" y="663.4" font-size="21" text-anchor="middle">SVM</text>
<line x1="595.9" y1="639.6" x2="595.9" y2="634.6" stroke="#000" stroke-width="1.9"/>
<line x1="622.5" y1="639.6" x2="622.5" y2="636.9" stroke="#000" stroke-width="1.9"/>
<text x="602.3" y="663.4" font-size="21" text-anchor="middle">KNN</text>
<line x1="649.2" y1="639.6" x2="649.2" y2="634.6" stroke="#000" stroke-width="1.9"/>
<line x1="676.1" y1="639.6" x2="676.1" y2="636.9" stroke="#000" stroke-width="1.9"/>
<text x="657.0" y="663.4" font-size="21" text-anchor="middle">LR</text>
<line x1="703.0" y1="639.6" x2="703.0" y2="634.6" stroke="#000" stroke-width="1.9"/>
<line x1="729.8" y1="639.6" x2="729.8" y2="636.9" stroke="#000" stroke-width="1.9"/>
<text x="707.8" y="663.4" font-size="21" text-anchor="middle">RF</text>
<line x1="756.5" y1="639.6" x2="756.5" y2="634.6" stroke="#000" stroke-width="1.9"/>
<text x="759.5" y="663.4" font-size="21" text-anchor="middle">DT</text>
<text x="482.4" y="581.5" font-size="21" text-anchor="start">Mcc</text>
<line x1="479.2" y1="601.2" x2="513.5" y2="601.2" stroke="#2b7bb9" stroke-width="2.3" stroke-linecap="round"/>
<rect x="493.3" y="598.2" width="6" height="6" fill="#2b7bb9"/>
<text x="481.8" y="623.8" font-size="16.3" text-anchor="start">ECFP4</text>
<line x1="550.5" y1="601.2" x2="584.8" y2="601.2" stroke="#f2a230" stroke-width="2.3" stroke-linecap="round"/>
<circle cx="567.6" cy="601.2" r="3.6" fill="#f2a230"/>
<text x="552.2" y="623.8" font-size="16.3" text-anchor="start">RDK</text>
<line x1="622.4" y1="601.2" x2="656.7" y2="601.2" stroke="#cf82f7" stroke-width="2.3" stroke-linecap="round"/>
<path d="M639.5 596.6L643.7 603.6L635.3 603.6Z" fill="#cf82f7"/>
<text x="623.7" y="623.8" font-size="16.3" text-anchor="start">MACCS</text>
<polyline points="882.7,430.7 936.7,432.5 990.3,433.5 1043.8,433.5 1097.4,432.5 1151.1,482.5" fill="none" stroke="#2b7bb9" stroke-width="2.7" stroke-linejoin="round"/>
<rect x="879.5" y="427.5" width="6.4" height="6.4" fill="#2b7bb9"/>
<rect x="933.5" y="429.3" width="6.4" height="6.4" fill="#2b7bb9"/>
<rect x="987.1" y="430.3" width="6.4" height="6.4" fill="#2b7bb9"/>
<rect x="1040.6" y="430.3" width="6.4" height="6.4" fill="#2b7bb9"/>
<rect x="1094.2" y="429.3" width="6.4" height="6.4" fill="#2b7bb9"/>
<rect x="1147.9" y="479.3" width="6.4" height="6.4" fill="#2b7bb9"/>
<polyline points="882.7,433.5 936.7,435.3 990.3,442.7 1043.8,437.2 1097.4,431.6 1151.1,476.9" fill="none" stroke="#f2a230" stroke-width="2.7" stroke-linejoin="round"/>
<circle cx="882.7" cy="433.5" r="3.9" fill="#f2a230"/>
<circle cx="936.7" cy="435.3" r="3.9" fill="#f2a230"/>
<circle cx="990.3" cy="442.7" r="3.9" fill="#f2a230"/>
<circle cx="1043.8" cy="437.2" r="3.9" fill="#f2a230"/>
<circle cx="1097.4" cy="431.6" r="3.9" fill="#f2a230"/>
<circle cx="1151.1" cy="476.9" r="3.9" fill="#f2a230"/>
<polyline points="882.7,451.0 936.7,453.8 990.3,473.2 1043.8,472.3 1097.4,440.9 1151.1,566.7" fill="none" stroke="#cf82f7" stroke-width="2.7" stroke-linejoin="round"/>
<path d="M882.7 446.2L887.0 453.6L878.4 453.6Z" fill="#cf82f7"/>
<path d="M936.7 449.0L941.0 456.4L932.4 456.4Z" fill="#cf82f7"/>
<path d="M990.3 468.4L994.6 475.8L986.0 475.8Z" fill="#cf82f7"/>
<path d="M1043.8 467.5L1048.1 474.9L1039.5 474.9Z" fill="#cf82f7"/>
<path d="M1097.4 436.1L1101.7 443.5L1093.1 443.5Z" fill="#cf82f7"/>
<path d="M1151.1 561.9L1155.4 569.3L1146.8 569.3Z" fill="#cf82f7"/>
<rect x="856.2" y="389.6" width="322.70000000000005" height="249.79999999999995" fill="none" stroke="#000" stroke-width="2.1"/>
<line x1="850.7" y1="638.8" x2="856.2" y2="638.8" stroke="#000" stroke-width="1.9"/>
<text x="847.9" y="646.4" font-size="21.7" text-anchor="end">0.76</text>
<line x1="853.2" y1="620.3" x2="856.2" y2="620.3" stroke="#000" stroke-width="1.9"/>
<line x1="850.7" y1="601.8" x2="856.2" y2="601.8" stroke="#000" stroke-width="1.9"/>
<text x="847.9" y="609.4" font-size="21.7" text-anchor="end">0.80</text>
<line x1="853.2" y1="583.3" x2="856.2" y2="583.3" stroke="#000" stroke-width="1.9"/>
<line x1="850.7" y1="564.8" x2="856.2" y2="564.8" stroke="#000" stroke-width="1.9"/>
<text x="847.9" y="572.4" font-size="21.7" text-anchor="end">0.84</text>
<line x1="853.2" y1="546.3" x2="856.2" y2="546.3" stroke="#000" stroke-width="1.9"/>
<line x1="850.7" y1="527.8" x2="856.2" y2="527.8" stroke="#000" stroke-width="1.9"/>
<text x="847.9" y="535.4" font-size="21.7" text-anchor="end">0.88</text>
<line x1="853.2" y1="509.3" x2="856.2" y2="509.3" stroke="#000" stroke-width="1.9"/>
<line x1="850.7" y1="490.8" x2="856.2" y2="490.8" stroke="#000" stroke-width="1.9"/>
<text x="847.9" y="498.4" font-size="21.7" text-anchor="end">0.92</text>
<line x1="853.2" y1="472.3" x2="856.2" y2="472.3" stroke="#000" stroke-width="1.9"/>
<line x1="850.7" y1="453.8" x2="856.2" y2="453.8" stroke="#000" stroke-width="1.9"/>
<text x="847.9" y="461.4" font-size="21.7" text-anchor="end">0.96</text>
<line x1="853.2" y1="435.3" x2="856.2" y2="435.3" stroke="#000" stroke-width="1.9"/>
<line x1="850.7" y1="416.8" x2="856.2" y2="416.8" stroke="#000" stroke-width="1.9"/>
<text x="847.9" y="424.4" font-size="21.7" text-anchor="end">1.00</text>
<line x1="853.2" y1="398.3" x2="856.2" y2="398.3" stroke="#000" stroke-width="1.9"/>
<line x1="882.7" y1="639.4" x2="882.7" y2="634.4" stroke="#000" stroke-width="1.9"/>
<line x1="909.7" y1="639.4" x2="909.7" y2="636.6999999999999" stroke="#000" stroke-width="1.9"/>
<text x="877.3" y="663.4" font-size="21" text-anchor="middle">DNN</text>
<line x1="936.7" y1="639.4" x2="936.7" y2="634.4" stroke="#000" stroke-width="1.9"/>
<line x1="963.5" y1="639.4" x2="963.5" y2="636.6999999999999" stroke="#000" stroke-width="1.9"/>
<text x="940.0" y="663.4" font-size="21" text-anchor="middle">SVM</text>
<line x1="990.3" y1="639.4" x2="990.3" y2="634.4" stroke="#000" stroke-width="1.9"/>
<line x1="1017.0" y1="639.4" x2="1017.0" y2="636.6999999999999" stroke="#000" stroke-width="1.9"/>
<text x="997.3" y="663.4" font-size="21" text-anchor="middle">KNN</text>
<line x1="1043.8" y1="639.4" x2="1043.8" y2="634.4" stroke="#000" stroke-width="1.9"/>
<line x1="1070.6" y1="639.4" x2="1070.6" y2="636.6999999999999" stroke="#000" stroke-width="1.9"/>
<text x="1052.0" y="663.4" font-size="21" text-anchor="middle">LR</text>
<line x1="1097.4" y1="639.4" x2="1097.4" y2="634.4" stroke="#000" stroke-width="1.9"/>
<line x1="1124.2" y1="639.4" x2="1124.2" y2="636.6999999999999" stroke="#000" stroke-width="1.9"/>
<text x="1102.8" y="663.4" font-size="21" text-anchor="middle">RF</text>
<line x1="1151.1" y1="639.4" x2="1151.1" y2="634.4" stroke="#000" stroke-width="1.9"/>
<text x="1154.2" y="663.4" font-size="21" text-anchor="middle">DT</text>
<text x="876.9" y="581.5" font-size="21" text-anchor="start">AUC</text>
<line x1="873.6" y1="600.3" x2="907.9" y2="600.3" stroke="#2b7bb9" stroke-width="2.3" stroke-linecap="round"/>
<rect x="887.7" y="597.3" width="6" height="6" fill="#2b7bb9"/>
<text x="876.3" y="623.8" font-size="16.3" text-anchor="start">ECFP4</text>
<line x1="945.1" y1="600.3" x2="979.4" y2="600.3" stroke="#f2a230" stroke-width="2.3" stroke-linecap="round"/>
<circle cx="962.2" cy="600.3" r="3.6" fill="#f2a230"/>
<text x="947.2" y="623.8" font-size="16.3" text-anchor="start">RDK</text>
<line x1="1016.4" y1="600.3" x2="1050.7" y2="600.3" stroke="#cf82f7" stroke-width="2.3" stroke-linecap="round"/>
<path d="M1033.5 595.6999999999999L1037.7 602.6999999999999L1029.3 602.6999999999999Z" fill="#cf82f7"/>
<text x="1018.7" y="623.8" font-size="16.3" text-anchor="start">MACCS</text>
<text x="370.0" y="732.8" font-size="35" text-anchor="start">C</text>
<rect x="539.4" y="783.2" width="54" height="24.6" fill="none" stroke="#000" stroke-width="1.7"/>
<line x1="566.4" y1="783.2" x2="566.4" y2="756.8" stroke="#000" stroke-width="1.7"/>
<line x1="566.4" y1="807.8" x2="566.4" y2="840.5" stroke="#000" stroke-width="1.7"/>
<line x1="552.9" y1="756.8" x2="579.9" y2="756.8" stroke="#000" stroke-width="1.7"/>
<line x1="552.9" y1="840.5" x2="579.9" y2="840.5" stroke="#000" stroke-width="1.7"/>
<line x1="539.4" y1="795.5" x2="593.4" y2="795.5" stroke="#f08a24" stroke-width="1.2"/>
<path d="M566.4 793.1L570.0 799.4L562.8 799.4Z" fill="#2ca02c"/>
<rect x="647.0" y="831.8" width="54" height="29.3" fill="none" stroke="#000" stroke-width="1.7"/>
<line x1="674.0" y1="831.8" x2="674.0" y2="787.9" stroke="#000" stroke-width="1.7"/>
<line x1="674.0" y1="861.0" x2="674.0" y2="904.9" stroke="#000" stroke-width="1.7"/>
<line x1="660.5" y1="787.9" x2="687.5" y2="787.9" stroke="#000" stroke-width="1.7"/>
<line x1="660.5" y1="904.9" x2="687.5" y2="904.9" stroke="#000" stroke-width="1.7"/>
<line x1="647.0" y1="844.0" x2="701.0" y2="844.0" stroke="#f08a24" stroke-width="1.2"/>
<path d="M674.0 844.1L677.6 850.4L670.4 850.4Z" fill="#2ca02c"/>
<path d="M583.2 785.2a2 2 0 1 0 4 0a2 2 0 1 0 -4 0M550.3 805.4a2 2 0 1 0 4 0a2 2 0 1 0 -4 0M574.5 784.0a2 2 0 1 0 4 0a2 2 0 1 0 -4 0M573.5 775.4a2 2 0 1 0 4 0a2 2 0 1 0 -4 0M557.0 787.2a2 2 0 1 0 4 0a2 2 0 1 0 -4 0M584.0 793.6a2 2 0 1 0 4 0a2 2 0 1 0 -4 0M544.0 787.2a2 2 0 1 0 4 0a2 2 0 1 0 -4 0M550.3 766.0a2 2 0 1 0 4 0a2 2 0 1 0 -4 0M568.1 822.2a2 2 0 1 0 4 0a2 2 0 1 0 -4 0M583.5 760.2a2 2 0 1 0 4 0a2 2 0 1 0 -4 0M571.3 803.1a2 2 0 1 0 4 0a2 2 0 1 0 -4 0M569.2 798.4a2 2 0 1 0 4 0a2 2 0 1 0 -4 0M583.0 803.1a2 2 0 1 0 4 0a2 2 0 1 0 -4 0M544.9 807.5a2 2 0 1 0 4 0a2 2 0 1 0 -4 0M572.6 797.9a2 2 0 1 0 4 0a2 2 0 1 0 -4 0M585.0 784.2a2 2 0 1 0 4 0a2 2 0 1 0 -4 0M562.3 785.5a2 2 0 1 0 4 0a2 2 0 1 0 -4 0M546.4 785.7a2 2 0 1 0 4 0a2 2 0 1 0 -4 0M543.7 796.5a2 2 0 1 0 4 0a2 2 0 1 0 -4 0M573.4 776.6a2 2 0 1 0 4 0a2 2 0 1 0 -4 0M574.9 814.3a2 2 0 1 0 4 0a2 2 0 1 0 -4 0M553.8 784.7a2 2 0 1 0 4 0a2 2 0 1 0 -4 0M561.1 788.0a2 2 0 1 0 4 0a2 2 0 1 0 -4 0M576.6 778.0a2 2 0 1 0 4 0a2 2 0 1 0 -4 0M559.1 770.4a2 2 0 1 0 4 0a2 2 0 1 0 -4 0M575.5 837.1a2 2 0 1 0 4 0a2 2 0 1 0 -4 0M586.5 795.8a2 2 0 1 0 4 0a2 2 0 1 0 -4 0M549.7 797.9a2 2 0 1 0 4 0a2 2 0 1 0 -4 0M566.4 810.6a2 2 0 1 0 4 0a2 2 0 1 0 -4 0M576.8 831.9a2 2 0 1 0 4 0a2 2 0 1 0 -4 0M577.7 775.1a2 2 0 1 0 4 0a2 2 0 1 0 -4 0M551.2 772.2a2 2 0 1 0 4 0a2 2 0 1 0 -4 0M571.2 781.3a2 2 0 1 0 4 0a2 2 0 1 0 -4 0M557.8 790.1a2 2 0 1 0 4 0a2 2 0 1 0 -4 0M549.3 801.3a2 2 0 1 0 4 0a2 2 0 1 0 -4 0M543.0 791.1a2 2 0 1 0 4 0a2 2 0 1 0 -4 0M571.3 792.5a2 2 0 1 0 4 0a2 2 0 1 0 -4 0M552.6 855.0a2 2 0 1 0 4 0a2 2 0 1 0 -4 0M570.3 777.8a2 2 0 1 0 4 0a2 2 0 1 0 -4 0M584.8 770.9a2 2 0 1 0 4 0a2 2 0 1 0 -4 0M576.2 798.3a2 2 0 1 0 4 0a2 2 0 1 0 -4 0M547.0 793.9a2 2 0 1 0 4 0a2 2 0 1 0 -4 0M555.9 813.8a2 2 0 1 0 4 0a2 2 0 1 0 -4 0M553.8 808.8a2 2 0 1 0 4 0a2 2 0 1 0 -4 0M576.6 794.4a2 2 0 1 0 4 0a2 2 0 1 0 -4 0M572.8 793.1a2 2 0 1 0 4 0a2 2 0 1 0 -4 0M577.9 785.4a2 2 0 1 0 4 0a2 2 0 1 0 -4 0M574.2 788.9a2 2 0 1 0 4 0a2 2 0 1 0 -4 0M578.7 770.7a2 2 0 1 0 4 0a2 2 0 1 0 -4 0M580.0 795.7a2 2 0 1 0 4 0a2 2 0 1 0 -4 0M574.3 805.6a2 2 0 1 0 4 0a2 2 0 1 0 -4 0M546.7 766.7a2 2 0 1 0 4 0a2 2 0 1 0 -4 0M549.7 784.1a2 2 0 1 0 4 0a2 2 0 1 0 -4 0M555.1 808.4a2 2 0 1 0 4 0a2 2 0 1 0 -4 0M581.0 776.2a2 2 0 1 0 4 0a2 2 0 1 0 -4 0M584.7 782.5a2 2 0 1 0 4 0a2 2 0 1 0 -4 0M584.5 785.2a2 2 0 1 0 4 0a2 2 0 1 0 -4 0M577.6 810.2a2 2 0 1 0 4 0a2 2 0 1 0 -4 0M583.3 805.1a2 2 0 1 0 4 0a2 2 0 1 0 -4 0M552.5 798.8a2 2 0 1 0 4 0a2 2 0 1 0 -4 0M560.1 766.3a2 2 0 1 0 4 0a2 2 0 1 0 -4 0M555.9 836.3a2 2 0 1 0 4 0a2 2 0 1 0 -4 0M549.0 778.1a2 2 0 1 0 4 0a2 2 0 1 0 -4 0M558.9 778.5a2 2 0 1 0 4 0a2 2 0 1 0 -4 0M559.8 758.6a2 2 0 1 0 4 0a2 2 0 1 0 -4 0M548.4 798.6a2 2 0 1 0 4 0a2 2 0 1 0 -4 0M583.3 808.6a2 2 0 1 0 4 0a2 2 0 1 0 -4 0M584.5 816.3a2 2 0 1 0 4 0a2 2 0 1 0 -4 0M566.7 799.9a2 2 0 1 0 4 0a2 2 0 1 0 -4 0M552.8 775.6a2 2 0 1 0 4 0a2 2 0 1 0 -4 0M547.0 818.3a2 2 0 1 0 4 0a2 2 0 1 0 -4 0M552.4 779.0a2 2 0 1 0 4 0a2 2 0 1 0 -4 0M551.9 790.2a2 2 0 1 0 4 0a2 2 0 1 0 -4 0M569.1 769.9a2 2 0 1 0 4 0a2 2 0 1 0 -4 0M549.8 787.2a2 2 0 1 0 4 0a2 2 0 1 0 -4 0M568.1 787.7a2 2 0 1 0 4 0a2 2 0 1 0 -4 0M563.1 803.5a2 2 0 1 0 4 0a2 2 0 1 0 -4 0M552.4 804.3a2 2 0 1 0 4 0a2 2 0 1 0 -4 0M583.6 793.6a2 2 0 1 0 4 0a2 2 0 1 0 -4 0M576.5 809.6a2 2 0 1 0 4 0a2 2 0 1 0 -4 0M555.7 770.5a2 2 0 1 0 4 0a2 2 0 1 0 -4 0M553.4 799.8a2 2 0 1 0 4 0a2 2 0 1 0 -4 0M554.8 796.8a2 2 0 1 0 4 0a2 2 0 1 0 -4 0M575.7 794.6a2 2 0 1 0 4 0a2 2 0 1 0 -4 0M550.2 759.1a2 2 0 1 0 4 0a2 2 0 1 0 -4 0M552.2 771.0a2 2 0 1 0 4 0a2 2 0 1 0 -4 0M561.5 792.5a2 2 0 1 0 4 0a2 2 0 1 0 -4 0M581.2 792.0a2 2 0 1 0 4 0a2 2 0 1 0 -4 0M545.2 775.6a2 2 0 1 0 4 0a2 2 0 1 0 -4 0M554.2 792.4a2 2 0 1 0 4 0a2 2 0 1 0 -4 0M575.4 762.5a2 2 0 1 0 4 0a2 2 0 1 0 -4 0M545.5 786.6a2 2 0 1 0 4 0a2 2 0 1 0 -4 0M580.4 808.2a2 2 0 1 0 4 0a2 2 0 1 0 -4 0M550.9 807.0a2 2 0 1 0 4 0a2 2 0 1 0 -4 0M549.7 827.0a2 2 0 1 0 4 0a2 2 0 1 0 -4 0M583.7 811.8a2 2 0 1 0 4 0a2 2 0 1 0 -4 0M553.1 789.7a2 2 0 1 0 4 0a2 2 0 1 0 -4 0M567.5 808.9a2 2 0 1 0 4 0a2 2 0 1 0 -4 0M541.9 814.0a2 2 0 1 0 4 0a2 2 0 1 0 -4 0M561.2 805.8a2 2 0 1 0 4 0a2 2 0 1 0 -4 0M566.1 790.5a2 2 0 1 0 4 0a2 2 0 1 0 -4 0M568.3 802.6a2 2 0 1 0 4 0a2 2 0 1 0 -4 0M570.3 796.5a2 2 0 1 0 4 0a2 2 0 1 0 -4 0M577.6 777.1a2 2 0 1 0 4 0a2 2 0 1 0 -4 0M576.8 800.1a2 2 0 1 0 4 0a2 2 0 1 0 -4 0M567.9 813.5a2 2 0 1 0 4 0a2 2 0 1 0 -4 0M579.7 769.8a2 2 0 1 0 4 0a2 2 0 1 0 -4 0M580.8 778.3a2 2 0 1 0 4 0a2 2 0 1 0 -4 0M573.3 759.2a2 2 0 1 0 4 0a2 2 0 1 0 -4 0M553.9 796.8a2 2 0 1 0 4 0a2 2 0 1 0 -4 0M550.8 790.3a2 2 0 1 0 4 0a2 2 0 1 0 -4 0M580.5 788.1a2 2 0 1 0 4 0a2 2 0 1 0 -4 0M580.7 784.3a2 2 0 1 0 4 0a2 2 0 1 0 -4 0M545.5 782.7a2 2 0 1 0 4 0a2 2 0 1 0 -4 0M583.7 793.0a2 2 0 1 0 4 0a2 2 0 1 0 -4 0M572.2 772.8a2 2 0 1 0 4 0a2 2 0 1 0 -4 0M561.2 799.0a2 2 0 1 0 4 0a2 2 0 1 0 -4 0M585.5 816.2a2 2 0 1 0 4 0a2 2 0 1 0 -4 0M543.4 790.2a2 2 0 1 0 4 0a2 2 0 1 0 -4 0M553.3 792.9a2 2 0 1 0 4 0a2 2 0 1 0 -4 0M568.9 817.7a2 2 0 1 0 4 0a2 2 0 1 0 -4 0M559.2 759.8a2 2 0 1 0 4 0a2 2 0 1 0 -4 0M566.6 763.5a2 2 0 1 0 4 0a2 2 0 1 0 -4 0M544.0 782.6a2 2 0 1 0 4 0a2 2 0 1 0 -4 0M568.7 792.3a2 2 0 1 0 4 0a2 2 0 1 0 -4 0M566.3 823.3a2 2 0 1 0 4 0a2 2 0 1 0 -4 0M583.6 823.8a2 2 0 1 0 4 0a2 2 0 1 0 -4 0M570.8 816.0a2 2 0 1 0 4 0a2 2 0 1 0 -4 0M548.8 817.3a2 2 0 1 0 4 0a2 2 0 1 0 -4 0M568.1 812.3a2 2 0 1 0 4 0a2 2 0 1 0 -4 0M568.2 816.9a2 2 0 1 0 4 0a2 2 0 1 0 -4 0M582.5 807.2a2 2 0 1 0 4 0a2 2 0 1 0 -4 0M577.9 806.8a2 2 0 1 0 4 0a2 2 0 1 0 -4 0M579.0 827.8a2 2 0 1 0 4 0a2 2 0 1 0 -4 0M564.0 789.5a2 2 0 1 0 4 0a2 2 0 1 0 -4 0M560.0 780.9a2 2 0 1 0 4 0a2 2 0 1 0 -4 0M551.4 794.6a2 2 0 1 0 4 0a2 2 0 1 0 -4 0M574.9 786.9a2 2 0 1 0 4 0a2 2 0 1 0 -4 0M585.3 783.6a2 2 0 1 0 4 0a2 2 0 1 0 -4 0M570.6 774.8a2 2 0 1 0 4 0a2 2 0 1 0 -4 0M554.9 799.6a2 2 0 1 0 4 0a2 2 0 1 0 -4 0M551.1 799.9a2 2 0 1 0 4 0a2 2 0 1 0 -4 0M579.0 818.6a2 2 0 1 0 4 0a2 2 0 1 0 -4 0M571.5 808.5a2 2 0 1 0 4 0a2 2 0 1 0 -4 0M560.6 780.2a2 2 0 1 0 4 0a2 2 0 1 0 -4 0M583.2 799.0a2 2 0 1 0 4 0a2 2 0 1 0 -4 0M570.9 773.4a2 2 0 1 0 4 0a2 2 0 1 0 -4 0M579.7 808.7a2 2 0 1 0 4 0a2 2 0 1 0 -4 0M563.0 798.8a2 2 0 1 0 4 0a2 2 0 1 0 -4 0M580.8 810.8a2 2 0 1 0 4 0a2 2 0 1 0 -4 0M577.9 794.4a2 2 0 1 0 4 0a2 2 0 1 0 -4 0M579.7 794.1a2 2 0 1 0 4 0a2 2 0 1 0 -4 0M560.0 795.1a2 2 0 1 0 4 0a2 2 0 1 0 -4 0M562.8 812.7a2 2 0 1 0 4 0a2 2 0 1 0 -4 0M543.5 768.6a2 2 0 1 0 4 0a2 2 0 1 0 -4 0M573.5 810.8a2 2 0 1 0 4 0a2 2 0 1 0 -4 0M558.9 788.4a2 2 0 1 0 4 0a2 2 0 1 0 -4 0M547.0 786.8a2 2 0 1 0 4 0a2 2 0 1 0 -4 0M545.0 808.6a2 2 0 1 0 4 0a2 2 0 1 0 -4 0M575.4 793.9a2 2 0 1 0 4 0a2 2 0 1 0 -4 0M572.3 837.2a2 2 0 1 0 4 0a2 2 0 1 0 -4 0M583.3 794.3a2 2 0 1 0 4 0a2 2 0 1 0 -4 0M546.4 829.0a2 2 0 1 0 4 0a2 2 0 1 0 -4 0M555.1 802.5a2 2 0 1 0 4 0a2 2 0 1 0 -4 0M558.0 805.4a2 2 0 1 0 4 0a2 2 0 1 0 -4 0M551.0 765.2a2 2 0 1 0 4 0a2 2 0 1 0 -4 0M568.9 796.9a2 2 0 1 0 4 0a2 2 0 1 0 -4 0M553.7 779.5a2 2 0 1 0 4 0a2 2 0 1 0 -4 0M567.8 776.1a2 2 0 1 0 4 0a2 2 0 1 0 -4 0M582.2 792.0a2 2 0 1 0 4 0a2 2 0 1 0 -4 0M546.7 801.7a2 2 0 1 0 4 0a2 2 0 1 0 -4 0M543.9 793.6a2 2 0 1 0 4 0a2 2 0 1 0 -4 0M574.6 812.7a2 2 0 1 0 4 0a2 2 0 1 0 -4 0M585.7 766.5a2 2 0 1 0 4 0a2 2 0 1 0 -4 0M574.6 816.6a2 2 0 1 0 4 0a2 2 0 1 0 -4 0M546.1 772.9a2 2 0 1 0 4 0a2 2 0 1 0 -4 0M548.7 822.3a2 2 0 1 0 4 0a2 2 0 1 0 -4 0M549.7 795.3a2 2 0 1 0 4 0a2 2 0 1 0 -4 0M583.9 801.9a2 2 0 1 0 4 0a2 2 0 1 0 -4 0M550.6 795.7a2 2 0 1 0 4 0a2 2 0 1 0 -4 0M558.2 794.3a2 2 0 1 0 4 0a2 2 0 1 0 -4 0M567.6 832.1a2 2 0 1 0 4 0a2 2 0 1 0 -4 0M567.5 766.9a2 2 0 1 0 4 0a2 2 0 1 0 -4 0M575.5 771.4a2 2 0 1 0 4 0a2 2 0 1 0 -4 0M547.5 825.9a2 2 0 1 0 4 0a2 2 0 1 0 -4 0M585.8 795.7a2 2 0 1 0 4 0a2 2 0 1 0 -4 0M565.8 791.0a2 2 0 1 0 4 0a2 2 0 1 0 -4 0M545.5 777.7a2 2 0 1 0 4 0a2 2 0 1 0 -4 0M544.8 804.8a2 2 0 1 0 4 0a2 2 0 1 0 -4 0M571.8 820.8a2 2 0 1 0 4 0a2 2 0 1 0 -4 0M581.0 778.9a2 2 0 1 0 4 0a2 2 0 1 0 -4 0M572.7 789.0a2 2 0 1 0 4 0a2 2 0 1 0 -4 0M550.0 771.6a2 2 0 1 0 4 0a2 2 0 1 0 -4 0M542.1 786.9a2 2 0 1 0 4 0a2 2 0 1 0 -4 0M575.6 788.5a2 2 0 1 0 4 0a2 2 0 1 0 -4 0M547.6 784.8a2 2 0 1 0 4 0a2 2 0 1 0 -4 0M555.3 816.4a2 2 0 1 0 4 0a2 2 0 1 0 -4 0M559.3 767.3a2 2 0 1 0 4 0a2 2 0 1 0 -4 0M544.1 781.5a2 2 0 1 0 4 0a2 2 0 1 0 -4 0M570.1 781.3a2 2 0 1 0 4 0a2 2 0 1 0 -4 0M582.1 775.7a2 2 0 1 0 4 0a2 2 0 1 0 -4 0M566.0 805.3a2 2 0 1 0 4 0a2 2 0 1 0 -4 0M545.5 799.4a2 2 0 1 0 4 0a2 2 0 1 0 -4 0M573.1 764.9a2 2 0 1 0 4 0a2 2 0 1 0 -4 0M580.9 777.7a2 2 0 1 0 4 0a2 2 0 1 0 -4 0M551.5 803.4a2 2 0 1 0 4 0a2 2 0 1 0 -4 0M571.9 779.4a2 2 0 1 0 4 0a2 2 0 1 0 -4 0M563.3 819.3a2 2 0 1 0 4 0a2 2 0 1 0 -4 0M545.4 815.3a2 2 0 1 0 4 0a2 2 0 1 0 -4 0M580.9 801.7a2 2 0 1 0 4 0a2 2 0 1 0 -4 0M585.8 789.9a2 2 0 1 0 4 0a2 2 0 1 0 -4 0M583.9 811.9a2 2 0 1 0 4 0a2 2 0 1 0 -4 0M548.1 823.3a2 2 0 1 0 4 0a2 2 0 1 0 -4 0M586.3 796.4a2 2 0 1 0 4 0a2 2 0 1 0 -4 0M572.6 804.2a2 2 0 1 0 4 0a2 2 0 1 0 -4 0M576.2 763.0a2 2 0 1 0 4 0a2 2 0 1 0 -4 0M549.3 804.6a2 2 0 1 0 4 0a2 2 0 1 0 -4 0M579.0 765.4a2 2 0 1 0 4 0a2 2 0 1 0 -4 0M556.8 827.2a2 2 0 1 0 4 0a2 2 0 1 0 -4 0M578.0 811.9a2 2 0 1 0 4 0a2 2 0 1 0 -4 0M553.1 823.0a2 2 0 1 0 4 0a2 2 0 1 0 -4 0M555.1 830.2a2 2 0 1 0 4 0a2 2 0 1 0 -4 0M556.2 782.8a2 2 0 1 0 4 0a2 2 0 1 0 -4 0M542.9 826.5a2 2 0 1 0 4 0a2 2 0 1 0 -4 0M571.6 774.0a2 2 0 1 0 4 0a2 2 0 1 0 -4 0M584.2 787.6a2 2 0 1 0 4 0a2 2 0 1 0 -4 0M576.8 797.6a2 2 0 1 0 4 0a2 2 0 1 0 -4 0M579.2 766.6a2 2 0 1 0 4 0a2 2 0 1 0 -4 0M557.6 771.6a2 2 0 1 0 4 0a2 2 0 1 0 -4 0M584.7 781.2a2 2 0 1 0 4 0a2 2 0 1 0 -4 0M559.1 814.8a2 2 0 1 0 4 0a2 2 0 1 0 -4 0M565.3 814.1a2 2 0 1 0 4 0a2 2 0 1 0 -4 0M556.6 775.0a2 2 0 1 0 4 0a2 2 0 1 0 -4 0M544.4 773.5a2 2 0 1 0 4 0a2 2 0 1 0 -4 0M577.7 814.3a2 2 0 1 0 4 0a2 2 0 1 0 -4 0M555.9 780.2a2 2 0 1 0 4 0a2 2 0 1 0 -4 0M568.9 812.3a2 2 0 1 0 4 0a2 2 0 1 0 -4 0M555.4 818.0a2 2 0 1 0 4 0a2 2 0 1 0 -4 0M557.9 778.4a2 2 0 1 0 4 0a2 2 0 1 0 -4 0M550.7 799.0a2 2 0 1 0 4 0a2 2 0 1 0 -4 0M560.2 796.6a2 2 0 1 0 4 0a2 2 0 1 0 -4 0M583.7 817.0a2 2 0 1 0 4 0a2 2 0 1 0 -4 0M548.4 807.6a2 2 0 1 0 4 0a2 2 0 1 0 -4 0M552.2 772.0a2 2 0 1 0 4 0a2 2 0 1 0 -4 0M551.3 816.4a2 2 0 1 0 4 0a2 2 0 1 0 -4 0M557.5 807.8a2 2 0 1 0 4 0a2 2 0 1 0 -4 0M548.9 830.0a2 2 0 1 0 4 0a2 2 0 1 0 -4 0M569.3 784.4a2 2 0 1 0 4 0a2 2 0 1 0 -4 0M562.1 802.4a2 2 0 1 0 4 0a2 2 0 1 0 -4 0M561.4 806.5a2 2 0 1 0 4 0a2 2 0 1 0 -4 0M568.6 779.6a2 2 0 1 0 4 0a2 2 0 1 0 -4 0M559.8 809.1a2 2 0 1 0 4 0a2 2 0 1 0 -4 0M546.5 799.7a2 2 0 1 0 4 0a2 2 0 1 0 -4 0M544.0 818.3a2 2 0 1 0 4 0a2 2 0 1 0 -4 0M551.8 810.9a2 2 0 1 0 4 0a2 2 0 1 0 -4 0M584.1 819.8a2 2 0 1 0 4 0a2 2 0 1 0 -4 0M582.1 802.0a2 2 0 1 0 4 0a2 2 0 1 0 -4 0M577.6 809.3a2 2 0 1 0 4 0a2 2 0 1 0 -4 0M555.4 792.4a2 2 0 1 0 4 0a2 2 0 1 0 -4 0M554.4 791.8a2 2 0 1 0 4 0a2 2 0 1 0 -4 0M566.9 805.8a2 2 0 1 0 4 0a2 2 0 1 0 -4 0M579.0 766.4a2 2 0 1 0 4 0a2 2 0 1 0 -4 0M548.1 798.3a2 2 0 1 0 4 0a2 2 0 1 0 -4 0M583.8 790.0a2 2 0 1 0 4 0a2 2 0 1 0 -4 0M579.3 822.3a2 2 0 1 0 4 0a2 2 0 1 0 -4 0M568.1 762.6a2 2 0 1 0 4 0a2 2 0 1 0 -4 0M583.2 816.9a2 2 0 1 0 4 0a2 2 0 1 0 -4 0M573.0 792.5a2 2 0 1 0 4 0a2 2 0 1 0 -4 0M559.8 797.3a2 2 0 1 0 4 0a2 2 0 1 0 -4 0M565.4 818.0a2 2 0 1 0 4 0a2 2 0 1 0 -4 0M557.2 782.3a2 2 0 1 0 4 0a2 2 0 1 0 -4 0M573.5 790.1a2 2 0 1 0 4 0a2 2 0 1 0 -4 0M550.7 794.8a2 2 0 1 0 4 0a2 2 0 1 0 -4 0M550.6 802.1a2 2 0 1 0 4 0a2 2 0 1 0 -4 0M564.3 783.8a2 2 0 1 0 4 0a2 2 0 1 0 -4 0M585.2 790.1a2 2 0 1 0 4 0a2 2 0 1 0 -4 0M575.1 792.6a2 2 0 1 0 4 0a2 2 0 1 0 -4 0M570.7 852.2a2 2 0 1 0 4 0a2 2 0 1 0 -4 0M579.1 803.8a2 2 0 1 0 4 0a2 2 0 1 0 -4 0M550.7 765.7a2 2 0 1 0 4 0a2 2 0 1 0 -4 0M575.8 788.9a2 2 0 1 0 4 0a2 2 0 1 0 -4 0M577.6 793.5a2 2 0 1 0 4 0a2 2 0 1 0 -4 0M583.4 816.0a2 2 0 1 0 4 0a2 2 0 1 0 -4 0M583.4 795.3a2 2 0 1 0 4 0a2 2 0 1 0 -4 0M549.1 795.0a2 2 0 1 0 4 0a2 2 0 1 0 -4 0M567.6 793.9a2 2 0 1 0 4 0a2 2 0 1 0 -4 0M572.8 793.8a2 2 0 1 0 4 0a2 2 0 1 0 -4 0M563.3 801.3a2 2 0 1 0 4 0a2 2 0 1 0 -4 0M586.1 807.8a2 2 0 1 0 4 0a2 2 0 1 0 -4 0M566.1 830.7a2 2 0 1 0 4 0a2 2 0 1 0 -4 0M579.6 811.9a2 2 0 1 0 4 0a2 2 0 1 0 -4 0M551.1 781.0a2 2 0 1 0 4 0a2 2 0 1 0 -4 0M572.7 799.9a2 2 0 1 0 4 0a2 2 0 1 0 -4 0M548.2 810.0a2 2 0 1 0 4 0a2 2 0 1 0 -4 0M569.2 779.2a2 2 0 1 0 4 0a2 2 0 1 0 -4 0M565.9 785.4a2 2 0 1 0 4 0a2 2 0 1 0 -4 0M569.2 791.9a2 2 0 1 0 4 0a2 2 0 1 0 -4 0M567.6 777.9a2 2 0 1 0 4 0a2 2 0 1 0 -4 0M546.7 782.4a2 2 0 1 0 4 0a2 2 0 1 0 -4 0M568.4 781.0a2 2 0 1 0 4 0a2 2 0 1 0 -4 0M555.6 789.4a2 2 0 1 0 4 0a2 2 0 1 0 -4 0M586.2 811.7a2 2 0 1 0 4 0a2 2 0 1 0 -4 0M577.8 817.1a2 2 0 1 0 4 0a2 2 0 1 0 -4 0M563.5 826.7a2 2 0 1 0 4 0a2 2 0 1 0 -4 0M582.7 800.3a2 2 0 1 0 4 0a2 2 0 1 0 -4 0M574.4 823.0a2 2 0 1 0 4 0a2 2 0 1 0 -4 0M563.3 816.6a2 2 0 1 0 4 0a2 2 0 1 0 -4 0M564.5 803.4a2 2 0 1 0 4 0a2 2 0 1 0 -4 0M564.4 773.1a2 2 0 1 0 4 0a2 2 0 1 0 -4 0M556.4 785.0a2 2 0 1 0 4 0a2 2 0 1 0 -4 0M565.2 781.4a2 2 0 1 0 4 0a2 2 0 1 0 -4 0M542.8 783.9a2 2 0 1 0 4 0a2 2 0 1 0 -4 0M558.0 808.4a2 2 0 1 0 4 0a2 2 0 1 0 -4 0M550.3 780.0a2 2 0 1 0 4 0a2 2 0 1 0 -4 0M546.6 816.5a2 2 0 1 0 4 0a2 2 0 1 0 -4 0M565.1 786.2a2 2 0 1 0 4 0a2 2 0 1 0 -4 0M572.7 796.1a2 2 0 1 0 4 0a2 2 0 1 0 -4 0M569.2 806.9a2 2 0 1 0 4 0a2 2 0 1 0 -4 0M580.3 796.3a2 2 0 1 0 4 0a2 2 0 1 0 -4 0M556.4 762.8a2 2 0 1 0 4 0a2 2 0 1 0 -4 0M542.7 786.1a2 2 0 1 0 4 0a2 2 0 1 0 -4 0M553.1 849.2a2 2 0 1 0 4 0a2 2 0 1 0 -4 0M580.9 800.2a2 2 0 1 0 4 0a2 2 0 1 0 -4 0M580.0 782.0a2 2 0 1 0 4 0a2 2 0 1 0 -4 0M569.3 777.7a2 2 0 1 0 4 0a2 2 0 1 0 -4 0M543.0 790.8a2 2 0 1 0 4 0a2 2 0 1 0 -4 0M573.5 786.2a2 2 0 1 0 4 0a2 2 0 1 0 -4 0M547.6 810.1a2 2 0 1 0 4 0a2 2 0 1 0 -4 0M573.2 789.3a2 2 0 1 0 4 0a2 2 0 1 0 -4 0M580.8 766.4a2 2 0 1 0 4 0a2 2 0 1 0 -4 0M568.7 821.1a2 2 0 1 0 4 0a2 2 0 1 0 -4 0M555.9 790.5a2 2 0 1 0 4 0a2 2 0 1 0 -4 0M576.5 769.4a2 2 0 1 0 4 0a2 2 0 1 0 -4 0M544.6 822.4a2 2 0 1 0 4 0a2 2 0 1 0 -4 0M561.3 768.6a2 2 0 1 0 4 0a2 2 0 1 0 -4 0M578.8 800.1a2 2 0 1 0 4 0a2 2 0 1 0 -4 0M570.8 809.3a2 2 0 1 0 4 0a2 2 0 1 0 -4 0M565.8 822.0a2 2 0 1 0 4 0a2 2 0 1 0 -4 0M562.2 807.6a2 2 0 1 0 4 0a2 2 0 1 0 -4 0M562.0 796.4a2 2 0 1 0 4 0a2 2 0 1 0 -4 0M544.1 812.1a2 2 0 1 0 4 0a2 2 0 1 0 -4 0M572.0 807.7a2 2 0 1 0 4 0a2 2 0 1 0 -4 0M574.0 793.9a2 2 0 1 0 4 0a2 2 0 1 0 -4 0M564.1 807.1a2 2 0 1 0 4 0a2 2 0 1 0 -4 0M586.3 785.4a2 2 0 1 0 4 0a2 2 0 1 0 -4 0M569.0 787.5a2 2 0 1 0 4 0a2 2 0 1 0 -4 0M575.8 790.8a2 2 0 1 0 4 0a2 2 0 1 0 -4 0M577.0 763.2a2 2 0 1 0 4 0a2 2 0 1 0 -4 0M544.1 792.8a2 2 0 1 0 4 0a2 2 0 1 0 -4 0M545.9 805.7a2 2 0 1 0 4 0a2 2 0 1 0 -4 0M551.9 810.9a2 2 0 1 0 4 0a2 2 0 1 0 -4 0M556.5 803.6a2 2 0 1 0 4 0a2 2 0 1 0 -4 0M542.6 775.7a2 2 0 1 0 4 0a2 2 0 1 0 -4 0M583.1 806.1a2 2 0 1 0 4 0a2 2 0 1 0 -4 0M550.0 788.7a2 2 0 1 0 4 0a2 2 0 1 0 -4 0M555.2 807.1a2 2 0 1 0 4 0a2 2 0 1 0 -4 0M547.7 786.5a2 2 0 1 0 4 0a2 2 0 1 0 -4 0M560.8 792.5a2 2 0 1 0 4 0a2 2 0 1 0 -4 0M561.8 812.0a2 2 0 1 0 4 0a2 2 0 1 0 -4 0M582.0 812.4a2 2 0 1 0 4 0a2 2 0 1 0 -4 0M559.5 800.8a2 2 0 1 0 4 0a2 2 0 1 0 -4 0M583.4 791.6a2 2 0 1 0 4 0a2 2 0 1 0 -4 0M572.4 783.2a2 2 0 1 0 4 0a2 2 0 1 0 -4 0M552.7 834.2a2 2 0 1 0 4 0a2 2 0 1 0 -4 0M585.9 808.4a2 2 0 1 0 4 0a2 2 0 1 0 -4 0M570.1 778.6a2 2 0 1 0 4 0a2 2 0 1 0 -4 0M557.8 792.6a2 2 0 1 0 4 0a2 2 0 1 0 -4 0M553.2 795.1a2 2 0 1 0 4 0a2 2 0 1 0 -4 0M543.9 777.3a2 2 0 1 0 4 0a2 2 0 1 0 -4 0M576.2 757.8a2 2 0 1 0 4 0a2 2 0 1 0 -4 0M581.9 760.2a2 2 0 1 0 4 0a2 2 0 1 0 -4 0M568.4 786.7a2 2 0 1 0 4 0a2 2 0 1 0 -4 0M583.9 772.4a2 2 0 1 0 4 0a2 2 0 1 0 -4 0M579.9 796.6a2 2 0 1 0 4 0a2 2 0 1 0 -4 0M571.2 765.4a2 2 0 1 0 4 0a2 2 0 1 0 -4 0M575.5 763.6a2 2 0 1 0 4 0a2 2 0 1 0 -4 0M583.6 798.7a2 2 0 1 0 4 0a2 2 0 1 0 -4 0M584.1 772.5a2 2 0 1 0 4 0a2 2 0 1 0 -4 0M560.6 789.7a2 2 0 1 0 4 0a2 2 0 1 0 -4 0M581.4 788.7a2 2 0 1 0 4 0a2 2 0 1 0 -4 0M551.4 784.1a2 2 0 1 0 4 0a2 2 0 1 0 -4 0M579.4 787.3a2 2 0 1 0 4 0a2 2 0 1 0 -4 0M574.8 784.1a2 2 0 1 0 4 0a2 2 0 1 0 -4 0M565.2 786.2a2 2 0 1 0 4 0a2 2 0 1 0 -4 0M545.8 807.5a2 2 0 1 0 4 0a2 2 0 1 0 -4 0M585.8 785.7a2 2 0 1 0 4 0a2 2 0 1 0 -4 0M580.3 808.8a2 2 0 1 0 4 0a2 2 0 1 0 -4 0M564.2 817.7a2 2 0 1 0 4 0a2 2 0 1 0 -4 0M559.4 781.2a2 2 0 1 0 4 0a2 2 0 1 0 -4 0M570.1 764.2a2 2 0 1 0 4 0a2 2 0 1 0 -4 0M581.2 770.3a2 2 0 1 0 4 0a2 2 0 1 0 -4 0M579.7 788.6a2 2 0 1 0 4 0a2 2 0 1 0 -4 0M574.9 813.5a2 2 0 1 0 4 0a2 2 0 1 0 -4 0M558.3 798.5a2 2 0 1 0 4 0a2 2 0 1 0 -4 0M562.5 821.8a2 2 0 1 0 4 0a2 2 0 1 0 -4 0M569.0 803.2a2 2 0 1 0 4 0a2 2 0 1 0 -4 0M547.1 783.8a2 2 0 1 0 4 0a2 2 0 1 0 -4 0M585.0 795.3a2 2 0 1 0 4 0a2 2 0 1 0 -4 0M549.9 792.1a2 2 0 1 0 4 0a2 2 0 1 0 -4 0M579.7 808.4a2 2 0 1 0 4 0a2 2 0 1 0 -4 0M581.7 785.7a2 2 0 1 0 4 0a2 2 0 1 0 -4 0M583.2 823.6a2 2 0 1 0 4 0a2 2 0 1 0 -4 0M544.4 783.9a2 2 0 1 0 4 0a2 2 0 1 0 -4 0M547.2 798.6a2 2 0 1 0 4 0a2 2 0 1 0 -4 0M564.7 784.0a2 2 0 1 0 4 0a2 2 0 1 0 -4 0M563.6 780.6a2 2 0 1 0 4 0a2 2 0 1 0 -4 0M555.8 804.5a2 2 0 1 0 4 0a2 2 0 1 0 -4 0M572.5 802.2a2 2 0 1 0 4 0a2 2 0 1 0 -4 0M561.7 782.5a2 2 0 1 0 4 0a2 2 0 1 0 -4 0M543.2 773.0a2 2 0 1 0 4 0a2 2 0 1 0 -4 0M547.1 799.5a2 2 0 1 0 4 0a2 2 0 1 0 -4 0M571.5 775.7a2 2 0 1 0 4 0a2 2 0 1 0 -4 0M575.9 810.3a2 2 0 1 0 4 0a2 2 0 1 0 -4 0M548.7 801.3a2 2 0 1 0 4 0a2 2 0 1 0 -4 0M555.3 779.0a2 2 0 1 0 4 0a2 2 0 1 0 -4 0M549.7 788.6a2 2 0 1 0 4 0a2 2 0 1 0 -4 0M585.5 808.0a2 2 0 1 0 4 0a2 2 0 1 0 -4 0M552.9 790.2a2 2 0 1 0 4 0a2 2 0 1 0 -4 0M565.0 794.6a2 2 0 1 0 4 0a2 2 0 1 0 -4 0M582.3 784.5a2 2 0 1 0 4 0a2 2 0 1 0 -4 0M580.3 801.2a2 2 0 1 0 4 0a2 2 0 1 0 -4 0M547.3 795.9a2 2 0 1 0 4 0a2 2 0 1 0 -4 0M575.7 811.8a2 2 0 1 0 4 0a2 2 0 1 0 -4 0M569.7 796.9a2 2 0 1 0 4 0a2 2 0 1 0 -4 0M549.9 809.7a2 2 0 1 0 4 0a2 2 0 1 0 -4 0M572.1 806.6a2 2 0 1 0 4 0a2 2 0 1 0 -4 0M561.6 794.3a2 2 0 1 0 4 0a2 2 0 1 0 -4 0M566.8 803.9a2 2 0 1 0 4 0a2 2 0 1 0 -4 0M550.3 794.3a2 2 0 1 0 4 0a2 2 0 1 0 -4 0M572.4 803.0a2 2 0 1 0 4 0a2 2 0 1 0 -4 0M551.5 783.7a2 2 0 1 0 4 0a2 2 0 1 0 -4 0M550.2 796.1a2 2 0 1 0 4 0a2 2 0 1 0 -4 0M557.4 795.7a2 2 0 1 0 4 0a2 2 0 1 0 -4 0M574.0 782.2a2 2 0 1 0 4 0a2 2 0 1 0 -4 0M558.7 807.7a2 2 0 1 0 4 0a2 2 0 1 0 -4 0M582.2 820.3a2 2 0 1 0 4 0a2 2 0 1 0 -4 0M545.0 787.6a2 2 0 1 0 4 0a2 2 0 1 0 -4 0M543.9 769.8a2 2 0 1 0 4 0a2 2 0 1 0 -4 0M558.0 773.7a2 2 0 1 0 4 0a2 2 0 1 0 -4 0M572.2 823.0a2 2 0 1 0 4 0a2 2 0 1 0 -4 0M549.3 784.3a2 2 0 1 0 4 0a2 2 0 1 0 -4 0M560.0 812.9a2 2 0 1 0 4 0a2 2 0 1 0 -4 0M552.1 810.0a2 2 0 1 0 4 0a2 2 0 1 0 -4 0M564.3 766.2a2 2 0 1 0 4 0a2 2 0 1 0 -4 0M547.5 829.8a2 2 0 1 0 4 0a2 2 0 1 0 -4 0M558.3 780.7a2 2 0 1 0 4 0a2 2 0 1 0 -4 0M577.6 794.3a2 2 0 1 0 4 0a2 2 0 1 0 -4 0M559.6 776.8a2 2 0 1 0 4 0a2 2 0 1 0 -4 0M565.7 809.3a2 2 0 1 0 4 0a2 2 0 1 0 -4 0M579.9 762.9a2 2 0 1 0 4 0a2 2 0 1 0 -4 0M574.6 774.1a2 2 0 1 0 4 0a2 2 0 1 0 -4 0M562.6 807.6a2 2 0 1 0 4 0a2 2 0 1 0 -4 0M560.9 812.3a2 2 0 1 0 4 0a2 2 0 1 0 -4 0M578.4 802.8a2 2 0 1 0 4 0a2 2 0 1 0 -4 0M581.2 810.3a2 2 0 1 0 4 0a2 2 0 1 0 -4 0M574.3 828.3a2 2 0 1 0 4 0a2 2 0 1 0 -4 0M549.8 774.6a2 2 0 1 0 4 0a2 2 0 1 0 -4 0M556.1 783.8a2 2 0 1 0 4 0a2 2 0 1 0 -4 0M545.4 820.1a2 2 0 1 0 4 0a2 2 0 1 0 -4 0M558.8 797.0a2 2 0 1 0 4 0a2 2 0 1 0 -4 0M559.1 819.4a2 2 0 1 0 4 0a2 2 0 1 0 -4 0M568.9 757.2a2 2 0 1 0 4 0a2 2 0 1 0 -4 0M561.6 772.8a2 2 0 1 0 4 0a2 2 0 1 0 -4 0M564.0 794.2a2 2 0 1 0 4 0a2 2 0 1 0 -4 0M556.6 778.9a2 2 0 1 0 4 0a2 2 0 1 0 -4 0M558.9 780.0a2 2 0 1 0 4 0a2 2 0 1 0 -4 0M578.0 803.0a2 2 0 1 0 4 0a2 2 0 1 0 -4 0M549.0 776.3a2 2 0 1 0 4 0a2 2 0 1 0 -4 0M579.1 774.9a2 2 0 1 0 4 0a2 2 0 1 0 -4 0M584.3 797.8a2 2 0 1 0 4 0a2 2 0 1 0 -4 0M559.6 767.3a2 2 0 1 0 4 0a2 2 0 1 0 -4 0M557.4 793.5a2 2 0 1 0 4 0a2 2 0 1 0 -4 0M557.3 836.8a2 2 0 1 0 4 0a2 2 0 1 0 -4 0M579.2 795.9a2 2 0 1 0 4 0a2 2 0 1 0 -4 0M573.2 795.1a2 2 0 1 0 4 0a2 2 0 1 0 -4 0M582.2 796.1a2 2 0 1 0 4 0a2 2 0 1 0 -4 0M578.1 826.7a2 2 0 1 0 4 0a2 2 0 1 0 -4 0M557.3 800.1a2 2 0 1 0 4 0a2 2 0 1 0 -4 0M543.3 800.1a2 2 0 1 0 4 0a2 2 0 1 0 -4 0M545.8 791.4a2 2 0 1 0 4 0a2 2 0 1 0 -4 0M576.5 768.0a2 2 0 1 0 4 0a2 2 0 1 0 -4 0M561.6 847.2a2 2 0 1 0 4 0a2 2 0 1 0 -4 0M563.6 788.0a2 2 0 1 0 4 0a2 2 0 1 0 -4 0M558.4 822.0a2 2 0 1 0 4 0a2 2 0 1 0 -4 0M562.3 766.2a2 2 0 1 0 4 0a2 2 0 1 0 -4 0M547.1 805.8a2 2 0 1 0 4 0a2 2 0 1 0 -4 0M566.1 768.0a2 2 0 1 0 4 0a2 2 0 1 0 -4 0M556.8 793.3a2 2 0 1 0 4 0a2 2 0 1 0 -4 0M543.3 809.1a2 2 0 1 0 4 0a2 2 0 1 0 -4 0M565.7 832.2a2 2 0 1 0 4 0a2 2 0 1 0 -4 0M552.2 788.0a2 2 0 1 0 4 0a2 2 0 1 0 -4 0M583.9 762.6a2 2 0 1 0 4 0a2 2 0 1 0 -4 0M579.2 787.6a2 2 0 1 0 4 0a2 2 0 1 0 -4 0M584.7 776.3a2 2 0 1 0 4 0a2 2 0 1 0 -4 0M563.6 846.6a2 2 0 1 0 4 0a2 2 0 1 0 -4 0M564.6 810.2a2 2 0 1 0 4 0a2 2 0 1 0 -4 0M574.1 823.9a2 2 0 1 0 4 0a2 2 0 1 0 -4 0M554.1 788.7a2 2 0 1 0 4 0a2 2 0 1 0 -4 0M569.6 801.6a2 2 0 1 0 4 0a2 2 0 1 0 -4 0M570.3 830.4a2 2 0 1 0 4 0a2 2 0 1 0 -4 0M562.7 804.6a2 2 0 1 0 4 0a2 2 0 1 0 -4 0M563.8 767.5a2 2 0 1 0 4 0a2 2 0 1 0 -4 0M568.1 758.6a2 2 0 1 0 4 0a2 2 0 1 0 -4 0M549.9 779.4a2 2 0 1 0 4 0a2 2 0 1 0 -4 0M585.5 867.6a2 2 0 1 0 4 0a2 2 0 1 0 -4 0M581.1 838.0a2 2 0 1 0 4 0a2 2 0 1 0 -4 0M555.6 838.6a2 2 0 1 0 4 0a2 2 0 1 0 -4 0M554.5 833.4a2 2 0 1 0 4 0a2 2 0 1 0 -4 0M575.6 857.0a2 2 0 1 0 4 0a2 2 0 1 0 -4 0M545.7 858.3a2 2 0 1 0 4 0a2 2 0 1 0 -4 0M543.8 858.5a2 2 0 1 0 4 0a2 2 0 1 0 -4 0M547.5 844.0a2 2 0 1 0 4 0a2 2 0 1 0 -4 0M583.3 844.9a2 2 0 1 0 4 0a2 2 0 1 0 -4 0M585.7 864.6a2 2 0 1 0 4 0a2 2 0 1 0 -4 0M578.2 913.1a2 2 0 1 0 4 0a2 2 0 1 0 -4 0" fill="#5b9bd5" fill-opacity="0.35" stroke="#2a78b8" stroke-opacity="0.75" stroke-width="1.1"/>
<path d="M679.8 866.6a2 2 0 1 0 4 0a2 2 0 1 0 -4 0M687.5 867.0a2 2 0 1 0 4 0a2 2 0 1 0 -4 0M658.5 821.7a2 2 0 1 0 4 0a2 2 0 1 0 -4 0M687.3 877.4a2 2 0 1 0 4 0a2 2 0 1 0 -4 0M662.5 821.9a2 2 0 1 0 4 0a2 2 0 1 0 -4 0M664.0 817.0a2 2 0 1 0 4 0a2 2 0 1 0 -4 0M663.4 820.5a2 2 0 1 0 4 0a2 2 0 1 0 -4 0M681.7 848.3a2 2 0 1 0 4 0a2 2 0 1 0 -4 0M681.2 862.5a2 2 0 1 0 4 0a2 2 0 1 0 -4 0M670.1 827.6a2 2 0 1 0 4 0a2 2 0 1 0 -4 0M686.1 807.2a2 2 0 1 0 4 0a2 2 0 1 0 -4 0M654.1 842.7a2 2 0 1 0 4 0a2 2 0 1 0 -4 0M682.5 787.5a2 2 0 1 0 4 0a2 2 0 1 0 -4 0M687.3 820.3a2 2 0 1 0 4 0a2 2 0 1 0 -4 0M656.8 849.5a2 2 0 1 0 4 0a2 2 0 1 0 -4 0M661.1 865.1a2 2 0 1 0 4 0a2 2 0 1 0 -4 0M662.4 886.1a2 2 0 1 0 4 0a2 2 0 1 0 -4 0M690.7 852.6a2 2 0 1 0 4 0a2 2 0 1 0 -4 0M687.1 833.4a2 2 0 1 0 4 0a2 2 0 1 0 -4 0M689.1 862.5a2 2 0 1 0 4 0a2 2 0 1 0 -4 0M656.6 822.5a2 2 0 1 0 4 0a2 2 0 1 0 -4 0M684.4 835.8a2 2 0 1 0 4 0a2 2 0 1 0 -4 0M680.9 854.8a2 2 0 1 0 4 0a2 2 0 1 0 -4 0M685.5 854.9a2 2 0 1 0 4 0a2 2 0 1 0 -4 0M671.5 855.0a2 2 0 1 0 4 0a2 2 0 1 0 -4 0M684.2 859.7a2 2 0 1 0 4 0a2 2 0 1 0 -4 0M652.2 817.8a2 2 0 1 0 4 0a2 2 0 1 0 -4 0M671.3 848.1a2 2 0 1 0 4 0a2 2 0 1 0 -4 0M661.7 832.3a2 2 0 1 0 4 0a2 2 0 1 0 -4 0M670.7 824.1a2 2 0 1 0 4 0a2 2 0 1 0 -4 0M654.7 886.1a2 2 0 1 0 4 0a2 2 0 1 0 -4 0M677.8 877.2a2 2 0 1 0 4 0a2 2 0 1 0 -4 0M685.1 829.2a2 2 0 1 0 4 0a2 2 0 1 0 -4 0M662.2 898.8a2 2 0 1 0 4 0a2 2 0 1 0 -4 0M689.8 855.4a2 2 0 1 0 4 0a2 2 0 1 0 -4 0M651.7 855.4a2 2 0 1 0 4 0a2 2 0 1 0 -4 0M663.7 908.0a2 2 0 1 0 4 0a2 2 0 1 0 -4 0M668.7 854.6a2 2 0 1 0 4 0a2 2 0 1 0 -4 0M690.3 865.2a2 2 0 1 0 4 0a2 2 0 1 0 -4 0M684.4 851.6a2 2 0 1 0 4 0a2 2 0 1 0 -4 0M681.0 832.9a2 2 0 1 0 4 0a2 2 0 1 0 -4 0M689.2 815.5a2 2 0 1 0 4 0a2 2 0 1 0 -4 0M674.0 812.0a2 2 0 1 0 4 0a2 2 0 1 0 -4 0M655.7 883.2a2 2 0 1 0 4 0a2 2 0 1 0 -4 0M654.5 829.6a2 2 0 1 0 4 0a2 2 0 1 0 -4 0M675.0 856.8a2 2 0 1 0 4 0a2 2 0 1 0 -4 0M691.4 828.3a2 2 0 1 0 4 0a2 2 0 1 0 -4 0M690.4 814.8a2 2 0 1 0 4 0a2 2 0 1 0 -4 0M650.7 831.3a2 2 0 1 0 4 0a2 2 0 1 0 -4 0M684.8 802.9a2 2 0 1 0 4 0a2 2 0 1 0 -4 0M669.3 803.2a2 2 0 1 0 4 0a2 2 0 1 0 -4 0M652.7 827.0a2 2 0 1 0 4 0a2 2 0 1 0 -4 0M670.4 874.1a2 2 0 1 0 4 0a2 2 0 1 0 -4 0M676.2 833.7a2 2 0 1 0 4 0a2 2 0 1 0 -4 0M672.5 832.1a2 2 0 1 0 4 0a2 2 0 1 0 -4 0M668.2 877.9a2 2 0 1 0 4 0a2 2 0 1 0 -4 0M687.9 785.3a2 2 0 1 0 4 0a2 2 0 1 0 -4 0M666.5 881.1a2 2 0 1 0 4 0a2 2 0 1 0 -4 0M661.4 833.8a2 2 0 1 0 4 0a2 2 0 1 0 -4 0M652.7 806.7a2 2 0 1 0 4 0a2 2 0 1 0 -4 0M674.7 883.6a2 2 0 1 0 4 0a2 2 0 1 0 -4 0M677.4 864.8a2 2 0 1 0 4 0a2 2 0 1 0 -4 0M681.0 877.9a2 2 0 1 0 4 0a2 2 0 1 0 -4 0M683.4 850.7a2 2 0 1 0 4 0a2 2 0 1 0 -4 0M693.7 853.6a2 2 0 1 0 4 0a2 2 0 1 0 -4 0M675.3 820.5a2 2 0 1 0 4 0a2 2 0 1 0 -4 0M679.8 813.0a2 2 0 1 0 4 0a2 2 0 1 0 -4 0M664.3 849.4a2 2 0 1 0 4 0a2 2 0 1 0 -4 0M656.9 834.7a2 2 0 1 0 4 0a2 2 0 1 0 -4 0M676.4 836.0a2 2 0 1 0 4 0a2 2 0 1 0 -4 0M694.5 870.3a2 2 0 1 0 4 0a2 2 0 1 0 -4 0M656.6 864.1a2 2 0 1 0 4 0a2 2 0 1 0 -4 0M681.7 854.6a2 2 0 1 0 4 0a2 2 0 1 0 -4 0M657.4 822.4a2 2 0 1 0 4 0a2 2 0 1 0 -4 0M677.0 856.4a2 2 0 1 0 4 0a2 2 0 1 0 -4 0M691.6 823.3a2 2 0 1 0 4 0a2 2 0 1 0 -4 0M671.6 843.9a2 2 0 1 0 4 0a2 2 0 1 0 -4 0M680.7 832.0a2 2 0 1 0 4 0a2 2 0 1 0 -4 0M657.5 815.9a2 2 0 1 0 4 0a2 2 0 1 0 -4 0M676.5 808.7a2 2 0 1 0 4 0a2 2 0 1 0 -4 0M668.1 824.1a2 2 0 1 0 4 0a2 2 0 1 0 -4 0M686.8 829.7a2 2 0 1 0 4 0a2 2 0 1 0 -4 0M672.5 880.1a2 2 0 1 0 4 0a2 2 0 1 0 -4 0M653.1 859.5a2 2 0 1 0 4 0a2 2 0 1 0 -4 0M672.2 854.4a2 2 0 1 0 4 0a2 2 0 1 0 -4 0M663.6 885.2a2 2 0 1 0 4 0a2 2 0 1 0 -4 0M650.6 832.1a2 2 0 1 0 4 0a2 2 0 1 0 -4 0M686.7 825.7a2 2 0 1 0 4 0a2 2 0 1 0 -4 0M659.5 833.0a2 2 0 1 0 4 0a2 2 0 1 0 -4 0M670.8 893.0a2 2 0 1 0 4 0a2 2 0 1 0 -4 0M679.3 829.7a2 2 0 1 0 4 0a2 2 0 1 0 -4 0M688.0 846.1a2 2 0 1 0 4 0a2 2 0 1 0 -4 0M660.4 802.6a2 2 0 1 0 4 0a2 2 0 1 0 -4 0M694.4 866.2a2 2 0 1 0 4 0a2 2 0 1 0 -4 0M658.4 882.4a2 2 0 1 0 4 0a2 2 0 1 0 -4 0M675.9 831.7a2 2 0 1 0 4 0a2 2 0 1 0 -4 0M671.9 856.0a2 2 0 1 0 4 0a2 2 0 1 0 -4 0M685.4 819.9a2 2 0 1 0 4 0a2 2 0 1 0 -4 0M649.8 859.5a2 2 0 1 0 4 0a2 2 0 1 0 -4 0M672.2 862.3a2 2 0 1 0 4 0a2 2 0 1 0 -4 0M681.8 880.3a2 2 0 1 0 4 0a2 2 0 1 0 -4 0M687.9 859.9a2 2 0 1 0 4 0a2 2 0 1 0 -4 0M669.4 862.1a2 2 0 1 0 4 0a2 2 0 1 0 -4 0M685.2 838.0a2 2 0 1 0 4 0a2 2 0 1 0 -4 0M655.8 885.4a2 2 0 1 0 4 0a2 2 0 1 0 -4 0M660.5 876.0a2 2 0 1 0 4 0a2 2 0 1 0 -4 0M685.6 884.5a2 2 0 1 0 4 0a2 2 0 1 0 -4 0M656.3 887.4a2 2 0 1 0 4 0a2 2 0 1 0 -4 0M674.3 849.2a2 2 0 1 0 4 0a2 2 0 1 0 -4 0M692.8 849.3a2 2 0 1 0 4 0a2 2 0 1 0 -4 0M662.1 834.6a2 2 0 1 0 4 0a2 2 0 1 0 -4 0M659.3 876.4a2 2 0 1 0 4 0a2 2 0 1 0 -4 0M688.7 854.9a2 2 0 1 0 4 0a2 2 0 1 0 -4 0M667.2 814.5a2 2 0 1 0 4 0a2 2 0 1 0 -4 0M683.1 838.6a2 2 0 1 0 4 0a2 2 0 1 0 -4 0M681.0 854.5a2 2 0 1 0 4 0a2 2 0 1 0 -4 0M682.3 867.4a2 2 0 1 0 4 0a2 2 0 1 0 -4 0M660.5 828.3a2 2 0 1 0 4 0a2 2 0 1 0 -4 0M663.9 857.3a2 2 0 1 0 4 0a2 2 0 1 0 -4 0M665.9 820.4a2 2 0 1 0 4 0a2 2 0 1 0 -4 0M691.5 829.4a2 2 0 1 0 4 0a2 2 0 1 0 -4 0M688.2 805.6a2 2 0 1 0 4 0a2 2 0 1 0 -4 0M650.0 837.4a2 2 0 1 0 4 0a2 2 0 1 0 -4 0M655.2 865.7a2 2 0 1 0 4 0a2 2 0 1 0 -4 0M665.2 832.4a2 2 0 1 0 4 0a2 2 0 1 0 -4 0M675.4 849.6a2 2 0 1 0 4 0a2 2 0 1 0 -4 0M656.8 876.7a2 2 0 1 0 4 0a2 2 0 1 0 -4 0M686.4 856.8a2 2 0 1 0 4 0a2 2 0 1 0 -4 0M676.8 846.5a2 2 0 1 0 4 0a2 2 0 1 0 -4 0M687.8 812.1a2 2 0 1 0 4 0a2 2 0 1 0 -4 0M686.8 813.1a2 2 0 1 0 4 0a2 2 0 1 0 -4 0M673.2 817.4a2 2 0 1 0 4 0a2 2 0 1 0 -4 0M689.7 797.4a2 2 0 1 0 4 0a2 2 0 1 0 -4 0M652.3 820.7a2 2 0 1 0 4 0a2 2 0 1 0 -4 0M669.6 872.3a2 2 0 1 0 4 0a2 2 0 1 0 -4 0M658.8 818.4a2 2 0 1 0 4 0a2 2 0 1 0 -4 0M693.2 877.5a2 2 0 1 0 4 0a2 2 0 1 0 -4 0M674.5 841.3a2 2 0 1 0 4 0a2 2 0 1 0 -4 0M677.9 859.7a2 2 0 1 0 4 0a2 2 0 1 0 -4 0M681.0 804.7a2 2 0 1 0 4 0a2 2 0 1 0 -4 0M680.6 847.5a2 2 0 1 0 4 0a2 2 0 1 0 -4 0M691.8 836.4a2 2 0 1 0 4 0a2 2 0 1 0 -4 0M673.1 836.2a2 2 0 1 0 4 0a2 2 0 1 0 -4 0M650.3 816.9a2 2 0 1 0 4 0a2 2 0 1 0 -4 0M674.3 882.0a2 2 0 1 0 4 0a2 2 0 1 0 -4 0M653.6 864.8a2 2 0 1 0 4 0a2 2 0 1 0 -4 0M690.5 827.2a2 2 0 1 0 4 0a2 2 0 1 0 -4 0M651.4 857.2a2 2 0 1 0 4 0a2 2 0 1 0 -4 0M656.4 895.6a2 2 0 1 0 4 0a2 2 0 1 0 -4 0M657.6 789.2a2 2 0 1 0 4 0a2 2 0 1 0 -4 0M689.4 907.2a2 2 0 1 0 4 0a2 2 0 1 0 -4 0M677.5 855.2a2 2 0 1 0 4 0a2 2 0 1 0 -4 0M651.1 817.7a2 2 0 1 0 4 0a2 2 0 1 0 -4 0M692.3 843.4a2 2 0 1 0 4 0a2 2 0 1 0 -4 0M690.5 889.1a2 2 0 1 0 4 0a2 2 0 1 0 -4 0M681.5 847.6a2 2 0 1 0 4 0a2 2 0 1 0 -4 0M663.0 867.4a2 2 0 1 0 4 0a2 2 0 1 0 -4 0M675.9 857.1a2 2 0 1 0 4 0a2 2 0 1 0 -4 0M666.7 851.8a2 2 0 1 0 4 0a2 2 0 1 0 -4 0M687.9 829.7a2 2 0 1 0 4 0a2 2 0 1 0 -4 0M662.2 866.0a2 2 0 1 0 4 0a2 2 0 1 0 -4 0M687.4 886.6a2 2 0 1 0 4 0a2 2 0 1 0 -4 0M691.4 861.0a2 2 0 1 0 4 0a2 2 0 1 0 -4 0M674.5 824.5a2 2 0 1 0 4 0a2 2 0 1 0 -4 0M663.7 827.1a2 2 0 1 0 4 0a2 2 0 1 0 -4 0M688.3 862.1a2 2 0 1 0 4 0a2 2 0 1 0 -4 0M678.5 832.7a2 2 0 1 0 4 0a2 2 0 1 0 -4 0M675.4 830.8a2 2 0 1 0 4 0a2 2 0 1 0 -4 0M683.7 833.0a2 2 0 1 0 4 0a2 2 0 1 0 -4 0M666.3 865.9a2 2 0 1 0 4 0a2 2 0 1 0 -4 0M689.8 833.9a2 2 0 1 0 4 0a2 2 0 1 0 -4 0M665.7 849.5a2 2 0 1 0 4 0a2 2 0 1 0 -4 0M692.0 850.0a2 2 0 1 0 4 0a2 2 0 1 0 -4 0M671.5 832.2a2 2 0 1 0 4 0a2 2 0 1 0 -4 0M682.9 847.5a2 2 0 1 0 4 0a2 2 0 1 0 -4 0M685.2 835.4a2 2 0 1 0 4 0a2 2 0 1 0 -4 0M671.1 834.9a2 2 0 1 0 4 0a2 2 0 1 0 -4 0M678.0 856.6a2 2 0 1 0 4 0a2 2 0 1 0 -4 0M653.5 861.1a2 2 0 1 0 4 0a2 2 0 1 0 -4 0M679.8 846.1a2 2 0 1 0 4 0a2 2 0 1 0 -4 0M654.3 795.4a2 2 0 1 0 4 0a2 2 0 1 0 -4 0M664.2 816.8a2 2 0 1 0 4 0a2 2 0 1 0 -4 0M657.8 828.8a2 2 0 1 0 4 0a2 2 0 1 0 -4 0M657.0 842.2a2 2 0 1 0 4 0a2 2 0 1 0 -4 0M672.2 827.1a2 2 0 1 0 4 0a2 2 0 1 0 -4 0M650.0 853.3a2 2 0 1 0 4 0a2 2 0 1 0 -4 0M693.1 827.4a2 2 0 1 0 4 0a2 2 0 1 0 -4 0M665.2 848.5a2 2 0 1 0 4 0a2 2 0 1 0 -4 0M679.1 836.2a2 2 0 1 0 4 0a2 2 0 1 0 -4 0M649.7 869.3a2 2 0 1 0 4 0a2 2 0 1 0 -4 0M676.0 834.9a2 2 0 1 0 4 0a2 2 0 1 0 -4 0M675.1 831.8a2 2 0 1 0 4 0a2 2 0 1 0 -4 0M666.7 827.8a2 2 0 1 0 4 0a2 2 0 1 0 -4 0M690.5 878.4a2 2 0 1 0 4 0a2 2 0 1 0 -4 0M670.0 875.3a2 2 0 1 0 4 0a2 2 0 1 0 -4 0M653.1 798.4a2 2 0 1 0 4 0a2 2 0 1 0 -4 0M693.4 814.0a2 2 0 1 0 4 0a2 2 0 1 0 -4 0M681.4 843.7a2 2 0 1 0 4 0a2 2 0 1 0 -4 0M650.4 864.3a2 2 0 1 0 4 0a2 2 0 1 0 -4 0M653.4 869.3a2 2 0 1 0 4 0a2 2 0 1 0 -4 0M658.0 879.6a2 2 0 1 0 4 0a2 2 0 1 0 -4 0M664.6 850.3a2 2 0 1 0 4 0a2 2 0 1 0 -4 0M685.6 842.6a2 2 0 1 0 4 0a2 2 0 1 0 -4 0M651.1 881.0a2 2 0 1 0 4 0a2 2 0 1 0 -4 0M690.8 834.1a2 2 0 1 0 4 0a2 2 0 1 0 -4 0M656.6 894.0a2 2 0 1 0 4 0a2 2 0 1 0 -4 0M653.6 845.4a2 2 0 1 0 4 0a2 2 0 1 0 -4 0M673.4 854.2a2 2 0 1 0 4 0a2 2 0 1 0 -4 0M690.2 816.2a2 2 0 1 0 4 0a2 2 0 1 0 -4 0M687.0 827.8a2 2 0 1 0 4 0a2 2 0 1 0 -4 0M680.7 856.2a2 2 0 1 0 4 0a2 2 0 1 0 -4 0M674.6 849.8a2 2 0 1 0 4 0a2 2 0 1 0 -4 0M661.4 821.0a2 2 0 1 0 4 0a2 2 0 1 0 -4 0M681.6 810.5a2 2 0 1 0 4 0a2 2 0 1 0 -4 0M677.4 861.3a2 2 0 1 0 4 0a2 2 0 1 0 -4 0M687.8 816.0a2 2 0 1 0 4 0a2 2 0 1 0 -4 0M653.0 817.8a2 2 0 1 0 4 0a2 2 0 1 0 -4 0M655.9 826.9a2 2 0 1 0 4 0a2 2 0 1 0 -4 0M661.8 870.0a2 2 0 1 0 4 0a2 2 0 1 0 -4 0M667.9 868.2a2 2 0 1 0 4 0a2 2 0 1 0 -4 0M679.6 832.7a2 2 0 1 0 4 0a2 2 0 1 0 -4 0M685.3 816.8a2 2 0 1 0 4 0a2 2 0 1 0 -4 0M686.5 867.4a2 2 0 1 0 4 0a2 2 0 1 0 -4 0M682.2 829.8a2 2 0 1 0 4 0a2 2 0 1 0 -4 0M682.6 885.3a2 2 0 1 0 4 0a2 2 0 1 0 -4 0M653.0 835.5a2 2 0 1 0 4 0a2 2 0 1 0 -4 0M660.6 878.0a2 2 0 1 0 4 0a2 2 0 1 0 -4 0M649.9 833.2a2 2 0 1 0 4 0a2 2 0 1 0 -4 0M673.8 826.0a2 2 0 1 0 4 0a2 2 0 1 0 -4 0M654.0 823.1a2 2 0 1 0 4 0a2 2 0 1 0 -4 0M658.7 807.1a2 2 0 1 0 4 0a2 2 0 1 0 -4 0M685.4 822.3a2 2 0 1 0 4 0a2 2 0 1 0 -4 0M686.6 808.9a2 2 0 1 0 4 0a2 2 0 1 0 -4 0M681.2 874.3a2 2 0 1 0 4 0a2 2 0 1 0 -4 0M651.8 853.2a2 2 0 1 0 4 0a2 2 0 1 0 -4 0M681.2 837.4a2 2 0 1 0 4 0a2 2 0 1 0 -4 0M653.9 848.8a2 2 0 1 0 4 0a2 2 0 1 0 -4 0M666.9 904.6a2 2 0 1 0 4 0a2 2 0 1 0 -4 0M679.4 863.5a2 2 0 1 0 4 0a2 2 0 1 0 -4 0M681.8 892.8a2 2 0 1 0 4 0a2 2 0 1 0 -4 0M681.9 789.8a2 2 0 1 0 4 0a2 2 0 1 0 -4 0M692.5 840.7a2 2 0 1 0 4 0a2 2 0 1 0 -4 0M654.3 882.9a2 2 0 1 0 4 0a2 2 0 1 0 -4 0M663.1 861.5a2 2 0 1 0 4 0a2 2 0 1 0 -4 0M689.7 865.2a2 2 0 1 0 4 0a2 2 0 1 0 -4 0M686.9 875.8a2 2 0 1 0 4 0a2 2 0 1 0 -4 0M685.0 814.0a2 2 0 1 0 4 0a2 2 0 1 0 -4 0M668.7 863.6a2 2 0 1 0 4 0a2 2 0 1 0 -4 0M653.5 853.8a2 2 0 1 0 4 0a2 2 0 1 0 -4 0M661.2 826.2a2 2 0 1 0 4 0a2 2 0 1 0 -4 0M657.6 834.3a2 2 0 1 0 4 0a2 2 0 1 0 -4 0M676.1 777.6a2 2 0 1 0 4 0a2 2 0 1 0 -4 0M654.3 855.4a2 2 0 1 0 4 0a2 2 0 1 0 -4 0M683.0 827.5a2 2 0 1 0 4 0a2 2 0 1 0 -4 0M658.4 834.9a2 2 0 1 0 4 0a2 2 0 1 0 -4 0M680.9 828.7a2 2 0 1 0 4 0a2 2 0 1 0 -4 0M661.2 838.8a2 2 0 1 0 4 0a2 2 0 1 0 -4 0M676.2 835.2a2 2 0 1 0 4 0a2 2 0 1 0 -4 0M665.5 848.1a2 2 0 1 0 4 0a2 2 0 1 0 -4 0M650.8 873.9a2 2 0 1 0 4 0a2 2 0 1 0 -4 0M691.5 808.1a2 2 0 1 0 4 0a2 2 0 1 0 -4 0M678.9 825.6a2 2 0 1 0 4 0a2 2 0 1 0 -4 0M677.5 905.1a2 2 0 1 0 4 0a2 2 0 1 0 -4 0M667.7 837.8a2 2 0 1 0 4 0a2 2 0 1 0 -4 0M693.7 856.8a2 2 0 1 0 4 0a2 2 0 1 0 -4 0M673.5 842.3a2 2 0 1 0 4 0a2 2 0 1 0 -4 0M688.9 841.7a2 2 0 1 0 4 0a2 2 0 1 0 -4 0M660.8 853.7a2 2 0 1 0 4 0a2 2 0 1 0 -4 0M667.9 841.6a2 2 0 1 0 4 0a2 2 0 1 0 -4 0M676.3 846.7a2 2 0 1 0 4 0a2 2 0 1 0 -4 0M664.6 846.1a2 2 0 1 0 4 0a2 2 0 1 0 -4 0M682.8 815.5a2 2 0 1 0 4 0a2 2 0 1 0 -4 0M692.0 897.5a2 2 0 1 0 4 0a2 2 0 1 0 -4 0M649.6 855.3a2 2 0 1 0 4 0a2 2 0 1 0 -4 0M653.1 817.3a2 2 0 1 0 4 0a2 2 0 1 0 -4 0M686.6 868.0a2 2 0 1 0 4 0a2 2 0 1 0 -4 0M691.0 839.4a2 2 0 1 0 4 0a2 2 0 1 0 -4 0M686.4 877.0a2 2 0 1 0 4 0a2 2 0 1 0 -4 0M679.7 826.2a2 2 0 1 0 4 0a2 2 0 1 0 -4 0M678.1 892.4a2 2 0 1 0 4 0a2 2 0 1 0 -4 0M674.3 853.9a2 2 0 1 0 4 0a2 2 0 1 0 -4 0M681.5 852.1a2 2 0 1 0 4 0a2 2 0 1 0 -4 0M655.3 846.7a2 2 0 1 0 4 0a2 2 0 1 0 -4 0M658.7 889.9a2 2 0 1 0 4 0a2 2 0 1 0 -4 0M659.4 855.5a2 2 0 1 0 4 0a2 2 0 1 0 -4 0M677.8 841.8a2 2 0 1 0 4 0a2 2 0 1 0 -4 0M665.9 851.7a2 2 0 1 0 4 0a2 2 0 1 0 -4 0M671.6 822.9a2 2 0 1 0 4 0a2 2 0 1 0 -4 0M675.8 820.6a2 2 0 1 0 4 0a2 2 0 1 0 -4 0M692.5 826.9a2 2 0 1 0 4 0a2 2 0 1 0 -4 0M688.6 837.5a2 2 0 1 0 4 0a2 2 0 1 0 -4 0M679.2 873.2a2 2 0 1 0 4 0a2 2 0 1 0 -4 0M658.3 848.0a2 2 0 1 0 4 0a2 2 0 1 0 -4 0M654.2 815.2a2 2 0 1 0 4 0a2 2 0 1 0 -4 0M668.3 846.5a2 2 0 1 0 4 0a2 2 0 1 0 -4 0M654.9 807.7a2 2 0 1 0 4 0a2 2 0 1 0 -4 0M681.2 805.0a2 2 0 1 0 4 0a2 2 0 1 0 -4 0M663.1 827.3a2 2 0 1 0 4 0a2 2 0 1 0 -4 0M677.9 844.4a2 2 0 1 0 4 0a2 2 0 1 0 -4 0M663.2 867.6a2 2 0 1 0 4 0a2 2 0 1 0 -4 0M669.0 843.7a2 2 0 1 0 4 0a2 2 0 1 0 -4 0M689.5 847.6a2 2 0 1 0 4 0a2 2 0 1 0 -4 0M655.2 843.5a2 2 0 1 0 4 0a2 2 0 1 0 -4 0M691.3 854.1a2 2 0 1 0 4 0a2 2 0 1 0 -4 0M689.2 823.2a2 2 0 1 0 4 0a2 2 0 1 0 -4 0M683.9 846.8a2 2 0 1 0 4 0a2 2 0 1 0 -4 0M652.4 832.2a2 2 0 1 0 4 0a2 2 0 1 0 -4 0M682.5 853.9a2 2 0 1 0 4 0a2 2 0 1 0 -4 0M667.4 878.5a2 2 0 1 0 4 0a2 2 0 1 0 -4 0M651.8 821.2a2 2 0 1 0 4 0a2 2 0 1 0 -4 0M689.1 847.5a2 2 0 1 0 4 0a2 2 0 1 0 -4 0M667.5 857.3a2 2 0 1 0 4 0a2 2 0 1 0 -4 0M673.6 828.9a2 2 0 1 0 4 0a2 2 0 1 0 -4 0M677.1 811.7a2 2 0 1 0 4 0a2 2 0 1 0 -4 0M653.8 842.1a2 2 0 1 0 4 0a2 2 0 1 0 -4 0M677.8 860.6a2 2 0 1 0 4 0a2 2 0 1 0 -4 0M693.6 801.3a2 2 0 1 0 4 0a2 2 0 1 0 -4 0M694.1 837.4a2 2 0 1 0 4 0a2 2 0 1 0 -4 0M660.6 841.6a2 2 0 1 0 4 0a2 2 0 1 0 -4 0M663.3 843.0a2 2 0 1 0 4 0a2 2 0 1 0 -4 0M660.1 864.0a2 2 0 1 0 4 0a2 2 0 1 0 -4 0M655.9 832.0a2 2 0 1 0 4 0a2 2 0 1 0 -4 0M692.2 861.7a2 2 0 1 0 4 0a2 2 0 1 0 -4 0M668.7 837.6a2 2 0 1 0 4 0a2 2 0 1 0 -4 0M685.4 860.6a2 2 0 1 0 4 0a2 2 0 1 0 -4 0M661.4 822.2a2 2 0 1 0 4 0a2 2 0 1 0 -4 0M686.4 842.9a2 2 0 1 0 4 0a2 2 0 1 0 -4 0M687.9 872.7a2 2 0 1 0 4 0a2 2 0 1 0 -4 0M683.5 870.2a2 2 0 1 0 4 0a2 2 0 1 0 -4 0M692.1 880.1a2 2 0 1 0 4 0a2 2 0 1 0 -4 0M688.8 886.4a2 2 0 1 0 4 0a2 2 0 1 0 -4 0M666.8 836.0a2 2 0 1 0 4 0a2 2 0 1 0 -4 0M686.4 827.4a2 2 0 1 0 4 0a2 2 0 1 0 -4 0M662.7 836.2a2 2 0 1 0 4 0a2 2 0 1 0 -4 0M681.5 847.8a2 2 0 1 0 4 0a2 2 0 1 0 -4 0M685.7 809.0a2 2 0 1 0 4 0a2 2 0 1 0 -4 0M684.0 846.1a2 2 0 1 0 4 0a2 2 0 1 0 -4 0M661.9 865.0a2 2 0 1 0 4 0a2 2 0 1 0 -4 0M669.7 883.6a2 2 0 1 0 4 0a2 2 0 1 0 -4 0M687.9 811.3a2 2 0 1 0 4 0a2 2 0 1 0 -4 0M660.8 850.3a2 2 0 1 0 4 0a2 2 0 1 0 -4 0M652.7 841.4a2 2 0 1 0 4 0a2 2 0 1 0 -4 0M651.6 826.5a2 2 0 1 0 4 0a2 2 0 1 0 -4 0M675.0 851.2a2 2 0 1 0 4 0a2 2 0 1 0 -4 0M653.1 835.0a2 2 0 1 0 4 0a2 2 0 1 0 -4 0M683.2 859.3a2 2 0 1 0 4 0a2 2 0 1 0 -4 0M655.5 845.0a2 2 0 1 0 4 0a2 2 0 1 0 -4 0M676.8 855.3a2 2 0 1 0 4 0a2 2 0 1 0 -4 0M677.1 824.5a2 2 0 1 0 4 0a2 2 0 1 0 -4 0M661.6 843.4a2 2 0 1 0 4 0a2 2 0 1 0 -4 0M673.5 834.9a2 2 0 1 0 4 0a2 2 0 1 0 -4 0M652.1 805.4a2 2 0 1 0 4 0a2 2 0 1 0 -4 0M659.4 807.2a2 2 0 1 0 4 0a2 2 0 1 0 -4 0M684.7 847.0a2 2 0 1 0 4 0a2 2 0 1 0 -4 0M690.8 864.5a2 2 0 1 0 4 0a2 2 0 1 0 -4 0M660.9 853.1a2 2 0 1 0 4 0a2 2 0 1 0 -4 0M681.4 865.3a2 2 0 1 0 4 0a2 2 0 1 0 -4 0M679.2 901.0a2 2 0 1 0 4 0a2 2 0 1 0 -4 0M651.5 837.2a2 2 0 1 0 4 0a2 2 0 1 0 -4 0M658.5 839.7a2 2 0 1 0 4 0a2 2 0 1 0 -4 0M657.6 821.9a2 2 0 1 0 4 0a2 2 0 1 0 -4 0M681.0 891.7a2 2 0 1 0 4 0a2 2 0 1 0 -4 0M689.5 835.4a2 2 0 1 0 4 0a2 2 0 1 0 -4 0M677.2 864.7a2 2 0 1 0 4 0a2 2 0 1 0 -4 0M649.9 875.1a2 2 0 1 0 4 0a2 2 0 1 0 -4 0M658.1 876.0a2 2 0 1 0 4 0a2 2 0 1 0 -4 0M691.2 842.9a2 2 0 1 0 4 0a2 2 0 1 0 -4 0M659.6 837.6a2 2 0 1 0 4 0a2 2 0 1 0 -4 0M682.6 844.2a2 2 0 1 0 4 0a2 2 0 1 0 -4 0M658.2 876.2a2 2 0 1 0 4 0a2 2 0 1 0 -4 0M688.1 834.8a2 2 0 1 0 4 0a2 2 0 1 0 -4 0M672.9 843.7a2 2 0 1 0 4 0a2 2 0 1 0 -4 0M691.4 804.7a2 2 0 1 0 4 0a2 2 0 1 0 -4 0M677.3 856.9a2 2 0 1 0 4 0a2 2 0 1 0 -4 0M666.6 819.6a2 2 0 1 0 4 0a2 2 0 1 0 -4 0M694.1 851.2a2 2 0 1 0 4 0a2 2 0 1 0 -4 0M662.2 841.4a2 2 0 1 0 4 0a2 2 0 1 0 -4 0M664.4 850.1a2 2 0 1 0 4 0a2 2 0 1 0 -4 0M654.1 860.6a2 2 0 1 0 4 0a2 2 0 1 0 -4 0M684.2 815.6a2 2 0 1 0 4 0a2 2 0 1 0 -4 0M677.9 820.3a2 2 0 1 0 4 0a2 2 0 1 0 -4 0M674.9 843.6a2 2 0 1 0 4 0a2 2 0 1 0 -4 0M672.1 885.8a2 2 0 1 0 4 0a2 2 0 1 0 -4 0M692.2 862.1a2 2 0 1 0 4 0a2 2 0 1 0 -4 0M679.1 860.2a2 2 0 1 0 4 0a2 2 0 1 0 -4 0M660.6 892.0a2 2 0 1 0 4 0a2 2 0 1 0 -4 0M688.0 818.3a2 2 0 1 0 4 0a2 2 0 1 0 -4 0M673.5 854.1a2 2 0 1 0 4 0a2 2 0 1 0 -4 0M652.9 898.2a2 2 0 1 0 4 0a2 2 0 1 0 -4 0M671.9 817.9a2 2 0 1 0 4 0a2 2 0 1 0 -4 0M668.5 792.8a2 2 0 1 0 4 0a2 2 0 1 0 -4 0M693.0 829.5a2 2 0 1 0 4 0a2 2 0 1 0 -4 0M662.8 864.4a2 2 0 1 0 4 0a2 2 0 1 0 -4 0M666.9 846.4a2 2 0 1 0 4 0a2 2 0 1 0 -4 0M661.6 828.1a2 2 0 1 0 4 0a2 2 0 1 0 -4 0M667.1 850.0a2 2 0 1 0 4 0a2 2 0 1 0 -4 0M655.4 875.1a2 2 0 1 0 4 0a2 2 0 1 0 -4 0M664.3 819.1a2 2 0 1 0 4 0a2 2 0 1 0 -4 0M691.0 856.9a2 2 0 1 0 4 0a2 2 0 1 0 -4 0M657.8 860.4a2 2 0 1 0 4 0a2 2 0 1 0 -4 0M649.6 842.2a2 2 0 1 0 4 0a2 2 0 1 0 -4 0M694.1 828.3a2 2 0 1 0 4 0a2 2 0 1 0 -4 0M660.3 846.6a2 2 0 1 0 4 0a2 2 0 1 0 -4 0M662.8 860.7a2 2 0 1 0 4 0a2 2 0 1 0 -4 0M660.6 806.0a2 2 0 1 0 4 0a2 2 0 1 0 -4 0M684.8 844.4a2 2 0 1 0 4 0a2 2 0 1 0 -4 0M688.3 855.4a2 2 0 1 0 4 0a2 2 0 1 0 -4 0M669.1 819.4a2 2 0 1 0 4 0a2 2 0 1 0 -4 0M653.0 855.0a2 2 0 1 0 4 0a2 2 0 1 0 -4 0M687.6 869.8a2 2 0 1 0 4 0a2 2 0 1 0 -4 0M677.8 850.7a2 2 0 1 0 4 0a2 2 0 1 0 -4 0M663.9 883.3a2 2 0 1 0 4 0a2 2 0 1 0 -4 0M661.1 799.9a2 2 0 1 0 4 0a2 2 0 1 0 -4 0M656.1 828.9a2 2 0 1 0 4 0a2 2 0 1 0 -4 0M687.8 811.8a2 2 0 1 0 4 0a2 2 0 1 0 -4 0M688.4 879.9a2 2 0 1 0 4 0a2 2 0 1 0 -4 0M693.8 847.7a2 2 0 1 0 4 0a2 2 0 1 0 -4 0M657.5 842.1a2 2 0 1 0 4 0a2 2 0 1 0 -4 0M686.9 854.8a2 2 0 1 0 4 0a2 2 0 1 0 -4 0M653.3 835.7a2 2 0 1 0 4 0a2 2 0 1 0 -4 0M683.1 846.9a2 2 0 1 0 4 0a2 2 0 1 0 -4 0M692.1 825.0a2 2 0 1 0 4 0a2 2 0 1 0 -4 0M661.1 864.5a2 2 0 1 0 4 0a2 2 0 1 0 -4 0M689.8 856.4a2 2 0 1 0 4 0a2 2 0 1 0 -4 0M663.3 833.6a2 2 0 1 0 4 0a2 2 0 1 0 -4 0M686.5 874.0a2 2 0 1 0 4 0a2 2 0 1 0 -4 0M673.4 830.5a2 2 0 1 0 4 0a2 2 0 1 0 -4 0M689.3 832.1a2 2 0 1 0 4 0a2 2 0 1 0 -4 0M694.5 856.7a2 2 0 1 0 4 0a2 2 0 1 0 -4 0M652.8 794.2a2 2 0 1 0 4 0a2 2 0 1 0 -4 0M661.0 856.1a2 2 0 1 0 4 0a2 2 0 1 0 -4 0M685.9 857.8a2 2 0 1 0 4 0a2 2 0 1 0 -4 0M666.8 831.2a2 2 0 1 0 4 0a2 2 0 1 0 -4 0M670.3 847.4a2 2 0 1 0 4 0a2 2 0 1 0 -4 0M650.1 781.8a2 2 0 1 0 4 0a2 2 0 1 0 -4 0M688.2 898.8a2 2 0 1 0 4 0a2 2 0 1 0 -4 0M672.3 842.1a2 2 0 1 0 4 0a2 2 0 1 0 -4 0M659.2 844.7a2 2 0 1 0 4 0a2 2 0 1 0 -4 0M681.2 875.2a2 2 0 1 0 4 0a2 2 0 1 0 -4 0M656.5 832.2a2 2 0 1 0 4 0a2 2 0 1 0 -4 0M674.4 829.1a2 2 0 1 0 4 0a2 2 0 1 0 -4 0M675.6 848.9a2 2 0 1 0 4 0a2 2 0 1 0 -4 0M666.1 868.3a2 2 0 1 0 4 0a2 2 0 1 0 -4 0M664.2 814.2a2 2 0 1 0 4 0a2 2 0 1 0 -4 0M684.9 769.5a2 2 0 1 0 4 0a2 2 0 1 0 -4 0M690.9 897.0a2 2 0 1 0 4 0a2 2 0 1 0 -4 0M650.3 805.9a2 2 0 1 0 4 0a2 2 0 1 0 -4 0M668.8 844.9a2 2 0 1 0 4 0a2 2 0 1 0 -4 0M654.2 847.8a2 2 0 1 0 4 0a2 2 0 1 0 -4 0M678.1 853.2a2 2 0 1 0 4 0a2 2 0 1 0 -4 0M664.0 825.2a2 2 0 1 0 4 0a2 2 0 1 0 -4 0M682.2 832.2a2 2 0 1 0 4 0a2 2 0 1 0 -4 0M673.2 862.9a2 2 0 1 0 4 0a2 2 0 1 0 -4 0M665.6 855.4a2 2 0 1 0 4 0a2 2 0 1 0 -4 0M694.3 829.9a2 2 0 1 0 4 0a2 2 0 1 0 -4 0M664.0 798.6a2 2 0 1 0 4 0a2 2 0 1 0 -4 0M659.4 798.9a2 2 0 1 0 4 0a2 2 0 1 0 -4 0M682.5 805.0a2 2 0 1 0 4 0a2 2 0 1 0 -4 0M663.3 869.5a2 2 0 1 0 4 0a2 2 0 1 0 -4 0M681.2 870.1a2 2 0 1 0 4 0a2 2 0 1 0 -4 0M670.2 816.0a2 2 0 1 0 4 0a2 2 0 1 0 -4 0M683.6 829.7a2 2 0 1 0 4 0a2 2 0 1 0 -4 0M694.4 827.1a2 2 0 1 0 4 0a2 2 0 1 0 -4 0M654.0 835.1a2 2 0 1 0 4 0a2 2 0 1 0 -4 0M681.8 836.8a2 2 0 1 0 4 0a2 2 0 1 0 -4 0M658.9 871.6a2 2 0 1 0 4 0a2 2 0 1 0 -4 0M660.6 847.7a2 2 0 1 0 4 0a2 2 0 1 0 -4 0M651.3 845.2a2 2 0 1 0 4 0a2 2 0 1 0 -4 0M649.9 836.7a2 2 0 1 0 4 0a2 2 0 1 0 -4 0M651.2 843.1a2 2 0 1 0 4 0a2 2 0 1 0 -4 0M654.4 812.5a2 2 0 1 0 4 0a2 2 0 1 0 -4 0M691.1 916.7a2 2 0 1 0 4 0a2 2 0 1 0 -4 0M673.6 915.4a2 2 0 1 0 4 0a2 2 0 1 0 -4 0M680.5 885.8a2 2 0 1 0 4 0a2 2 0 1 0 -4 0M691.9 795.5a2 2 0 1 0 4 0a2 2 0 1 0 -4 0M657.7 883.2a2 2 0 1 0 4 0a2 2 0 1 0 -4 0M691.2 770.0a2 2 0 1 0 4 0a2 2 0 1 0 -4 0M672.8 767.6a2 2 0 1 0 4 0a2 2 0 1 0 -4 0M653.4 900.0a2 2 0 1 0 4 0a2 2 0 1 0 -4 0M678.3 887.6a2 2 0 1 0 4 0a2 2 0 1 0 -4 0M689.8 800.3a2 2 0 1 0 4 0a2 2 0 1 0 -4 0M668.7 792.1a2 2 0 1 0 4 0a2 2 0 1 0 -4 0M673.5 860.5a2 2 0 1 0 4 0a2 2 0 1 0 -4 0M680.5 782.8a2 2 0 1 0 4 0a2 2 0 1 0 -4 0M683.4 911.4a2 2 0 1 0 4 0a2 2 0 1 0 -4 0M673.5 763.1a2 2 0 1 0 4 0a2 2 0 1 0 -4 0M689.6 828.4a2 2 0 1 0 4 0a2 2 0 1 0 -4 0M673.6 899.4a2 2 0 1 0 4 0a2 2 0 1 0 -4 0M691.6 857.1a2 2 0 1 0 4 0a2 2 0 1 0 -4 0M652.6 826.7a2 2 0 1 0 4 0a2 2 0 1 0 -4 0M668.6 908.9a2 2 0 1 0 4 0a2 2 0 1 0 -4 0M668.2 884.5a2 2 0 1 0 4 0a2 2 0 1 0 -4 0M672.1 810.3a2 2 0 1 0 4 0a2 2 0 1 0 -4 0M694.2 774.9a2 2 0 1 0 4 0a2 2 0 1 0 -4 0M670.9 767.7a2 2 0 1 0 4 0a2 2 0 1 0 -4 0M690.8 892.5a2 2 0 1 0 4 0a2 2 0 1 0 -4 0M673.5 851.6a2 2 0 1 0 4 0a2 2 0 1 0 -4 0M692.1 835.0a2 2 0 1 0 4 0a2 2 0 1 0 -4 0M690.1 776.9a2 2 0 1 0 4 0a2 2 0 1 0 -4 0M673.7 866.0a2 2 0 1 0 4 0a2 2 0 1 0 -4 0M660.8 917.6a2 2 0 1 0 4 0a2 2 0 1 0 -4 0M662.0 901.6a2 2 0 1 0 4 0a2 2 0 1 0 -4 0M678.1 811.6a2 2 0 1 0 4 0a2 2 0 1 0 -4 0M657.6 846.1a2 2 0 1 0 4 0a2 2 0 1 0 -4 0M672.7 898.3a2 2 0 1 0 4 0a2 2 0 1 0 -4 0M661.9 835.5a2 2 0 1 0 4 0a2 2 0 1 0 -4 0M688.1 882.3a2 2 0 1 0 4 0a2 2 0 1 0 -4 0M687.5 887.1a2 2 0 1 0 4 0a2 2 0 1 0 -4 0M688.5 796.4a2 2 0 1 0 4 0a2 2 0 1 0 -4 0M663.8 916.1a2 2 0 1 0 4 0a2 2 0 1 0 -4 0M690.1 833.5a2 2 0 1 0 4 0a2 2 0 1 0 -4 0M668.0 774.1a2 2 0 1 0 4 0a2 2 0 1 0 -4 0M653.0 859.4a2 2 0 1 0 4 0a2 2 0 1 0 -4 0M691.3 762.5a2 2 0 1 0 4 0a2 2 0 1 0 -4 0M688.0 774.9a2 2 0 1 0 4 0a2 2 0 1 0 -4 0" fill="#f5b040" fill-opacity="0.3" stroke="#f2a02a" stroke-opacity="0.75" stroke-width="1.1"/>
<g opacity='0.55'>
<rect x="539.4" y="783.2" width="54" height="24.6" fill="none" stroke="#000" stroke-width="1.7"/>
<line x1="566.4" y1="783.2" x2="566.4" y2="756.8" stroke="#000" stroke-width="1.7"/>
<line x1="566.4" y1="807.8" x2="566.4" y2="840.5" stroke="#000" stroke-width="1.7"/>
<line x1="552.9" y1="756.8" x2="579.9" y2="756.8" stroke="#000" stroke-width="1.7"/>
<line x1="552.9" y1="840.5" x2="579.9" y2="840.5" stroke="#000" stroke-width="1.7"/>
<line x1="539.4" y1="795.5" x2="593.4" y2="795.5" stroke="#f08a24" stroke-width="1.2"/>
<path d="M566.4 793.1L570.0 799.4L562.8 799.4Z" fill="#2ca02c"/>
<rect x="647.0" y="831.8" width="54" height="29.3" fill="none" stroke="#000" stroke-width="1.7"/>
<line x1="674.0" y1="831.8" x2="674.0" y2="787.9" stroke="#000" stroke-width="1.7"/>
<line x1="674.0" y1="861.0" x2="674.0" y2="904.9" stroke="#000" stroke-width="1.7"/>
<line x1="660.5" y1="787.9" x2="687.5" y2="787.9" stroke="#000" stroke-width="1.7"/>
<line x1="660.5" y1="904.9" x2="687.5" y2="904.9" stroke="#000" stroke-width="1.7"/>
<line x1="647.0" y1="844.0" x2="701.0" y2="844.0" stroke="#f08a24" stroke-width="1.2"/>
<path d="M674.0 844.1L677.6 850.4L670.4 850.4Z" fill="#2ca02c"/>
</g>
<rect x="459.5" y="714.7" width="322.20000000000005" height="234.0999999999999" fill="none" stroke="#000" stroke-width="2.4"/>
<line x1="453.5" y1="948.8" x2="459.5" y2="948.8" stroke="#000" stroke-width="2"/>
<text x="450.0" y="956.0" font-size="21" text-anchor="end">0.60</text>
<line x1="453.5" y1="919.5" x2="459.5" y2="919.5" stroke="#000" stroke-width="2"/>
<line x1="453.5" y1="890.3" x2="459.5" y2="890.3" stroke="#000" stroke-width="2"/>
<text x="450.0" y="897.5" font-size="21" text-anchor="end">0.70</text>
<line x1="453.5" y1="861.0" x2="459.5" y2="861.0" stroke="#000" stroke-width="2"/>
<line x1="453.5" y1="831.8" x2="459.5" y2="831.8" stroke="#000" stroke-width="2"/>
<text x="450.0" y="839.0" font-size="21" text-anchor="end">0.80</text>
<line x1="453.5" y1="802.5" x2="459.5" y2="802.5" stroke="#000" stroke-width="2"/>
<line x1="453.5" y1="773.2" x2="459.5" y2="773.2" stroke="#000" stroke-width="2"/>
<text x="450.0" y="780.4" font-size="21" text-anchor="end">0.90</text>
<line x1="453.5" y1="744.0" x2="459.5" y2="744.0" stroke="#000" stroke-width="2"/>
<line x1="453.5" y1="714.7" x2="459.5" y2="714.7" stroke="#000" stroke-width="2"/>
<text x="450.0" y="721.9" font-size="21" text-anchor="end">1.00</text>
<line x1="566.4" y1="948.8" x2="566.4" y2="954.8" stroke="#000" stroke-width="2"/>
<text x="567.4" y="976.4" font-size="20.8" text-anchor="middle">AUC</text>
<line x1="674.1" y1="948.8" x2="674.1" y2="954.8" stroke="#000" stroke-width="2"/>
<text x="678.6" y="976.4" font-size="21.3" text-anchor="middle">accuracy</text>
</svg></body></html>
